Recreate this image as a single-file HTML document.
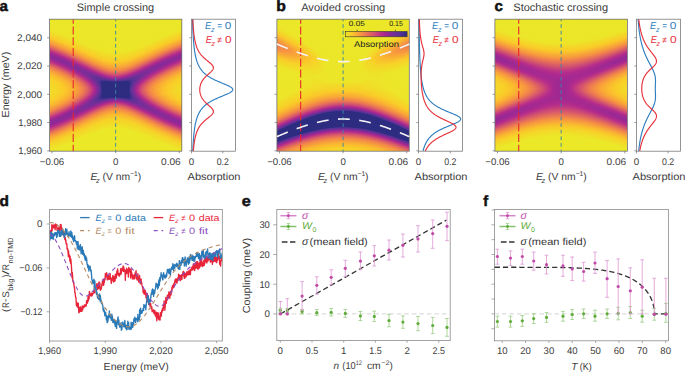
<!DOCTYPE html>
<html><head><meta charset="utf-8"><style>
html,body{margin:0;padding:0;background:#fff}
body{width:685px;height:372px;overflow:hidden;position:relative;font-family:"Liberation Sans",sans-serif}
.hm{position:absolute;display:flex}
.hm i{display:block;width:1px;height:100%;flex:none}
svg{position:absolute;left:0;top:0}
svg text{font-family:"Liberation Sans",sans-serif;text-rendering:geometricPrecision}
</style></head><body>
<div class="hm" style="left:50px;top:19px;width:132px;height:132px"><i style="background:linear-gradient(#ebe828 0.0px,#ece528 11.0px,#facc28 18.5px,#f9a339 23.5px,#ed7a52 27.0px,#c33c7f 31.5px,#b12a8d 33.0px,#922896 35.5px,#8a2a96 37.5px,#932895 39.5px,#b42a8c 42.0px,#e56d5b 47.0px,#f59044 50.0px,#faba2f 55.0px,#f7d128 60.0px,#f1dd28 70.0px,#f6d428 80.0px,#fac22c 85.0px,#f7983f 90.5px,#eb7754 93.5px,#c23b80 98.0px,#b02a8d 99.5px,#912896 102.0px,#8a2a96 104.0px,#942895 106.0px,#b52b8c 108.5px,#e77059 113.5px,#f59044 116.0px,#fabc2e 120.5px,#f6d428 124.5px,#ebe828 132.0px)"></i><i style="background:linear-gradient(#ebe828 0.0px,#ede528 11.5px,#facc28 19.0px,#f89c3d 24.5px,#ec7953 27.5px,#c23a81 32.0px,#af2a8d 33.5px,#912896 36.0px,#8a2a96 38.0px,#942895 40.0px,#b52b8b 42.5px,#e2685f 47.0px,#f48c46 50.0px,#fab730 55.0px,#f8d028 60.0px,#f1dc28 69.5px,#f6d428 79.5px,#fac22c 84.5px,#f7993f 90.0px,#eb7853 93.0px,#c33c7f 97.5px,#b22a8d 99.0px,#922896 101.5px,#8a2a96 103.5px,#922896 105.5px,#b32a8c 108.0px,#e2675f 112.5px,#f48e45 115.5px,#fabb2f 120.0px,#f6d328 124.0px,#ebe828 132.0px)"></i><i style="background:linear-gradient(#ebe828 0.0px,#ede528 12.0px,#facb28 19.5px,#f79b3d 25.0px,#eb7754 28.0px,#c03982 32.5px,#b52b8b 33.5px,#942895 36.0px,#8a2a96 38.0px,#912896 40.0px,#b62c8a 43.0px,#e3695e 47.5px,#f48d46 50.5px,#fab830 55.5px,#f8cf28 60.5px,#f2db28 70.0px,#f7d228 79.5px,#fac02d 84.5px,#f69541 90.0px,#e87357 93.0px,#bf3783 97.5px,#b32a8c 98.5px,#932895 101.0px,#8a2a96 103.0px,#912896 105.0px,#b12a8d 107.5px,#e16660 112.0px,#f48d46 115.0px,#faba2f 119.5px,#f6d328 123.5px,#ebe828 131.5px,#ebe828 132.0px)"></i><i style="background:linear-gradient(#ebe828 0.0px,#ede428 12.5px,#faca29 20.0px,#f79a3e 25.5px,#ea7655 28.5px,#bf3783 33.0px,#b32a8c 34.0px,#932896 36.5px,#892a96 38.5px,#912896 40.5px,#b72e8a 43.5px,#e36a5d 48.0px,#f48d45 51.0px,#fab830 56.0px,#f8cf28 61.0px,#f2da28 70.5px,#f8d028 80.0px,#faba2f 85.0px,#f59044 90.0px,#e2675f 93.5px,#b52b8c 98.0px,#902896 101.0px,#8a2a96 103.0px,#952895 105.0px,#b62c8a 107.5px,#e46b5c 112.0px,#f59143 115.0px,#fabd2e 119.5px,#f6d428 123.5px,#ebe828 131.0px,#ebe828 132.0px)"></i><i style="background:linear-gradient(#ebe828 0.0px,#ece528 12.5px,#facc28 20.0px,#f9a339 25.0px,#ed7b51 28.5px,#c33d7f 33.0px,#b12a8d 34.5px,#912896 37.0px,#892a96 39.0px,#922896 41.0px,#b22a8d 43.5px,#e06461 48.0px,#f48e45 51.5px,#fab830 56.5px,#f8cf28 61.5px,#f3d928 71.0px,#f9ce28 80.0px,#fab332 85.5px,#f3864a 90.5px,#d14e73 95.0px,#b52c8b 97.5px,#902896 100.5px,#892a96 102.5px,#942895 104.5px,#b52b8b 107.0px,#e36a5d 111.5px,#f59044 114.5px,#fabc2e 119.0px,#f6d428 123.0px,#ebe828 130.5px,#ebe828 132.0px)"></i><i style="background:linear-gradient(#ebe828 0.0px,#ede528 13.0px,#facc28 20.5px,#f89d3c 26.0px,#ec7952 29.0px,#c23b80 33.5px,#b02a8d 35.0px,#902896 37.5px,#892a96 39.5px,#932896 41.5px,#b32a8c 44.0px,#e16560 48.5px,#f38948 51.5px,#fab531 56.5px,#f9cf28 62.0px,#f4d828 71.0px,#facd28 80.0px,#fab033 85.5px,#f1814d 90.5px,#cd4877 95.0px,#b02a8d 97.5px,#912896 100.0px,#892a96 102.0px,#922896 104.0px,#b32a8c 106.5px,#e2685e 111.0px,#f58f45 114.0px,#fabb2f 118.5px,#f6d328 122.5px,#ebe828 130.5px,#ebe828 132.0px)"></i><i style="background:linear-gradient(#ebe828 0.0px,#ede528 13.5px,#facb28 21.0px,#f89c3d 26.5px,#eb7853 29.5px,#c13a81 34.0px,#b52c8b 35.0px,#902896 38.0px,#892a96 40.0px,#932895 42.0px,#b42a8c 44.5px,#e1665f 49.0px,#f58f44 52.5px,#fab830 57.5px,#f8cf28 63.0px,#f4d728 72.0px,#facb29 80.0px,#faac35 85.5px,#ee7c50 90.5px,#c8427b 95.0px,#b12a8d 97.0px,#912896 99.5px,#892a96 101.5px,#912896 103.5px,#b22a8d 106.0px,#e1675f 110.5px,#f48d45 113.5px,#faba2f 118.0px,#f6d328 122.0px,#ebe828 130.0px,#ebe828 132.0px)"></i><i style="background:linear-gradient(#ebe828 0.0px,#ece628 13.5px,#faca29 21.5px,#f79b3e 27.0px,#eb7754 30.0px,#c03882 34.5px,#b42a8c 35.5px,#932895 38.0px,#892a96 40.0px,#8f2896 42.0px,#b52b8b 45.0px,#e2675f 49.5px,#f59044 53.0px,#fab830 58.0px,#f9cf28 63.5px,#f5d528 72.5px,#fac829 80.0px,#faa836 85.5px,#ee7d50 90.0px,#c9437b 94.5px,#b22a8d 96.5px,#922896 99.0px,#892a96 101.0px,#902896 103.0px,#b72d8a 106.0px,#e56c5b 110.5px,#f59243 113.5px,#fac12c 118.5px,#f3d828 123.0px,#ebe828 130.0px,#ebe828 132.0px)"></i><i style="background:linear-gradient(#ebe828 0.0px,#ece528 14.0px,#faca29 22.0px,#f79a3e 27.5px,#ea7655 30.5px,#bf3783 35.0px,#b32a8c 36.0px,#922896 38.5px,#882a96 40.5px,#902896 42.5px,#b62c8b 45.5px,#e2685e 50.0px,#f59044 53.5px,#fab830 58.5px,#f9ce28 64.0px,#f6d428 73.0px,#fac82a 79.5px,#faa836 85.0px,#ee7e4f 89.5px,#ca447a 94.0px,#b32a8c 96.0px,#922896 98.5px,#892a96 100.5px,#902896 102.5px,#b62c8b 105.5px,#e46b5c 110.0px,#f59143 113.0px,#fabd2e 117.5px,#f6d428 121.5px,#ebe828 129.0px,#ebe828 132.0px)"></i><i style="background:linear-gradient(#ebe828 0.0px,#ede528 14.5px,#facc28 22.0px,#f89e3c 27.5px,#ed7b51 30.5px,#c33d7f 35.0px,#b12a8d 36.5px,#912896 39.0px,#882a97 41.0px,#902896 43.0px,#b62d8a 46.0px,#e3695e 50.5px,#f48b47 53.5px,#fab431 58.5px,#facc28 64.0px,#f7d228 72.5px,#fac72a 79.0px,#faa836 84.5px,#ef7e4f 89.0px,#ca4579 93.5px,#b42a8c 95.5px,#932896 98.0px,#882a96 100.0px,#8f2996 102.0px,#ad2a8e 104.5px,#ba3287 105.5px,#e77158 110.0px,#f59044 112.5px,#fabc2e 117.0px,#f6d428 121.0px,#ebe828 129.0px,#ebe828 132.0px)"></i><i style="background:linear-gradient(#ebe828 0.0px,#ede528 15.0px,#facc28 22.5px,#f89d3c 28.0px,#ec7a52 31.0px,#c23b80 35.5px,#b02a8d 37.0px,#902896 39.5px,#882a97 41.5px,#912896 43.5px,#b72d8a 46.5px,#e3695d 51.0px,#f48c47 54.0px,#fab431 59.0px,#facd28 65.0px,#f8d028 73.5px,#fac22c 79.5px,#f9a03a 85.0px,#ec7953 89.0px,#c53f7e 93.5px,#b42a8c 95.0px,#8f2996 98.0px,#882a97 100.0px,#922896 102.0px,#b42a8c 104.5px,#e3695e 109.0px,#f58f45 112.0px,#fabb2f 116.5px,#f6d328 120.5px,#ebe828 128.5px,#ebe828 132.0px)"></i><i style="background:linear-gradient(#ebe828 0.0px,#ede528 15.5px,#facb28 23.0px,#f89c3d 28.5px,#ec7953 31.5px,#c23a81 36.0px,#af2a8d 37.5px,#8f2896 40.0px,#882a97 42.0px,#912896 44.0px,#b12a8d 46.5px,#df6362 51.0px,#f48c46 54.5px,#fab332 59.5px,#facc28 65.5px,#f9ce28 74.0px,#fabd2e 80.0px,#f7983f 85.5px,#ec7952 88.5px,#c63f7d 93.0px,#b52b8b 94.5px,#8f2896 97.5px,#882a97 99.5px,#912896 101.5px,#b22a8c 104.0px,#e2675f 108.5px,#f48e45 111.5px,#faba2f 116.0px,#f6d328 120.0px,#ebe828 128.0px,#ebe828 132.0px)"></i><i style="background:linear-gradient(#ebe828 0.0px,#ece628 15.5px,#facb29 23.5px,#f79b3d 29.0px,#eb7853 32.0px,#c13981 36.5px,#b52b8b 37.5px,#8f2996 40.5px,#872a97 42.5px,#912896 44.5px,#b22a8d 47.0px,#e06361 51.5px,#f48c46 55.0px,#fab332 60.0px,#faca29 66.0px,#facd28 74.0px,#faba2f 80.0px,#f69342 85.5px,#e97356 88.5px,#c03982 93.0px,#b52c8b 94.0px,#8f2896 97.0px,#872a97 99.0px,#902896 101.0px,#b12a8d 103.5px,#e1665f 108.0px,#f48d46 111.0px,#faba2f 115.5px,#f6d328 119.5px,#ebe828 127.5px,#ebe828 132.0px)"></i><i style="background:linear-gradient(#ebe828 0.0px,#ece528 16.0px,#faca29 24.0px,#f79a3e 29.5px,#eb7754 32.5px,#c03882 37.0px,#b42a8c 38.0px,#922896 40.5px,#872a97 42.5px,#8d2996 44.5px,#aa298f 47.0px,#b82f89 48.0px,#e36a5d 52.5px,#f48c46 55.5px,#fab232 60.5px,#fac929 66.5px,#facb28 73.5px,#fab92f 79.5px,#f69342 85.0px,#e97456 88.0px,#c13981 92.5px,#af2a8e 94.0px,#8f2896 96.5px,#872a97 98.5px,#902896 100.5px,#b72d8a 103.5px,#e56c5b 108.0px,#f59243 111.0px,#fabd2e 115.5px,#f6d428 119.5px,#ebe828 127.5px,#ebe828 132.0px)"></i><i style="background:linear-gradient(#ebe828 0.0px,#ede528 16.5px,#faca29 24.5px,#f79a3e 30.0px,#ea7655 33.0px,#bf3783 37.5px,#b32a8c 38.5px,#912896 41.0px,#872a97 43.0px,#8d2996 45.0px,#ab298f 47.5px,#b82f88 48.5px,#e46a5d 53.0px,#f48c47 56.0px,#fab232 61.0px,#fac72a 67.0px,#fac929 73.5px,#fab631 79.5px,#f69342 84.5px,#e97456 87.5px,#c13a81 92.0px,#af2a8d 93.5px,#8f2896 96.0px,#872a97 98.0px,#8f2896 100.0px,#b62c8a 103.0px,#e46b5c 107.5px,#f59143 110.5px,#fabd2e 115.0px,#f6d428 119.0px,#ebe828 127.0px,#ebe828 132.0px)"></i><i style="background:linear-gradient(#ebe828 0.0px,#ede528 17.0px,#facc28 24.5px,#f89e3c 30.0px,#ed7b51 33.0px,#c43d7f 37.5px,#b22a8d 39.0px,#912896 41.5px,#872a97 43.5px,#8d2996 45.5px,#ab298f 48.0px,#b93088 49.0px,#e46a5d 53.5px,#f59044 57.0px,#fab631 62.5px,#fac72a 68.5px,#fac32b 75.0px,#faac35 80.5px,#f2844b 85.5px,#cc4878 90.5px,#b62d8a 92.5px,#8f2896 95.5px,#872a97 97.5px,#8e2996 99.5px,#b52b8b 102.5px,#e46a5d 107.0px,#f59044 110.0px,#fabc2e 114.5px,#f6d428 118.5px,#ebe828 126.5px,#ebe828 132.0px)"></i><i style="background:linear-gradient(#ebe828 0.0px,#ede528 17.5px,#facc28 25.0px,#f89d3c 30.5px,#ed7b51 33.5px,#c33d7f 38.0px,#b12a8d 39.5px,#902896 42.0px,#862a97 44.0px,#8d2996 46.0px,#ab298f 48.5px,#b93088 49.5px,#e46a5d 54.0px,#f59044 57.5px,#fab531 63.0px,#fac52b 69.0px,#fabf2d 75.5px,#faa538 81.0px,#ef7f4f 85.5px,#cd4877 90.0px,#b62d8a 92.0px,#8f2896 95.0px,#862a97 97.0px,#8e2996 99.0px,#ad2a8e 101.5px,#ba3287 102.5px,#e77158 107.0px,#f59044 109.5px,#fabb2f 114.0px,#f6d328 118.0px,#ebe828 126.0px,#ebe828 132.0px)"></i><i style="background:linear-gradient(#ebe828 0.0px,#ece628 17.5px,#facb28 25.5px,#f89d3c 31.0px,#ec7a52 34.0px,#c33c80 38.5px,#b02a8d 40.0px,#8f2896 42.5px,#862b97 44.5px,#912896 47.0px,#b32a8c 49.5px,#e06461 54.0px,#f48a47 57.5px,#fab133 63.0px,#fac22c 69.0px,#fabd2e 75.0px,#faa438 80.5px,#ef7e4f 85.0px,#cd4877 89.5px,#b02a8d 92.0px,#8f2896 94.5px,#862b97 96.5px,#8d2996 98.5px,#ac2a8e 101.0px,#b42a8c 101.5px,#e3695e 106.0px,#f58f45 109.0px,#fabf2d 114.0px,#f5d528 118.0px,#ebe828 125.5px,#ebe828 132.0px)"></i><i style="background:linear-gradient(#ebe828 0.0px,#ece528 18.0px,#facb28 26.0px,#f89c3d 31.5px,#ec7952 34.5px,#c23b80 39.0px,#af2a8d 40.5px,#8e2996 43.0px,#852b97 45.0px,#912896 47.5px,#b32a8c 50.0px,#e06461 54.5px,#f38a48 58.0px,#faad34 63.0px,#fabe2d 68.5px,#fabb2f 74.5px,#f9a339 80.0px,#ef7e4f 84.5px,#cc4877 89.0px,#b02a8d 91.5px,#8f2896 94.0px,#852b97 96.0px,#8c2996 98.0px,#ab298f 100.5px,#b93088 101.5px,#e66f59 106.0px,#f48e45 108.5px,#faba2f 113.0px,#f6d328 117.0px,#ebe828 125.0px,#ebe828 132.0px)"></i><i style="background:linear-gradient(#ebe828 0.0px,#ece528 18.5px,#facb29 26.5px,#f89c3d 32.0px,#ec7953 35.0px,#c13a81 39.5px,#b62c8b 40.5px,#8e2996 43.5px,#852b97 45.5px,#912896 48.0px,#b32a8c 50.5px,#e06362 55.0px,#f48e45 59.0px,#fab033 64.5px,#fabd2e 70.0px,#fab332 76.0px,#f69441 81.5px,#e87357 85.0px,#c13a81 89.5px,#af2a8d 91.0px,#8f2896 93.5px,#852b97 95.5px,#8c2996 97.5px,#aa298f 100.0px,#b82f88 101.0px,#e66e5a 105.5px,#f69342 108.5px,#fac22c 113.5px,#f4d828 118.0px,#ebe828 125.0px,#ebe828 132.0px)"></i><i style="background:linear-gradient(#ebe828 0.0px,#ede528 19.0px,#faca29 27.0px,#f79b3d 32.5px,#eb7853 35.5px,#c13a81 40.0px,#b52b8b 41.0px,#8d2996 44.0px,#852b97 46.0px,#912896 48.5px,#b32a8c 51.0px,#df6362 55.5px,#f48d46 59.5px,#faac34 64.5px,#fab92f 70.0px,#fab133 75.5px,#f69342 81.0px,#e87257 84.5px,#c13a81 89.0px,#af2a8d 90.5px,#8f2996 93.0px,#852b97 95.0px,#8b2996 97.0px,#a9298f 99.5px,#b82f89 100.5px,#e56e5a 105.0px,#f69342 108.0px,#fac12c 113.0px,#f4d828 117.5px,#ebe828 124.5px,#ebe828 132.0px)"></i><i style="background:linear-gradient(#ebe828 0.0px,#ede528 19.5px,#faca29 27.5px,#f79b3e 33.0px,#eb7754 36.0px,#c03982 40.5px,#b52b8b 41.5px,#8d2996 44.5px,#842b97 46.5px,#902896 49.0px,#b22a8c 51.5px,#df6262 56.0px,#f48c46 60.0px,#faaa35 65.0px,#fab631 70.5px,#faac35 76.0px,#f48e45 81.0px,#e46c5c 84.5px,#bb3386 89.0px,#af2a8d 90.0px,#8e2996 92.5px,#842b97 94.5px,#8a2996 96.5px,#a8298f 99.0px,#b72e89 100.0px,#e56d5b 104.5px,#f59243 107.5px,#fac12c 112.5px,#f4d828 117.0px,#ebe828 124.5px,#ebe828 132.0px)"></i><i style="background:linear-gradient(#ebe828 0.0px,#ede528 20.0px,#fac929 28.0px,#f79a3e 33.5px,#eb7754 36.5px,#c03882 41.0px,#b42a8c 42.0px,#912896 44.5px,#842b97 46.5px,#882a97 48.5px,#a32991 51.0px,#b22a8d 52.0px,#de6263 56.5px,#f48b47 60.5px,#faa836 65.5px,#fab232 71.0px,#faa537 76.5px,#f38948 81.0px,#d9596a 85.5px,#b62c8b 89.0px,#8e2996 92.0px,#842b97 94.0px,#8a2a96 96.0px,#a82990 98.5px,#b72d8a 99.5px,#e56d5b 104.0px,#f59243 107.0px,#fac12d 112.0px,#f4d728 116.5px,#ebe828 124.0px,#ebe828 132.0px)"></i><i style="background:linear-gradient(#ebe828 0.0px,#ece628 20.0px,#facc28 28.0px,#f89f3b 33.5px,#ee7d50 36.5px,#c53f7e 41.0px,#b32a8c 42.5px,#902896 45.0px,#842b97 47.0px,#882a97 49.0px,#a22991 51.5px,#b82e89 53.0px,#e2675f 57.5px,#f48d46 61.5px,#faa836 66.5px,#faae34 71.5px,#f89f3b 77.0px,#ef7f4f 81.5px,#d04c74 86.0px,#b52b8b 88.5px,#8e2996 91.5px,#832b97 94.0px,#922896 96.5px,#b62d8a 99.0px,#e56c5b 103.5px,#f59143 106.5px,#fabc2e 111.0px,#f6d328 115.0px,#ebe828 123.0px,#ebe828 132.0px)"></i><i style="background:linear-gradient(#ebe828 0.0px,#ece628 20.5px,#facc28 28.5px,#f89f3b 34.0px,#ea7655 37.5px,#bf3783 42.0px,#b32a8c 43.0px,#8f2896 45.5px,#832b97 47.5px,#872a97 49.5px,#a22991 52.0px,#b72e89 53.5px,#dd6064 57.5px,#f38849 61.5px,#f9a239 66.0px,#faaa35 71.0px,#f89d3c 76.5px,#ee7d50 81.0px,#cf4b74 85.5px,#b52b8b 88.0px,#8d2996 91.0px,#832b97 93.5px,#922896 96.0px,#b62c8a 98.5px,#e46c5c 103.0px,#f59143 106.0px,#fac02d 111.0px,#f4d728 115.5px,#ebe828 123.0px,#ebe828 132.0px)"></i><i style="background:linear-gradient(#ebe828 0.0px,#ece528 21.0px,#facc28 29.0px,#f89e3c 34.5px,#ea7655 38.0px,#bf3783 42.5px,#b22a8d 43.5px,#8f2996 46.0px,#822b97 48.0px,#862a97 50.0px,#a12991 52.5px,#b62d8a 54.0px,#dd5f65 58.0px,#f38a47 62.5px,#f9a13a 67.0px,#faa537 72.0px,#f69541 77.0px,#eb7754 81.0px,#ca447a 85.5px,#b42a8c 87.5px,#8c2996 90.5px,#822b97 93.0px,#912896 95.5px,#b52c8b 98.0px,#e46b5c 102.5px,#f59144 105.5px,#fabf2d 110.5px,#f4d728 115.0px,#ebe828 122.5px,#ebe828 132.0px)"></i><i style="background:linear-gradient(#ebe828 0.0px,#ece528 21.5px,#facb28 29.5px,#f89e3c 35.0px,#ed7c51 38.0px,#c43e7f 42.5px,#b22a8d 44.0px,#8e2996 46.5px,#822b97 48.5px,#862b97 50.5px,#a02992 53.0px,#b62c8b 54.5px,#e06362 59.0px,#f48c47 63.5px,#f89f3b 68.0px,#f9a03b 73.0px,#f48d46 77.5px,#e46c5c 81.5px,#be3684 86.0px,#b32a8c 87.0px,#8c2996 90.0px,#812c97 92.5px,#902896 95.0px,#b52b8b 97.5px,#e46b5c 102.0px,#f59044 105.0px,#fabf2d 110.0px,#f5d528 114.0px,#ebe828 122.0px,#ebe828 132.0px)"></i><i style="background:linear-gradient(#ebe828 0.0px,#ede528 22.0px,#facb28 30.0px,#f89d3c 35.5px,#ed7b51 38.5px,#c43d7f 43.0px,#b12a8d 44.5px,#8e2996 47.0px,#812c97 49.0px,#852b97 51.0px,#9f2992 53.5px,#b52b8b 55.0px,#df6263 59.5px,#f38948 64.0px,#f89c3d 68.5px,#f79a3e 73.5px,#f2844b 78.0px,#d5546d 83.0px,#b22a8d 86.5px,#8b2996 89.5px,#812c97 92.0px,#902896 94.5px,#b52b8b 97.0px,#e46a5d 101.5px,#f59044 104.5px,#fabf2d 109.5px,#f5d528 113.5px,#ebe828 121.5px,#ebe828 132.0px)"></i><i style="background:linear-gradient(#ebe828 0.0px,#ede528 22.5px,#facb28 30.5px,#f89d3c 36.0px,#ed7b51 39.0px,#c43d7f 43.5px,#b12a8d 45.0px,#8d2996 47.5px,#802c97 49.5px,#842b97 51.5px,#9e2992 54.0px,#b42a8c 55.5px,#de6064 60.0px,#f38749 64.5px,#f7983f 69.0px,#f69442 74.0px,#ed7b51 78.5px,#d04d73 83.0px,#b12a8d 86.0px,#8a2a96 89.0px,#802c97 91.5px,#8f2896 94.0px,#b42a8c 96.5px,#e36a5d 101.0px,#f59044 104.0px,#fabf2d 109.0px,#f5d428 113.0px,#ebe828 121.0px,#ebe828 132.0px)"></i><i style="background:linear-gradient(#ebe828 0.0px,#ede528 23.0px,#facb29 31.0px,#f89d3c 36.5px,#ed7b51 39.5px,#c33c7f 44.0px,#b02a8d 45.5px,#8c2996 48.0px,#7f2c97 50.5px,#8b2996 53.0px,#b32a8c 56.0px,#d95a69 60.0px,#f0814d 64.5px,#f69342 69.0px,#f59044 73.5px,#eb7853 78.0px,#cf4c74 82.5px,#b62c8a 85.0px,#892a96 88.5px,#7f2c97 91.0px,#8f2996 93.5px,#b42a8c 96.0px,#df6362 100.0px,#f38948 103.0px,#fab631 107.5px,#f7d228 112.0px,#ebe828 120.5px,#ebe828 132.0px)"></i><i style="background:linear-gradient(#ebe828 0.0px,#ece628 23.0px,#faca29 31.5px,#f89d3d 37.0px,#ed7a52 40.0px,#c33c80 44.5px,#b02a8d 46.0px,#8c2996 48.5px,#7e2c97 51.0px,#892a96 53.5px,#b12a8d 56.5px,#d8586b 60.5px,#ef7e4f 65.0px,#f48f45 69.5px,#f38948 74.0px,#e56e5a 78.5px,#c53e7e 83.0px,#b52b8b 84.5px,#8c2996 87.5px,#7e2c97 90.0px,#852b97 92.0px,#a32991 94.5px,#b42a8c 95.5px,#df6262 99.5px,#f38948 102.5px,#fab631 107.0px,#f7d228 111.5px,#ebe828 120.0px,#ebe828 132.0px)"></i><i style="background:linear-gradient(#ebe828 0.0px,#ece628 23.5px,#faca29 32.0px,#f89c3d 37.5px,#ec7a52 40.5px,#c33c80 45.0px,#af2a8d 46.5px,#8b2996 49.0px,#7d2d97 51.5px,#882a97 54.0px,#b62c8a 57.5px,#da5b68 61.5px,#ee7e4f 66.0px,#f38a48 70.5px,#ef7f4e 75.0px,#db5d66 79.5px,#b93088 83.5px,#ac2a8e 84.5px,#862a97 87.5px,#7d2d97 90.0px,#8e2996 92.5px,#b32a8c 95.0px,#df6262 99.0px,#f38948 102.0px,#fab631 106.5px,#f7d228 111.0px,#ebe828 119.5px,#ebe828 132.0px)"></i><i style="background:linear-gradient(#ebe828 0.0px,#ece528 24.0px,#faca29 32.5px,#f89c3d 38.0px,#ec7a52 41.0px,#c23b80 45.5px,#af2a8e 47.0px,#8a2996 49.5px,#7c2d97 52.0px,#872a97 54.5px,#b42a8c 58.0px,#d8586a 62.0px,#ec7a52 66.5px,#f2844b 71.0px,#ea7654 75.5px,#d35170 80.0px,#b12a8d 83.5px,#892a96 86.5px,#7c2d97 89.0px,#832b97 91.0px,#a22991 93.5px,#b32a8c 94.5px,#df6263 98.5px,#f38948 101.5px,#fab531 106.0px,#f7d228 110.5px,#ebe828 119.0px,#ebe828 132.0px)"></i><i style="background:linear-gradient(#ebe828 0.0px,#ece528 24.5px,#facc28 32.5px,#f9a13a 38.0px,#ec7a52 41.5px,#c23b80 46.0px,#b62c8a 47.0px,#8a2a96 50.0px,#7b2d97 52.5px,#852b97 55.0px,#ab298f 58.0px,#b82f89 59.0px,#d95b68 63.0px,#eb7853 67.5px,#ee7e4f 71.5px,#e77059 75.5px,#ce4976 80.0px,#b62c8b 82.5px,#882a97 86.0px,#7b2d97 88.5px,#832b97 90.5px,#a12991 93.0px,#b22a8d 94.0px,#de6263 98.0px,#f48e45 101.5px,#fab92f 106.0px,#f7d228 110.0px,#ebe828 118.5px,#ebe828 132.0px)"></i><i style="background:linear-gradient(#ebe828 0.0px,#ede528 25.0px,#facc28 33.0px,#f9a03a 38.5px,#ec7952 42.0px,#c23b80 46.5px,#b62c8b 47.5px,#892a96 50.5px,#7a2d97 53.0px,#832b97 55.5px,#a8298f 58.5px,#bb3386 60.0px,#da5c67 64.0px,#e97456 68.0px,#eb7754 72.0px,#e16560 76.0px,#c33c80 80.5px,#b42a8c 82.0px,#862b97 85.5px,#7a2d97 88.0px,#822b97 90.0px,#a12991 92.5px,#b22a8d 93.5px,#de6163 97.5px,#f48e45 101.0px,#fab92f 105.5px,#f7d128 109.5px,#ebe828 118.0px,#ebe828 132.0px)"></i><i style="background:linear-gradient(#ebe828 0.0px,#ede528 25.5px,#facc28 33.5px,#f9a03a 39.0px,#ec7953 42.5px,#c23b81 47.0px,#b52c8b 48.0px,#882a96 51.0px,#782e97 53.5px,#822c97 56.0px,#a52990 59.0px,#b42a8c 60.0px,#d5546d 64.0px,#e66e5a 68.5px,#e66f59 72.5px,#d7576c 77.0px,#b72d8a 81.0px,#8e2996 84.0px,#7a2d97 86.5px,#7a2d97 88.5px,#912896 91.0px,#b12a8d 93.0px,#de6163 97.0px,#f48e45 100.5px,#fab930 105.0px,#f7d128 109.0px,#ebe828 117.5px,#ebe828 132.0px)"></i><i style="background:linear-gradient(#ebe828 0.0px,#ede528 26.0px,#facc28 34.0px,#f9a03b 39.5px,#ec7953 43.0px,#c13a81 47.5px,#b52b8b 48.5px,#872a97 51.5px,#772e97 54.0px,#7f2c97 56.5px,#a22991 59.5px,#b72d8a 61.0px,#d5556d 65.0px,#e2685e 69.0px,#e1665f 73.0px,#d14f72 77.0px,#b42b8c 80.5px,#862a97 84.0px,#772e97 86.5px,#7c2d97 88.5px,#982894 91.0px,#b12a8d 92.5px,#de6163 96.5px,#f48e45 100.0px,#fab830 104.5px,#f6d328 109.0px,#ebe828 117.5px,#ebe828 132.0px)"></i><i style="background:linear-gradient(#ebe828 0.0px,#ece628 26.0px,#facc28 34.5px,#f9a03b 40.0px,#ec7953 43.5px,#c13a81 48.0px,#b52b8b 49.0px,#872a97 52.0px,#752e98 54.5px,#7d2d97 57.0px,#9f2992 60.0px,#b42a8c 61.5px,#d35170 65.5px,#df6263 69.5px,#db5d66 73.5px,#c8427b 77.5px,#b12a8d 80.0px,#842b97 83.5px,#752e98 86.0px,#7b2d97 88.0px,#972894 90.5px,#b02a8d 92.0px,#d95a69 95.5px,#f38749 99.0px,#fab431 103.5px,#f7d128 108.0px,#ebe828 117.0px,#ebe828 132.0px)"></i><i style="background:linear-gradient(#ebe828 0.0px,#ece628 26.5px,#facb28 35.0px,#f89f3b 40.5px,#eb7853 44.0px,#c7417c 48.0px,#b42b8c 49.5px,#862b97 52.5px,#742f98 55.0px,#7b2d97 57.5px,#9b2993 60.5px,#b62c8a 62.5px,#d24f72 66.5px,#da5c68 70.5px,#d35170 74.5px,#b82f88 78.5px,#ad2a8e 79.5px,#812c97 83.0px,#732f98 85.5px,#7a2d97 87.5px,#962895 90.0px,#b72e89 92.0px,#e2675f 96.0px,#f48d46 99.0px,#fab830 103.5px,#f7d328 108.0px,#ebe828 116.5px,#ebe828 132.0px)"></i><i style="background:linear-gradient(#ebe828 0.0px,#ece528 27.0px,#facb28 35.5px,#f89f3b 41.0px,#ef7e4f 44.0px,#c7417c 48.5px,#b42a8c 50.0px,#852b97 53.0px,#722f98 55.5px,#782e97 58.0px,#9e2992 61.5px,#b72e89 63.5px,#d04c74 67.5px,#d5546e 71.0px,#cd4877 74.5px,#af2a8d 78.5px,#7e2c97 82.5px,#712f98 85.0px,#782e97 87.0px,#952895 89.5px,#b72e8a 91.5px,#e2675f 95.5px,#f48d46 98.5px,#fab830 103.0px,#f7d228 107.5px,#ebe828 116.0px,#ebe828 132.0px)"></i><i style="background:linear-gradient(#ebe828 0.0px,#ede528 27.5px,#facb29 36.0px,#f89f3b 41.5px,#ef7e4f 44.5px,#c6407d 49.0px,#b42a8c 50.5px,#832b97 53.5px,#703098 56.0px,#752e98 58.5px,#9a2894 62.0px,#b72e89 64.5px,#cd4877 68.5px,#ce4a75 72.0px,#c03982 75.5px,#b02a8d 77.5px,#802c97 81.5px,#703098 84.0px,#732f98 86.0px,#8d2996 88.5px,#b72d8a 91.0px,#e2675f 95.0px,#f48c46 98.0px,#fab730 102.5px,#f7d228 107.0px,#ebe828 116.0px,#ebe828 132.0px)"></i><i style="background:linear-gradient(#ebe828 0.0px,#ede528 28.0px,#faca29 36.5px,#f89e3b 42.0px,#eb7754 45.5px,#c6407d 49.5px,#b32a8c 51.0px,#822b97 54.0px,#6e3098 56.5px,#722f98 59.0px,#952895 62.5px,#b72d8a 65.5px,#c7417c 69.0px,#c6407d 72.5px,#b52b8b 76.0px,#862a97 80.0px,#6e3098 83.0px,#712f98 85.5px,#8c2996 88.0px,#b62d8a 90.5px,#e1665f 94.5px,#f48c46 97.5px,#fab730 102.0px,#f7d228 106.5px,#ebe828 115.5px,#ebe828 132.0px)"></i><i style="background:linear-gradient(#ebe828 0.0px,#ece628 28.0px,#facd28 36.5px,#f9a339 42.0px,#ee7d50 45.5px,#cc4778 49.5px,#b22a8d 51.5px,#812c97 54.5px,#6c3098 57.0px,#6f3098 59.5px,#952895 63.5px,#b72e89 67.0px,#c13a81 70.5px,#b93088 74.0px,#a9298f 76.0px,#7d2d97 80.0px,#6c3098 82.5px,#6f3098 85.0px,#8b2996 87.5px,#b62c8b 90.0px,#e16660 94.0px,#f48c47 97.0px,#fab631 101.5px,#f7d228 106.0px,#ebe828 115.0px,#ebe828 132.0px)"></i><i style="background:linear-gradient(#ebe828 0.0px,#ece628 28.5px,#facc28 37.0px,#f9a239 42.5px,#ee7d50 46.0px,#cb4678 50.0px,#b12a8d 52.0px,#7f2c97 55.0px,#6a3097 57.5px,#6b3098 60.0px,#8f2896 64.0px,#b32a8c 68.0px,#b82f88 71.5px,#af2a8e 74.0px,#822b97 78.5px,#6a3097 81.5px,#6b3098 84.0px,#822b97 86.5px,#ac2a8e 89.0px,#b52b8b 89.5px,#e16560 93.5px,#f48b47 96.5px,#faba2f 101.5px,#f6d328 106.0px,#ebe828 115.0px,#ebe828 132.0px)"></i><i style="background:linear-gradient(#ebe828 0.0px,#ece528 29.0px,#facc28 37.5px,#f9a239 43.0px,#ee7c50 46.5px,#cb4679 50.5px,#b02a8d 52.5px,#7e2c97 55.5px,#6a3097 57.5px,#663197 60.0px,#7a2d97 63.0px,#a32991 67.5px,#ae2a8e 70.5px,#a52990 73.5px,#7c2d97 78.0px,#663197 81.0px,#683097 83.5px,#812c97 86.0px,#b42a8c 89.0px,#dc5e66 92.5px,#f48b47 96.0px,#fab92f 101.0px,#f6d328 105.5px,#ebe828 114.5px,#ebe828 132.0px)"></i><i style="background:linear-gradient(#ebe828 0.0px,#ede528 29.5px,#facb28 38.0px,#f9a13a 43.5px,#ed7c51 47.0px,#ca4579 51.0px,#af2a8d 53.0px,#832b97 55.5px,#673097 58.0px,#623196 60.5px,#732f98 63.5px,#9c2993 68.5px,#a02992 71.5px,#8c2996 75.0px,#673097 79.5px,#623196 82.0px,#722f98 84.5px,#a02992 87.5px,#b32a8c 88.5px,#dc5e66 92.0px,#f38a47 95.5px,#fab930 100.5px,#f7d228 105.0px,#ebe828 114.0px,#ebe828 132.0px)"></i><i style="background:linear-gradient(#ebe828 0.0px,#ece628 29.5px,#facb28 38.5px,#f9a13a 44.0px,#ed7b51 47.5px,#ca447a 51.5px,#b62d8a 53.0px,#892a96 55.5px,#683097 58.0px,#5d3196 60.5px,#693097 63.5px,#8e2996 68.5px,#922896 71.5px,#802c97 75.0px,#5f3196 79.5px,#603196 82.0px,#762e98 84.5px,#a8298f 87.5px,#b93088 88.5px,#e06461 92.0px,#f38948 95.0px,#fab830 100.0px,#f7d228 104.5px,#ebe828 113.5px,#ebe828 132.0px)"></i><i style="background:linear-gradient(#ebe828 0.0px,#ece528 30.0px,#faca29 39.0px,#f79b3d 45.0px,#ed7a52 48.0px,#c9437b 52.0px,#b52c8b 53.5px,#872a97 56.0px,#653197 58.5px,#593195 61.0px,#633196 64.0px,#822b97 69.0px,#832b97 72.0px,#593195 79.5px,#5f3196 82.0px,#7b2d97 84.5px,#a72990 87.0px,#b82f88 88.0px,#df6362 91.5px,#f48e45 95.0px,#fabb2f 100.0px,#f6d328 104.5px,#ebe828 113.5px,#ebe828 132.0px)"></i><i style="background:linear-gradient(#ebe828 0.0px,#ede528 30.5px,#faca29 39.5px,#f79b3e 45.5px,#ec7952 48.5px,#c8427b 52.5px,#b42a8c 54.0px,#852b97 56.5px,#623196 59.0px,#543294 61.5px,#5b3196 64.5px,#752e98 69.5px,#732f98 72.5px,#543295 78.5px,#583195 81.0px,#702f98 83.5px,#9b2993 86.0px,#b72e89 87.5px,#df6263 91.0px,#f48d45 94.5px,#fabb2f 99.5px,#f6d328 104.0px,#ebe828 113.0px,#ebe828 132.0px)"></i><i style="background:linear-gradient(#ebe828 0.0px,#ede528 31.0px,#facc28 39.5px,#f89e3b 45.5px,#eb7853 49.0px,#c7417c 53.0px,#b32a8c 54.5px,#822b97 57.0px,#5e3196 59.5px,#4b3191 62.5px,#673097 70.0px,#613196 73.5px,#4a3191 78.5px,#5c3196 81.5px,#7d2c97 84.0px,#ad2a8e 86.5px,#bd3585 87.5px,#e2685e 91.0px,#f48c46 94.0px,#faba2f 99.0px,#f6d328 103.5px,#ebe828 112.5px,#ebe828 132.0px)"></i><i style="background:linear-gradient(#ebe828 0.0px,#ece528 31.0px,#facb28 40.0px,#f89d3c 46.0px,#eb7754 49.5px,#c63f7d 53.5px,#b02a8d 55.0px,#882a96 57.0px,#603196 59.5px,#43308e 62.0px,#3b2e8a 63.5px,#483190 66.0px,#563295 68.5px,#583195 72.0px,#4a3191 75.0px,#3b2e8a 77.5px,#412f8c 79.0px,#633197 82.0px,#962895 85.0px,#b52b8b 86.5px,#dd6064 90.0px,#f48b47 93.5px,#fab930 98.5px,#f7d228 103.0px,#ebe828 112.5px,#ebe828 132.0px)"></i><i style="background:linear-gradient(#ebe828 0.0px,#ede528 31.5px,#faca29 40.5px,#f89c3d 46.5px,#ea7655 50.0px,#c43e7e 54.0px,#ae2a8e 55.5px,#852b97 57.5px,#5c3196 60.0px,#46308f 61.5px,#362d87 62.5px,#312d84 65.5px,#3b2e89 68.0px,#44308e 71.0px,#322d84 75.5px,#342d86 78.5px,#593195 81.0px,#802c97 83.5px,#b22a8c 86.0px,#d7576b 89.0px,#f38a47 93.0px,#fab830 98.0px,#f7d128 102.5px,#ebe828 112.0px,#ebe828 132.0px)"></i><i style="background:linear-gradient(#ebe828 0.0px,#ece628 31.5px,#facc28 40.5px,#f9a03b 46.5px,#ed7b51 50.0px,#c9447a 54.0px,#b52b8b 55.5px,#8b2996 57.5px,#573295 60.5px,#44308e 61.5px,#322d85 62.5px,#2c2c80 65.0px,#2e2c82 78.0px,#342d86 79.0px,#543294 80.5px,#862a97 83.5px,#b02a8d 85.5px,#d6566c 88.5px,#f38948 92.5px,#fab730 97.5px,#f7d128 102.0px,#ebe828 111.5px,#ebe828 132.0px)"></i><i style="background:linear-gradient(#ebe828 0.0px,#ede528 32.0px,#facb28 41.0px,#f89e3b 47.0px,#ec7953 50.5px,#c7417c 54.5px,#b22a8d 56.0px,#882a97 58.0px,#523294 61.0px,#372d87 62.0px,#2c2c80 63.5px,#2f2c82 78.5px,#332d85 79.0px,#553295 80.5px,#8c2996 83.5px,#b62c8a 85.5px,#da5b68 88.5px,#f38749 92.0px,#fab631 97.0px,#f7d228 102.0px,#ebe828 111.5px,#ebe828 132.0px)"></i><i style="background:linear-gradient(#ebe828 0.0px,#ece628 32.0px,#faca29 41.5px,#f89d3c 47.5px,#eb7754 51.0px,#c53f7e 55.0px,#af2a8e 56.5px,#832b97 58.5px,#543295 61.0px,#372d87 62.0px,#2c2c80 63.0px,#2d2c81 78.5px,#322d85 79.0px,#4f3294 80.0px,#882a97 83.0px,#b32a8c 85.0px,#d8596a 88.0px,#f48b47 92.0px,#fab830 97.0px,#f7d128 101.5px,#ebe828 111.0px,#ebe828 132.0px)"></i><i style="background:linear-gradient(#ebe828 0.0px,#ede528 32.5px,#facc28 41.5px,#f9a03b 47.5px,#ed7b51 51.0px,#ca447a 55.0px,#b52b8b 56.5px,#892a96 58.5px,#573295 61.0px,#4b3191 61.5px,#382e88 62.0px,#2c2c80 63.0px,#2d2c80 78.5px,#322d85 79.0px,#523294 80.0px,#8e2996 83.0px,#af2a8d 84.5px,#d7566c 87.5px,#f38948 91.5px,#fab630 96.5px,#f7d228 101.5px,#ebe828 111.0px,#ebe828 132.0px)"></i><i style="background:linear-gradient(#ebe828 0.0px,#ece628 32.5px,#faca29 42.0px,#f89e3c 48.0px,#ec7953 51.5px,#c7417c 55.5px,#b12a8d 57.0px,#842b97 59.0px,#503294 61.5px,#3b2e8a 62.0px,#302c83 62.5px,#2c2c80 64.5px,#2c2c80 78.5px,#332d85 79.0px,#543295 80.0px,#942895 83.0px,#b52b8b 84.5px,#da5b68 87.5px,#f38749 91.0px,#fab531 96.0px,#f7d128 101.0px,#ebe828 110.5px,#ebe828 132.0px)"></i><i style="background:linear-gradient(#ebe828 0.0px,#ede528 33.0px,#facc28 42.0px,#f9a03a 48.0px,#ed7c51 51.5px,#cb4579 55.5px,#b62c8b 57.0px,#892a96 59.0px,#533294 61.5px,#312d83 62.5px,#2c2c80 63.5px,#2d2c81 78.5px,#342d86 79.0px,#493191 79.5px,#772e97 81.5px,#a52990 83.5px,#b93088 84.5px,#dc5e65 87.5px,#f38a48 91.0px,#fab730 96.0px,#f7d228 101.0px,#ebe828 110.5px,#ebe828 132.0px)"></i><i style="background:linear-gradient(#ebe828 0.0px,#ece528 33.0px,#faca29 42.5px,#f89e3c 48.5px,#ec7953 52.0px,#c7417c 56.0px,#b12a8d 57.5px,#822b97 59.5px,#553295 61.5px,#312d84 62.5px,#2c2c80 63.5px,#2d2c81 78.5px,#372d87 79.0px,#4e3293 79.5px,#872a97 82.0px,#b52b8b 84.0px,#da5b68 87.0px,#f38749 90.5px,#fab531 95.5px,#f7d128 100.5px,#ebe828 110.5px,#ebe828 132.0px)"></i><i style="background:linear-gradient(#ebe828 0.0px,#ece628 33.0px,#facb28 42.5px,#f9a03b 48.5px,#ed7c51 52.0px,#ca457a 56.0px,#b52b8b 57.5px,#862a97 59.5px,#583195 61.5px,#493190 62.0px,#332d85 62.5px,#2c2c80 63.0px,#2e2c82 78.5px,#3b2e89 79.0px,#523294 79.5px,#8c2996 82.0px,#af2a8d 83.5px,#d25071 86.0px,#f2844b 90.0px,#fab232 95.0px,#f8d028 100.0px,#ebe828 110.0px,#ebe828 132.0px)"></i><i style="background:linear-gradient(#ebe828 0.0px,#ede528 33.5px,#facc28 42.5px,#f9a13a 48.5px,#ef7e4f 52.0px,#cd4877 56.0px,#ae2a8e 58.0px,#7e2c97 60.0px,#4d3293 62.0px,#342d86 62.5px,#2c2c80 63.0px,#2c2c80 78.0px,#2f2c82 78.5px,#543295 79.5px,#902896 82.0px,#b32a8c 83.5px,#d95a69 86.5px,#f2864a 90.0px,#fab432 95.0px,#f8d128 100.0px,#ebe828 110.0px,#ebe828 132.0px)"></i><i style="background:linear-gradient(#ebe828 0.0px,#ece528 33.5px,#faca29 43.0px,#f89e3b 49.0px,#ec7a52 52.5px,#c8427b 56.5px,#b22a8d 58.0px,#822c97 60.0px,#513294 62.0px,#372e87 62.5px,#2c2c80 63.0px,#2c2c80 78.0px,#302d83 78.5px,#563295 79.5px,#932895 82.0px,#b62c8a 83.5px,#db5c67 86.5px,#f38849 90.0px,#fab531 95.0px,#f7d128 100.0px,#ebe828 110.0px,#ebe828 132.0px)"></i><i style="background:linear-gradient(#ebe828 0.0px,#ece528 33.5px,#facb29 43.0px,#f89f3b 49.0px,#ed7c51 52.5px,#ca457a 56.5px,#b42a8c 58.0px,#842b97 60.0px,#533294 62.0px,#3a2e89 62.5px,#2d2c81 63.0px,#2c2c80 78.0px,#312d84 78.5px,#583195 79.5px,#962895 82.0px,#b82f89 83.5px,#dc5e66 86.5px,#f38948 90.0px,#fab631 95.0px,#f7d128 100.0px,#ebe828 110.0px,#ebe828 132.0px)"></i><i style="background:linear-gradient(#ebe828 0.0px,#ece528 33.5px,#facb28 43.0px,#f9a03a 49.0px,#ee7d50 52.5px,#cb4679 56.5px,#b62c8b 58.0px,#862b97 60.0px,#543295 62.0px,#3c2e8a 62.5px,#2d2c81 63.0px,#2c2c80 78.0px,#322d84 78.5px,#493191 79.0px,#722f98 80.5px,#a42990 82.5px,#b93088 83.5px,#dd5f65 86.5px,#f38a47 90.0px,#fab631 95.0px,#f7d228 100.0px,#ebe828 110.0px,#ebe828 132.0px)"></i><i style="background:linear-gradient(#ebe828 0.0px,#ece628 33.5px,#facb28 43.0px,#f9a13a 49.0px,#ee7d50 52.5px,#cc4778 56.5px,#b72d8a 58.0px,#872a97 60.0px,#553295 62.0px,#3e2f8b 62.5px,#2e2c81 63.0px,#2c2c80 78.0px,#322d85 78.5px,#4b3191 79.0px,#802c97 81.0px,#b22a8d 83.0px,#d4526f 85.5px,#f2854a 89.5px,#fab332 94.5px,#f8d028 99.5px,#ebe828 109.5px,#ebe828 132.0px)"></i><i style="background:linear-gradient(#ebe828 0.0px,#ece628 33.5px,#facb28 43.0px,#f9a13a 49.0px,#ee7e4f 52.5px,#cc4778 56.5px,#b72e8a 58.0px,#942895 59.5px,#623196 61.5px,#553295 62.0px,#2e2c82 63.0px,#2c2c80 78.0px,#322d85 78.5px,#4c3192 79.0px,#812c97 81.0px,#b22a8d 83.0px,#d4526f 85.5px,#f2864a 89.5px,#fab332 94.5px,#f8d028 99.5px,#ebe828 109.5px,#ebe828 132.0px)"></i><i style="background:linear-gradient(#ebe828 0.0px,#ece628 33.5px,#facb28 43.0px,#f9a13a 49.0px,#ee7d4f 52.5px,#cc4778 56.5px,#b72d8a 58.0px,#872a97 60.0px,#553295 62.0px,#3e2f8b 62.5px,#2e2c81 63.0px,#2c2c80 78.0px,#322d85 78.5px,#4b3192 79.0px,#812c97 81.0px,#b22a8d 83.0px,#d4526f 85.5px,#f2864a 89.5px,#fab332 94.5px,#f8d028 99.5px,#ebe828 109.5px,#ebe828 132.0px)"></i><i style="background:linear-gradient(#ebe828 0.0px,#ece628 33.5px,#facb28 43.0px,#f9a03a 49.0px,#ee7d50 52.5px,#cb4678 56.5px,#b62c8a 58.0px,#862a97 60.0px,#543295 62.0px,#3d2f8a 62.5px,#2e2c81 63.0px,#2c2c80 78.0px,#322d84 78.5px,#4a3191 79.0px,#732f98 80.5px,#a52990 82.5px,#b12a8d 83.0px,#d35270 85.5px,#f2854a 89.5px,#fab332 94.5px,#f8d028 99.5px,#ebe828 109.5px,#ebe828 132.0px)"></i><i style="background:linear-gradient(#ebe828 0.0px,#ece528 33.5px,#facb28 43.0px,#f9a03b 49.0px,#ed7c51 52.5px,#ca4579 56.5px,#b52b8b 58.0px,#852b97 60.0px,#533294 62.0px,#3b2e89 62.5px,#2d2c81 63.0px,#2c2c80 78.0px,#312d84 78.5px,#473090 79.0px,#653197 80.0px,#972894 82.0px,#af2a8d 83.0px,#d25071 85.5px,#f2844b 89.5px,#fab232 94.5px,#f8d028 99.5px,#ebe828 109.5px,#ebe828 132.0px)"></i><i style="background:linear-gradient(#ebe828 0.0px,#ece528 33.5px,#faca29 43.0px,#f89f3b 49.0px,#ed7b52 52.5px,#c9437b 56.5px,#b32a8c 58.0px,#822b97 60.0px,#513294 62.0px,#382e88 62.5px,#2c2c80 63.0px,#2c2c80 78.0px,#302d83 78.5px,#573295 79.5px,#942895 82.0px,#b72d8a 83.5px,#d6566c 86.0px,#f38848 90.0px,#fab531 95.0px,#f7d128 100.0px,#ebe828 110.0px,#ebe828 132.0px)"></i><i style="background:linear-gradient(#ebe828 0.0px,#ede528 33.5px,#faca29 43.0px,#f89d3c 49.0px,#ec7953 52.5px,#cd4977 56.0px,#af2a8d 58.0px,#7f2c97 60.0px,#4f3293 62.0px,#342d86 62.5px,#2c2c80 63.0px,#2c2c80 78.0px,#2f2c83 78.5px,#553295 79.5px,#912896 82.0px,#b42a8c 83.5px,#da5b68 86.5px,#f38749 90.0px,#fab431 95.0px,#f7d128 100.0px,#ebe828 110.0px,#ebe828 132.0px)"></i><i style="background:linear-gradient(#ebe828 0.0px,#ede528 33.5px,#facb28 42.5px,#f9a03a 48.5px,#ee7c50 52.0px,#cb4679 56.0px,#b62c8b 57.5px,#882a97 59.5px,#593195 61.5px,#4a3191 62.0px,#332d85 62.5px,#2c2c80 63.0px,#2e2c82 78.5px,#3c2e8a 79.0px,#523294 79.5px,#8d2996 82.0px,#b02a8d 83.5px,#d35170 86.0px,#f2854b 90.0px,#fab332 95.0px,#f8d028 100.0px,#ebe828 110.0px,#ebe828 132.0px)"></i><i style="background:linear-gradient(#ebe828 0.0px,#ece528 33.0px,#faca29 42.5px,#f89e3b 48.5px,#ec7a52 52.0px,#c8427b 56.0px,#b22a8d 57.5px,#842b97 59.5px,#563295 61.5px,#322d84 62.5px,#2c2c80 63.5px,#2e2c81 78.5px,#382e88 79.0px,#503294 79.5px,#892a96 82.0px,#b62d8a 84.0px,#db5c67 87.0px,#f38849 90.5px,#fab531 95.5px,#f7d128 100.5px,#ebe828 110.5px,#ebe828 132.0px)"></i><i style="background:linear-gradient(#ebe828 0.0px,#ede528 33.0px,#facc28 42.0px,#f9a13a 48.0px,#ee7d50 51.5px,#cc4678 55.5px,#b72d8a 57.0px,#8a2a96 59.0px,#533294 61.5px,#312d84 62.5px,#2c2c80 63.5px,#2d2c81 78.5px,#342d86 79.0px,#4b3191 79.5px,#792e97 81.5px,#9b2993 83.0px,#b22a8d 84.0px,#d8596a 87.0px,#f48b47 91.0px,#fab730 96.0px,#f7d228 101.0px,#ebe828 110.5px,#ebe828 132.0px)"></i><i style="background:linear-gradient(#ebe828 0.0px,#ece628 32.5px,#facb29 42.0px,#f89f3b 48.0px,#ec7a52 51.5px,#c8427b 55.5px,#b22a8c 57.0px,#852b97 59.0px,#513294 61.5px,#3c2e8a 62.0px,#302d83 62.5px,#2c2c80 64.0px,#2c2c80 78.5px,#332d85 79.0px,#553295 80.0px,#952895 83.0px,#b62d8a 84.5px,#da5c68 87.5px,#f38849 91.0px,#fab531 96.0px,#f7d228 101.0px,#ebe828 110.5px,#ebe828 132.0px)"></i><i style="background:linear-gradient(#ebe828 0.0px,#ece528 32.5px,#facc28 41.5px,#f9a03a 47.5px,#ee7c50 51.0px,#cb4579 55.0px,#b62d8a 56.5px,#8b2996 58.5px,#583195 61.0px,#4c3192 61.5px,#392e88 62.0px,#2c2c80 63.0px,#2d2c80 78.5px,#322d85 79.0px,#523294 80.0px,#902896 83.0px,#b12a8d 84.5px,#d7586b 87.5px,#f38a47 91.5px,#fab730 96.5px,#f7d128 101.0px,#ebe828 110.5px,#ebe828 132.0px)"></i><i style="background:linear-gradient(#ebe828 0.0px,#ede528 32.5px,#facb29 41.5px,#f89e3c 47.5px,#eb7853 51.0px,#c7407d 55.0px,#b12a8d 56.5px,#852b97 58.5px,#553295 61.0px,#372e87 62.0px,#2c2c80 63.0px,#2d2c81 78.5px,#322d85 79.0px,#503294 80.0px,#8a2a96 83.0px,#b52b8b 85.0px,#d95a69 88.0px,#f3864a 91.5px,#fab531 96.5px,#f7d228 101.5px,#ebe828 111.0px,#ebe828 132.0px)"></i><i style="background:linear-gradient(#ebe828 0.0px,#ece528 32.0px,#facc28 41.0px,#f89f3b 47.0px,#ec7a52 50.5px,#c9437b 54.5px,#b42a8c 56.0px,#892a96 58.0px,#533294 61.0px,#362d87 62.0px,#2c2c80 63.5px,#2e2c82 78.5px,#322d85 79.0px,#563295 80.5px,#8e2996 83.5px,#ae2a8e 85.0px,#d6556d 88.0px,#f38848 92.0px,#fab631 97.0px,#f8d128 101.5px,#ebe828 111.0px,#ebe828 132.0px)"></i><i style="background:linear-gradient(#ebe828 0.0px,#ede528 32.0px,#faca29 41.0px,#f89c3d 47.0px,#ea7655 50.5px,#c43d7f 54.5px,#b62d8a 55.5px,#8d2996 57.5px,#583195 60.5px,#44308e 61.5px,#382e88 62.0px,#2c2c80 63.5px,#2d2c81 78.0px,#332d85 79.0px,#543295 80.5px,#882a97 83.5px,#b22a8d 85.5px,#d7576b 88.5px,#f38a47 92.5px,#fab830 97.5px,#f7d128 102.0px,#ebe828 111.5px,#ebe828 132.0px)"></i><i style="background:linear-gradient(#ebe828 0.0px,#ece528 31.5px,#facb28 40.5px,#f89d3c 46.5px,#eb7754 50.0px,#c63f7d 54.0px,#b02a8d 55.5px,#872a97 57.5px,#563295 60.5px,#342d86 62.5px,#302c83 66.0px,#3a2e89 71.0px,#2f2c82 77.0px,#372d87 79.0px,#593195 81.0px,#8b2996 84.0px,#b42b8c 86.0px,#dd6064 89.5px,#f48b47 93.0px,#fab930 98.0px,#f7d228 102.5px,#ebe828 112.0px,#ebe828 132.0px)"></i><i style="background:linear-gradient(#ebe828 0.0px,#ece628 31.0px,#facc28 40.0px,#f89f3b 46.0px,#ec7953 49.5px,#c7417c 53.5px,#b32a8c 55.0px,#812c97 57.5px,#5b3195 60.0px,#483190 61.5px,#392e88 63.0px,#392e89 65.0px,#523294 68.5px,#523294 72.5px,#372d87 77.0px,#3a2e89 78.5px,#5e3196 81.5px,#8e2996 84.5px,#b62d8a 86.5px,#de6163 90.0px,#f48d46 93.5px,#faba2f 98.5px,#f7d228 103.0px,#ebe828 112.0px,#ebe828 132.0px)"></i><i style="background:linear-gradient(#ebe828 0.0px,#ede528 31.0px,#faca29 40.0px,#f79b3e 46.0px,#ec7a52 49.0px,#c9437b 53.0px,#b52b8b 54.5px,#842b97 57.0px,#5f3196 59.5px,#47308f 62.5px,#4c3192 64.5px,#623196 69.5px,#5f3196 73.0px,#46308f 78.5px,#623196 82.0px,#912896 85.0px,#af2a8d 86.5px,#d6556d 89.5px,#f38849 93.5px,#fab730 98.5px,#f7d128 103.0px,#ebe828 112.5px,#ebe828 132.0px)"></i><i style="background:linear-gradient(#ebe828 0.0px,#ece528 30.5px,#faca29 39.5px,#f89c3d 45.5px,#ed7b51 48.5px,#ca447a 52.5px,#b62c8a 54.0px,#872a97 56.5px,#633196 59.0px,#523294 61.5px,#583195 64.5px,#702f98 69.5px,#6c3098 73.0px,#523294 78.5px,#583195 81.0px,#722f98 83.5px,#9d2992 86.0px,#b12a8d 87.0px,#d6566c 90.0px,#f38948 94.0px,#fab830 99.0px,#f7d228 103.5px,#ebe828 112.5px,#ebe828 132.0px)"></i><i style="background:linear-gradient(#ebe828 0.0px,#ece628 30.0px,#facb28 39.0px,#f9a13a 44.5px,#ed7c51 48.0px,#cb4579 52.0px,#af2a8e 54.0px,#812c97 56.5px,#613196 59.0px,#573295 61.5px,#663197 65.0px,#7f2c97 69.5px,#7d2d97 72.5px,#583195 79.0px,#5c3196 81.5px,#752e98 84.0px,#a9298f 87.0px,#b32a8c 87.5px,#dc5e66 91.0px,#f38a47 94.5px,#fab930 99.5px,#f7d228 104.0px,#ebe828 113.0px,#ebe828 132.0px)"></i><i style="background:linear-gradient(#ebe828 0.0px,#ede528 30.0px,#facc28 38.5px,#f9a239 44.0px,#ee7d50 47.5px,#cb4679 51.5px,#b02a8d 53.5px,#832b97 56.0px,#643197 58.5px,#5c3196 61.0px,#6d3098 64.5px,#8c2996 69.0px,#8c2996 72.0px,#742f98 76.0px,#5d3196 79.5px,#5f3196 82.0px,#772e97 84.5px,#a12991 87.0px,#b42b8c 88.0px,#dc5f65 91.5px,#f48b47 95.0px,#fab92f 100.0px,#f7d328 104.5px,#ebe828 113.5px,#ebe828 132.0px)"></i><i style="background:linear-gradient(#ebe828 0.0px,#ece528 29.5px,#facc28 38.0px,#f9a239 43.5px,#ee7d50 47.0px,#cc4778 51.0px,#b22a8d 53.0px,#7d2d97 56.0px,#643197 58.5px,#613196 61.0px,#792d97 64.5px,#992894 69.0px,#9a2993 72.0px,#802c97 76.0px,#623196 80.0px,#633196 82.5px,#792d97 85.0px,#a32991 87.5px,#b52c8b 88.5px,#dd5f65 92.0px,#f48c47 95.5px,#faba2f 100.5px,#f6d328 105.0px,#ebe828 114.0px,#ebe828 132.0px)"></i><i style="background:linear-gradient(#ebe828 0.0px,#ece628 29.0px,#facd28 37.5px,#f9a339 43.0px,#ef7e4f 46.5px,#cd4877 50.5px,#b32a8c 52.5px,#7f2c97 55.5px,#6a3097 57.5px,#643197 60.0px,#762e98 63.0px,#a22991 68.0px,#aa298f 71.0px,#9e2992 74.0px,#693097 80.0px,#643197 82.5px,#752e98 85.0px,#a42991 88.0px,#b62d8a 89.0px,#dd6064 92.5px,#f48c46 96.0px,#faba2f 101.0px,#f6d328 105.5px,#ebe828 114.5px,#ebe828 132.0px)"></i><i style="background:linear-gradient(#ebe828 0.0px,#ece628 28.5px,#faca29 37.5px,#f89f3b 43.0px,#eb7853 46.5px,#c7417c 50.5px,#b42a8c 52.0px,#812c97 55.0px,#693097 57.5px,#693097 60.0px,#862a97 63.5px,#b02a8d 68.0px,#b62d8a 71.0px,#ab298f 74.0px,#7f2c97 78.5px,#683097 81.5px,#6b3098 84.0px,#842b97 86.5px,#af2a8e 89.0px,#c43d7f 90.5px,#e97555 94.5px,#f79740 97.5px,#fac52b 103.0px,#f0e028 110.0px,#ebe828 116.0px,#ebe828 132.0px)"></i><i style="background:linear-gradient(#ebe828 0.0px,#ede528 28.5px,#facb29 37.0px,#f89f3b 42.5px,#ec7953 46.0px,#c7427c 50.0px,#b42b8c 51.5px,#822b97 54.5px,#6c3098 57.0px,#6d3098 59.5px,#8c2996 63.0px,#b52b8b 67.0px,#bf3783 70.5px,#b62d8a 74.0px,#952895 77.5px,#6e3098 81.5px,#6b3098 84.0px,#7f2c97 86.5px,#b02a8d 89.5px,#d95a69 93.0px,#f38749 96.5px,#fab332 101.0px,#f8d028 105.5px,#ebe828 114.5px,#ebe828 132.0px)"></i><i style="background:linear-gradient(#ebe828 0.0px,#ece528 28.0px,#facb28 36.5px,#f9a03b 42.0px,#ec7952 45.5px,#c8427b 49.5px,#b52b8b 51.0px,#8a2996 53.5px,#702f98 56.0px,#6e3098 58.5px,#862b97 61.5px,#b42a8c 65.5px,#c53e7e 69.0px,#c43d7f 72.5px,#b22a8d 76.0px,#832b97 80.0px,#6d3098 83.0px,#722f98 85.5px,#8e2996 88.0px,#b02a8d 90.0px,#da5b68 93.5px,#f38849 97.0px,#fab432 101.5px,#f8d028 106.0px,#ebe828 115.0px,#ebe828 132.0px)"></i><i style="background:linear-gradient(#ebe828 0.0px,#ece528 27.5px,#facb28 36.0px,#f9a03a 41.5px,#ec7a52 45.0px,#c8427b 49.0px,#b52c8b 50.5px,#852b97 53.5px,#703098 56.0px,#732f98 58.5px,#962895 62.0px,#b52b8b 64.5px,#cb4579 68.5px,#cc4877 72.0px,#be3684 75.5px,#ad2a8e 77.5px,#7d2c97 81.5px,#6f3098 84.0px,#742f98 86.0px,#8f2996 88.5px,#b12a8d 90.5px,#da5b68 94.0px,#f38849 97.5px,#fab830 102.5px,#f6d328 107.0px,#ebe828 115.5px,#ebe828 132.0px)"></i><i style="background:linear-gradient(#ebe828 0.0px,#ece628 27.0px,#facc28 35.5px,#f9a03a 41.0px,#ec7a52 44.5px,#c9437b 48.5px,#b62c8a 50.0px,#862a97 53.0px,#722f98 55.5px,#762e98 58.0px,#9b2993 61.5px,#b52b8b 63.5px,#ce4a76 67.5px,#d35270 71.0px,#cb4679 74.5px,#b22a8d 78.0px,#862b97 81.5px,#732f98 84.0px,#732f98 86.0px,#892a96 88.5px,#b22a8d 91.0px,#da5b68 94.5px,#f38948 98.0px,#fab930 103.0px,#f6d328 107.5px,#ebe828 116.0px,#ebe828 132.0px)"></i><i style="background:linear-gradient(#ebe828 0.0px,#ede528 27.0px,#facc28 35.0px,#f9a13a 40.5px,#ec7a52 44.0px,#c33c80 48.5px,#ae2a8e 50.0px,#872a97 52.5px,#742f98 55.0px,#792d97 57.5px,#982894 60.5px,#b32a8c 62.5px,#d04d73 66.5px,#d95969 70.5px,#d14e72 74.5px,#b62d8a 78.5px,#892a96 82.0px,#752e98 84.5px,#742f98 86.5px,#8a2a96 89.0px,#b22a8c 91.5px,#df6262 95.5px,#f38948 98.5px,#fab930 103.5px,#f6d328 108.0px,#ebe828 116.5px,#ebe828 132.0px)"></i><i style="background:linear-gradient(#ebe828 0.0px,#ede528 26.5px,#facc28 34.5px,#f9a13a 40.0px,#ed7a52 43.5px,#c33c80 48.0px,#af2a8d 49.5px,#882a97 52.0px,#752e98 54.5px,#7b2d97 57.0px,#9c2993 60.0px,#b72d8a 62.0px,#d35270 66.0px,#de6164 70.0px,#d8596a 74.0px,#c23b80 78.0px,#b42b8c 79.5px,#872a97 83.0px,#752e98 85.5px,#782e97 87.5px,#912896 90.0px,#b32a8c 92.0px,#df6362 96.0px,#f38948 99.0px,#fab531 103.5px,#f7d128 108.0px,#ebe828 117.0px,#ebe828 132.0px)"></i><i style="background:linear-gradient(#ebe828 0.0px,#ede528 26.0px,#faca29 34.5px,#f89d3d 40.0px,#ed7b51 43.0px,#c33c7f 47.5px,#af2a8d 49.0px,#892a96 51.5px,#772e97 54.0px,#7e2c97 56.5px,#9f2992 59.5px,#b52b8c 61.0px,#d4526f 65.0px,#e1665f 69.0px,#e06461 73.0px,#d04d74 77.0px,#b22a8d 80.5px,#842b97 84.0px,#762e98 86.5px,#7d2d97 88.5px,#9a2993 91.0px,#b32a8c 92.5px,#df6362 96.5px,#f38948 99.5px,#fab631 104.0px,#f7d228 108.5px,#ebe828 117.0px,#ebe828 132.0px)"></i><i style="background:linear-gradient(#ebe828 0.0px,#ece528 25.5px,#faca29 34.0px,#f89d3c 39.5px,#ed7b51 42.5px,#c33d7f 47.0px,#b02a8d 48.5px,#8a2a96 51.0px,#782e97 53.5px,#802c97 56.0px,#a22991 59.0px,#b72d8a 60.5px,#d6566c 64.5px,#e56d5a 69.0px,#e46b5c 73.0px,#d25071 77.5px,#b52b8b 81.0px,#872a97 84.5px,#782e97 87.0px,#7e2c97 89.0px,#9a2993 91.5px,#b42a8c 93.0px,#df6362 97.0px,#f38a48 100.0px,#fab631 104.5px,#f7d228 109.0px,#ebe828 117.5px,#ebe828 132.0px)"></i><i style="background:linear-gradient(#ebe828 0.0px,#ece528 25.0px,#faca29 33.5px,#f89d3c 39.0px,#ed7b51 42.0px,#c43d7f 46.5px,#b02a8d 48.0px,#8a2996 50.5px,#7a2d97 53.0px,#822c97 55.5px,#a52990 58.5px,#b42a8c 59.5px,#d6556d 63.5px,#e87158 68.0px,#e97555 72.0px,#df6362 76.0px,#c53f7e 80.0px,#b12a8d 82.0px,#892a96 85.0px,#792d97 87.5px,#7f2c97 89.5px,#9b2993 92.0px,#b42a8c 93.5px,#e06361 97.5px,#f38a48 100.5px,#fab631 105.0px,#f7d228 109.5px,#ebe828 118.0px,#ebe828 132.0px)"></i><i style="background:linear-gradient(#ebe828 0.0px,#ece628 24.5px,#faca29 33.0px,#f89d3c 38.5px,#ed7b51 41.5px,#c43d7f 46.0px,#b12a8d 47.5px,#8b2996 50.0px,#7b2d97 52.5px,#832b97 55.0px,#a82990 58.0px,#b62c8a 59.0px,#d8586a 63.0px,#ea7654 67.5px,#ed7c51 71.5px,#e56e5a 75.5px,#cc4778 80.0px,#b32a8c 82.5px,#862b97 86.0px,#7a2d97 88.5px,#882a96 91.0px,#b42b8c 94.0px,#e06461 98.0px,#f38a47 101.0px,#fab631 105.5px,#f7d228 110.0px,#ebe828 118.5px,#ebe828 132.0px)"></i><i style="background:linear-gradient(#ebe828 0.0px,#ece628 24.0px,#facb29 32.5px,#f89e3c 38.0px,#ed7c51 41.0px,#c43e7e 45.5px,#b12a8d 47.0px,#8c2996 49.5px,#7c2d97 52.0px,#852b97 54.5px,#aa298f 57.5px,#b82e89 58.5px,#da5b68 62.5px,#ed7b51 67.0px,#f1824c 71.5px,#e97456 75.5px,#d14f72 80.0px,#b52b8b 83.0px,#872a97 86.5px,#7c2d97 89.0px,#842b97 91.0px,#a42991 93.5px,#b52b8b 94.5px,#e06461 98.5px,#f38a47 101.5px,#fab730 106.0px,#f7d228 110.5px,#ebe828 119.0px,#ebe828 132.0px)"></i><i style="background:linear-gradient(#ebe828 0.0px,#ede528 24.0px,#facb28 32.0px,#f89e3c 37.5px,#ea7555 41.0px,#be3783 45.5px,#b22a8d 46.5px,#8d2996 49.0px,#7d2d97 51.5px,#862a97 54.0px,#ac2a8e 57.0px,#b93088 58.0px,#dc5d66 62.0px,#ef7e4f 66.5px,#f38849 71.0px,#ed7b51 75.5px,#d7566c 80.0px,#b02a8d 84.0px,#892a96 87.0px,#7d2d97 89.5px,#852b97 91.5px,#a52990 94.0px,#b52b8b 95.0px,#e06461 99.0px,#f48b47 102.0px,#fab730 106.5px,#f7d228 111.0px,#ebe828 119.5px,#ebe828 132.0px)"></i><i style="background:linear-gradient(#ebe828 0.0px,#ede528 23.5px,#facb28 31.5px,#f89e3c 37.0px,#ea7655 40.5px,#bf3783 45.0px,#b22a8d 46.0px,#8d2996 48.5px,#7e2c97 51.0px,#882a97 53.5px,#b52b8b 57.0px,#da5b68 61.0px,#ef7f4e 65.5px,#f48d45 70.0px,#f2854a 74.5px,#e46c5c 78.5px,#c33c80 83.0px,#b22a8d 84.5px,#8a2a96 87.5px,#7e2c97 90.0px,#862b97 92.0px,#a52990 94.5px,#b52c8b 95.5px,#e06461 99.5px,#f48b47 102.5px,#fab730 107.0px,#f6d328 111.5px,#ebe828 120.0px,#ebe828 132.0px)"></i><i style="background:linear-gradient(#ebe828 0.0px,#ede528 23.0px,#facb28 31.0px,#f89e3c 36.5px,#ea7655 40.0px,#bf3783 44.5px,#b32a8c 45.5px,#8e2996 48.0px,#7f2c97 50.5px,#892a96 53.0px,#b62d8a 56.5px,#db5d67 60.5px,#f1824c 65.0px,#f59243 69.5px,#f48d46 74.0px,#ea7654 78.0px,#ce4976 82.5px,#b42a8c 85.0px,#8b2996 88.0px,#7f2c97 90.5px,#872a97 92.5px,#a62990 95.0px,#b62c8b 96.0px,#e06561 100.0px,#f48b47 103.0px,#fab730 107.5px,#f7d128 111.5px,#ebe828 120.0px,#ebe828 132.0px)"></i><i style="background:linear-gradient(#ebe828 0.0px,#ece528 22.5px,#facc28 30.5px,#f89f3b 36.0px,#ea7654 39.5px,#bf3883 44.0px,#b32a8c 45.0px,#8e2996 47.5px,#802c97 50.0px,#8a2a96 52.5px,#b12a8d 55.5px,#d8596a 59.5px,#f1824d 64.0px,#f69641 68.5px,#f69541 73.0px,#f0804e 77.5px,#d35170 82.5px,#b52b8b 85.5px,#8d2996 88.5px,#7f2c97 91.0px,#872a97 93.0px,#a62990 95.5px,#b62c8a 96.5px,#e46c5c 101.0px,#f59143 104.0px,#fac02d 109.0px,#f4d728 113.5px,#ebe828 121.0px,#ebe828 132.0px)"></i><i style="background:linear-gradient(#ebe828 0.0px,#ece528 22.0px,#facc28 30.0px,#f89f3b 35.5px,#ee7d50 38.5px,#c63f7d 43.0px,#b42a8c 44.5px,#8f2896 47.0px,#802c97 49.5px,#8b2996 52.0px,#b32a8c 55.0px,#da5b68 59.0px,#f2844b 63.5px,#f7993e 68.0px,#f79a3e 73.0px,#f2864a 77.5px,#dc5e66 82.0px,#b62c8a 86.0px,#8e2996 89.0px,#802c97 91.5px,#882a97 93.5px,#a72990 96.0px,#b62d8a 97.0px,#e56c5b 101.5px,#f59243 104.5px,#fac02d 109.5px,#f4d728 114.0px,#ebe828 121.5px,#ebe828 132.0px)"></i><i style="background:linear-gradient(#ebe828 0.0px,#ece628 21.5px,#facc28 29.5px,#f89f3b 35.0px,#ee7d50 38.0px,#c6407d 42.5px,#b42a8c 44.0px,#8f2896 46.5px,#812c97 49.0px,#8c2996 51.5px,#b42a8c 54.5px,#de6163 59.0px,#f38a48 63.5px,#f89e3c 68.0px,#f89f3b 73.0px,#f48c46 77.5px,#e06461 82.0px,#bc3485 86.0px,#b02a8d 87.0px,#8a2a96 90.0px,#812c97 92.0px,#882a96 94.0px,#a72990 96.5px,#b72d8a 97.5px,#e56d5b 102.0px,#f59243 105.0px,#fac02d 110.0px,#f4d728 114.5px,#ebe828 122.0px,#ebe828 132.0px)"></i><i style="background:linear-gradient(#ebe828 0.0px,#ece628 21.0px,#facc28 29.0px,#f8a03b 34.5px,#ee7e4f 37.5px,#c6407d 42.0px,#b42a8c 43.5px,#8b2996 46.5px,#822c97 48.5px,#8d2996 51.0px,#b52b8b 54.0px,#df6362 58.5px,#f38848 62.5px,#f9a03b 67.0px,#faa438 72.0px,#f69442 77.0px,#ea7555 81.0px,#c8427b 85.5px,#b12a8d 87.5px,#8b2996 90.5px,#822c97 92.5px,#892a96 94.5px,#a8298f 97.0px,#b72e89 98.0px,#e56d5b 102.5px,#f59243 105.5px,#fac12d 110.5px,#f4d728 115.0px,#ebe828 122.5px,#ebe828 132.0px)"></i><i style="background:linear-gradient(#ebe828 0.0px,#ede528 21.0px,#faca29 29.0px,#f79b3e 34.5px,#eb7853 37.5px,#c13981 42.0px,#b52b8b 43.0px,#8c2996 46.0px,#822b97 48.0px,#8d2996 50.5px,#b52c8b 53.5px,#e06461 58.0px,#f38a47 62.0px,#f9a239 66.5px,#faa936 71.5px,#f79b3d 76.5px,#ed7c51 81.0px,#ce4976 85.5px,#b22a8c 88.0px,#8b2996 91.0px,#822b97 93.0px,#8a2a96 95.0px,#a8298f 97.5px,#b72e89 98.5px,#e56d5a 103.0px,#f59342 106.0px,#fac12c 111.0px,#f4d728 115.5px,#ebe828 123.0px,#ebe828 132.0px)"></i><i style="background:linear-gradient(#ebe828 0.0px,#ede528 20.5px,#faca29 28.5px,#f79b3d 34.0px,#eb7853 37.0px,#c13a81 41.5px,#b52b8b 42.5px,#8c2996 45.5px,#832b97 47.5px,#8e2996 50.0px,#b62c8b 53.0px,#e06561 57.5px,#f48c46 61.5px,#faa637 66.5px,#faad34 71.5px,#f89d3c 77.0px,#ee7d50 81.5px,#ce4a76 86.0px,#b32a8c 88.5px,#8c2996 91.5px,#832b97 93.5px,#8a2a96 95.5px,#a9298f 98.0px,#b82f89 99.0px,#e66e5a 103.5px,#f69342 106.5px,#fac12c 111.5px,#f4d828 116.0px,#ebe828 123.5px,#ebe828 132.0px)"></i><i style="background:linear-gradient(#ebe828 0.0px,#ede528 20.0px,#faca29 28.0px,#f89c3d 33.5px,#ec7953 36.5px,#c13a81 41.0px,#b62c8b 42.0px,#8d2996 45.0px,#832b97 47.0px,#8f2996 49.5px,#b62d8a 52.5px,#e16660 57.0px,#f48d46 61.0px,#faa936 66.0px,#fab133 71.5px,#f9a23a 77.0px,#f1834c 81.5px,#cf4b75 86.5px,#b42a8c 89.0px,#8d2996 92.0px,#832b97 94.0px,#8b2996 96.0px,#aa298f 98.5px,#b82f88 99.5px,#e66e5a 104.0px,#f69342 107.0px,#fac22c 112.0px,#f4d828 116.5px,#ebe828 124.0px,#ebe828 132.0px)"></i><i style="background:linear-gradient(#ebe828 0.0px,#ece528 19.5px,#facb29 27.5px,#f89c3d 33.0px,#ec7952 36.0px,#c23b80 40.5px,#af2a8d 42.0px,#8e2996 44.5px,#842b97 46.5px,#8f2896 49.0px,#b72d8a 52.0px,#e1665f 56.5px,#f38a47 60.0px,#faa936 65.0px,#fab531 70.5px,#faaa35 76.0px,#f48d46 81.0px,#e06461 85.0px,#b42a8c 89.5px,#8d2996 92.5px,#842b97 94.5px,#8b2996 96.5px,#ab298f 99.0px,#b93088 100.0px,#e66f59 104.5px,#f48e45 107.0px,#faba2f 111.5px,#f7d328 115.5px,#ebe828 123.5px,#ebe828 132.0px)"></i><i style="background:linear-gradient(#ebe828 0.0px,#ece528 19.0px,#facb28 27.0px,#f89d3d 32.5px,#ec7a52 35.5px,#c23b80 40.0px,#b02a8d 41.5px,#8e2996 44.0px,#842b97 46.0px,#8f2896 48.5px,#b72d8a 51.5px,#e2675f 56.0px,#f48b47 59.5px,#faab35 64.5px,#fab830 70.0px,#fab033 75.5px,#f59243 81.0px,#ea7655 84.0px,#c53f7e 88.5px,#b42a8c 90.0px,#8d2996 93.0px,#842b97 95.0px,#8c2996 97.0px,#ab2a8e 99.5px,#b32a8c 100.0px,#e3695e 104.5px,#f58f45 107.5px,#fabf2d 112.5px,#f5d528 116.5px,#ebe828 124.5px,#ebe828 132.0px)"></i><i style="background:linear-gradient(#ebe828 0.0px,#ece628 18.5px,#facb28 26.5px,#f89d3c 32.0px,#ed7a52 35.0px,#c33c7f 39.5px,#b02a8d 41.0px,#8f2896 43.5px,#852b97 45.5px,#8c2996 47.5px,#a9298f 50.0px,#b72e89 51.0px,#e2675f 55.5px,#f48c46 59.0px,#faad34 64.0px,#fabb2f 69.5px,#fab431 75.5px,#f69740 81.0px,#ea7654 84.5px,#c53f7e 89.0px,#b52b8c 90.5px,#8e2996 93.5px,#852b97 95.5px,#8d2996 97.5px,#ac2a8e 100.0px,#b42a8c 100.5px,#e3695d 105.0px,#f58f44 108.0px,#fabf2d 113.0px,#f5d528 117.0px,#ebe828 125.0px,#ebe828 132.0px)"></i><i style="background:linear-gradient(#ebe828 0.0px,#ede528 18.5px,#facc28 26.0px,#f89e3c 31.5px,#ed7b51 34.5px,#c43d7f 39.0px,#b12a8d 40.5px,#902896 43.0px,#852b97 45.0px,#8c2996 47.0px,#a9298f 49.5px,#b72e89 50.5px,#e2685e 55.0px,#f48d46 58.5px,#fab133 64.0px,#fabf2d 69.5px,#fab830 75.5px,#f79b3d 81.0px,#ee7c50 84.5px,#cb4679 89.0px,#b52b8b 91.0px,#8e2996 94.0px,#852b97 96.0px,#8d2996 98.0px,#b52b8b 101.0px,#e36a5d 105.5px,#f59044 108.5px,#fabc2f 113.0px,#f6d328 117.0px,#ebe828 125.0px,#ebe828 132.0px)"></i><i style="background:linear-gradient(#ebe828 0.0px,#ede528 18.0px,#facc28 25.5px,#f89e3c 31.0px,#ed7c51 34.0px,#c43e7e 38.5px,#b22a8d 40.0px,#902896 42.5px,#862b97 44.5px,#8c2996 46.5px,#a9298f 49.0px,#b72e89 50.0px,#e2685e 54.5px,#f48e45 58.0px,#fab232 63.5px,#fac12c 69.5px,#fabb2f 75.5px,#f8a03b 81.0px,#ee7d50 85.0px,#cb4679 89.5px,#b52b8b 91.5px,#8e2996 94.5px,#862b97 96.5px,#8e2996 98.5px,#b52c8b 101.5px,#e46b5c 106.0px,#f59144 109.0px,#fabc2e 113.5px,#f6d428 117.5px,#ebe828 125.5px,#ebe828 132.0px)"></i><i style="background:linear-gradient(#ebe828 0.0px,#ede528 17.5px,#fac929 25.5px,#f79a3e 31.0px,#ea7655 34.0px,#bf3783 38.5px,#b32a8c 39.5px,#912896 42.0px,#862a97 44.0px,#8c2996 46.0px,#a9298f 48.5px,#b72e89 49.5px,#e2685e 54.0px,#f48e45 57.5px,#fab432 63.0px,#fac42b 69.0px,#fabe2e 75.5px,#f9a438 81.0px,#ee7d50 85.5px,#cb4679 90.0px,#b52b8b 92.0px,#8e2996 95.0px,#862b97 97.0px,#8f2996 99.0px,#b62c8a 102.0px,#e46b5c 106.5px,#f59143 109.5px,#fabd2e 114.0px,#f6d428 118.0px,#ebe828 126.0px,#ebe828 132.0px)"></i><i style="background:linear-gradient(#ebe828 0.0px,#ece528 17.0px,#faca29 25.0px,#f79a3e 30.5px,#eb7754 33.5px,#c03882 38.0px,#b42a8c 39.0px,#922896 41.5px,#872a97 43.5px,#8c2996 45.5px,#a9298f 48.0px,#b72e89 49.0px,#e3685e 53.5px,#f48f45 57.0px,#fab232 62.0px,#fac62b 68.0px,#fac32b 74.5px,#faae34 80.0px,#f38749 85.0px,#d4536f 89.5px,#b52b8c 92.5px,#8e2996 95.5px,#862a97 97.5px,#8f2896 99.5px,#b72d8a 102.5px,#e56c5b 107.0px,#f59243 110.0px,#fabd2e 114.5px,#f6d428 118.5px,#ebe828 126.5px,#ebe828 132.0px)"></i><i style="background:linear-gradient(#ebe828 0.0px,#ece528 16.5px,#faca29 24.5px,#f79b3d 30.0px,#eb7854 33.0px,#c03982 37.5px,#b52b8b 38.5px,#8e2996 41.5px,#872a97 43.5px,#902896 45.5px,#b72d8a 48.5px,#e2685e 53.0px,#f58f45 56.5px,#fab332 61.5px,#fac72a 67.5px,#fac72a 74.0px,#fab232 80.0px,#f48d46 85.0px,#dd5f65 89.0px,#b42a8c 93.0px,#8e2996 96.0px,#872a97 98.0px,#902896 100.0px,#b12a8d 102.5px,#e16660 107.0px,#f48d46 110.0px,#faba2f 114.5px,#f7d228 118.5px,#ebe828 126.5px,#ebe828 132.0px)"></i><i style="background:linear-gradient(#ebe828 0.0px,#ece628 16.0px,#facb28 24.0px,#f89c3d 29.5px,#ec7853 32.5px,#c13a81 37.0px,#b62c8b 38.0px,#8f2896 41.0px,#872a97 43.0px,#902896 45.0px,#b72d8a 48.0px,#e2685e 52.5px,#f58f44 56.0px,#fab730 61.5px,#faca29 67.5px,#fac929 74.5px,#fab332 80.5px,#f48d46 85.5px,#dd5f65 89.5px,#b42a8c 93.5px,#8e2996 96.5px,#872a97 98.5px,#912896 100.5px,#b22a8d 103.0px,#e2675f 107.5px,#f48e45 110.5px,#faba2f 115.0px,#f6d328 119.0px,#ebe828 127.0px,#ebe828 132.0px)"></i><i style="background:linear-gradient(#ebe828 0.0px,#ede528 16.0px,#facb28 23.5px,#f89d3d 29.0px,#ec7952 32.0px,#c23b80 36.5px,#b02a8d 38.0px,#902896 40.5px,#872a97 42.5px,#902896 44.5px,#b62d8a 47.5px,#e2685e 52.0px,#f58f44 55.5px,#fab531 60.5px,#facb29 66.5px,#facb28 74.5px,#fab631 80.5px,#f59243 85.5px,#e87258 88.5px,#bf3783 93.0px,#b42a8c 94.0px,#922896 96.5px,#882a97 98.5px,#8d2996 100.5px,#ab2a8e 103.0px,#b93088 104.0px,#e66f59 108.5px,#f48f45 111.0px,#fabb2f 115.5px,#f6d328 119.5px,#ebe828 127.5px,#ebe828 132.0px)"></i><i style="background:linear-gradient(#ebe828 0.0px,#ede528 15.5px,#facc28 23.0px,#f89d3c 28.5px,#ed7a52 31.5px,#c33c7f 36.0px,#b12a8d 37.5px,#902896 40.0px,#882a97 42.0px,#902896 44.0px,#b62c8b 47.0px,#e2685e 51.5px,#f58f44 55.0px,#fab531 60.0px,#facc28 66.0px,#f9cd28 74.5px,#faba2f 80.5px,#f69640 85.5px,#eb7754 88.5px,#c43d7f 93.0px,#b32a8c 94.5px,#922896 97.0px,#882a97 99.0px,#8e2996 101.0px,#ac2a8e 103.5px,#b42a8c 104.0px,#e3695d 108.5px,#f58f44 111.5px,#fabb2f 116.0px,#f6d328 120.0px,#ebe828 128.0px,#ebe828 132.0px)"></i><i style="background:linear-gradient(#ebe828 0.0px,#ede528 15.0px,#facc28 22.5px,#f89e3c 28.0px,#ed7b51 31.0px,#c43d7f 35.5px,#b22a8d 37.0px,#912896 39.5px,#882a97 41.5px,#8f2896 43.5px,#b52c8b 46.5px,#e2675f 51.0px,#f58f44 54.5px,#fab631 59.5px,#f9cd28 65.5px,#f8cf28 74.0px,#fabf2d 80.0px,#f79b3e 85.5px,#eb7754 89.0px,#c43d7f 93.5px,#b22a8c 95.0px,#922896 97.5px,#882a97 99.5px,#8f2896 101.5px,#b52b8b 104.5px,#e46a5d 109.0px,#f59044 112.0px,#fabc2e 116.5px,#f6d428 120.5px,#ebe828 128.5px,#ebe828 132.0px)"></i><i style="background:linear-gradient(#ebe828 0.0px,#ece528 14.5px,#faca29 22.5px,#f79a3e 28.0px,#ea7655 31.0px,#bf3783 35.5px,#b32a8c 36.5px,#922896 39.0px,#882a97 41.0px,#8f2896 43.0px,#b52b8b 46.0px,#e2675f 50.5px,#f58f45 54.0px,#fab631 59.0px,#facd28 64.5px,#f7d228 73.0px,#fac62a 79.0px,#faa737 84.5px,#ee7d50 89.0px,#c9437b 93.5px,#b22a8d 95.5px,#912896 98.0px,#882a97 100.0px,#902896 102.0px,#b62d8a 105.0px,#e46b5c 109.5px,#f59143 112.5px,#fabd2e 117.0px,#f6d428 121.0px,#ebe828 128.5px,#ebe828 132.0px)"></i><i style="background:linear-gradient(#ebe828 0.0px,#ece628 14.0px,#faca29 22.0px,#f79b3e 27.5px,#eb7754 30.5px,#c03982 35.0px,#b52b8b 36.0px,#932895 38.5px,#892a96 40.5px,#8f2896 42.5px,#ad2a8e 45.0px,#ba3187 46.0px,#e56d5b 50.5px,#f58f45 53.5px,#fab730 58.5px,#f9ce28 64.0px,#f6d328 73.0px,#fac72a 79.5px,#faa737 85.0px,#ee7c50 89.5px,#c8427b 94.0px,#b12a8d 96.0px,#912896 98.5px,#882a96 100.5px,#912896 102.5px,#b12a8d 105.0px,#e16660 109.5px,#f48d46 112.5px,#faba2f 117.0px,#f6d328 121.0px,#ebe828 129.0px,#ebe828 132.0px)"></i><i style="background:linear-gradient(#ebe828 0.0px,#ede528 14.0px,#facb28 21.5px,#f89c3d 27.0px,#eb7853 30.0px,#c13a81 34.5px,#b62c8b 35.5px,#902896 38.5px,#892a96 40.5px,#932896 42.5px,#b32a8c 45.0px,#e16560 49.5px,#f48e45 53.0px,#fab730 58.0px,#f9ce28 63.5px,#f5d528 72.5px,#fac72a 80.0px,#faa737 85.5px,#ed7c51 90.0px,#c7417c 94.5px,#b02a8d 96.5px,#912896 99.0px,#892a96 101.0px,#912896 103.0px,#b22a8d 105.5px,#e2675f 110.0px,#f48e45 113.0px,#faba2f 117.5px,#f6d328 121.5px,#ebe828 129.5px,#ebe828 132.0px)"></i><i style="background:linear-gradient(#ebe828 0.0px,#ede528 13.5px,#facc28 21.0px,#f89d3c 26.5px,#ec7a52 29.5px,#c23b80 34.0px,#b02a8d 35.5px,#902896 38.0px,#892a96 40.0px,#922896 42.0px,#b22a8c 44.5px,#e06561 49.0px,#f48e45 52.5px,#fab730 57.5px,#f9cf28 63.0px,#f4d628 72.0px,#faca29 80.0px,#faab35 85.5px,#ed7b51 90.5px,#c7417c 95.0px,#b62c8b 96.5px,#902896 99.5px,#892a96 101.5px,#922896 103.5px,#b42a8c 106.0px,#e66f59 111.0px,#f58f45 113.5px,#fabb2f 118.0px,#f6d328 122.0px,#ebe828 130.0px,#ebe828 132.0px)"></i><i style="background:linear-gradient(#ebe828 0.0px,#ece528 13.0px,#facc28 20.5px,#f9a339 25.5px,#ed7b51 29.0px,#c43d7f 33.5px,#b22a8d 35.0px,#912896 37.5px,#892a96 39.5px,#912896 41.5px,#b12a8d 44.0px,#e06461 48.5px,#f48d45 52.0px,#fab730 57.0px,#f8cf28 62.5px,#f4d828 72.0px,#faca29 80.5px,#faab35 86.0px,#f0804e 90.5px,#cc4678 95.0px,#b52b8b 97.0px,#902896 100.0px,#892a96 102.0px,#942895 104.0px,#b52b8b 106.5px,#e36a5d 111.0px,#f59044 114.0px,#fabc2e 118.5px,#f6d428 122.5px,#ebe828 130.0px,#ebe828 132.0px)"></i><i style="background:linear-gradient(#ebe828 0.0px,#ece628 12.5px,#faca29 20.5px,#f79a3e 26.0px,#ea7655 29.0px,#bf3783 33.5px,#b32a8c 34.5px,#932896 37.0px,#892a96 39.0px,#912896 41.0px,#b72d8a 44.0px,#e3695d 48.5px,#f48d46 51.5px,#fab730 56.5px,#f9ce28 61.5px,#f3d928 71.0px,#f9ce28 80.0px,#fab232 85.5px,#f2854b 90.5px,#cb4579 95.5px,#b42a8c 97.5px,#932895 100.0px,#892a96 102.0px,#902896 104.0px,#b62c8a 107.0px,#e46b5c 111.5px,#f59143 114.5px,#fabd2e 119.0px,#f6d428 123.0px,#ebe828 130.5px,#ebe828 132.0px)"></i><i style="background:linear-gradient(#ebe828 0.0px,#ede528 12.5px,#facb28 20.0px,#f79b3d 25.5px,#eb7754 28.5px,#c03982 33.0px,#b52b8b 34.0px,#942895 36.5px,#8a2a96 38.5px,#902896 40.5px,#b62c8b 43.5px,#e2685e 48.0px,#f48c46 51.0px,#fab730 56.0px,#f9cf28 61.0px,#f2da28 70.5px,#f8cf28 80.0px,#fab930 85.0px,#f58f45 90.0px,#e46c5c 93.0px,#b93088 97.5px,#ab298f 98.5px,#8f2996 101.0px,#8a2a96 103.0px,#962895 105.0px,#b12a8d 107.0px,#e16660 111.5px,#f48d46 114.5px,#faba2f 119.0px,#f6d328 123.0px,#ebe828 131.0px,#ebe828 132.0px)"></i><i style="background:linear-gradient(#ebe828 0.0px,#ede528 12.0px,#facc28 19.5px,#f89c3d 25.0px,#ec7953 28.0px,#c23a81 32.5px,#af2a8d 34.0px,#902896 36.5px,#8a2a96 38.5px,#942895 40.5px,#b52b8b 43.0px,#e2675f 47.5px,#f48b47 50.5px,#fab730 55.5px,#f8cf28 60.5px,#f2db28 70.0px,#f7d228 79.5px,#fabf2d 84.5px,#f7983f 89.5px,#eb7854 92.5px,#c33c80 97.0px,#b12a8d 98.5px,#922896 101.0px,#8a2a96 103.0px,#922896 105.0px,#b32a8c 107.5px,#e2675f 112.0px,#f48e45 115.0px,#fabb2f 119.5px,#f6d328 123.5px,#ebe828 131.5px,#ebe828 132.0px)"></i><i style="background:linear-gradient(#ebe828 0.0px,#ece528 11.5px,#facc28 19.0px,#f89d3c 24.5px,#ed7a52 27.5px,#c33c80 32.0px,#b12a8d 33.5px,#912896 36.0px,#8a2a96 38.0px,#932895 40.0px,#b32a8c 42.5px,#e16660 47.0px,#f48a47 50.0px,#fab631 55.0px,#f8cf28 60.0px,#f1dc28 69.5px,#f6d328 79.5px,#fac22c 84.5px,#f79840 90.0px,#ea7654 93.0px,#c23b80 97.5px,#b02a8d 99.0px,#912896 101.5px,#8a2a96 103.5px,#932895 105.5px,#b42a8c 108.0px,#e77059 113.0px,#f59044 115.5px,#fabc2e 120.0px,#f6d428 124.0px,#ebe828 131.5px,#ebe828 132.0px)"></i><i style="background:linear-gradient(#ebe828 0.0px,#ede428 11.5px,#faca29 19.0px,#f79a3e 24.5px,#ea7555 27.5px,#bf3783 32.0px,#b32a8c 33.0px,#932896 35.5px,#8a2a96 37.5px,#922896 39.5px,#b22a8d 42.0px,#e06561 46.5px,#f38948 49.5px,#fab631 54.5px,#f8cf28 59.5px,#f1dd28 69.0px,#f5d628 79.0px,#fac42b 84.5px,#f89b3d 90.0px,#ed7b51 93.0px,#c6407d 97.5px,#b52c8b 99.0px,#902896 102.0px,#8a2a96 104.0px,#952895 106.0px,#b62c8b 108.5px,#e46b5c 113.0px,#f59143 116.0px,#fabd2e 120.5px,#f6d428 124.5px,#ebe828 132.0px)"></i><i style="background:linear-gradient(#ebe828 0.0px,#ede528 11.0px,#facb28 18.5px,#f79b3e 24.0px,#eb7754 27.0px,#c03982 31.5px,#b52b8b 32.5px,#942895 35.0px,#8a2a96 37.0px,#912896 39.0px,#b72d8a 42.0px,#e36a5d 46.5px,#f48e45 49.5px,#fab92f 54.5px,#f7d128 59.5px,#f0de28 69.5px,#f5d528 80.0px,#fac42b 85.0px,#f79b3e 90.5px,#ec7a52 93.5px,#c53f7e 98.0px,#b42a8c 99.5px,#942895 102.0px,#8a2a96 104.0px,#912896 106.0px,#b12a8d 108.5px,#e16660 113.0px,#f48d46 116.0px,#faba2f 120.5px,#f6d328 124.5px,#ebe828 132.0px)"></i></div><div class="hm" style="left:277px;top:19px;width:132px;height:132px"><i style="background:linear-gradient(#ebe828 0.0px,#ece628 8.0px,#faca29 15.0px,#f59143 22.0px,#f0804e 25.5px,#f2854b 29.0px,#fac02d 37.0px,#f4d728 41.5px,#ebe828 49.5px,#ede528 81.5px,#facd28 91.5px,#faa836 97.0px,#ed7c51 101.5px,#c9447a 105.5px,#b42a8c 107.0px,#842b97 109.0px,#563295 111.0px,#322d84 112.0px,#2c2c80 113.0px,#2e2c82 122.5px,#3a2e89 123.0px,#513294 123.5px,#8b2996 126.0px,#af2a8d 127.5px,#d35170 130.0px,#e56d5b 132.0px)"></i><i style="background:linear-gradient(#ebe828 0.0px,#ece628 8.5px,#facb29 15.5px,#f59243 22.5px,#f0814d 26.0px,#f38749 29.5px,#fabe2e 37.0px,#f6d428 41.0px,#ebe828 49.5px,#ede528 81.0px,#facd28 91.0px,#faa936 96.5px,#ed7c51 101.0px,#ca447a 105.0px,#b42a8c 106.5px,#852b97 108.5px,#573295 110.5px,#322d84 111.5px,#2c2c80 112.5px,#2c2c80 122.0px,#342d86 122.5px,#4d3192 123.0px,#892a96 125.5px,#b72d8a 127.5px,#dc5e66 130.5px,#e87357 132.0px)"></i><i style="background:linear-gradient(#ebe828 0.0px,#ede528 9.5px,#fac72a 16.5px,#f59044 23.5px,#f1824c 27.0px,#f48b47 30.5px,#fac32c 38.0px,#f2db28 43.5px,#ebe828 51.0px,#ede528 80.5px,#facd28 90.5px,#faa936 96.0px,#ee7c50 100.5px,#ca4579 104.5px,#b52b8b 106.0px,#862b97 108.0px,#573295 110.0px,#322d85 111.0px,#2c2c80 111.5px,#2c2c80 121.5px,#322d85 122.0px,#573295 123.0px,#922896 125.5px,#b52b8b 127.0px,#db5c67 130.0px,#eb7754 132.0px)"></i><i style="background:linear-gradient(#ebe828 0.0px,#ede528 10.0px,#fac82a 17.0px,#f59143 24.0px,#f2844b 27.5px,#f48d46 31.0px,#fac42b 38.5px,#f1dd28 44.5px,#ebe828 51.5px,#ede528 80.0px,#facd28 90.0px,#faa936 95.5px,#ee7d50 100.0px,#cb4679 104.0px,#b52c8b 105.5px,#872a97 107.5px,#583195 109.5px,#493190 110.0px,#332d85 110.5px,#2c2c80 111.0px,#2c2c80 121.0px,#302d83 121.5px,#543295 122.5px,#8f2996 125.0px,#b32a8c 126.5px,#da5b68 129.5px,#ee7c50 132.0px)"></i><i style="background:linear-gradient(#ebe828 0.0px,#ede528 10.5px,#fac829 17.5px,#f58f44 25.0px,#f2854a 28.5px,#f59243 32.0px,#facc28 40.0px,#ece528 48.5px,#ece528 79.0px,#f9cd28 89.5px,#faa936 95.0px,#ee7d50 99.5px,#cb4679 103.5px,#b62c8a 105.0px,#872a97 107.0px,#593195 109.0px,#4a3191 109.5px,#332d85 110.0px,#2c2c80 110.5px,#2e2c82 121.0px,#3a2e89 121.5px,#513294 122.0px,#8c2996 124.5px,#b02a8d 126.0px,#d35170 128.5px,#f0814d 132.0px)"></i><i style="background:linear-gradient(#ebe828 0.0px,#ede528 11.0px,#fac929 18.0px,#f48e45 26.0px,#f38849 29.5px,#f79b3e 33.5px,#f8cf28 41.0px,#ece628 49.5px,#ece528 78.5px,#f9cd28 89.0px,#faa936 94.5px,#ee7d4f 99.0px,#cc4778 103.0px,#b62d8a 104.5px,#882a96 106.5px,#5a3195 108.5px,#4c3192 109.0px,#342d86 109.5px,#2c2c80 110.0px,#2c2c80 120.5px,#342d86 121.0px,#4c3192 121.5px,#7d2d97 123.5px,#ad2a8e 125.5px,#bf3783 126.5px,#e16560 129.5px,#f2854b 132.0px)"></i><i style="background:linear-gradient(#ebe828 0.0px,#ece528 11.5px,#fac929 18.5px,#f59243 26.0px,#f38948 29.5px,#f7993e 33.5px,#f9ce28 41.0px,#ece628 49.5px,#ece528 78.0px,#f9cd28 88.5px,#faaa36 94.0px,#ef7e4f 98.5px,#cc4778 102.5px,#b72e89 104.0px,#952895 105.5px,#5a3195 108.0px,#4e3293 108.5px,#352d86 109.0px,#2c2c80 109.5px,#2c2c80 120.0px,#322d84 120.5px,#573295 121.5px,#922896 124.0px,#b52b8b 125.5px,#db5c67 128.5px,#f38948 132.0px)"></i><i style="background:linear-gradient(#ebe828 0.0px,#ece528 12.0px,#faca29 19.0px,#f59342 26.5px,#f48b47 30.0px,#f89b3d 34.0px,#f8cf28 41.5px,#ece628 50.0px,#ede528 77.5px,#f9cd28 88.0px,#faaa35 93.5px,#ef7e4f 98.0px,#cd4877 102.0px,#ae2a8e 104.0px,#7f2c97 106.0px,#503294 108.0px,#372d87 108.5px,#2d2c81 109.0px,#2c2c80 119.5px,#2f2c83 120.0px,#543294 121.0px,#8f2996 123.5px,#b32a8c 125.0px,#d4536e 127.5px,#f38849 131.5px,#f48d46 132.0px)"></i><i style="background:linear-gradient(#ebe828 0.0px,#ece628 12.5px,#faca29 19.5px,#f69442 27.0px,#f48d46 30.5px,#f89e3c 34.5px,#f8d028 42.0px,#ece728 51.0px,#ede528 77.0px,#f9cd28 87.5px,#faaa35 93.0px,#ef7f4f 97.5px,#cd4976 101.5px,#af2a8d 103.5px,#802c97 105.5px,#513294 107.5px,#392e88 108.0px,#2d2c81 108.5px,#2d2c81 119.5px,#382e88 120.0px,#503294 120.5px,#8b2996 123.0px,#b02a8d 124.5px,#d35170 127.0px,#f2864a 131.0px,#f59143 132.0px)"></i><i style="background:linear-gradient(#ebe828 0.0px,#ece628 13.0px,#facb29 20.0px,#f69541 27.5px,#f58f45 31.0px,#f9a03b 35.0px,#f9cf28 42.0px,#ece628 50.5px,#ede528 76.5px,#f9cd28 87.0px,#faab35 92.5px,#ef7f4e 97.0px,#ce4a76 101.0px,#b12a8d 103.0px,#812c97 105.0px,#523294 107.0px,#3b2e89 107.5px,#2e2c82 108.0px,#2c2c80 119.0px,#332d85 119.5px,#493191 120.0px,#7c2d97 122.0px,#ac2a8e 124.0px,#be3684 125.0px,#e06461 128.0px,#f38a47 131.0px,#f69541 132.0px)"></i><i style="background:linear-gradient(#ebe828 0.0px,#ece628 13.5px,#facb28 20.5px,#f69740 28.0px,#f59143 31.5px,#faa538 36.0px,#f8d028 42.5px,#ece728 51.5px,#ede528 76.0px,#f9cd28 86.5px,#faab35 92.0px,#f0804e 96.5px,#ce4b75 100.5px,#b22a8d 102.5px,#822b97 104.5px,#533294 106.5px,#3d2f8b 107.0px,#2f2c82 107.5px,#2c2c80 118.5px,#302d83 119.0px,#553295 120.0px,#912896 122.5px,#b42b8c 124.0px,#da5c68 127.0px,#f38848 130.5px,#f7983f 132.0px)"></i><i style="background:linear-gradient(#ebe828 0.0px,#ede528 14.5px,#fac82a 21.5px,#f79a3e 28.0px,#f59243 31.5px,#f9a13a 35.5px,#f7d128 43.0px,#ece728 52.0px,#ede528 75.5px,#f9cd28 86.0px,#faab35 91.5px,#f0814d 96.0px,#cf4b74 100.0px,#b32a8c 102.0px,#842b97 104.0px,#543295 106.0px,#302c83 107.0px,#2c2c80 109.5px,#2e2c81 118.5px,#3a2e89 119.0px,#523294 119.5px,#8d2996 122.0px,#b12a8d 123.5px,#d4526f 126.0px,#f38749 130.0px,#f89c3d 132.0px)"></i><i style="background:linear-gradient(#ebe828 0.0px,#ede528 15.0px,#fac929 22.0px,#f89c3d 28.5px,#f69441 32.0px,#f9a339 36.0px,#f8d028 43.0px,#ece628 52.0px,#ece528 74.5px,#f8cf28 85.0px,#fab033 90.5px,#f0814d 95.5px,#d04c74 99.5px,#b42b8c 101.5px,#852b97 103.5px,#563295 105.5px,#312d83 106.5px,#2c2c80 107.5px,#2c2c80 118.0px,#332d86 118.5px,#4c3192 119.0px,#7e2c97 121.0px,#ae2a8e 123.0px,#d25071 125.5px,#f2854a 129.5px,#f89f3b 132.0px)"></i><i style="background:linear-gradient(#ebe828 0.0px,#ede528 15.5px,#fac929 22.5px,#f89d3c 29.0px,#f69740 32.5px,#faa637 36.5px,#f7d128 43.5px,#ece728 52.5px,#ede528 74.0px,#f8cf28 84.5px,#fab033 90.0px,#f1824c 95.0px,#d04d73 99.0px,#b52c8b 101.0px,#872a97 103.0px,#573295 105.0px,#312d84 106.0px,#2c2c80 107.0px,#2c2c80 117.5px,#312d84 118.0px,#563295 119.0px,#922896 121.5px,#b52c8b 123.0px,#db5c67 126.0px,#f38948 129.5px,#f9a23a 132.0px)"></i><i style="background:linear-gradient(#ebe828 0.0px,#ece528 16.0px,#faca29 23.0px,#f89f3b 29.5px,#f7993f 33.0px,#faab35 37.5px,#f7d228 44.0px,#ece728 53.0px,#ede528 73.5px,#f8cf28 84.0px,#fab033 89.5px,#f1834c 94.5px,#d14e72 98.5px,#b62d8a 100.5px,#882a97 102.5px,#593195 104.5px,#493190 105.0px,#322d85 105.5px,#2c2c80 106.0px,#2e2c82 117.5px,#3b2e8a 118.0px,#523294 118.5px,#8e2996 121.0px,#b22a8c 122.5px,#d4536f 125.0px,#f38749 129.0px,#faa538 132.0px)"></i><i style="background:linear-gradient(#ebe828 0.0px,#ece628 16.5px,#faca29 23.5px,#f9a03b 30.0px,#f79b3e 33.5px,#faae34 38.0px,#f7d128 44.0px,#ece628 53.0px,#ede528 73.0px,#f9ce28 84.0px,#faad34 89.5px,#ee7e4f 94.5px,#cd4877 98.5px,#ae2a8e 100.5px,#7e2c97 102.5px,#4c3192 104.5px,#342d86 105.0px,#2c2c80 105.5px,#2c2c80 117.0px,#342d86 117.5px,#4c3192 118.0px,#7e2c97 120.0px,#af2a8e 122.0px,#d35070 124.5px,#f2854a 128.5px,#faa736 132.0px)"></i><i style="background:linear-gradient(#ebe828 0.0px,#ece628 17.0px,#fac82a 24.5px,#f9a23a 30.5px,#f89d3c 34.0px,#fab033 38.5px,#f7d228 44.5px,#ece628 53.5px,#ede528 72.5px,#f9ce28 83.5px,#faad34 89.0px,#ef7e4f 94.0px,#cd4976 98.0px,#b02a8d 100.0px,#802c97 102.0px,#503294 104.0px,#362d87 104.5px,#2c2c80 105.0px,#2c2c80 116.5px,#312d83 117.0px,#563295 118.0px,#922896 120.5px,#b62c8b 122.0px,#db5d67 125.0px,#f38948 128.5px,#faaa35 132.0px)"></i><i style="background:linear-gradient(#ebe828 0.0px,#ece628 17.5px,#fac829 25.0px,#f9a339 31.0px,#f89f3b 34.5px,#fab332 39.0px,#f7d228 44.5px,#ece628 53.5px,#ede528 72.0px,#f9ce28 83.0px,#faae34 88.5px,#ef7f4e 93.5px,#ce4a75 97.5px,#b12a8d 99.5px,#822c97 101.5px,#523294 103.5px,#3a2e89 104.0px,#2d2c81 104.5px,#2e2c81 116.5px,#3a2e89 117.0px,#523294 117.5px,#8e2996 120.0px,#b32a8c 121.5px,#d4536f 124.0px,#f38749 128.0px,#faad34 132.0px)"></i><i style="background:linear-gradient(#ebe828 0.0px,#ede528 18.5px,#fac929 25.5px,#faa538 31.5px,#f9a23a 35.0px,#fab631 39.5px,#f6d328 45.0px,#ece628 54.0px,#ede528 71.5px,#f9ce28 82.5px,#faae34 88.0px,#f0804e 93.0px,#cf4b74 97.0px,#b32a8c 99.0px,#842b97 101.0px,#543294 103.0px,#3e2f8b 103.5px,#2f2c82 104.0px,#2c2c80 116.0px,#332d85 116.5px,#4b3192 117.0px,#7e2c97 119.0px,#af2a8e 121.0px,#d25071 123.5px,#f2854a 127.5px,#fab033 132.0px)"></i><i style="background:linear-gradient(#ebe828 0.0px,#ede528 19.0px,#fac62a 26.5px,#faa538 32.5px,#faa637 36.5px,#f7d228 45.0px,#ece628 54.0px,#ede528 70.5px,#f8d028 81.5px,#fab332 87.0px,#f38749 92.0px,#d5546e 96.0px,#b52b8b 98.5px,#862b97 100.5px,#563295 102.5px,#302d83 103.5px,#2c2c80 105.0px,#2c2c80 115.5px,#302c83 116.0px,#553295 117.0px,#922896 119.5px,#b52c8b 121.0px,#db5c67 124.0px,#f38948 127.5px,#fab232 132.0px)"></i><i style="background:linear-gradient(#ebe828 0.0px,#ece528 19.5px,#fac72a 27.0px,#faa836 32.5px,#faa637 36.0px,#fac62a 42.5px,#f0df28 50.0px,#ebe828 60.0px,#eee228 72.5px,#facb28 82.5px,#f9a438 88.5px,#ee7c50 92.5px,#cc4678 96.5px,#b62d8a 98.0px,#882a97 100.0px,#583195 102.0px,#322d84 103.0px,#2c2c80 104.0px,#2d2c81 115.5px,#382e88 116.0px,#513294 116.5px,#8d2996 119.0px,#b22a8d 120.5px,#d4526f 123.0px,#f3864a 127.0px,#fab531 132.0px)"></i><i style="background:linear-gradient(#ebe828 0.0px,#ece628 20.0px,#fac82a 27.5px,#faaa35 33.0px,#faa936 36.5px,#f6d328 45.5px,#ece628 55.0px,#ede528 70.0px,#f8cf28 81.0px,#fab033 86.5px,#f1834c 91.5px,#d25071 95.5px,#ae2a8e 98.0px,#7e2c97 100.0px,#4c3192 102.0px,#332d85 102.5px,#2c2c80 103.0px,#2c2c80 115.0px,#322d84 115.5px,#483190 116.0px,#703098 117.5px,#a22991 119.5px,#b72e89 120.5px,#dc5e66 123.5px,#f38a47 127.0px,#fab730 132.0px)"></i><i style="background:linear-gradient(#ebe828 0.0px,#ece628 20.5px,#fac62a 28.5px,#faab35 34.0px,#faaf34 38.0px,#f6d328 45.5px,#ece628 55.0px,#ede428 69.5px,#f8cf28 80.5px,#fab133 86.0px,#ef7f4f 91.5px,#ce4976 95.5px,#b12a8d 97.5px,#812c97 99.5px,#503294 101.5px,#362d87 102.0px,#2c2c80 102.5px,#2f2c82 115.0px,#3e2f8b 115.5px,#543295 116.0px,#902896 118.5px,#b42a8c 120.0px,#da5b68 123.0px,#f38849 126.5px,#fab631 131.5px,#fab92f 132.0px)"></i><i style="background:linear-gradient(#ebe828 0.0px,#ece628 21.0px,#fac72a 29.0px,#faae34 34.0px,#fab033 38.0px,#f6d428 46.0px,#ece628 55.5px,#ede428 69.0px,#f8cf28 80.0px,#fab232 85.5px,#f0804e 91.0px,#cf4b75 95.0px,#b32a8c 97.0px,#832b97 99.0px,#533294 101.0px,#3b2e8a 101.5px,#2e2c81 102.0px,#2c2c80 114.5px,#342d86 115.0px,#4e3293 115.5px,#8c2996 118.0px,#b02a8d 119.5px,#d35170 122.0px,#f2864a 126.0px,#fab431 131.0px,#fabb2f 132.0px)"></i><i style="background:linear-gradient(#ebe828 0.0px,#ede528 22.0px,#fac52b 30.0px,#faaf33 35.0px,#fab431 39.0px,#f6d428 46.0px,#ece628 55.5px,#ede428 68.5px,#f8d028 79.5px,#fab232 85.0px,#f0814d 90.5px,#d04d73 94.5px,#b52b8b 96.5px,#862b97 98.5px,#553295 100.5px,#302c83 101.5px,#2c2c80 104.0px,#2c2c80 114.0px,#302d83 114.5px,#563295 115.5px,#932895 118.0px,#b62c8a 119.5px,#d6566c 122.0px,#f38948 126.0px,#fab631 131.0px,#fabd2e 132.0px)"></i><i style="background:linear-gradient(#ebe828 0.0px,#ece528 22.5px,#fac32c 31.0px,#fab232 35.5px,#fab730 39.5px,#f5d528 46.5px,#ece628 56.0px,#eee328 69.0px,#f9ce28 79.5px,#faaf33 85.0px,#f1824c 90.0px,#d14f72 94.0px,#b72d8a 96.0px,#892a96 98.0px,#583195 100.0px,#322d84 101.0px,#2c2c80 102.0px,#2c2c80 114.0px,#372e88 114.5px,#513294 115.0px,#8e2996 117.5px,#b22a8c 119.0px,#d4536f 121.5px,#f3864a 125.5px,#fab531 130.5px,#fabf2d 132.0px)"></i><i style="background:linear-gradient(#ebe828 0.0px,#ece628 23.0px,#fac42b 31.5px,#fab431 36.0px,#fabc2e 40.5px,#f5d628 47.0px,#ece628 57.0px,#eee228 70.0px,#facb28 80.0px,#faa438 86.0px,#ef7e4f 90.0px,#cd4977 94.0px,#b02a8d 96.0px,#7f2c97 98.0px,#4d3293 100.0px,#342d86 100.5px,#2c2c80 101.0px,#2c2c80 113.5px,#312d84 114.0px,#583195 115.0px,#952895 117.5px,#b72e89 119.0px,#dc5e66 122.0px,#f38a48 125.5px,#fab730 130.5px,#fac12c 132.0px)"></i><i style="background:linear-gradient(#ebe828 0.0px,#ece628 23.5px,#fac32c 32.5px,#fab631 37.0px,#fac32b 42.0px,#f0df28 50.5px,#ece728 61.5px,#f2da28 74.0px,#fac42b 81.0px,#f7993f 87.0px,#ec7a52 90.0px,#c9437b 94.0px,#b22a8c 95.5px,#822b97 97.5px,#523294 99.5px,#392e89 100.0px,#2d2c81 100.5px,#2d2c81 113.5px,#3b2e89 114.0px,#533294 114.5px,#902896 117.0px,#b42a8c 118.5px,#da5b68 121.5px,#f38749 125.0px,#fab531 130.0px,#fac32c 132.0px)"></i><i style="background:linear-gradient(#ebe828 0.0px,#ede528 24.5px,#fac42b 33.0px,#fab930 37.5px,#fac62a 42.5px,#efe028 51.5px,#ece628 63.0px,#f4d728 75.0px,#fac52b 80.5px,#f79a3e 86.5px,#ed7b51 89.5px,#ca4579 93.5px,#b52b8b 95.0px,#862b97 97.0px,#553295 99.0px,#2f2c82 100.0px,#2c2c80 111.5px,#2c2c80 113.0px,#322d85 113.5px,#4a3191 114.0px,#7e2c97 116.0px,#af2a8d 118.0px,#d35170 120.5px,#f2854b 124.5px,#fab332 129.5px,#fac42b 132.0px)"></i><i style="background:linear-gradient(#ebe828 0.0px,#ede528 25.0px,#fac42b 34.0px,#fabc2e 38.5px,#f5d528 46.5px,#ece628 56.5px,#efe028 69.5px,#faca29 79.0px,#f9a339 85.0px,#ee7d50 89.0px,#cc4778 93.0px,#b72e89 94.5px,#952895 96.0px,#583195 98.5px,#473090 99.0px,#312d84 99.5px,#2c2c80 100.5px,#2e2c82 113.0px,#3d2f8b 113.5px,#543295 114.0px,#912896 116.5px,#b52b8b 118.0px,#da5c68 121.0px,#f38849 124.5px,#fab531 129.5px,#fac62a 132.0px)"></i><i style="background:linear-gradient(#ebe828 0.0px,#ece628 25.5px,#fac42b 35.0px,#fabf2d 39.5px,#f5d628 47.0px,#ece628 57.0px,#efe028 69.5px,#facb28 78.5px,#faa438 84.5px,#ef7e4f 88.5px,#ce4976 92.5px,#b12a8d 94.5px,#802c97 96.5px,#4f3293 98.5px,#342d86 99.0px,#2c2c80 99.5px,#2c2c80 112.5px,#332d85 113.0px,#4b3192 113.5px,#7f2c97 115.5px,#b02a8d 117.5px,#d35170 120.0px,#f2854a 124.0px,#fab332 129.0px,#fac72a 132.0px)"></i><i style="background:linear-gradient(#ebe828 0.0px,#ece628 26.0px,#fac42b 36.0px,#fac32c 40.5px,#eee228 52.5px,#ede528 64.5px,#f7d228 76.0px,#fabb2f 81.0px,#f59044 86.5px,#e2675f 90.0px,#c33c80 93.0px,#b42a8c 94.0px,#842b97 96.0px,#533294 98.0px,#3c2e8a 98.5px,#2e2c81 99.0px,#2e2c82 112.5px,#3e2f8b 113.0px,#543295 113.5px,#922896 116.0px,#b52c8b 117.5px,#db5c67 120.5px,#f38849 124.0px,#fab531 129.0px,#fac929 132.0px)"></i><i style="background:linear-gradient(#ebe828 0.0px,#ede528 27.0px,#fac62a 36.5px,#fac62a 41.0px,#eee228 53.0px,#ede428 65.0px,#f7d128 76.0px,#fab631 81.5px,#f38749 87.0px,#d6556d 91.0px,#b62d8a 93.5px,#882a97 95.5px,#573295 97.5px,#302d83 98.5px,#2c2c80 100.0px,#2c2c80 112.0px,#332d85 112.5px,#4c3192 113.0px,#802c97 115.0px,#b02a8d 117.0px,#d35170 119.5px,#f2854a 123.5px,#fab332 128.5px,#faca29 132.0px)"></i><i style="background:linear-gradient(#ebe828 0.0px,#ece528 27.5px,#fac72a 37.5px,#faca29 42.0px,#eee328 54.0px,#eee328 66.0px,#f9ce28 76.5px,#fab033 82.0px,#ef7e4f 87.5px,#cd4976 91.5px,#b02a8d 93.5px,#802c97 95.5px,#4d3192 97.5px,#332d85 98.0px,#2c2c80 98.5px,#2e2c82 112.0px,#3e2f8b 112.5px,#543295 113.0px,#922896 115.5px,#b52c8b 117.0px,#db5c67 120.0px,#f38849 123.5px,#fab531 128.5px,#facc28 132.0px)"></i><i style="background:linear-gradient(#ebe828 0.0px,#ece628 28.0px,#fac929 39.0px,#ede528 55.5px,#efe028 68.0px,#facb28 77.0px,#faa537 83.0px,#ec7a52 87.5px,#c9447a 91.5px,#b42a8c 93.0px,#842b97 95.0px,#533294 97.0px,#3b2e89 97.5px,#2d2c81 98.0px,#2c2c80 111.5px,#332d85 112.0px,#4c3192 112.5px,#7f2c97 114.5px,#b02a8d 116.5px,#d35170 119.0px,#f2854a 123.0px,#fab332 128.0px,#facd28 132.0px)"></i><i style="background:linear-gradient(#ebe828 0.0px,#ede528 29.0px,#facb28 39.0px,#f4d828 47.0px,#ece528 57.5px,#f1dd28 69.5px,#fac72a 77.5px,#f89f3b 83.5px,#ee7c50 87.0px,#cc4778 91.0px,#b72d8a 92.5px,#882a97 94.5px,#573295 96.5px,#302d83 97.5px,#2c2c80 99.0px,#2e2c81 111.5px,#3d2f8b 112.0px,#543295 112.5px,#912896 115.0px,#b52b8b 116.5px,#da5c67 119.5px,#f38849 123.0px,#fab531 128.0px,#f9cd28 132.0px)"></i><i style="background:linear-gradient(#ebe828 0.0px,#ece528 29.5px,#f9ce28 39.0px,#f4d728 46.5px,#ece528 57.0px,#f1dd28 69.0px,#fac829 77.0px,#f9a03a 83.0px,#ec7953 87.0px,#c8427c 91.0px,#b12a8d 92.5px,#812c97 94.5px,#4e3293 96.5px,#342d86 97.0px,#2c2c80 97.5px,#2c2c80 111.0px,#322d85 111.5px,#4a3191 112.0px,#7f2c97 114.0px,#b02a8d 116.0px,#d35170 118.5px,#f2854b 122.5px,#fab332 127.5px,#f9ce28 132.0px)"></i><i style="background:linear-gradient(#ebe828 0.0px,#ece628 30.0px,#f8d028 39.5px,#f2db28 48.0px,#ece528 59.0px,#f3d928 71.0px,#fac42b 77.5px,#f7993e 83.5px,#ed7b51 86.5px,#ca457a 90.5px,#b52b8b 92.0px,#852b97 94.0px,#543295 96.0px,#3d2f8b 96.5px,#2e2c82 97.0px,#2d2c81 111.0px,#3a2e89 111.5px,#533294 112.0px,#902896 114.5px,#b52b8c 116.0px,#da5b68 119.0px,#f38749 122.5px,#fab431 127.5px,#f8cf28 132.0px)"></i><i style="background:linear-gradient(#ebe828 0.0px,#ede528 31.0px,#f7d128 40.0px,#ece528 57.5px,#f2dc28 69.5px,#fac52b 77.0px,#f79b3d 83.0px,#eb7754 86.5px,#cd4877 90.0px,#ae2a8e 92.0px,#7e2c97 94.0px,#593195 95.5px,#483190 96.0px,#322d84 96.5px,#2c2c80 97.5px,#2c2c80 110.5px,#312d84 111.0px,#583195 112.0px,#962895 114.5px,#b82f89 116.0px,#dc5e66 119.0px,#f38a48 122.5px,#fab631 127.5px,#f8d028 132.0px)"></i><i style="background:linear-gradient(#ebe828 0.0px,#ece628 31.5px,#f6d328 40.5px,#ece628 57.5px,#f2db28 69.5px,#fac62a 76.5px,#f89d3c 82.5px,#ec7a52 86.0px,#c9437b 90.0px,#b32a8c 91.5px,#832b97 93.5px,#523294 95.5px,#382e88 96.0px,#2c2c80 96.5px,#2c2c80 110.5px,#362d87 111.0px,#513294 111.5px,#8f2896 114.0px,#b32a8c 115.5px,#d95a69 118.5px,#f3864a 122.0px,#fab432 127.0px,#f8d128 132.0px)"></i><i style="background:linear-gradient(#ebe828 0.0px,#ede528 32.5px,#f5d528 41.0px,#ece628 58.0px,#f3da28 70.0px,#fac52b 76.5px,#f79b3e 82.5px,#ea7654 86.0px,#cc4778 89.5px,#b72d8a 91.0px,#882a96 93.0px,#573295 95.0px,#302d83 96.0px,#2c2c80 97.5px,#2c2c80 110.0px,#2f2c83 110.5px,#563295 111.5px,#882a97 113.5px,#b72d8a 115.5px,#d6566c 118.0px,#f38948 122.0px,#fab531 127.0px,#f7d128 132.0px)"></i><i style="background:linear-gradient(#ebe828 0.0px,#ece628 33.0px,#f4d728 41.5px,#ece628 58.0px,#f3d928 70.0px,#fac32b 76.5px,#f7983f 82.5px,#ec7953 85.5px,#c8427b 89.5px,#b22a8d 91.0px,#822c97 93.0px,#503294 95.0px,#342d86 95.5px,#2c2c80 96.0px,#2c2c80 110.0px,#332d85 110.5px,#4d3192 111.0px,#802c97 113.0px,#b12a8d 115.0px,#d3526f 117.5px,#f2854a 121.5px,#fab332 126.5px,#f8d028 131.5px,#f7d228 132.0px)"></i><i style="background:linear-gradient(#ebe828 0.0px,#ece528 34.0px,#f3d928 42.0px,#ece628 58.0px,#f3d928 70.0px,#fac52b 76.0px,#f79a3e 82.0px,#ea7655 85.5px,#cb4679 89.0px,#b62d8a 90.5px,#872a97 92.5px,#563295 94.5px,#2f2c82 95.5px,#2c2c80 102.0px,#2d2c81 110.0px,#3b2e8a 110.5px,#533294 111.0px,#912896 113.5px,#b52b8b 115.0px,#da5c68 118.0px,#f38749 121.5px,#fab431 126.5px,#f7d128 131.5px,#f7d228 132.0px)"></i><i style="background:linear-gradient(#ebe828 0.0px,#ede528 35.0px,#f2db28 43.0px,#ece628 58.0px,#f4d828 70.0px,#fac32b 76.0px,#f7983f 82.0px,#ec7953 85.0px,#c8427b 89.0px,#b22a8d 90.5px,#812c97 92.5px,#4f3293 94.5px,#342d86 95.0px,#2c2c80 95.5px,#2c2c80 109.5px,#312d83 110.0px,#583195 111.0px,#962895 113.5px,#b82f89 115.0px,#dc5e66 118.0px,#f38948 121.5px,#fab631 126.5px,#f7d128 131.5px,#f6d328 132.0px)"></i><i style="background:linear-gradient(#ebe828 0.0px,#ede528 36.0px,#f1dd28 44.0px,#ece628 58.5px,#f4d828 70.0px,#fac22c 76.0px,#f69641 82.0px,#ea7655 85.0px,#cb4679 88.5px,#b62d8a 90.0px,#872a97 92.0px,#563295 94.0px,#2f2c82 95.0px,#2c2c80 109.5px,#342d86 110.0px,#503294 110.5px,#8e2996 113.0px,#b32a8c 114.5px,#d4536f 117.0px,#f2864a 121.0px,#fab332 126.0px,#f8d028 131.0px,#f6d428 132.0px)"></i><i style="background:linear-gradient(#ebe828 0.0px,#ede528 37.0px,#f0df28 45.0px,#ece628 59.0px,#f5d628 70.5px,#fac12c 76.0px,#f69442 82.0px,#e97357 85.0px,#c8427b 88.5px,#b22a8d 90.0px,#822c97 92.0px,#4f3294 94.0px,#342d86 94.5px,#2c2c80 95.0px,#2e2c81 109.5px,#3d2f8b 110.0px,#543295 110.5px,#922896 113.0px,#b62c8b 114.5px,#d6556d 117.0px,#f38849 121.0px,#fab531 126.0px,#f7d128 131.0px,#f6d428 132.0px)"></i><i style="background:linear-gradient(#ebe828 0.0px,#ede528 38.0px,#eee228 46.5px,#ece628 60.0px,#f6d428 71.0px,#fac02d 76.0px,#f69640 81.5px,#ea7654 84.5px,#cc4778 88.0px,#b72d8a 89.5px,#882a97 91.5px,#573295 93.5px,#302c83 94.5px,#2c2c80 97.5px,#2c2c80 109.0px,#312d84 109.5px,#583195 110.5px,#962894 113.0px,#af2a8d 114.0px,#d25071 116.5px,#f2844b 120.5px,#fab232 125.5px,#f8d028 130.5px,#f5d528 132.0px)"></i><i style="background:linear-gradient(#ebe828 0.0px,#ede528 39.5px,#ece628 49.5px,#ede428 62.0px,#f8cf28 72.5px,#fab133 78.0px,#ef7f4e 83.5px,#cf4b75 87.5px,#b32a8c 89.5px,#832b97 91.5px,#513294 93.5px,#362d87 94.0px,#2c2c80 94.5px,#2c2c80 109.0px,#342d86 109.5px,#4f3294 110.0px,#8e2996 112.5px,#b22a8c 114.0px,#d4536f 116.5px,#f2864a 120.5px,#fab332 125.5px,#f8d028 130.5px,#f5d528 132.0px)"></i><i style="background:linear-gradient(#ebe828 0.0px,#ede528 41.5px,#ede528 61.0px,#f8d028 72.0px,#fab332 77.5px,#f1834c 83.0px,#d25071 87.0px,#af2a8e 89.5px,#7e2c97 91.5px,#583195 93.0px,#312d84 94.0px,#2c2c80 95.0px,#2d2c81 109.0px,#3b2e8a 109.5px,#533294 110.0px,#922896 112.5px,#b52c8b 114.0px,#da5c68 117.0px,#f38749 120.5px,#fab431 125.5px,#f8d128 130.5px,#f5d628 132.0px)"></i><i style="background:linear-gradient(#ebe828 0.0px,#ede528 61.5px,#f8d028 72.0px,#fab232 77.5px,#f0814d 83.0px,#d04d73 87.0px,#b52b8b 89.0px,#852b97 91.0px,#533294 93.0px,#3b2e8a 93.5px,#2d2c81 94.0px,#2c2c80 108.5px,#302c83 109.0px,#573295 110.0px,#892a96 112.0px,#ae2a8e 113.5px,#cd4877 115.5px,#ee7e4f 119.5px,#faad34 124.5px,#f8cf28 130.0px,#f5d628 132.0px)"></i><i style="background:linear-gradient(#ebe828 0.0px,#ede528 61.5px,#f8cf28 72.0px,#fab133 77.5px,#ef7f4f 83.0px,#ce4a76 87.0px,#b12a8d 89.0px,#812c97 91.0px,#4d3192 93.0px,#332d85 93.5px,#2c2c80 94.0px,#2c2c80 108.5px,#322d85 109.0px,#4b3191 109.5px,#802c97 111.5px,#b12a8d 113.5px,#d35170 116.0px,#f2854b 120.0px,#fab232 125.0px,#f8d028 130.0px,#f4d628 132.0px)"></i><i style="background:linear-gradient(#ebe828 0.0px,#ede528 61.5px,#f8cf28 72.0px,#fab033 77.5px,#ee7d50 83.0px,#cc4778 87.0px,#b72e89 88.5px,#952895 90.0px,#633197 92.0px,#573295 92.5px,#302c83 93.5px,#2c2c80 96.5px,#2c2c80 108.5px,#352d87 109.0px,#513294 109.5px,#8f2896 112.0px,#b42a8c 113.5px,#d95a69 116.5px,#f48c47 120.5px,#fab730 125.5px,#f7d228 130.5px,#f4d728 132.0px)"></i><i style="background:linear-gradient(#ebe828 0.0px,#ece528 61.5px,#f9cf28 72.0px,#faae34 77.5px,#f0804d 82.5px,#d04c74 86.5px,#b52b8b 88.5px,#852b97 90.5px,#533294 92.5px,#392e89 93.0px,#2c2c80 93.5px,#2d2c81 108.5px,#3c2e8a 109.0px,#543295 109.5px,#922896 112.0px,#b62c8b 113.5px,#db5c67 116.5px,#f38749 120.0px,#fab431 125.0px,#f8d128 130.0px,#f4d728 132.0px)"></i><i style="background:linear-gradient(#ebe828 0.0px,#ece528 61.5px,#f9ce28 72.0px,#faad34 77.5px,#ef7f4f 82.5px,#ce4a76 86.5px,#b12a8d 88.5px,#812c97 90.5px,#4d3192 92.5px,#332d85 93.0px,#2c2c80 93.5px,#2c2c80 108.0px,#2f2c83 108.5px,#573295 109.5px,#892a96 111.5px,#ad2a8e 113.0px,#c6407d 114.5px,#e87258 118.0px,#f69342 121.0px,#fabf2d 126.5px,#f5d628 131.5px,#f4d728 132.0px)"></i><i style="background:linear-gradient(#ebe828 0.0px,#ede528 62.0px,#facc28 72.5px,#faa438 78.5px,#ee7d50 82.5px,#cd4877 86.5px,#ae2a8e 88.5px,#7d2d97 90.5px,#583195 92.0px,#302d83 93.0px,#2c2c80 94.5px,#2c2c80 108.0px,#312d84 108.5px,#483190 109.0px,#663197 110.0px,#982894 112.0px,#b02a8d 113.0px,#d35170 115.5px,#f2844b 119.5px,#fab232 124.5px,#f8cf28 129.5px,#f4d828 132.0px)"></i><i style="background:linear-gradient(#ebe828 0.0px,#ede528 62.0px,#facc28 72.5px,#f9a339 78.5px,#ed7c51 82.5px,#cb4679 86.5px,#b62c8b 88.0px,#862a97 90.0px,#543295 92.0px,#3d2f8b 92.5px,#2e2c81 93.0px,#2c2c80 108.0px,#332d85 108.5px,#4d3293 109.0px,#812c97 111.0px,#b22a8d 113.0px,#d4526f 115.5px,#f2854a 119.5px,#fab332 124.5px,#f8d028 129.5px,#f4d828 132.0px)"></i><i style="background:linear-gradient(#ebe828 0.0px,#ece528 62.0px,#f9cd28 72.0px,#faab35 77.5px,#f0804e 82.0px,#cf4c74 86.0px,#b42a8c 88.0px,#832b97 90.0px,#513294 92.0px,#362d87 92.5px,#2c2c80 93.0px,#2c2c80 108.0px,#362d87 108.5px,#513294 109.0px,#902896 111.5px,#b42a8c 113.0px,#da5b68 116.0px,#f3864a 119.5px,#fab332 124.5px,#f8d028 129.5px,#f4d828 132.0px)"></i><i style="background:linear-gradient(#ebe828 0.0px,#ece528 62.0px,#f9cd28 72.0px,#faa637 78.0px,#ef7f4e 82.0px,#ce4a75 86.0px,#b12a8d 88.0px,#812c97 90.0px,#4c3192 92.0px,#332d85 92.5px,#2c2c80 93.0px,#2d2c80 108.0px,#3a2e89 108.5px,#533294 109.0px,#912896 111.5px,#b52b8b 113.0px,#da5c68 116.0px,#f38749 119.5px,#fab432 124.5px,#f8d028 129.5px,#f3d828 132.0px)"></i><i style="background:linear-gradient(#ebe828 0.0px,#ece628 62.0px,#facd28 72.0px,#faa538 78.0px,#ef7e4f 82.0px,#cd4977 86.0px,#af2a8d 88.0px,#7e2c97 90.0px,#593195 91.5px,#47308f 92.0px,#312d84 92.5px,#2c2c80 93.5px,#2e2c81 108.0px,#3e2f8b 108.5px,#553295 109.0px,#872a97 111.0px,#b62d8a 113.0px,#d6566c 115.5px,#f38849 119.5px,#fab431 124.5px,#f8d128 129.5px,#f3d828 132.0px)"></i><i style="background:linear-gradient(#ebe828 0.0px,#ede528 62.5px,#faca29 72.5px,#f9a03a 78.5px,#eb7754 82.5px,#cc4778 86.0px,#b72e89 87.5px,#952895 89.0px,#633197 91.0px,#563295 91.5px,#2f2c82 92.5px,#2c2c80 100.5px,#2f2c82 108.0px,#563295 109.0px,#892a96 111.0px,#ad2a8e 112.5px,#c63f7d 114.0px,#e87158 117.5px,#f59342 120.5px,#fabf2d 126.0px,#f5d628 131.0px,#f3d928 132.0px)"></i><i style="background:linear-gradient(#ebe828 0.0px,#ede528 62.5px,#facc28 72.0px,#f9a438 78.0px,#ee7c50 82.0px,#cb4678 86.0px,#b62d8a 87.5px,#872a97 89.5px,#553295 91.5px,#3e2f8b 92.0px,#2e2c81 92.5px,#2c2c80 107.5px,#302d83 108.0px,#583195 109.0px,#8a2a96 111.0px,#af2a8e 112.5px,#d25071 115.0px,#f2844b 119.0px,#fab132 124.0px,#f8cf28 129.0px,#f3d928 132.0px)"></i><i style="background:linear-gradient(#ebe828 0.0px,#ece528 62.5px,#facc28 72.0px,#f9a339 78.0px,#ed7c51 82.0px,#cb4579 86.0px,#b52b8b 87.5px,#852b97 89.5px,#533294 91.5px,#3a2e89 92.0px,#2d2c80 92.5px,#2c2c80 107.5px,#312d84 108.0px,#473090 108.5px,#653197 109.5px,#972894 111.5px,#b02a8d 112.5px,#d35170 115.0px,#f2844b 119.0px,#fab232 124.0px,#f8cf28 129.0px,#f3d928 132.0px)"></i><i style="background:linear-gradient(#ebe828 0.0px,#ece528 62.5px,#facc28 72.0px,#f9a339 78.0px,#ed7b51 82.0px,#ca457a 86.0px,#b42b8c 87.5px,#842b97 89.5px,#523294 91.5px,#372e88 92.0px,#2c2c80 92.5px,#2c2c80 107.5px,#322d84 108.0px,#493191 108.5px,#732f98 110.0px,#a52990 112.0px,#b93088 113.0px,#dd5f65 116.0px,#f38a48 119.5px,#fab631 124.5px,#f7d128 129.5px,#f3d928 132.0px)"></i><i style="background:linear-gradient(#ebe828 0.0px,#ece628 62.5px,#facc28 72.0px,#f9a339 78.0px,#ed7b51 82.0px,#ca447a 86.0px,#b42a8c 87.5px,#832b97 89.5px,#513294 91.5px,#352d87 92.0px,#2c2c80 92.5px,#2c2c80 107.5px,#322d85 108.0px,#4b3191 108.5px,#802c97 110.5px,#b12a8d 112.5px,#d35270 115.0px,#f2854b 119.0px,#fab232 124.0px,#f8d028 129.0px,#f3d928 132.0px)"></i><i style="background:linear-gradient(#ebe828 0.0px,#ece628 62.5px,#facc28 72.0px,#f9a339 78.0px,#ed7b51 82.0px,#c9447a 86.0px,#b32a8c 87.5px,#832b97 89.5px,#503294 91.5px,#342d86 92.0px,#2c2c80 92.5px,#2c2c80 107.5px,#322d85 108.0px,#4c3192 108.5px,#812c97 110.5px,#b12a8d 112.5px,#d4526f 115.0px,#f2854a 119.0px,#fab232 124.0px,#f8d028 129.0px,#f3d928 132.0px)"></i><i style="background:linear-gradient(#ebe828 0.0px,#ece628 62.5px,#facc28 72.0px,#f9a339 78.0px,#ed7a52 82.0px,#c9437a 86.0px,#b32a8c 87.5px,#822b97 89.5px,#503294 91.5px,#342d86 92.0px,#2c2c80 92.5px,#2c2c80 107.5px,#332d85 108.0px,#4c3192 108.5px,#812c97 110.5px,#b22a8d 112.5px,#d4526f 115.0px,#f2854a 119.0px,#fab332 124.0px,#f8d028 129.0px,#f3d928 132.0px)"></i><i style="background:linear-gradient(#ebe828 0.0px,#ece628 62.5px,#facc28 72.0px,#f9a339 78.0px,#ed7a52 82.0px,#c9437a 86.0px,#b32a8c 87.5px,#822b97 89.5px,#4f3294 91.5px,#342d86 92.0px,#2c2c80 92.5px,#2c2c80 107.5px,#332d85 108.0px,#4c3192 108.5px,#812c97 110.5px,#b22a8d 112.5px,#d4526f 115.0px,#f2854a 119.0px,#fab332 124.0px,#f8d028 129.0px,#f3d928 132.0px)"></i><i style="background:linear-gradient(#ebe828 0.0px,#ece628 62.5px,#facc28 72.0px,#f9a339 78.0px,#ed7b51 82.0px,#c9447a 86.0px,#b32a8c 87.5px,#832b97 89.5px,#503294 91.5px,#342d86 92.0px,#2c2c80 92.5px,#2c2c80 107.5px,#322d85 108.0px,#4c3192 108.5px,#812c97 110.5px,#b22a8d 112.5px,#d4526f 115.0px,#f2854a 119.0px,#fab232 124.0px,#f8d028 129.0px,#f3d928 132.0px)"></i><i style="background:linear-gradient(#ebe828 0.0px,#ece628 62.5px,#facc28 72.0px,#f9a339 78.0px,#ed7b51 82.0px,#ca447a 86.0px,#b42a8c 87.5px,#832b97 89.5px,#513294 91.5px,#352d86 92.0px,#2c2c80 92.5px,#2c2c80 107.5px,#322d85 108.0px,#4b3191 108.5px,#802c97 110.5px,#b12a8d 112.5px,#d35270 115.0px,#f2854b 119.0px,#fab232 124.0px,#f8d028 129.0px,#f3d928 132.0px)"></i><i style="background:linear-gradient(#ebe828 0.0px,#ece528 62.5px,#facc28 72.0px,#f9a339 78.0px,#ed7b51 82.0px,#ca457a 86.0px,#b42a8c 87.5px,#842b97 89.5px,#523294 91.5px,#372d87 92.0px,#2c2c80 92.5px,#2c2c80 107.5px,#322d84 108.0px,#493191 108.5px,#732f98 110.0px,#a52990 112.0px,#b93088 113.0px,#dd5f65 116.0px,#f38a47 119.5px,#fab631 124.5px,#f7d128 129.5px,#f3d928 132.0px)"></i><i style="background:linear-gradient(#ebe828 0.0px,#ece528 62.5px,#facc28 72.0px,#f9a339 78.0px,#ed7c51 82.0px,#cb4579 86.0px,#b52b8b 87.5px,#852b97 89.5px,#533294 91.5px,#3a2e89 92.0px,#2c2c80 92.5px,#2c2c80 107.5px,#312d84 108.0px,#483090 108.5px,#653197 109.5px,#982894 111.5px,#b02a8d 112.5px,#d35170 115.0px,#f2844b 119.0px,#fab232 124.0px,#f8cf28 129.0px,#f3d928 132.0px)"></i><i style="background:linear-gradient(#ebe828 0.0px,#ede528 62.5px,#facc28 72.0px,#f9a438 78.0px,#ee7c50 82.0px,#cb4679 86.0px,#b62c8a 87.5px,#872a97 89.5px,#543295 91.5px,#3d2f8a 92.0px,#2e2c81 92.5px,#2c2c80 107.5px,#302d83 108.0px,#583195 109.0px,#8a2a96 111.0px,#af2a8d 112.5px,#d25071 115.0px,#f2844b 119.0px,#fab232 124.0px,#f8cf28 129.0px,#f3d928 132.0px)"></i><i style="background:linear-gradient(#ebe828 0.0px,#ede528 62.5px,#faca29 72.5px,#f9a03a 78.5px,#eb7754 82.5px,#cc4778 86.0px,#b72e89 87.5px,#942895 89.0px,#633196 91.0px,#563295 91.5px,#2f2c82 92.5px,#2c2c80 107.5px,#2f2c82 108.0px,#573295 109.0px,#892a96 111.0px,#ae2a8e 112.5px,#c6407d 114.0px,#e87258 117.5px,#f69342 120.5px,#fabf2d 126.0px,#f5d628 131.0px,#f3d928 132.0px)"></i><i style="background:linear-gradient(#ebe828 0.0px,#ece628 62.0px,#facd28 72.0px,#faa538 78.0px,#ef7e4f 82.0px,#cd4877 86.0px,#af2a8d 88.0px,#7e2c97 90.0px,#583195 91.5px,#302d83 92.5px,#2c2c80 94.0px,#2e2c82 108.0px,#553295 109.0px,#872a97 111.0px,#b62d8a 113.0px,#d6566c 115.5px,#f38849 119.5px,#fab531 124.5px,#f8d128 129.5px,#f3d928 132.0px)"></i><i style="background:linear-gradient(#ebe828 0.0px,#ece528 62.0px,#f9cd28 72.0px,#faa537 78.0px,#ef7f4f 82.0px,#ce4a76 86.0px,#b12a8d 88.0px,#802c97 90.0px,#4b3192 92.0px,#322d85 92.5px,#2c2c80 93.0px,#2d2c81 108.0px,#3b2e89 108.5px,#533294 109.0px,#922896 111.5px,#b52c8b 113.0px,#da5c67 116.0px,#f38749 119.5px,#fab431 124.5px,#f8d028 129.5px,#f3d828 132.0px)"></i><i style="background:linear-gradient(#ebe828 0.0px,#ece528 62.0px,#f9cd28 72.0px,#faaa35 77.5px,#f0804e 82.0px,#cf4c74 86.0px,#b32a8c 88.0px,#832b97 90.0px,#513294 92.0px,#352d86 92.5px,#2c2c80 93.0px,#2c2c80 108.0px,#372d87 108.5px,#513294 109.0px,#902896 111.5px,#b42a8c 113.0px,#da5b68 116.0px,#f3864a 119.5px,#fab332 124.5px,#f8d028 129.5px,#f4d828 132.0px)"></i><i style="background:linear-gradient(#ebe828 0.0px,#ede528 62.0px,#facc28 72.5px,#f9a339 78.5px,#ed7c51 82.5px,#cb4679 86.5px,#b52c8b 88.0px,#862b97 90.0px,#543294 92.0px,#3c2e8a 92.5px,#2d2c81 93.0px,#2c2c80 108.0px,#332d85 108.5px,#4e3293 109.0px,#8e2996 111.5px,#b22a8c 113.0px,#d4536f 115.5px,#f2854a 119.5px,#fab332 124.5px,#f8d028 129.5px,#f4d828 132.0px)"></i><i style="background:linear-gradient(#ebe828 0.0px,#ede528 62.0px,#facc28 72.5px,#faa438 78.5px,#ee7d50 82.5px,#cc4878 86.5px,#b72e89 88.0px,#952895 89.5px,#633197 91.5px,#573295 92.0px,#302c83 93.0px,#2c2c80 95.5px,#2c2c80 108.0px,#322d84 108.5px,#493191 109.0px,#732f98 110.5px,#a42990 112.5px,#b93088 113.5px,#dd5f65 116.5px,#f38a48 120.0px,#fab631 125.0px,#f7d128 130.0px,#f4d828 132.0px)"></i><i style="background:linear-gradient(#ebe828 0.0px,#ece528 61.5px,#f9ce28 72.0px,#faad34 77.5px,#ef7f4f 82.5px,#ce4a76 86.5px,#b12a8d 88.5px,#802c97 90.5px,#4b3192 92.5px,#322d85 93.0px,#2c2c80 93.5px,#2c2c80 108.0px,#302c83 108.5px,#573295 109.5px,#892a96 111.5px,#ae2a8e 113.0px,#d25071 115.5px,#f2834b 119.5px,#fab133 124.5px,#f8cf28 129.5px,#f4d728 132.0px)"></i><i style="background:linear-gradient(#ebe828 0.0px,#ece528 61.5px,#f9ce28 72.0px,#faae34 77.5px,#f0804e 82.5px,#cf4c74 86.5px,#b42a8c 88.5px,#842b97 90.5px,#523294 92.5px,#372e88 93.0px,#2c2c80 93.5px,#2e2c81 108.5px,#3d2f8b 109.0px,#543295 109.5px,#932896 112.0px,#b62c8a 113.5px,#d6556d 116.0px,#f38849 120.0px,#fab431 125.0px,#f8d128 130.0px,#f4d728 132.0px)"></i><i style="background:linear-gradient(#ebe828 0.0px,#ede528 61.5px,#f8cf28 72.0px,#faaf33 77.5px,#f1824c 82.5px,#d14e72 86.5px,#b72d8a 88.5px,#882a97 90.5px,#563295 92.5px,#2f2c82 93.5px,#2c2c80 108.5px,#372d87 109.0px,#513294 109.5px,#902896 112.0px,#b42a8c 113.5px,#da5b68 116.5px,#f3864a 120.0px,#fab432 125.0px,#f8d028 130.0px,#f4d728 132.0px)"></i><i style="background:linear-gradient(#ebe828 0.0px,#ede528 61.5px,#f8cf28 72.0px,#fab033 77.5px,#ef7e4f 83.0px,#ce4976 87.0px,#b02a8d 89.0px,#802c97 91.0px,#4b3191 93.0px,#322d85 93.5px,#2c2c80 94.0px,#2c2c80 108.5px,#332d85 109.0px,#4c3192 109.5px,#812c97 111.5px,#b12a8d 113.5px,#d3526f 116.0px,#f2854a 120.0px,#fab332 125.0px,#f8d028 130.0px,#f4d628 132.0px)"></i><i style="background:linear-gradient(#ebe828 0.0px,#ede528 61.5px,#f8d028 72.0px,#fab232 77.5px,#f0804e 83.0px,#d04c74 87.0px,#b42a8c 89.0px,#842b97 91.0px,#523294 93.0px,#392e89 93.5px,#2c2c80 94.0px,#2c2c80 108.5px,#302d83 109.0px,#583195 110.0px,#8a2a96 112.0px,#ae2a8e 113.5px,#d25071 116.0px,#f2844b 120.0px,#fab232 125.0px,#f8cf28 130.0px,#f5d628 132.0px)"></i><i style="background:linear-gradient(#ebe828 0.0px,#ede528 42.0px,#ede528 61.0px,#f8d028 72.0px,#fab332 77.5px,#f1824c 83.0px,#d24f72 87.0px,#b72e89 89.0px,#952895 90.5px,#573295 93.0px,#302d83 94.0px,#2c2c80 95.5px,#2e2c81 109.0px,#3d2f8a 109.5px,#543295 110.0px,#922896 112.5px,#b62c8b 114.0px,#d6556d 116.5px,#f38849 120.5px,#fab431 125.5px,#f7d128 130.5px,#f5d628 132.0px)"></i><i style="background:linear-gradient(#ebe828 0.0px,#ece528 39.5px,#ece628 49.5px,#ede428 62.0px,#f8cf28 72.5px,#fab133 78.0px,#ef7f4e 83.5px,#ce4b75 87.5px,#b22a8c 89.5px,#822b97 91.5px,#503294 93.5px,#342d86 94.0px,#2c2c80 94.5px,#2c2c80 109.0px,#352d86 109.5px,#503294 110.0px,#8f2996 112.5px,#b32a8c 114.0px,#d4536e 116.5px,#f2864a 120.5px,#fab332 125.5px,#f8d028 130.5px,#f5d528 132.0px)"></i><i style="background:linear-gradient(#ebe828 0.0px,#ece628 38.0px,#eee228 46.5px,#ece628 60.0px,#f6d428 71.0px,#fabf2d 76.0px,#f69641 81.5px,#ea7655 84.5px,#cb4679 88.0px,#b62d8a 89.5px,#872a97 91.5px,#553295 93.5px,#2f2c82 94.5px,#2c2c80 109.0px,#312d84 109.5px,#483190 110.0px,#653197 111.0px,#972894 113.0px,#b02a8d 114.0px,#d35170 116.5px,#f2844b 120.5px,#fab232 125.5px,#f8d028 130.5px,#f5d528 132.0px)"></i><i style="background:linear-gradient(#ebe828 0.0px,#ece528 37.0px,#efe028 45.0px,#ece628 59.0px,#f5d628 70.5px,#fac12c 76.0px,#f7983f 81.5px,#ec7953 84.5px,#c8427c 88.5px,#b12a8d 90.0px,#802c97 92.0px,#4d3192 94.0px,#332d85 94.5px,#2c2c80 95.0px,#2e2c82 109.5px,#553295 110.5px,#932895 113.0px,#b62d8a 114.5px,#d6566c 117.0px,#f38849 121.0px,#fab531 126.0px,#f7d128 131.0px,#f6d428 132.0px)"></i><i style="background:linear-gradient(#ebe828 0.0px,#ece528 36.0px,#f1de28 44.0px,#ece628 58.5px,#f4d828 70.0px,#fac52b 75.5px,#f79a3e 81.5px,#ed7b51 84.5px,#cb4579 88.5px,#b52c8b 90.0px,#862a97 92.0px,#553295 94.0px,#3e2f8b 94.5px,#2e2c82 95.0px,#2c2c80 109.5px,#362d87 110.0px,#513294 110.5px,#8f2896 113.0px,#b32a8c 114.5px,#d95a69 117.5px,#f3864a 121.0px,#fab432 126.0px,#f8d028 131.0px,#f6d428 132.0px)"></i><i style="background:linear-gradient(#ebe828 0.0px,#ece528 35.0px,#f2db28 43.0px,#ece628 58.5px,#f4d828 70.0px,#fac32b 76.0px,#f79840 82.0px,#eb7853 85.0px,#c7417c 89.0px,#b02a8d 90.5px,#802c97 92.5px,#4c3192 94.5px,#332d85 95.0px,#2c2c80 95.5px,#2c2c80 109.5px,#312d84 110.0px,#483190 110.5px,#653197 111.5px,#972894 113.5px,#af2a8d 114.5px,#d35170 117.0px,#f2844b 121.0px,#fab232 126.0px,#f8d028 131.0px,#f6d328 132.0px)"></i><i style="background:linear-gradient(#ebe828 0.0px,#ece628 34.0px,#f3d928 42.0px,#ece628 58.0px,#f3d828 70.0px,#fac42b 76.0px,#f79a3e 82.0px,#ed7b51 85.0px,#cb4579 89.0px,#b52c8b 90.5px,#862a97 92.5px,#553295 94.5px,#3e2f8b 95.0px,#2e2c82 95.5px,#2e2c81 110.0px,#3e2f8b 110.5px,#543295 111.0px,#922896 113.5px,#b62c8b 115.0px,#d6556d 117.5px,#f38849 121.5px,#fab531 126.5px,#f7d128 131.5px,#f6d328 132.0px)"></i><i style="background:linear-gradient(#ebe828 0.0px,#ede528 33.5px,#f4d728 41.5px,#ece628 58.0px,#f3d928 70.0px,#fac32c 76.5px,#f7983f 82.5px,#ec7853 85.5px,#c8427c 89.5px,#b12a8d 91.0px,#802c97 93.0px,#4d3193 95.0px,#332d85 95.5px,#2c2c80 96.0px,#2c2c80 110.0px,#342d86 110.5px,#4f3293 111.0px,#8e2996 113.5px,#b22a8d 115.0px,#d4526f 117.5px,#f2864a 121.5px,#fab332 126.5px,#f8d028 131.5px,#f7d228 132.0px)"></i><i style="background:linear-gradient(#ebe828 0.0px,#ece528 32.5px,#f5d628 41.0px,#ece628 58.0px,#f3d928 70.0px,#fac52b 76.5px,#f79a3e 82.5px,#ea7655 86.0px,#cb4679 89.5px,#b62c8a 91.0px,#872a97 93.0px,#563295 95.0px,#2f2c82 96.0px,#2c2c80 110.0px,#302d83 110.5px,#573295 111.5px,#892a96 113.5px,#ae2a8e 115.0px,#c6407d 116.5px,#e87258 120.0px,#f69342 123.0px,#fac02d 128.5px,#f7d128 132.0px)"></i><i style="background:linear-gradient(#ebe828 0.0px,#ece628 31.5px,#f6d428 40.5px,#ece628 57.5px,#f2db28 69.5px,#fac62a 76.5px,#f89c3d 82.5px,#ec7953 86.0px,#c8427b 90.0px,#b22a8d 91.5px,#822c97 93.5px,#503294 95.5px,#352d86 96.0px,#2c2c80 96.5px,#2c2c80 110.5px,#392e88 111.0px,#523294 111.5px,#902896 114.0px,#b42a8c 115.5px,#da5b68 118.5px,#f38749 122.0px,#fab431 127.0px,#f7d128 132.0px)"></i><i style="background:linear-gradient(#ebe828 0.0px,#ece528 31.0px,#f7d228 40.0px,#ece528 57.5px,#f2db28 69.5px,#fac72a 76.5px,#f89f3b 82.5px,#ee7c50 86.0px,#cc4778 90.0px,#b72e8a 91.5px,#952895 93.0px,#573295 95.5px,#302d83 96.5px,#2c2c80 98.0px,#2c2c80 110.5px,#322d84 111.0px,#493190 111.5px,#722f98 113.0px,#a42991 115.0px,#b93088 116.0px,#dc5f65 119.0px,#f38a47 122.5px,#fab631 127.5px,#f8d028 132.0px)"></i><i style="background:linear-gradient(#ebe828 0.0px,#ede528 30.5px,#f8d028 39.5px,#f2db28 48.0px,#ece528 59.0px,#f3d928 71.0px,#fac42b 77.5px,#f7993f 83.5px,#ec7a52 86.5px,#c9447a 90.5px,#b42a8c 92.0px,#842b97 94.0px,#523294 96.0px,#3a2e89 96.5px,#2d2c81 97.0px,#2e2c81 111.0px,#3d2f8a 111.5px,#543295 112.0px,#922896 114.5px,#b52c8b 116.0px,#da5c67 119.0px,#f38849 122.5px,#fab531 127.5px,#f8cf28 132.0px)"></i><i style="background:linear-gradient(#ebe828 0.0px,#ece628 29.5px,#f9ce28 39.5px,#f1dd28 49.0px,#ece528 60.0px,#f4d828 72.0px,#fac32c 78.0px,#f69740 84.0px,#eb7853 87.0px,#cd4977 90.5px,#af2a8d 92.5px,#7f2c97 94.5px,#4b3191 96.5px,#322d85 97.0px,#2c2c80 97.5px,#2c2c80 111.0px,#332d85 111.5px,#4c3192 112.0px,#802c97 114.0px,#b12a8d 116.0px,#d35270 118.5px,#f2854a 122.5px,#fab332 127.5px,#f9ce28 132.0px)"></i><i style="background:linear-gradient(#ebe828 0.0px,#ece528 29.0px,#facc28 39.0px,#f4d728 46.5px,#ece528 57.0px,#f1dd28 69.5px,#fac72a 77.5px,#f89e3c 83.5px,#ed7b51 87.0px,#cb4679 91.0px,#b62c8b 92.5px,#872a97 94.5px,#553295 96.5px,#2f2c82 97.5px,#2c2c80 105.5px,#2f2c82 111.5px,#553295 112.5px,#932896 115.0px,#b62c8a 116.5px,#d6556d 119.0px,#f38849 123.0px,#fab531 128.0px,#f9ce28 132.0px)"></i><i style="background:linear-gradient(#ebe828 0.0px,#ece628 28.0px,#fac929 39.0px,#ede528 56.0px,#f0df28 68.5px,#fac929 77.5px,#f9a13a 83.5px,#ec7952 87.5px,#c8437b 91.5px,#b22a8c 93.0px,#822b97 95.0px,#513294 97.0px,#372e88 97.5px,#2c2c80 98.0px,#2c2c80 111.5px,#342d86 112.0px,#4e3293 112.5px,#8d2996 115.0px,#b12a8d 116.5px,#d4526f 119.0px,#f2864a 123.0px,#fab432 128.0px,#facd28 132.0px)"></i><i style="background:linear-gradient(#ebe828 0.0px,#ece628 27.5px,#fac72a 38.0px,#f9ce28 43.5px,#ede428 54.5px,#eee228 66.5px,#facc28 77.0px,#faa736 83.0px,#ee7d50 87.5px,#cd4877 91.5px,#ae2a8e 93.5px,#7e2c97 95.5px,#593195 97.0px,#493191 97.5px,#322d84 98.0px,#2c2c80 99.0px,#2c2c80 111.5px,#2f2c82 112.0px,#563295 113.0px,#932895 115.5px,#b62d8a 117.0px,#d6566c 119.5px,#f38948 123.5px,#fab631 128.5px,#facc28 132.0px)"></i><i style="background:linear-gradient(#ebe828 0.0px,#ece528 27.0px,#fac62b 37.0px,#fac72a 41.5px,#eee228 53.0px,#ede428 65.0px,#f8d128 76.0px,#fab531 81.5px,#f3864a 87.0px,#d5546d 91.0px,#b52c8b 93.5px,#862a97 95.5px,#553295 97.5px,#2f2c82 98.5px,#2c2c80 109.5px,#2c2c80 112.0px,#342d86 112.5px,#4f3293 113.0px,#8d2996 115.5px,#b22a8d 117.0px,#d4526f 119.5px,#f2864a 123.5px,#fab432 128.5px,#facb29 132.0px)"></i><i style="background:linear-gradient(#ebe828 0.0px,#ede528 26.5px,#fac52b 36.0px,#fac32b 40.5px,#eee228 52.5px,#ede428 64.5px,#f6d328 75.5px,#fabe2e 80.5px,#f69442 86.0px,#e97356 89.0px,#c9437b 92.5px,#b22a8c 94.0px,#822b97 96.0px,#513294 98.0px,#382e88 98.5px,#2c2c80 99.0px,#2c2c80 112.0px,#2f2c83 112.5px,#563295 113.5px,#932895 116.0px,#b62d8a 117.5px,#d6566c 120.0px,#f38948 124.0px,#fab631 129.0px,#fac929 132.0px)"></i><i style="background:linear-gradient(#ebe828 0.0px,#ece628 25.5px,#fac42b 35.0px,#fabf2d 39.5px,#f5d628 47.0px,#ece628 57.0px,#efe028 69.5px,#facb29 78.5px,#f9a438 84.5px,#ee7d50 88.5px,#cd4877 92.5px,#af2a8d 94.5px,#7f2c97 96.5px,#4b3192 98.5px,#332d85 99.0px,#2c2c80 99.5px,#2c2c80 112.5px,#342d86 113.0px,#4e3293 113.5px,#8d2996 116.0px,#b12a8d 117.5px,#d4526f 120.0px,#f2864a 124.0px,#fab432 129.0px,#fac82a 132.0px)"></i><i style="background:linear-gradient(#ebe828 0.0px,#ece628 25.0px,#fac32c 34.5px,#fabd2e 39.0px,#f5d528 46.5px,#ece528 56.5px,#efe128 69.0px,#facc28 78.5px,#faa737 84.5px,#ed7c51 89.0px,#cb4679 93.0px,#b62c8a 94.5px,#872a97 96.5px,#563295 98.5px,#302d83 99.5px,#2c2c80 101.0px,#2f2c82 113.0px,#553295 114.0px,#922896 116.5px,#b62c8b 118.0px,#db5c67 121.0px,#f38848 124.5px,#fab631 129.5px,#fac62a 132.0px)"></i><i style="background:linear-gradient(#ebe828 0.0px,#ede528 24.5px,#fac32c 33.5px,#fab92f 38.0px,#f5d528 46.5px,#ece528 56.0px,#eee228 69.0px,#facc28 79.0px,#faa637 85.0px,#ed7a52 89.5px,#c9447a 93.5px,#b42a8c 95.0px,#842b97 97.0px,#533294 99.0px,#3c2e8a 99.5px,#2e2c81 100.0px,#2c2c80 113.0px,#332d85 113.5px,#4d3192 114.0px,#802c97 116.0px,#b02a8d 118.0px,#d35170 120.5px,#f2854a 124.5px,#fab432 129.5px,#fac52b 132.0px)"></i><i style="background:linear-gradient(#ebe828 0.0px,#ede528 24.0px,#fac42b 32.5px,#fab730 37.0px,#fac32b 42.0px,#f0de28 50.5px,#ece728 61.5px,#f2da28 74.0px,#fac62a 80.5px,#f89c3d 86.5px,#ec7953 90.0px,#c8427c 94.0px,#b12a8d 95.5px,#812c97 97.5px,#503294 99.5px,#352d87 100.0px,#2c2c80 100.5px,#2e2c82 113.5px,#3e2f8b 114.0px,#543295 114.5px,#912896 117.0px,#b52b8b 118.5px,#da5c68 121.5px,#f38849 125.0px,#fab531 130.0px,#fac32c 132.0px)"></i><i style="background:linear-gradient(#ebe828 0.0px,#ece628 23.0px,#fac22c 32.0px,#fab431 36.5px,#fabe2d 41.0px,#f4d828 47.5px,#ece728 57.5px,#efe128 70.5px,#facb29 80.0px,#f9a438 86.0px,#ee7d50 90.0px,#cc4878 94.0px,#ae2a8e 96.0px,#7d2c97 98.0px,#493191 100.0px,#322d85 100.5px,#2c2c80 101.0px,#2c2c80 113.5px,#322d85 114.0px,#4a3191 114.5px,#7e2c97 116.5px,#af2a8d 118.5px,#d35071 121.0px,#f2854b 125.0px,#fab332 130.0px,#fac12c 132.0px)"></i><i style="background:linear-gradient(#ebe828 0.0px,#ece628 22.5px,#fac42b 31.0px,#fab232 35.5px,#fab830 39.5px,#f5d528 46.5px,#ece628 56.0px,#eee328 69.0px,#f9ce28 79.5px,#faaf34 85.0px,#f0814d 90.0px,#d04d73 94.0px,#b62c8b 96.0px,#872a97 98.0px,#563295 100.0px,#302d83 101.0px,#2c2c80 102.5px,#2d2c81 114.0px,#3a2e89 114.5px,#523294 115.0px,#8f2896 117.5px,#b42a8c 119.0px,#da5b68 122.0px,#f38749 125.5px,#fab531 130.5px,#fac02d 132.0px)"></i><i style="background:linear-gradient(#ebe828 0.0px,#ece528 22.0px,#fac62b 30.0px,#fab033 35.0px,#fab531 39.0px,#f6d428 46.0px,#ece628 55.5px,#ede428 68.5px,#f8cf28 79.5px,#fab232 85.0px,#f0804e 90.5px,#cf4c74 94.5px,#b42a8c 96.5px,#842b97 98.5px,#533294 100.5px,#3d2f8a 101.0px,#2e2c82 101.5px,#2c2c80 114.0px,#312d84 114.5px,#583195 115.5px,#942895 118.0px,#b72e8a 119.5px,#d7576c 122.0px,#f38a48 126.0px,#fab730 131.0px,#fabe2e 132.0px)"></i><i style="background:linear-gradient(#ebe828 0.0px,#ede528 21.5px,#fac42b 29.5px,#faae34 34.5px,#fab232 38.5px,#f6d428 46.0px,#ece628 55.5px,#ede428 69.0px,#f8cf28 80.0px,#fab133 85.5px,#ef7f4f 91.0px,#ce4a76 95.0px,#b12a8d 97.0px,#812c97 99.0px,#513294 101.0px,#372e88 101.5px,#2c2c80 102.0px,#2c2c80 114.5px,#362d87 115.0px,#503294 115.5px,#8d2996 118.0px,#b22a8d 119.5px,#d4526f 122.0px,#f3864a 126.0px,#fab431 131.0px,#fabc2e 132.0px)"></i><i style="background:linear-gradient(#ebe828 0.0px,#ede528 21.0px,#fac72a 28.5px,#faac35 34.0px,#faaf33 38.0px,#f7d228 45.5px,#ece628 55.0px,#ede528 69.0px,#f8d028 80.0px,#fab432 85.5px,#f2834c 91.0px,#d25071 95.0px,#af2a8e 97.5px,#7f2c97 99.5px,#4c3192 101.5px,#332d85 102.0px,#2c2c80 102.5px,#2c2c80 114.5px,#302c83 115.0px,#553295 116.0px,#922896 118.5px,#b52c8b 120.0px,#db5c67 123.0px,#f38848 126.5px,#fab631 131.5px,#faba2f 132.0px)"></i><i style="background:linear-gradient(#ebe828 0.0px,#ece628 20.0px,#fac929 27.5px,#faab35 33.0px,#faa936 36.5px,#f6d328 45.5px,#ece628 55.0px,#ede528 69.5px,#f8d028 80.5px,#fab332 86.0px,#f1824c 91.5px,#d14e72 95.5px,#b72d8a 97.5px,#882a97 99.5px,#583195 101.5px,#322d84 102.5px,#2c2c80 103.5px,#2c2c80 115.0px,#332d85 115.5px,#4b3192 116.0px,#7e2c97 118.0px,#af2a8d 120.0px,#d35170 122.5px,#f2854a 126.5px,#fab432 131.5px,#fab730 132.0px)"></i><i style="background:linear-gradient(#ebe828 0.0px,#ece628 19.5px,#fac82a 27.0px,#faa736 33.0px,#faa836 36.5px,#f7d228 45.0px,#ece628 54.0px,#ede528 70.0px,#f8d028 81.0px,#fab332 86.5px,#f38749 91.5px,#d5546d 95.5px,#b52b8b 98.0px,#862b97 100.0px,#563295 102.0px,#302d83 103.0px,#2c2c80 104.5px,#2e2c81 115.5px,#3b2e8a 116.0px,#523294 116.5px,#8f2896 119.0px,#b32a8c 120.5px,#da5b68 123.5px,#f38749 127.0px,#fab531 132.0px)"></i><i style="background:linear-gradient(#ebe828 0.0px,#ece528 19.0px,#fac72a 26.5px,#faa537 32.5px,#faa737 36.5px,#f7d228 45.0px,#ece628 54.0px,#ede528 70.5px,#f8d028 81.5px,#fab232 87.0px,#f2864a 92.0px,#d4536f 96.0px,#b32a8c 98.5px,#842b97 100.5px,#543294 102.5px,#3e2f8b 103.0px,#2f2c82 103.5px,#2c2c80 115.5px,#312d84 116.0px,#573295 117.0px,#932895 119.5px,#b62d8a 121.0px,#d6566c 123.5px,#f38948 127.5px,#fab332 132.0px)"></i><i style="background:linear-gradient(#ebe828 0.0px,#ede528 18.5px,#fac62a 26.0px,#f9a438 32.0px,#faa438 36.0px,#f7d128 44.5px,#ece628 53.5px,#ede528 71.0px,#f8d028 82.0px,#fab232 87.5px,#f2854b 92.5px,#d35270 96.5px,#b12a8d 99.0px,#822c97 101.0px,#523294 103.0px,#392e89 103.5px,#2d2c81 104.0px,#2c2c80 116.0px,#342d86 116.5px,#4f3293 117.0px,#8c2996 119.5px,#b02a8d 121.0px,#d35170 123.5px,#f2864a 127.5px,#fab033 132.0px)"></i><i style="background:linear-gradient(#ebe828 0.0px,#ede528 18.0px,#fac929 25.0px,#f9a438 31.0px,#f8a03b 34.5px,#fab332 39.0px,#f7d128 44.5px,#ece628 53.5px,#ece528 71.5px,#f8d028 82.5px,#fab133 88.0px,#f2844b 93.0px,#d35070 97.0px,#b02a8d 99.5px,#802c97 101.5px,#4f3294 103.5px,#352d87 104.0px,#2c2c80 104.5px,#2f2c82 116.5px,#3e2f8b 117.0px,#543294 117.5px,#902896 120.0px,#b42a8c 121.5px,#da5b68 124.5px,#f38849 128.0px,#faae34 132.0px)"></i><i style="background:linear-gradient(#ebe828 0.0px,#ede528 17.5px,#fac829 24.5px,#f9a239 30.5px,#f89d3c 34.0px,#fab033 38.5px,#f7d228 44.5px,#ece628 53.5px,#ede528 72.5px,#f8cf28 83.0px,#fab133 88.5px,#f1834c 93.5px,#d24f71 97.5px,#b72e89 99.5px,#962895 101.0px,#5a3195 103.5px,#4c3192 104.0px,#332d85 104.5px,#2c2c80 105.0px,#2c2c80 116.5px,#322d84 117.0px,#583195 118.0px,#942895 120.5px,#b72d8a 122.0px,#d7566c 124.5px,#f38a48 128.5px,#faab35 132.0px)"></i><i style="background:linear-gradient(#ebe828 0.0px,#ece628 16.5px,#fac82a 24.0px,#f9a13a 30.0px,#f79b3d 33.5px,#faab35 37.5px,#f7d128 44.0px,#ece628 53.0px,#ede528 73.0px,#f8cf28 83.5px,#fab033 89.0px,#f1824c 94.0px,#d14e72 98.0px,#b62d8a 100.0px,#882a97 102.0px,#583195 104.0px,#483190 104.5px,#322d85 105.0px,#2c2c80 105.5px,#2c2c80 117.0px,#362d87 117.5px,#503294 118.0px,#8c2996 120.5px,#b02a8d 122.0px,#d35170 124.5px,#f2864a 128.5px,#faa836 132.0px)"></i><i style="background:linear-gradient(#ebe828 0.0px,#ece628 16.0px,#facb29 23.0px,#f89f3b 29.5px,#f7993f 33.0px,#faa836 37.0px,#f7d228 44.0px,#ece728 53.0px,#ede528 73.5px,#f8cf28 84.0px,#fab033 89.5px,#f1824d 94.5px,#d04d73 98.5px,#b52b8b 100.5px,#862a97 102.5px,#563295 104.5px,#312d84 105.5px,#2c2c80 106.5px,#2f2c82 117.5px,#543295 118.5px,#902896 121.0px,#b42a8c 122.5px,#da5b68 125.5px,#f38849 129.0px,#faa537 132.0px)"></i><i style="background:linear-gradient(#ebe828 0.0px,#ece528 15.5px,#faca29 22.5px,#f89e3c 29.0px,#f69740 32.5px,#faa637 36.5px,#f7d128 43.5px,#ece628 52.5px,#ede528 74.0px,#f8cf28 84.5px,#faaf33 90.0px,#f0814d 95.0px,#cf4c74 99.0px,#b42a8c 101.0px,#842b97 103.0px,#553295 105.0px,#302c83 106.0px,#2c2c80 108.0px,#2c2c80 117.5px,#322d84 118.0px,#583195 119.0px,#942895 121.5px,#b62d8a 123.0px,#d6566c 125.5px,#f38a48 129.5px,#f9a239 132.0px)"></i><i style="background:linear-gradient(#ebe828 0.0px,#ece528 15.0px,#faca29 22.0px,#f79a3e 29.0px,#f69541 32.5px,#faaa36 37.0px,#f8d028 43.0px,#ece628 52.0px,#ede528 74.5px,#f8cf28 85.0px,#faaf33 90.5px,#f0804e 95.5px,#cf4b75 99.5px,#b32a8c 101.5px,#832b97 103.5px,#543294 105.5px,#3e2f8b 106.0px,#2f2c82 106.5px,#2c2c80 118.0px,#362d87 118.5px,#4f3294 119.0px,#8b2996 121.5px,#b02a8d 123.0px,#d35170 125.5px,#f2864a 129.5px,#f89f3b 132.0px)"></i><i style="background:linear-gradient(#ebe828 0.0px,#ede528 14.5px,#fac929 21.5px,#f7993f 28.5px,#f69342 32.0px,#faa737 36.5px,#f8d128 43.0px,#ece728 52.0px,#ece528 75.0px,#f8cf28 85.5px,#faaf34 91.0px,#f0804e 96.0px,#ce4a76 100.0px,#b12a8d 102.0px,#812c97 104.0px,#523294 106.0px,#3b2e8a 106.5px,#2e2c82 107.0px,#2f2c82 118.5px,#3e2f8b 119.0px,#533294 119.5px,#8f2996 122.0px,#b32a8c 123.5px,#da5b68 126.5px,#f38849 130.0px,#f89c3d 132.0px)"></i><i style="background:linear-gradient(#ebe828 0.0px,#ede528 14.0px,#fac829 21.0px,#f79740 28.0px,#f59143 31.5px,#faa538 36.0px,#f8d028 42.5px,#ece728 51.5px,#ece528 75.5px,#f9cf28 86.0px,#faae34 91.5px,#ef7f4e 96.5px,#ce4976 100.5px,#b02a8d 102.5px,#802c97 104.5px,#513294 106.5px,#392e88 107.0px,#2d2c81 107.5px,#2c2c80 118.5px,#312d84 119.0px,#573295 120.0px,#922896 122.5px,#b62c8b 124.0px,#db5d67 127.0px,#f38948 130.5px,#f7993f 132.0px)"></i><i style="background:linear-gradient(#ebe828 0.0px,#ede528 13.5px,#fac82a 20.5px,#f69640 27.5px,#f58f44 31.0px,#f8a03b 35.0px,#f8d128 42.5px,#ece728 51.5px,#ede528 76.5px,#facd28 87.0px,#faaa36 92.5px,#ef7e4f 97.0px,#cd4877 101.0px,#af2a8e 103.0px,#7f2c97 105.0px,#503294 107.0px,#362d87 107.5px,#2d2c81 108.0px,#2c2c80 119.0px,#342d86 119.5px,#4d3193 120.0px,#8a2a96 122.5px,#ae2a8e 124.0px,#d25071 126.5px,#f2854a 130.5px,#f69541 132.0px)"></i><i style="background:linear-gradient(#ebe828 0.0px,#ece628 12.5px,#facb28 19.5px,#f69541 27.0px,#f48d46 30.5px,#f89d3c 34.5px,#f8d028 42.0px,#ece728 51.0px,#ede528 77.0px,#facd28 87.5px,#faa936 93.0px,#ef7e4f 97.5px,#cc4878 101.5px,#b72e89 103.0px,#952895 104.5px,#5a3195 107.0px,#4d3293 107.5px,#342d86 108.0px,#2c2c80 108.5px,#2e2c82 119.5px,#3b2e8a 120.0px,#523294 120.5px,#8d2996 123.0px,#b12a8d 124.5px,#d4526f 127.0px,#f38749 131.0px,#f59243 132.0px)"></i><i style="background:linear-gradient(#ebe828 0.0px,#ece628 12.0px,#faca29 19.0px,#f69442 26.5px,#f48b47 30.0px,#f79b3d 34.0px,#f9cf28 41.5px,#ece628 50.0px,#ede528 77.5px,#facd28 88.0px,#faa936 93.5px,#ee7d50 98.0px,#cc4778 102.0px,#b62d8a 103.5px,#882a96 105.5px,#593195 107.5px,#4b3192 108.0px,#332d86 108.5px,#2c2c80 109.0px,#2c2c80 119.5px,#312d83 120.0px,#553295 121.0px,#902896 123.5px,#b42a8c 125.0px,#da5c68 128.0px,#f38848 131.5px,#f48e45 132.0px)"></i><i style="background:linear-gradient(#ebe828 0.0px,#ece628 11.5px,#faca29 18.5px,#f59243 26.0px,#f38948 29.5px,#f7993f 33.5px,#f8d028 41.5px,#ebe728 50.5px,#ede528 78.0px,#facd28 88.5px,#faa936 94.0px,#ee7d50 98.5px,#cb4679 102.5px,#b62c8b 104.0px,#872a97 106.0px,#583195 108.0px,#493191 108.5px,#332d85 109.0px,#2c2c80 109.5px,#2c2c80 120.0px,#332d85 120.5px,#493191 121.0px,#7c2d97 123.0px,#a02992 124.5px,#b62d8a 125.5px,#d7566c 128.0px,#f38a48 132.0px)"></i><i style="background:linear-gradient(#ebe828 0.0px,#ece528 11.0px,#faca29 18.0px,#f48e45 26.0px,#f38849 29.5px,#f79a3e 33.5px,#f8cf28 41.0px,#ece628 49.5px,#ede528 78.5px,#facd28 89.0px,#faa936 94.5px,#ee7c50 99.0px,#cb4579 103.0px,#b52b8b 104.5px,#862a97 106.5px,#573295 108.5px,#322d85 109.5px,#2c2c80 110.0px,#2d2c81 120.5px,#372e88 121.0px,#503294 121.5px,#8b2996 124.0px,#af2a8d 125.5px,#d35170 128.0px,#f2864a 132.0px)"></i><i style="background:linear-gradient(#ebe828 0.0px,#ede528 10.5px,#fac929 17.5px,#f48d46 25.5px,#f3864a 29.0px,#f7983f 33.0px,#f9ce28 40.5px,#ece628 49.0px,#ece528 79.0px,#facd28 89.5px,#faa836 95.0px,#ed7c51 99.5px,#ca457a 103.5px,#b42b8c 105.0px,#852b97 107.0px,#573295 109.0px,#322d84 110.0px,#2c2c80 111.0px,#2c2c80 120.5px,#2f2c82 121.0px,#3e2f8b 121.5px,#533294 122.0px,#8e2996 124.5px,#b22a8d 126.0px,#d4536f 128.5px,#f1814d 132.0px)"></i><i style="background:linear-gradient(#ebe828 0.0px,#ede528 10.0px,#fac929 17.0px,#f58f45 24.5px,#f2844b 28.0px,#f59044 31.5px,#faca29 39.5px,#ede428 47.5px,#ebe828 57.0px,#ede528 80.0px,#facd28 90.0px,#faa836 95.5px,#ed7c51 100.0px,#ca447a 104.0px,#b42a8c 105.5px,#842b97 107.5px,#563295 109.5px,#312d84 110.5px,#2c2c80 111.5px,#2c2c80 121.0px,#312d84 121.5px,#563295 122.5px,#912896 125.0px,#b42a8c 126.5px,#da5c68 129.5px,#ee7d50 132.0px)"></i><i style="background:linear-gradient(#ebe828 0.0px,#ede528 9.5px,#fac82a 16.5px,#f59143 23.5px,#f1834c 27.0px,#f48b47 30.5px,#fac22c 38.0px,#f3da28 43.0px,#ebe828 51.0px,#ede528 80.5px,#facd28 90.5px,#faa836 96.0px,#ed7b51 100.5px,#c9437a 104.5px,#b32a8c 106.0px,#842b97 108.0px,#553295 110.0px,#312d84 111.0px,#2c2c80 112.0px,#2c2c80 121.5px,#332d86 122.0px,#4b3191 122.5px,#7c2d97 124.5px,#a02992 126.0px,#b62d8a 127.0px,#db5d66 130.0px,#eb7853 132.0px)"></i><i style="background:linear-gradient(#ebe828 0.0px,#ede528 9.0px,#fac82a 16.0px,#f59044 23.0px,#f0814d 26.5px,#f38948 30.0px,#fac12c 37.5px,#f3d928 42.5px,#ebe828 50.5px,#ede528 81.0px,#facd28 91.0px,#faa836 96.5px,#ed7b51 101.0px,#c9437b 105.0px,#b22a8d 106.5px,#832b97 108.5px,#543295 110.5px,#302d83 111.5px,#2c2c80 113.0px,#2e2c81 122.0px,#382e88 122.5px,#503294 123.0px,#8a2a96 125.5px,#af2a8e 127.0px,#d35071 129.5px,#e97456 132.0px)"></i><i style="background:linear-gradient(#ebe828 0.0px,#ede428 8.5px,#facb28 15.0px,#f59243 22.0px,#f0804e 25.5px,#f2854b 29.0px,#fac02d 37.0px,#f4d728 41.5px,#ebe828 49.5px,#ede528 81.5px,#facd28 91.5px,#faa836 97.0px,#ed7b52 101.5px,#c8427b 105.5px,#b22a8d 107.0px,#822b97 109.0px,#543295 111.0px,#302d83 112.0px,#2c2c80 113.5px,#2c2c80 122.0px,#2f2c83 122.5px,#3e2f8b 123.0px,#533294 123.5px,#8d2996 126.0px,#b12a8d 127.5px,#d4526f 130.0px,#e66e5a 132.0px)"></i></div><div class="hm" style="left:495px;top:19px;width:132px;height:132px"><i style="background:linear-gradient(#ebe828 0.0px,#ede528 11.0px,#facb28 18.0px,#f69640 24.0px,#ea7555 27.0px,#b42b8c 33.5px,#992894 36.5px,#952895 39.0px,#a52990 41.5px,#b72d8a 43.0px,#e97556 48.5px,#f69740 51.5px,#fac22c 57.0px,#f6d428 62.0px,#f2db28 71.5px,#f9cd28 80.0px,#fab033 85.0px,#ef7e4f 90.0px,#c43d7f 95.0px,#b52b8b 96.5px,#9b2993 99.0px,#942895 101.5px,#a22991 104.0px,#b62d8a 106.0px,#ee7d50 113.0px,#fab133 118.0px,#f7d128 122.5px,#ebe828 130.0px,#ebe828 132.0px)"></i><i style="background:linear-gradient(#ebe828 0.0px,#ece528 11.0px,#faca29 18.5px,#f69541 24.5px,#e97356 27.5px,#b42a8c 34.0px,#992894 37.0px,#952895 39.5px,#a72990 42.0px,#b82f89 43.5px,#ea7655 49.0px,#f89d3d 52.5px,#fac32c 57.5px,#f6d428 62.5px,#f3da28 72.0px,#facb28 80.0px,#faac34 85.0px,#ef7f4e 89.5px,#c53f7e 94.5px,#b02a8d 96.5px,#992894 99.0px,#952895 101.5px,#ab298f 104.5px,#ba3187 106.0px,#f0814d 113.0px,#fab431 118.0px,#f8d028 122.0px,#ebe828 130.0px,#ebe828 132.0px)"></i><i style="background:linear-gradient(#ebe828 0.0px,#ede528 11.5px,#fac929 19.0px,#f7993f 24.5px,#eb7854 27.5px,#b22a8c 34.5px,#982894 37.5px,#962895 40.0px,#a8298f 42.5px,#b42a8c 43.5px,#eb7754 49.5px,#f89d3c 53.0px,#fac32c 58.0px,#f6d328 63.0px,#f4d828 72.5px,#fac929 80.0px,#faa936 85.0px,#ed7a52 89.5px,#bc3485 95.0px,#ab2a8e 96.5px,#972894 99.0px,#972894 101.5px,#af2a8d 104.5px,#bd3584 106.0px,#f0804e 112.5px,#fab332 117.5px,#f7d228 122.0px,#ebe828 129.5px,#ebe828 132.0px)"></i><i style="background:linear-gradient(#ebe828 0.0px,#ece628 11.5px,#facb28 19.0px,#f69740 25.0px,#e77059 28.5px,#b62d8a 34.5px,#982894 38.0px,#962894 40.5px,#a9298f 43.0px,#b52c8b 44.0px,#eb7853 50.0px,#f89e3c 53.5px,#fac22c 58.5px,#f6d328 63.5px,#f4d728 72.5px,#fac929 79.5px,#faa936 84.5px,#ed7b51 89.0px,#bd3585 94.5px,#b32a8c 95.5px,#9a2993 98.0px,#952895 100.5px,#a9298f 103.5px,#b82f89 105.0px,#ef7e4f 112.0px,#fab133 117.0px,#f7d128 121.5px,#ebe828 129.0px,#ebe828 132.0px)"></i><i style="background:linear-gradient(#ebe828 0.0px,#ece528 12.0px,#faca29 19.5px,#f69541 25.5px,#e97456 28.5px,#b52c8b 35.0px,#982894 38.5px,#972894 41.0px,#ab298f 43.5px,#bb3386 45.0px,#ec7953 50.5px,#f89e3c 54.0px,#fac22c 59.0px,#f6d328 64.5px,#f5d528 73.5px,#fac62a 79.5px,#faa538 84.5px,#ee7c50 88.5px,#be3684 94.0px,#b42b8c 95.0px,#9b2993 97.5px,#962895 100.0px,#a8298f 103.0px,#b72e8a 104.5px,#ee7c50 111.5px,#fab033 116.5px,#f8d028 121.0px,#ebe828 129.0px,#ebe828 132.0px)"></i><i style="background:linear-gradient(#ebe828 0.0px,#ede528 12.5px,#fac929 20.0px,#f7993f 25.5px,#eb7853 28.5px,#b42b8c 35.5px,#9a2993 38.5px,#962894 41.0px,#a72990 43.5px,#b72e89 45.0px,#ec7a52 51.0px,#faa737 55.5px,#fac72a 60.5px,#f5d528 67.5px,#f8cf28 76.0px,#fabc2e 81.0px,#f69442 86.0px,#e77158 89.0px,#b52c8b 94.5px,#992894 97.5px,#972894 100.0px,#ac2a8e 103.0px,#ba3187 104.5px,#f0804e 111.5px,#fab332 116.5px,#f7d228 121.0px,#ebe828 128.5px,#ebe828 132.0px)"></i><i style="background:linear-gradient(#ebe828 0.0px,#ece628 12.5px,#facb28 20.0px,#f79740 26.0px,#e77158 29.5px,#b32a8c 36.0px,#9a2993 39.0px,#972894 41.5px,#a8298f 44.0px,#b42a8c 45.0px,#e97555 51.0px,#f69640 54.0px,#fabf2d 59.5px,#f8d028 64.5px,#f6d328 73.0px,#fac62b 78.5px,#faa637 83.5px,#ef7e4f 87.5px,#c03982 93.0px,#b12a8d 94.5px,#9a2993 97.0px,#972894 99.5px,#ab298f 102.5px,#b93088 104.0px,#ef7f4f 111.0px,#fab133 116.0px,#f7d128 120.5px,#ebe828 128.0px,#ebe828 132.0px)"></i><i style="background:linear-gradient(#ebe828 0.0px,#ece528 13.0px,#faca29 20.5px,#f69641 26.5px,#ea7555 29.5px,#b22a8c 36.5px,#9a2993 39.5px,#982894 42.0px,#a9298f 44.5px,#b52b8b 45.5px,#ea7655 51.5px,#f89b3d 55.0px,#fac22c 60.5px,#f7d128 66.0px,#f8cf28 74.5px,#fabb2f 80.0px,#f69541 85.0px,#e97356 88.0px,#b32a8c 94.0px,#9b2993 96.5px,#972894 99.0px,#aa298f 102.0px,#b82f88 103.5px,#f1824c 111.0px,#fab431 116.0px,#f8d028 120.0px,#ebe828 128.0px,#ebe828 132.0px)"></i><i style="background:linear-gradient(#ebe828 0.0px,#ede528 13.5px,#fac929 21.0px,#f69441 27.0px,#e97356 30.0px,#b62c8a 36.5px,#9a2894 40.0px,#982894 42.5px,#ab298f 45.0px,#bb3287 46.5px,#eb7754 52.0px,#f89c3d 55.5px,#fabf2d 60.5px,#f8cf28 66.0px,#f9ce28 74.0px,#fabb2f 79.5px,#f69541 84.5px,#e97456 87.5px,#b42a8c 93.5px,#9c2993 96.0px,#972894 98.5px,#a9298f 101.5px,#b82e89 103.0px,#f0814d 110.5px,#fab332 115.5px,#f7d228 120.0px,#ebe828 127.5px,#ebe828 132.0px)"></i><i style="background:linear-gradient(#ebe828 0.0px,#ece628 13.5px,#facb28 21.0px,#f7983f 27.0px,#e87258 30.5px,#b52b8b 37.0px,#9a2894 40.5px,#992894 43.0px,#ac2a8e 45.5px,#bc3386 47.0px,#eb7853 52.5px,#f89c3d 56.0px,#fabf2d 61.0px,#f9ce28 66.5px,#facc28 74.5px,#fab531 80.0px,#f48c46 85.0px,#db5c67 89.0px,#b52b8b 93.0px,#9a2993 96.0px,#982894 98.5px,#ad2a8e 101.5px,#bb3286 103.0px,#ef7f4e 110.0px,#fab133 115.0px,#f7d128 119.5px,#ebe828 127.5px,#ebe828 132.0px)"></i><i style="background:linear-gradient(#ebe828 0.0px,#ede528 14.0px,#faca29 21.5px,#f69640 27.5px,#e77059 31.0px,#b42a8c 37.5px,#9c2993 40.5px,#982894 43.0px,#a8298f 45.5px,#b32a8c 46.5px,#ec7953 53.0px,#f89d3c 56.5px,#fabe2d 61.5px,#f9cd28 67.0px,#faca29 74.5px,#fab232 80.0px,#f38749 85.0px,#cf4b75 90.0px,#b12a8d 93.0px,#9b2993 95.5px,#982894 98.0px,#ac2a8e 101.0px,#ba3187 102.5px,#f1834c 110.0px,#fab431 115.0px,#f7d228 119.5px,#ebe828 127.0px,#ebe828 132.0px)"></i><i style="background:linear-gradient(#ebe828 0.0px,#ece628 14.0px,#facc28 21.5px,#f7993e 27.5px,#ec7a52 30.5px,#b32a8c 38.0px,#9b2993 41.0px,#992894 43.5px,#a9298f 46.0px,#b52b8b 47.0px,#ec7a52 53.5px,#faa538 58.0px,#fac22c 63.0px,#f9cd28 69.0px,#fac62a 75.0px,#faaf34 80.0px,#f1834c 85.0px,#c63f7d 90.5px,#b22a8c 92.5px,#9c2993 95.0px,#992894 97.5px,#ab2a8e 100.5px,#b93088 102.0px,#f0814d 109.5px,#fab332 114.5px,#f7d128 119.0px,#ebe828 126.5px,#ebe828 132.0px)"></i><i style="background:linear-gradient(#ebe828 0.0px,#ece528 14.5px,#facb29 22.0px,#f7983f 28.0px,#e87257 31.5px,#b22a8d 38.5px,#9b2993 41.5px,#992894 44.0px,#ab298f 46.5px,#ba3187 48.0px,#ed7b51 54.0px,#faa936 59.0px,#fac32c 64.0px,#facb28 70.5px,#fabe2d 76.5px,#f89c3d 82.0px,#eb7853 85.5px,#b42a8c 92.0px,#9d2993 94.5px,#992894 97.0px,#aa298f 100.0px,#b82f89 101.5px,#ef7f4e 109.0px,#fab133 114.0px,#f8d128 118.5px,#ebe828 126.5px,#ebe828 132.0px)"></i><i style="background:linear-gradient(#ebe828 0.0px,#ede528 15.0px,#fac929 22.5px,#f69640 28.5px,#e77058 32.0px,#b62c8b 38.5px,#9b2993 42.0px,#9a2993 44.5px,#ac2a8e 47.0px,#bb3386 48.5px,#ed7c51 54.5px,#faa538 59.0px,#fac02d 64.0px,#fac929 70.0px,#fabe2e 76.0px,#f89c3d 81.5px,#ec7952 85.0px,#b52b8b 91.5px,#9b2993 94.5px,#9a2993 97.0px,#ae2a8e 100.0px,#bb3386 101.5px,#f1834c 109.0px,#fab432 114.0px,#f7d228 118.5px,#ebe828 126.0px,#ebe828 132.0px)"></i><i style="background:linear-gradient(#ebe828 0.0px,#ece628 15.0px,#facb28 22.5px,#f7993f 28.5px,#ec7a52 31.5px,#b52b8b 39.0px,#9b2993 42.5px,#9b2993 45.0px,#ae2a8e 47.5px,#b82f89 48.5px,#eb7754 54.5px,#f79a3e 58.0px,#fabc2e 63.5px,#fac72a 69.5px,#fabd2e 75.5px,#f9a03a 80.5px,#ec7a52 84.5px,#b62c8a 91.0px,#9c2993 94.0px,#9a2993 96.5px,#ad2a8e 99.5px,#ba3187 101.0px,#f0814d 108.5px,#fab232 113.5px,#f7d128 118.0px,#ebe828 126.0px,#ebe828 132.0px)"></i><i style="background:linear-gradient(#ebe828 0.0px,#ede528 15.5px,#faca29 23.0px,#f79740 29.0px,#e87257 32.5px,#b42a8c 39.5px,#9d2993 42.5px,#9a2993 45.0px,#aa298f 47.5px,#b42b8c 48.5px,#eb7854 55.0px,#f89e3c 59.0px,#fabb2f 64.0px,#fac52b 70.0px,#faba2f 75.5px,#f7983f 81.0px,#ed7b51 84.0px,#bb3386 90.0px,#ad2a8e 91.5px,#9b2993 94.0px,#9c2993 96.5px,#b62c8b 100.0px,#ef804e 108.0px,#fab133 113.0px,#f8d028 117.5px,#ebe828 125.5px,#ebe828 132.0px)"></i><i style="background:linear-gradient(#ebe828 0.0px,#ece628 15.5px,#facc28 23.0px,#f69641 29.5px,#e77158 33.0px,#b32a8c 40.0px,#9d2993 43.0px,#9b2993 45.5px,#ab298f 48.0px,#ba3187 49.5px,#eb7853 55.5px,#f89e3c 59.5px,#faba2f 64.5px,#fac32c 70.0px,#fab730 75.5px,#f69441 81.0px,#ea7655 84.0px,#b42a8c 90.5px,#9e2992 93.0px,#9a2993 95.5px,#ab2a8e 98.5px,#b82f88 100.0px,#f1834c 108.0px,#fab332 113.0px,#f7d228 117.5px,#ebe828 125.0px,#ebe828 132.0px)"></i><i style="background:linear-gradient(#ebe828 0.0px,#ece528 16.0px,#facb28 23.5px,#f7993f 29.5px,#e97456 33.0px,#b62c8a 40.0px,#9d2993 43.5px,#9b2993 46.0px,#ac2a8e 48.5px,#bb3286 50.0px,#ec7953 56.0px,#f9a13a 60.5px,#faba2f 65.5px,#fabf2d 71.0px,#faaf33 76.5px,#f48c47 81.5px,#d9596a 86.0px,#b52b8b 90.0px,#9d2993 93.0px,#9c2993 95.5px,#af2a8d 98.5px,#bb3386 100.0px,#f0814d 107.5px,#fab631 113.0px,#f6d328 117.5px,#ebe828 125.0px,#ebe828 132.0px)"></i><i style="background:linear-gradient(#ebe828 0.0px,#ede528 16.5px,#fac929 24.0px,#f69740 30.0px,#e87357 33.5px,#b52c8b 40.5px,#9d2993 44.0px,#9c2993 46.5px,#ae2a8e 49.0px,#bc3485 50.5px,#ec7a52 56.5px,#f9a13a 61.0px,#fab930 66.0px,#fabc2e 71.5px,#faac35 76.5px,#f38749 81.5px,#d14e72 86.5px,#b12a8d 90.0px,#9d2992 92.5px,#9c2993 95.0px,#ae2a8e 98.0px,#be3684 100.0px,#f2854b 107.5px,#fab830 113.0px,#f7d228 117.0px,#ebe828 124.5px,#ebe828 132.0px)"></i><i style="background:linear-gradient(#ebe828 0.0px,#ece528 16.5px,#facb28 24.0px,#f69541 30.5px,#e77158 34.0px,#b42b8c 41.0px,#9d2993 44.5px,#9d2993 47.0px,#b42b8c 50.0px,#ea7555 56.5px,#f59243 59.5px,#fab332 65.0px,#fabb2f 70.5px,#faae34 75.5px,#f48c46 80.5px,#de6163 84.5px,#b22a8c 89.5px,#9e2992 92.0px,#9c2993 94.5px,#ad2a8e 97.5px,#b93187 99.0px,#f1834c 107.0px,#fab730 112.5px,#f6d328 117.0px,#ebe828 124.5px,#ebe828 132.0px)"></i><i style="background:linear-gradient(#ebe828 0.0px,#ede528 17.0px,#faca29 24.5px,#f7983f 30.5px,#e97456 34.0px,#b42a8c 41.5px,#9d2993 45.0px,#9e2992 47.5px,#b52c8b 50.5px,#ea7655 57.0px,#f69640 60.5px,#fab332 66.0px,#fab730 71.5px,#faa538 76.5px,#f1834c 81.0px,#ca457a 86.5px,#b42a8c 89.0px,#9d2993 92.0px,#9d2993 94.5px,#b52b8b 98.0px,#f0814d 106.5px,#fab531 112.0px,#f7d228 116.5px,#ebe828 124.0px,#ebe828 132.0px)"></i><i style="background:linear-gradient(#ebe828 0.0px,#ece628 17.0px,#facc28 24.5px,#f69640 31.0px,#e87257 34.5px,#b62d8a 41.5px,#9e2992 45.0px,#9d2993 47.5px,#b22a8d 50.5px,#e46b5c 56.5px,#f48e45 60.0px,#faac34 65.0px,#fab531 70.0px,#faa936 75.0px,#f48d46 79.5px,#df6362 83.5px,#b52b8b 88.5px,#9e2992 91.5px,#9d2993 94.0px,#b42a8c 97.5px,#f2844b 106.5px,#fab730 112.0px,#f6d328 116.5px,#ebe828 124.0px,#ebe828 132.0px)"></i><i style="background:linear-gradient(#ebe828 0.0px,#ede528 17.5px,#faca29 25.0px,#f69441 31.5px,#e77058 35.0px,#b62c8b 42.0px,#9e2992 45.5px,#9e2992 48.0px,#b32a8c 51.0px,#eb7754 58.0px,#f69640 61.5px,#faae34 66.5px,#fab133 71.5px,#f89e3b 76.5px,#ec7a52 81.0px,#be3684 87.0px,#b12a8d 88.5px,#9d2993 91.5px,#a12991 94.5px,#b72d8a 97.5px,#f1824c 106.0px,#fab631 111.5px,#f7d328 116.0px,#ebe828 123.5px,#ebe828 132.0px)"></i><i style="background:linear-gradient(#ebe828 0.0px,#ece628 17.5px,#fac929 25.5px,#f79740 31.5px,#e97456 35.0px,#b52b8b 42.5px,#9e2992 46.0px,#9e2992 48.5px,#b42b8c 51.5px,#eb7754 58.5px,#f7993f 62.5px,#faad34 67.5px,#faac35 72.5px,#f69441 77.5px,#ea7555 81.0px,#b22a8c 88.0px,#9e2992 91.0px,#a12991 94.0px,#b62d8a 97.0px,#f2854a 106.0px,#fab830 111.5px,#f6d428 116.0px,#ebe828 123.5px,#ebe828 132.0px)"></i><i style="background:linear-gradient(#ebe828 0.0px,#ede528 18.0px,#facb28 25.5px,#f69541 32.0px,#e87257 35.5px,#b42a8c 43.0px,#9e2992 46.5px,#a12991 49.5px,#b52c8b 52.0px,#eb7853 59.0px,#f7983f 63.0px,#faab35 68.0px,#faa737 73.0px,#f59044 77.5px,#e77158 81.0px,#b42a8c 87.5px,#9e2992 90.5px,#a12992 93.5px,#b52c8b 96.5px,#f2834b 105.5px,#fab631 111.0px,#f6d328 115.5px,#ebe828 123.0px,#ebe828 132.0px)"></i><i style="background:linear-gradient(#ebe828 0.0px,#ece628 18.0px,#fac929 26.0px,#f69342 32.5px,#e77059 36.0px,#b62d8a 43.0px,#9e2992 47.0px,#a22991 50.0px,#b62d8a 52.5px,#e97357 59.0px,#f59143 62.5px,#faa637 67.0px,#faa736 71.5px,#f69640 76.0px,#ed7b51 79.5px,#c63f7d 85.0px,#b52b8b 87.0px,#9f2992 90.0px,#a02992 93.0px,#b52b8c 96.0px,#f0814d 105.0px,#fab431 110.5px,#f7d228 115.0px,#ebe828 123.0px,#ebe828 132.0px)"></i><i style="background:linear-gradient(#ebe828 0.0px,#ede528 18.5px,#facb28 26.0px,#f69640 32.5px,#e87357 36.0px,#b62c8b 43.5px,#a02992 47.0px,#a12991 50.0px,#b32a8c 52.5px,#e97456 59.5px,#f59144 63.0px,#f9a438 67.5px,#f9a239 72.5px,#f48c46 77.0px,#de6163 81.5px,#b62c8b 86.5px,#a02992 89.5px,#a02992 92.5px,#b72e8a 96.0px,#f2844b 105.0px,#fab730 110.5px,#f6d328 115.0px,#ebe828 122.5px,#ebe828 132.0px)"></i><i style="background:linear-gradient(#ebe828 0.0px,#ece628 18.5px,#faca29 26.5px,#f69442 33.0px,#e77158 36.5px,#b52b8b 44.0px,#a02992 47.5px,#a22991 50.5px,#b52b8c 53.0px,#e97456 60.0px,#f59044 63.5px,#f9a13a 68.0px,#f89d3c 73.0px,#f2844b 77.5px,#d04c74 83.0px,#b32a8c 86.5px,#9f2992 89.5px,#a22991 92.5px,#b62d8a 95.5px,#f1824c 104.5px,#fab531 110.0px,#f7d228 114.5px,#ebe828 122.5px,#ebe828 132.0px)"></i><i style="background:linear-gradient(#ebe828 0.0px,#ede528 19.0px,#facb28 26.5px,#f69740 33.0px,#e97456 36.5px,#b72e89 44.0px,#a12991 47.5px,#a12992 50.5px,#b52c8b 53.5px,#e97456 60.5px,#f58f44 64.0px,#f89f3b 68.5px,#f79a3e 73.0px,#ef7f4e 77.5px,#cd4877 83.0px,#b42a8c 86.0px,#a02992 89.0px,#a22991 92.0px,#b52c8b 95.0px,#f2854a 104.5px,#fab730 110.0px,#f6d328 114.5px,#ebe828 122.0px,#ebe828 132.0px)"></i><i style="background:linear-gradient(#ebe828 0.0px,#ece628 19.0px,#faca29 27.0px,#f69541 33.5px,#e56d5b 37.5px,#b62d8a 44.5px,#a02992 48.5px,#a42991 51.5px,#b62d8a 54.0px,#e97456 61.0px,#f48e45 64.5px,#f89c3d 69.0px,#f69441 73.5px,#ed7b51 77.5px,#c9437a 83.0px,#b52b8b 85.5px,#a12992 88.5px,#a22991 91.5px,#b52b8b 94.5px,#e66f59 102.0px,#f59243 105.5px,#fac42b 111.5px,#f0de28 117.5px,#ebe828 123.0px,#ebe828 132.0px)"></i><i style="background:linear-gradient(#ebe828 0.0px,#ede528 19.5px,#facb28 27.0px,#f79740 33.5px,#ea7555 37.0px,#b62c8b 45.0px,#a02992 49.0px,#a42990 52.0px,#b72e89 54.5px,#e66f59 61.0px,#f48d46 65.0px,#f7993f 69.5px,#f48e45 74.0px,#e87257 78.0px,#b62c8b 85.0px,#a12991 88.0px,#a22991 91.0px,#b72d8a 94.5px,#f2864a 104.0px,#fab730 109.5px,#f6d328 114.0px,#ebe828 121.5px,#ebe828 132.0px)"></i><i style="background:linear-gradient(#ebe828 0.0px,#ece628 19.5px,#faca29 27.5px,#f69541 34.0px,#e66e5a 38.0px,#b82f89 45.0px,#a52990 48.0px,#a02992 51.0px,#b02a8d 54.0px,#c03882 56.0px,#e97456 62.0px,#f48d45 66.0px,#f69541 70.5px,#f2854b 75.0px,#d95a69 80.0px,#b32a8c 85.0px,#a12992 88.0px,#a32991 91.0px,#b62c8a 94.0px,#ef7f4f 103.0px,#fab133 108.5px,#f7d228 113.5px,#ebe828 121.5px,#ebe828 132.0px)"></i><i style="background:linear-gradient(#ebe828 0.0px,#ede528 20.0px,#facb28 27.5px,#f79740 34.0px,#ea7655 37.5px,#b72e8a 45.5px,#a12991 49.5px,#a42991 52.5px,#b52c8b 55.0px,#e66f59 62.0px,#f48b47 66.5px,#f59044 71.0px,#ee7d50 75.5px,#cf4b75 81.0px,#b42a8c 84.5px,#a12991 87.5px,#a32991 90.5px,#b52c8b 93.5px,#e3695e 100.5px,#f59044 104.5px,#fabf2d 110.0px,#f4d728 114.5px,#ebe828 121.5px,#ebe828 132.0px)"></i><i style="background:linear-gradient(#ebe828 0.0px,#ece528 20.0px,#fac929 28.0px,#f69541 34.5px,#e66f5a 38.5px,#b62d8a 46.0px,#a12991 50.0px,#a52990 53.0px,#b62d8a 55.5px,#e66f59 62.5px,#f38948 67.0px,#f48c46 71.0px,#ec7953 75.5px,#cc4778 81.0px,#b52b8b 84.0px,#a22991 87.0px,#a32991 90.0px,#b72e89 93.5px,#f2844b 103.0px,#fab92f 109.0px,#f6d428 113.5px,#ebe828 121.0px,#ebe828 132.0px)"></i><i style="background:linear-gradient(#ebe828 0.0px,#ede528 20.5px,#facb28 28.0px,#f79840 34.5px,#ea7654 38.0px,#b82f88 46.0px,#a8298f 48.5px,#a12991 52.0px,#af2a8d 55.0px,#be3684 57.0px,#e66e5a 63.0px,#f38749 67.5px,#f38749 71.5px,#e77158 76.0px,#c03982 82.0px,#b22a8d 84.0px,#a12991 87.0px,#a52990 90.0px,#b72d8a 93.0px,#e97356 101.0px,#f7993e 105.0px,#facc28 111.5px,#ebe828 120.0px,#ebe828 132.0px)"></i><i style="background:linear-gradient(#ebe828 0.0px,#ece528 20.5px,#fac929 28.5px,#f69541 35.0px,#e66f59 39.0px,#b72e89 46.5px,#a22991 50.5px,#a42991 53.5px,#b42b8c 56.0px,#e66e5a 63.5px,#f1834c 67.5px,#f2834b 71.5px,#e77059 75.5px,#c13a81 81.5px,#b32a8c 83.5px,#a22991 86.5px,#a42990 89.5px,#b62c8b 92.5px,#e2675f 99.5px,#f48e45 103.5px,#fac02d 109.5px,#f3d928 114.5px,#ebe828 121.0px,#ebe828 132.0px)"></i><i style="background:linear-gradient(#ebe828 0.0px,#ece628 20.5px,#facb29 28.5px,#f79740 35.0px,#ea7754 38.5px,#b93188 46.5px,#b02a8d 48.0px,#a12991 51.5px,#a72990 54.5px,#b52b8b 56.5px,#e3695d 63.5px,#ef7f4f 67.5px,#ef7f4e 71.5px,#e46b5c 75.5px,#b42a8c 83.0px,#a32991 86.0px,#a42991 89.0px,#b52b8b 92.0px,#de6064 98.5px,#f59044 103.5px,#fac22c 109.5px,#f2db28 115.0px,#ebe828 121.0px,#ebe828 132.0px)"></i><i style="background:linear-gradient(#ebe828 0.0px,#ede528 21.0px,#fac929 29.0px,#f69541 35.5px,#e66f59 39.5px,#b82f88 47.0px,#ac2a8e 49.0px,#a12991 52.5px,#ab298f 55.5px,#b93088 57.5px,#e2685e 64.0px,#ed7c51 68.0px,#ec7a52 72.0px,#dd5f65 76.5px,#b52b8b 82.5px,#a22991 86.0px,#a8298f 89.5px,#b72d8a 92.0px,#e56d5b 99.5px,#f59243 103.5px,#fac72a 110.0px,#eee328 117.5px,#ebe828 123.0px,#ebe828 132.0px)"></i><i style="background:linear-gradient(#ebe828 0.0px,#ece628 21.0px,#faca29 29.0px,#f79740 35.5px,#e87257 39.5px,#b82e89 47.5px,#a52990 51.0px,#a42990 54.5px,#b62d8a 57.5px,#e2675f 64.5px,#ec7853 68.5px,#e97456 72.5px,#d4526f 77.5px,#b22a8d 82.5px,#a32991 85.5px,#a72990 89.0px,#b62c8a 91.5px,#de6164 98.0px,#f59044 103.0px,#fac12c 109.0px,#f3d928 114.0px,#ebe828 120.5px,#ebe828 132.0px)"></i><i style="background:linear-gradient(#ebe828 0.0px,#ede528 21.5px,#fac829 29.5px,#f69541 36.0px,#e67059 40.0px,#b93187 47.5px,#ae2a8e 49.5px,#a22991 53.0px,#aa298f 56.0px,#b72e89 58.0px,#e16660 65.0px,#e97555 69.0px,#e56d5b 73.0px,#cb4579 78.5px,#b32a8c 82.0px,#a22991 85.5px,#a9298f 89.0px,#b82f89 91.5px,#e87158 99.5px,#f59243 103.0px,#fac62a 109.5px,#eee228 116.5px,#ebe828 121.5px,#ebe828 132.0px)"></i><i style="background:linear-gradient(#ebe828 0.0px,#ece528 21.5px,#fac929 29.5px,#f69740 36.0px,#e87257 40.0px,#b82f88 48.0px,#ad2a8e 50.0px,#a22991 53.5px,#ae2a8e 57.0px,#b82e89 58.5px,#de6163 65.0px,#e77058 69.0px,#e3695e 73.0px,#c7417c 78.5px,#b32a8c 81.5px,#a32991 85.0px,#a9298f 88.5px,#b72e8a 91.0px,#e16660 98.0px,#f59044 102.5px,#fac12c 108.5px,#f3d928 113.5px,#ebe828 120.0px,#ebe828 132.0px)"></i><i style="background:linear-gradient(#ebe828 0.0px,#ece628 21.5px,#facb29 29.5px,#f69441 36.5px,#e66f59 40.5px,#ba3287 48.0px,#af2a8d 50.0px,#a32991 53.5px,#ab2a8e 57.0px,#b82f89 59.0px,#dd6064 65.5px,#e56c5b 69.5px,#de6163 73.5px,#bd3584 79.5px,#b02a8d 81.5px,#a22991 85.0px,#ab298f 88.5px,#b62c8a 90.5px,#df6362 97.5px,#f48d46 102.0px,#fabf2d 108.0px,#f5d628 112.5px,#ebe828 120.0px,#ebe828 132.0px)"></i><i style="background:linear-gradient(#ebe828 0.0px,#ede528 22.0px,#fac929 30.0px,#f69640 36.5px,#e87258 40.5px,#b93088 48.5px,#ae2a8e 50.5px,#a32991 54.0px,#ac2a8e 57.5px,#b92f88 59.5px,#da5c68 65.5px,#e2685f 69.5px,#db5d66 73.5px,#b52b8c 80.5px,#a32991 84.0px,#a8298f 87.5px,#b82e89 90.5px,#e16560 97.5px,#f58f45 102.0px,#fac32b 108.5px,#f1dd28 114.5px,#ebe828 120.0px,#ebe828 132.0px)"></i><i style="background:linear-gradient(#ebe828 0.0px,#ece528 22.0px,#faca29 30.0px,#f69342 37.0px,#e46a5d 41.5px,#b82f88 49.0px,#ab298f 51.5px,#a32991 55.0px,#b02a8d 58.5px,#bf3783 61.0px,#db5c67 66.5px,#df6262 70.5px,#d4536e 74.5px,#b22a8d 80.5px,#a32991 84.0px,#a9298f 87.5px,#b72d8a 90.0px,#df6362 97.0px,#f59143 102.0px,#fac12c 108.0px,#f3d928 113.0px,#ebe828 119.5px,#ebe828 132.0px)"></i><i style="background:linear-gradient(#ebe828 0.0px,#ece628 22.0px,#facb28 30.0px,#f69541 37.0px,#e77158 41.0px,#ba3187 49.0px,#ac2a8e 51.5px,#a32991 55.5px,#b02a8d 59.0px,#c53f7e 62.5px,#da5b68 67.5px,#db5c67 71.5px,#ca447a 76.0px,#b22a8d 80.0px,#a32991 83.5px,#a9298f 87.0px,#b62c8a 89.5px,#de6164 96.5px,#f48e45 101.5px,#fabf2d 107.5px,#f5d628 112.0px,#ebe828 119.5px,#ebe828 132.0px)"></i><i style="background:linear-gradient(#ebe828 0.0px,#ede528 22.5px,#fac929 30.5px,#f59243 37.5px,#e36a5d 42.0px,#b93088 49.5px,#ae2a8e 51.5px,#a32991 55.5px,#ae2a8e 59.0px,#b93088 61.0px,#d4536e 66.5px,#d95a69 70.5px,#ce4a75 74.5px,#b32a8c 79.5px,#a42991 83.0px,#aa298f 87.0px,#b72e89 89.5px,#df6362 96.5px,#f59044 101.5px,#fac42b 108.0px,#f1dd28 114.0px,#ebe828 119.5px,#ebe828 132.0px)"></i><i style="background:linear-gradient(#ebe828 0.0px,#ece528 22.5px,#faca29 30.5px,#f69442 37.5px,#e46c5c 42.0px,#ba3287 49.5px,#ad2a8e 52.0px,#a32991 56.0px,#ae2a8e 59.5px,#b93088 61.5px,#d35170 67.0px,#d5546d 71.0px,#c6407d 75.5px,#b32a8c 79.0px,#a42991 82.5px,#aa298f 86.5px,#b62d8a 89.0px,#dd6064 96.0px,#f48d46 101.0px,#fabe2e 107.0px,#f5d628 111.5px,#ebe828 119.0px,#ebe828 132.0px)"></i><i style="background:linear-gradient(#ebe828 0.0px,#ece628 22.5px,#facb28 30.5px,#f69641 37.5px,#e87257 41.5px,#bc3386 49.5px,#af2a8d 52.0px,#a32991 56.0px,#ae2a8e 60.0px,#b93088 62.0px,#d14e73 67.5px,#d14f72 71.5px,#bb3286 77.0px,#b02a8d 79.0px,#a32991 83.0px,#ad2a8e 87.0px,#ba3187 89.5px,#e97456 98.0px,#f89b3d 102.5px,#f9ce28 109.5px,#ebe828 118.0px,#ebe828 132.0px)"></i><i style="background:linear-gradient(#ebe828 0.0px,#ece628 22.5px,#facc28 30.5px,#f69740 37.5px,#e97456 41.5px,#bb3287 50.0px,#ae2a8e 52.5px,#a32991 56.5px,#ae2a8e 60.5px,#b93088 62.5px,#cf4b75 68.0px,#cd4977 72.0px,#b02a8d 78.5px,#a32991 82.5px,#ad2a8e 86.5px,#b93088 89.0px,#e2685e 96.5px,#f59044 101.0px,#fac32b 107.5px,#f1dd28 113.5px,#ebe828 119.0px,#ebe828 132.0px)"></i><i style="background:linear-gradient(#ebe828 0.0px,#ede528 23.0px,#fac929 31.0px,#f69442 38.0px,#e56c5b 42.5px,#bc3385 50.0px,#b02a8d 52.5px,#a32991 57.0px,#ae2a8e 61.0px,#bb3286 63.5px,#cc4778 68.5px,#c8437b 72.5px,#b02a8d 78.0px,#a32991 82.0px,#ac2a8e 86.0px,#b82f89 88.5px,#de6163 95.5px,#f48d46 100.5px,#fabd2e 106.5px,#f4d728 111.5px,#ebe828 118.5px,#ebe828 132.0px)"></i><i style="background:linear-gradient(#ebe828 0.0px,#ece528 23.0px,#faca29 31.0px,#f69541 38.0px,#e87257 42.0px,#bd3584 50.0px,#b12a8d 52.5px,#a32991 57.0px,#ac2a8e 61.0px,#b82f89 63.5px,#c8437b 68.5px,#c53e7e 72.5px,#b02a8d 77.5px,#a32991 81.5px,#ad2a8e 86.0px,#b93088 88.5px,#df6362 95.5px,#f48e45 100.5px,#fac22c 107.0px,#f2db28 112.5px,#ebe828 119.0px,#ebe828 132.0px)"></i><i style="background:linear-gradient(#ebe828 0.0px,#ece628 23.0px,#facb28 31.0px,#f69740 38.0px,#e66f59 42.5px,#bc3386 50.5px,#b02a8d 53.0px,#a32991 57.5px,#ae2a8e 62.0px,#bd3585 65.5px,#c53f7e 70.0px,#b82f88 75.0px,#a9298f 78.5px,#a42991 82.5px,#b62c8a 87.5px,#db5c67 94.5px,#f48b47 100.0px,#fabf2d 106.5px,#f5d628 111.0px,#ebe828 118.5px,#ebe828 132.0px)"></i><i style="background:linear-gradient(#ebe828 0.0px,#ece628 23.0px,#fac929 31.5px,#f69342 38.5px,#e56c5b 43.0px,#ba3287 51.0px,#af2a8e 53.5px,#a32991 58.0px,#ad2a8e 62.5px,#bb3386 66.0px,#c13a81 70.5px,#af2a8d 76.5px,#a32991 81.0px,#ad2a8e 85.5px,#b93088 88.0px,#de6163 95.0px,#f48d46 100.0px,#fabd2e 106.0px,#f5d528 110.5px,#ebe828 118.0px,#ebe828 132.0px)"></i><i style="background:linear-gradient(#ebe828 0.0px,#ede528 23.5px,#fac929 31.5px,#f69541 38.5px,#e56e5a 43.0px,#bb3386 51.0px,#b02a8d 53.5px,#a32991 58.0px,#ab298f 62.5px,#b82f89 66.0px,#be3684 70.5px,#ac2a8e 76.5px,#a32991 81.0px,#ae2a8e 85.5px,#ba3187 88.0px,#e2675f 95.5px,#f59243 100.5px,#fac42b 107.0px,#f0df28 113.5px,#ebe828 119.0px,#ebe828 132.0px)"></i><i style="background:linear-gradient(#ebe828 0.0px,#ede528 23.5px,#faca29 31.5px,#f69541 38.5px,#e97357 42.5px,#bc3485 51.0px,#b12a8d 53.5px,#a22991 58.5px,#ac2a8e 63.5px,#ba3187 69.0px,#b12a8d 74.5px,#a22991 80.0px,#ab298f 84.5px,#b93088 87.5px,#dd6064 94.5px,#f58f45 100.0px,#fac22c 106.5px,#f2db28 112.0px,#ebe828 118.5px,#ebe828 132.0px)"></i><i style="background:linear-gradient(#ebe828 0.0px,#ece528 23.5px,#faca29 31.5px,#f69640 38.5px,#e77059 43.0px,#bd3584 51.0px,#b02a8d 54.0px,#a22991 59.0px,#ac2a8e 64.5px,#b72e8a 69.5px,#ad2a8e 74.5px,#a22991 80.0px,#ae2a8e 85.0px,#ba3187 87.5px,#de6164 94.5px,#f59044 100.0px,#fac52b 107.0px,#efe128 114.0px,#ebe828 119.0px,#ebe828 132.0px)"></i><i style="background:linear-gradient(#ebe828 0.0px,#ece528 23.5px,#facb28 31.5px,#f69342 39.0px,#e2685e 44.0px,#bc3386 51.5px,#ae2a8e 54.5px,#a22991 59.5px,#ae2a8e 66.0px,#b32a8c 71.0px,#a12991 79.5px,#ad2a8e 84.5px,#b82f88 87.0px,#dc5e66 94.0px,#f48c46 99.5px,#fabf2d 106.0px,#f4d828 111.0px,#ebe828 118.0px,#ebe828 132.0px)"></i><i style="background:linear-gradient(#ebe828 0.0px,#ece628 23.5px,#fac829 32.0px,#f69442 39.0px,#e56e5a 43.5px,#bc3485 51.5px,#b12a8d 54.0px,#a22991 59.0px,#a82990 65.0px,#ae2a8e 71.0px,#a12991 79.5px,#ae2a8e 84.5px,#b93088 87.0px,#df6362 94.5px,#f59143 100.0px,#fac72a 107.0px,#eee328 114.5px,#ebe828 120.0px,#ebe828 132.0px)"></i><i style="background:linear-gradient(#ebe828 0.0px,#ece628 23.5px,#fac929 32.0px,#f69441 39.0px,#e66e5a 43.5px,#bd3584 51.5px,#b02a8d 54.5px,#a12992 60.0px,#aa298f 71.0px,#a12991 79.5px,#b12a8d 85.0px,#c63f7d 89.5px,#f2854a 98.5px,#fab92f 105.0px,#f5d528 110.0px,#ebe828 117.5px,#ebe828 132.0px)"></i><i style="background:linear-gradient(#ebe828 0.0px,#ece628 23.5px,#fac929 32.0px,#f69541 39.0px,#e97356 43.0px,#be3684 51.5px,#b02a8d 54.5px,#a02992 60.0px,#a62990 72.0px,#a12992 79.5px,#b22a8d 85.0px,#cc4778 90.5px,#f48e45 99.5px,#fac12c 106.0px,#f2da28 111.5px,#ebe828 118.0px,#ebe828 132.0px)"></i><i style="background:linear-gradient(#ebe828 0.0px,#ede528 24.0px,#faca29 32.0px,#f69641 39.0px,#e77059 43.5px,#bc3485 52.0px,#b12a8d 54.5px,#a02992 60.0px,#a12991 73.5px,#a22991 80.5px,#b62d8a 86.0px,#d95969 93.0px,#f58f45 99.5px,#fac12c 106.0px,#f2da28 111.5px,#ebe828 118.0px,#ebe828 132.0px)"></i><i style="background:linear-gradient(#ebe828 0.0px,#ede528 24.0px,#faca29 32.0px,#f69640 39.0px,#e77059 43.5px,#bc3485 52.0px,#af2a8d 55.0px,#9f2992 61.0px,#a12991 80.0px,#b72d8a 86.0px,#d95a69 93.0px,#f58f44 99.5px,#fac22c 106.0px,#f2da28 111.5px,#ebe828 118.0px,#ebe828 132.0px)"></i><i style="background:linear-gradient(#ebe828 0.0px,#ede528 24.0px,#faca29 32.0px,#f69640 39.0px,#e77158 43.5px,#bd3585 52.0px,#b02a8d 55.0px,#9f2992 61.0px,#a02992 79.5px,#b52b8b 85.5px,#d95a69 93.0px,#f48b47 99.0px,#fabe2d 105.5px,#f4d728 110.5px,#ebe828 117.5px,#ebe828 132.0px)"></i><i style="background:linear-gradient(#ebe828 0.0px,#ede528 24.0px,#faca29 32.0px,#f69740 39.0px,#e77158 43.5px,#bd3585 52.0px,#b02a8d 55.0px,#9e2992 61.0px,#9f2992 79.0px,#b52c8b 85.5px,#d95b69 93.0px,#f48c46 99.0px,#fabf2d 105.5px,#f4d728 110.5px,#ebe828 117.5px,#ebe828 132.0px)"></i><i style="background:linear-gradient(#ebe828 0.0px,#ede528 24.0px,#faca29 32.0px,#f69740 39.0px,#e77158 43.5px,#bd3584 52.0px,#b02a8d 55.0px,#9e2992 61.0px,#9e2992 78.0px,#af2a8d 84.0px,#bc3385 87.0px,#e46a5d 95.0px,#f59044 99.5px,#fac52b 106.5px,#efe128 113.5px,#ebe828 118.5px,#ebe828 132.0px)"></i><i style="background:linear-gradient(#ebe828 0.0px,#ede528 24.0px,#faca29 32.0px,#f69740 39.0px,#e77158 43.5px,#bd3584 52.0px,#b02a8d 55.0px,#9e2992 61.5px,#9e2992 78.0px,#b12a8d 84.5px,#c8427b 89.5px,#f48c46 99.0px,#fabf2d 105.5px,#f4d728 110.5px,#ebe828 117.5px,#ebe828 132.0px)"></i><i style="background:linear-gradient(#ebe828 0.0px,#ede528 24.0px,#faca29 32.0px,#f69740 39.0px,#e77158 43.5px,#bd3584 52.0px,#b02a8d 55.0px,#9e2992 61.5px,#9e2992 78.0px,#b12a8d 84.5px,#c8427b 89.5px,#f48c46 99.0px,#fabf2d 105.5px,#f4d728 110.5px,#ebe828 117.5px,#ebe828 132.0px)"></i><i style="background:linear-gradient(#ebe828 0.0px,#ede528 24.0px,#faca29 32.0px,#f69740 39.0px,#e77158 43.5px,#bd3584 52.0px,#b02a8d 55.0px,#9e2992 61.5px,#9e2992 78.0px,#af2a8d 84.0px,#bc3385 87.0px,#e46a5d 95.0px,#f59044 99.5px,#fac52b 106.5px,#efe128 113.5px,#ebe828 118.5px,#ebe828 132.0px)"></i><i style="background:linear-gradient(#ebe828 0.0px,#ede528 24.0px,#faca29 32.0px,#f69740 39.0px,#e77158 43.5px,#bd3584 52.0px,#b02a8d 55.0px,#9e2992 61.0px,#9f2992 78.5px,#b12a8d 84.5px,#c8427b 89.5px,#f48c46 99.0px,#fabf2d 105.5px,#f4d728 110.5px,#ebe828 117.5px,#ebe828 132.0px)"></i><i style="background:linear-gradient(#ebe828 0.0px,#ede528 24.0px,#faca29 32.0px,#f69640 39.0px,#e77158 43.5px,#bd3585 52.0px,#b02a8d 55.0px,#9f2992 61.0px,#a02992 79.5px,#b52c8b 85.5px,#d95a69 93.0px,#f48c47 99.0px,#fabe2d 105.5px,#f4d728 110.5px,#ebe828 117.5px,#ebe828 132.0px)"></i><i style="background:linear-gradient(#ebe828 0.0px,#ede528 24.0px,#faca29 32.0px,#f69640 39.0px,#e77059 43.5px,#bc3485 52.0px,#af2a8d 55.0px,#9f2992 61.0px,#a12991 80.0px,#b72e8a 86.0px,#d95a69 93.0px,#f58f44 99.5px,#fac22c 106.0px,#f2db28 111.5px,#ebe828 118.0px,#ebe828 132.0px)"></i><i style="background:linear-gradient(#ebe828 0.0px,#ede528 24.0px,#faca29 32.0px,#f69641 39.0px,#e77059 43.5px,#bc3485 52.0px,#b12a8d 54.5px,#a02992 60.0px,#a02992 74.0px,#a22991 80.5px,#b72d8a 86.0px,#d95969 93.0px,#f58f44 99.5px,#fac12c 106.0px,#f2da28 111.5px,#ebe828 118.0px,#ebe828 132.0px)"></i><i style="background:linear-gradient(#ebe828 0.0px,#ece628 23.5px,#fac929 32.0px,#f69541 39.0px,#e66f59 43.5px,#be3684 51.5px,#b12a8d 54.5px,#a02992 60.0px,#a42991 72.5px,#a12991 80.0px,#b62d8a 86.0px,#d8596a 93.0px,#f48f45 99.5px,#fac12c 106.0px,#f2da28 111.5px,#ebe828 118.0px,#ebe828 132.0px)"></i><i style="background:linear-gradient(#ebe828 0.0px,#ece628 23.5px,#fac929 32.0px,#f69541 39.0px,#e66f5a 43.5px,#bd3584 51.5px,#b02a8d 54.5px,#a12992 60.0px,#a9298f 71.5px,#a12992 79.5px,#b12a8d 85.0px,#c9437b 90.0px,#f48e45 99.5px,#fabd2e 105.5px,#f4d728 110.5px,#ebe828 118.0px,#ebe828 132.0px)"></i><i style="background:linear-gradient(#ebe828 0.0px,#ece628 23.5px,#fac929 32.0px,#f69442 39.0px,#e66e5a 43.5px,#bd3585 51.5px,#b22a8d 54.0px,#a12991 59.5px,#aa298f 66.5px,#ac2a8e 72.0px,#a12991 79.5px,#b02a8d 85.0px,#c03982 88.5px,#ee7c50 97.5px,#fab232 104.0px,#f7d128 109.0px,#ebe828 117.5px,#ebe828 132.0px)"></i><i style="background:linear-gradient(#ebe828 0.0px,#ece628 23.5px,#facb28 31.5px,#f69342 39.0px,#e3695e 44.0px,#bc3485 51.5px,#b12a8d 54.0px,#a22991 59.0px,#aa298f 65.0px,#b22a8d 70.5px,#a12991 79.5px,#ad2a8e 84.5px,#b82f88 87.0px,#dc5e66 94.0px,#f48d46 99.5px,#fac02d 106.0px,#f4d828 111.0px,#ebe828 118.0px,#ebe828 132.0px)"></i><i style="background:linear-gradient(#ebe828 0.0px,#ece528 23.5px,#facb29 31.5px,#f69740 38.5px,#e77059 43.0px,#be3684 51.0px,#b02a8d 54.0px,#a22991 59.0px,#ab2a8e 64.5px,#b62c8a 69.5px,#ac2a8e 74.5px,#a22991 80.0px,#ae2a8e 85.0px,#ba3187 87.5px,#de6163 94.5px,#f59044 100.0px,#fac62a 107.0px,#eee228 114.5px,#ebe828 119.5px,#ebe828 132.0px)"></i><i style="background:linear-gradient(#ebe828 0.0px,#ede528 23.5px,#faca29 31.5px,#f69641 38.5px,#e97456 42.5px,#bd3585 51.0px,#b12a8d 53.5px,#a22991 58.5px,#ab298f 63.5px,#b93088 69.0px,#b02a8d 74.5px,#a22991 80.0px,#ad2a8e 85.0px,#b93088 87.5px,#dd6064 94.5px,#f58f44 100.0px,#fac22c 106.5px,#f2db28 112.0px,#ebe828 118.5px,#ebe828 132.0px)"></i><i style="background:linear-gradient(#ebe828 0.0px,#ede528 23.5px,#fac929 31.5px,#f69541 38.5px,#e87257 42.5px,#bc3386 51.0px,#b02a8d 53.5px,#a32991 58.0px,#aa298f 62.5px,#b92f88 66.5px,#bc3485 71.0px,#ad2a8e 76.0px,#a32991 81.0px,#af2a8e 85.5px,#ba3287 88.0px,#e2675f 95.5px,#f59243 100.5px,#fac82a 107.5px,#ede428 115.5px,#ebe828 125.0px,#ebe828 132.0px)"></i><i style="background:linear-gradient(#ebe828 0.0px,#ece628 23.0px,#fac929 31.5px,#f69442 38.5px,#e56d5b 43.0px,#bb3286 51.0px,#af2a8d 53.5px,#a32991 58.0px,#ad2a8e 62.5px,#b93088 65.5px,#c03982 70.0px,#b02a8d 76.0px,#a32991 80.5px,#ab2a8e 85.0px,#b72e89 87.5px,#dc5e66 94.5px,#f48d46 100.0px,#fabd2e 106.0px,#f5d528 110.5px,#ebe828 118.0px,#ebe828 132.0px)"></i><i style="background:linear-gradient(#ebe828 0.0px,#ece628 23.0px,#facb28 31.0px,#f69740 38.0px,#e77059 42.5px,#bc3485 50.5px,#b02a8d 53.0px,#a32991 57.5px,#ad2a8e 62.0px,#ba3187 65.0px,#c43e7f 69.5px,#bb3386 74.0px,#af2a8e 77.0px,#a32991 81.5px,#af2a8e 86.0px,#bb3286 88.5px,#e56d5b 96.5px,#f69441 101.0px,#facc28 108.5px,#ebe828 117.5px,#ebe828 132.0px)"></i><i style="background:linear-gradient(#ebe828 0.0px,#ece528 23.0px,#faca29 31.0px,#f69641 38.0px,#e87357 42.0px,#bb3286 50.5px,#af2a8d 53.0px,#a32991 57.5px,#ad2a8e 61.5px,#bb3386 64.5px,#c8427c 69.0px,#c23b80 73.0px,#b22a8d 77.0px,#a32991 81.5px,#ad2a8e 86.0px,#ba3187 88.5px,#e2675f 96.0px,#f69342 101.0px,#fac929 108.0px,#ede528 116.0px,#ebe828 131.0px,#ebe828 132.0px)"></i><i style="background:linear-gradient(#ebe828 0.0px,#ede528 23.0px,#faca29 31.0px,#f69441 38.0px,#e56d5b 42.5px,#bc3485 50.0px,#b02a8d 52.5px,#a32991 57.0px,#ae2a8e 61.0px,#ba3187 63.5px,#cb4679 68.5px,#c7417c 72.5px,#b22a8d 77.5px,#a42991 81.5px,#aa298f 85.5px,#b62d8a 88.0px,#dc5e66 95.0px,#f48e45 100.5px,#fabe2e 106.5px,#f4d728 111.5px,#ebe828 118.5px,#ebe828 132.0px)"></i><i style="background:linear-gradient(#ebe828 0.0px,#ede528 23.0px,#fac929 31.0px,#f69342 38.0px,#e2675f 43.0px,#bb3286 50.0px,#b12a8d 52.0px,#a42991 56.0px,#ab298f 60.0px,#b82f89 62.5px,#ce4976 68.0px,#cc4778 72.0px,#b22a8d 78.0px,#a42991 82.0px,#ab298f 86.0px,#b72e89 88.5px,#dd6064 95.5px,#f48c46 100.5px,#fabd2e 106.5px,#f5d528 111.0px,#ebe828 118.5px,#ebe828 132.0px)"></i><i style="background:linear-gradient(#ebe828 0.0px,#ece628 22.5px,#facb28 30.5px,#f69640 37.5px,#e87357 41.5px,#bc3485 49.5px,#b02a8d 52.0px,#a32991 56.0px,#ae2a8e 60.0px,#b82f88 62.0px,#d04d74 67.5px,#d04d73 71.5px,#b52b8b 78.0px,#a42991 82.0px,#a9298f 86.0px,#b62c8a 88.5px,#dc5e65 95.5px,#f58f44 101.0px,#fac32c 107.5px,#f1dd28 113.5px,#ebe828 119.5px,#ebe828 132.0px)"></i><i style="background:linear-gradient(#ebe828 0.0px,#ece528 22.5px,#faca29 30.5px,#f69441 37.5px,#e77158 41.5px,#bb3286 49.5px,#b12a8d 51.5px,#a32991 55.5px,#ab298f 59.0px,#b62c8a 61.0px,#d24f71 67.0px,#d4536e 71.0px,#c53e7e 75.5px,#b22a8d 79.0px,#a42991 82.5px,#aa298f 86.5px,#b72d8a 89.0px,#de6164 96.0px,#f48e45 101.0px,#fabe2d 107.0px,#f5d628 111.5px,#ebe828 119.0px,#ebe828 132.0px)"></i><i style="background:linear-gradient(#ebe828 0.0px,#ede528 22.5px,#fac929 30.5px,#f69342 37.5px,#e16660 42.5px,#b93088 49.5px,#af2a8d 51.5px,#a32991 55.5px,#ad2a8e 59.0px,#b82f88 61.0px,#d3526f 66.5px,#d8586a 70.5px,#cb4679 75.0px,#b22a8d 79.5px,#a42991 83.0px,#ab298f 87.0px,#b82f89 89.5px,#df6362 96.5px,#f59044 101.5px,#fac42b 108.0px,#f0df28 114.5px,#ebe828 120.0px,#ebe828 132.0px)"></i><i style="background:linear-gradient(#ebe828 0.0px,#ece628 22.0px,#facb28 30.0px,#f69641 37.0px,#e87258 41.0px,#ba3287 49.0px,#ad2a8e 51.5px,#a32991 55.5px,#af2a8d 59.0px,#be3684 61.5px,#d8586a 67.0px,#da5c67 71.0px,#cc4778 75.5px,#b12a8d 80.0px,#a32991 83.5px,#ac2a8e 87.5px,#b62d8a 89.5px,#de6163 96.5px,#f58f45 101.5px,#fac32c 108.0px,#f1dd28 114.0px,#ebe828 120.0px,#ebe828 132.0px)"></i><i style="background:linear-gradient(#ebe828 0.0px,#ece528 22.0px,#faca29 30.0px,#f69442 37.0px,#e46b5c 41.5px,#b93088 49.0px,#ae2a8e 51.0px,#a32991 55.0px,#af2a8d 58.5px,#bb3286 60.5px,#d8586a 66.0px,#de6263 70.0px,#d5556d 74.0px,#b12a8d 80.5px,#a32991 84.0px,#aa298f 87.5px,#b72e89 90.0px,#e06461 97.0px,#f48d46 101.5px,#fabe2d 107.5px,#f5d628 112.0px,#ebe828 119.5px,#ebe828 132.0px)"></i><i style="background:linear-gradient(#ebe828 0.0px,#ede528 22.0px,#fac929 30.0px,#f69740 36.5px,#e87257 40.5px,#ba3187 48.5px,#af2a8e 50.5px,#a32991 54.5px,#ae2a8e 58.0px,#bb3286 60.0px,#db5d67 66.0px,#e16660 70.0px,#d8596a 74.0px,#b42a8c 80.5px,#a32991 84.0px,#a8298f 87.5px,#b62c8b 90.0px,#de6263 97.0px,#f59044 102.0px,#fac42b 108.5px,#f0df28 115.0px,#ebe828 120.5px,#ebe828 132.0px)"></i><i style="background:linear-gradient(#ebe828 0.0px,#ece628 21.5px,#facb28 29.5px,#f69541 36.5px,#e77059 40.5px,#bb3286 48.0px,#b02a8d 50.0px,#a32991 53.5px,#ab298f 57.0px,#b72e89 59.0px,#dc5f65 65.5px,#e46b5c 69.5px,#dd6064 73.5px,#bc3485 79.5px,#b02a8d 81.5px,#a22991 85.0px,#ab298f 88.5px,#b72d8a 90.5px,#e06461 97.5px,#f48e45 102.0px,#fabf2d 108.0px,#f4d628 112.5px,#ebe828 119.5px,#ebe828 132.0px)"></i><i style="background:linear-gradient(#ebe828 0.0px,#ece528 21.5px,#faca29 29.5px,#f59342 36.5px,#e3695e 41.0px,#b93088 48.0px,#ae2a8e 50.0px,#a22991 53.5px,#ad2a8e 57.0px,#b72d8a 58.5px,#dd6064 65.0px,#e66f59 69.0px,#e2675f 73.0px,#c6407d 78.5px,#b22a8c 81.5px,#a32991 85.0px,#a9298f 88.5px,#b72e89 91.0px,#e46b5c 98.5px,#f59044 102.5px,#fac12c 108.5px,#f3d928 113.5px,#ebe828 120.0px,#ebe828 132.0px)"></i><i style="background:linear-gradient(#ebe828 0.0px,#ede528 21.5px,#fac929 29.5px,#f69541 36.0px,#e77059 40.0px,#ba3187 47.5px,#ae2a8e 49.5px,#a22991 53.0px,#ac2a8e 56.5px,#b62d8a 58.0px,#e06461 65.0px,#e97356 69.0px,#e46c5c 73.0px,#ca447a 78.5px,#b22a8d 82.0px,#a22991 85.5px,#aa298f 89.0px,#b82f88 91.5px,#eb7754 100.0px,#f9a03b 104.5px,#facd28 110.5px,#ebe828 119.0px,#ebe828 132.0px)"></i><i style="background:linear-gradient(#ebe828 0.0px,#ece628 21.0px,#faca29 29.0px,#f69342 36.0px,#e3695e 40.5px,#b82f89 47.5px,#a9298f 50.0px,#a22991 53.5px,#af2a8e 56.5px,#bc3485 58.5px,#e16660 64.5px,#eb7754 68.5px,#e87257 72.5px,#d35170 77.5px,#b52b8c 82.0px,#a22991 85.5px,#a8298f 89.0px,#b72d8a 91.5px,#e16660 98.5px,#f59144 103.0px,#fac22c 109.0px,#f2db28 114.5px,#ebe828 120.5px,#ebe828 132.0px)"></i><i style="background:linear-gradient(#ebe828 0.0px,#ece528 21.0px,#fac929 29.0px,#f69641 35.5px,#e77059 39.5px,#b93088 47.0px,#ad2a8e 49.0px,#a12991 52.5px,#aa298f 55.5px,#b82f88 57.5px,#e2675f 64.0px,#ed7a52 68.0px,#ec7953 72.0px,#dc5e66 76.5px,#b42a8c 82.5px,#a32991 85.5px,#a62990 89.0px,#b72e89 92.0px,#e87257 100.0px,#f79840 104.0px,#f9cd28 111.0px,#ebe828 119.5px,#ebe828 132.0px)"></i><i style="background:linear-gradient(#ebe828 0.0px,#ede528 21.0px,#facb28 28.5px,#f69442 35.5px,#e56e5a 39.5px,#b72e89 47.0px,#a22991 51.0px,#a52990 54.0px,#b82e89 57.0px,#e46c5c 64.0px,#ef7f4f 68.0px,#ee7d50 72.0px,#e16660 76.0px,#b32a8c 83.0px,#a22991 86.0px,#a72990 89.5px,#b62c8b 92.0px,#de6163 98.5px,#f48c46 103.0px,#fabb2f 108.5px,#f5d528 113.0px,#ebe828 120.5px,#ebe828 132.0px)"></i><i style="background:linear-gradient(#ebe828 0.0px,#ece528 20.5px,#faca29 28.5px,#f69640 35.0px,#e97555 38.5px,#b82f89 46.5px,#a9298f 49.0px,#a12991 52.5px,#af2a8d 55.5px,#be3684 57.5px,#e56c5b 63.5px,#f1814d 67.5px,#f1824c 71.5px,#e66f5a 75.5px,#c03982 81.5px,#b22a8d 83.5px,#a22991 86.5px,#a72990 90.0px,#b62d8a 92.5px,#e56d5b 100.0px,#f69342 104.0px,#fac82a 110.5px,#ede428 118.0px,#ebe828 124.0px,#ebe828 132.0px)"></i><i style="background:linear-gradient(#ebe828 0.0px,#ede528 20.5px,#facb28 28.0px,#f7983f 34.5px,#e87257 38.5px,#b93088 46.0px,#ac2a8e 48.0px,#a02992 51.5px,#ab298f 54.5px,#b62d8a 56.0px,#e56d5b 63.0px,#f2844b 67.0px,#f38749 71.0px,#ea7754 75.0px,#cb4678 80.5px,#b12a8d 84.0px,#a12991 87.0px,#a52990 90.0px,#b72e89 93.0px,#ef7e4f 102.0px,#faaf33 107.5px,#f7d128 112.5px,#ebe828 120.5px,#ebe828 132.0px)"></i><i style="background:linear-gradient(#ebe828 0.0px,#ece628 20.0px,#faca29 28.0px,#f69640 34.5px,#e97456 38.0px,#b72d8a 46.0px,#a12991 50.0px,#a42991 53.0px,#b52c8b 55.5px,#e56e5a 62.5px,#f38849 67.0px,#f48b47 71.0px,#eb7854 75.5px,#cb4679 81.0px,#b42a8c 84.0px,#a22991 87.0px,#a32991 90.0px,#b52b8b 93.0px,#e2675f 100.0px,#f48f45 104.0px,#fac12c 110.0px,#f3d928 115.0px,#ebe828 121.5px,#ebe828 132.0px)"></i><i style="background:linear-gradient(#ebe828 0.0px,#ede528 20.0px,#fac829 28.0px,#f69442 34.5px,#e56d5b 38.5px,#b82e89 45.5px,#a52990 48.5px,#a02992 51.5px,#b02a8d 54.5px,#c43d7f 57.0px,#e87257 62.5px,#f48c46 67.0px,#f48e45 71.5px,#eb7853 76.0px,#ca4579 81.5px,#b32a8c 84.5px,#a12991 87.5px,#a42991 90.5px,#b62c8a 93.5px,#e97456 101.5px,#f79a3e 105.5px,#facd28 112.0px,#ebe828 120.5px,#ebe828 132.0px)"></i><i style="background:linear-gradient(#ebe828 0.0px,#ece628 19.5px,#faca29 27.5px,#f69641 34.0px,#e97456 37.5px,#b82f88 45.0px,#ab298f 47.0px,#9f2992 50.5px,#ab298f 53.5px,#b72e89 55.0px,#e87357 62.0px,#f48c46 66.0px,#f69342 70.5px,#f2834b 75.0px,#d8596a 80.0px,#b22a8d 85.0px,#a02992 88.0px,#a42991 91.0px,#b72d8a 94.0px,#f2844b 103.5px,#faba2f 109.5px,#f6d428 114.0px,#ebe828 121.5px,#ebe828 132.0px)"></i><i style="background:linear-gradient(#ebe828 0.0px,#ece528 19.5px,#facc28 27.0px,#f7983f 33.5px,#ea7655 37.0px,#b62d8a 45.0px,#a02992 49.0px,#a42991 52.0px,#b62d8a 54.5px,#e87357 61.5px,#f48e45 65.5px,#f79740 70.0px,#f48a47 74.5px,#e2675f 79.0px,#b52b8b 85.0px,#a12991 88.0px,#a22991 91.0px,#b82e89 94.5px,#f38749 104.0px,#fab830 109.5px,#f6d328 114.0px,#ebe828 121.5px,#ebe828 132.0px)"></i><i style="background:linear-gradient(#ebe828 0.0px,#ece628 19.0px,#faca29 27.0px,#f69541 33.5px,#e66e5a 37.5px,#b72e89 44.5px,#a12991 48.0px,#a12991 51.0px,#b52c8b 54.0px,#e87357 61.0px,#f58f44 65.0px,#f79b3d 69.5px,#f59143 74.0px,#ea7555 78.0px,#bb3386 84.5px,#af2a8d 86.0px,#9f2992 89.0px,#a42990 92.0px,#b52c8b 94.5px,#ef7f4e 103.5px,#fab232 109.0px,#f8d028 113.5px,#ebe828 121.5px,#ebe828 132.0px)"></i><i style="background:linear-gradient(#ebe828 0.0px,#ece528 19.0px,#facc28 26.5px,#f79740 33.0px,#ea7555 36.5px,#b52b8b 44.5px,#a02992 48.0px,#a22991 51.0px,#b52b8b 53.5px,#e87357 60.5px,#f48e45 64.0px,#f89e3c 68.5px,#f7993f 73.0px,#ef7e4f 77.5px,#cc4778 83.0px,#b32a8c 86.0px,#a02992 89.0px,#a22991 92.0px,#b62c8a 95.0px,#f2864a 104.5px,#fab830 110.0px,#f6d328 114.5px,#ebe828 122.0px,#ebe828 132.0px)"></i><i style="background:linear-gradient(#ebe828 0.0px,#ece628 18.5px,#faca29 26.5px,#f69541 33.0px,#e56d5b 37.0px,#b62c8b 44.0px,#a02992 47.5px,#a12991 50.5px,#b42a8c 53.0px,#e87257 60.0px,#f58f45 63.5px,#f9a03a 68.0px,#f89e3c 72.5px,#f3864a 77.0px,#d35170 82.5px,#b22a8d 86.5px,#9f2992 89.5px,#a32991 92.5px,#b72d8a 95.5px,#f2834c 104.5px,#fab631 110.0px,#f7d228 114.5px,#ebe828 122.5px,#ebe828 132.0px)"></i><i style="background:linear-gradient(#ebe828 0.0px,#ece528 18.5px,#facc28 26.0px,#f69740 32.5px,#e97456 36.0px,#b62d8a 43.5px,#9f2992 47.5px,#a32991 50.5px,#b62d8a 53.0px,#e87257 59.5px,#f59044 63.0px,#f9a339 67.5px,#f9a13a 72.5px,#f48b47 77.0px,#dd6064 81.5px,#b52b8b 86.5px,#a02992 89.5px,#a12991 92.5px,#b52b8c 95.5px,#f2854a 105.0px,#fab730 110.5px,#f6d328 115.0px,#ebe828 122.5px,#ebe828 132.0px)"></i><i style="background:linear-gradient(#ebe828 0.0px,#ece628 18.0px,#faca29 26.0px,#f69442 32.5px,#e77158 36.0px,#b42a8c 43.5px,#9f2992 47.0px,#a22991 50.0px,#b62c8b 52.5px,#eb7754 59.5px,#f69342 63.0px,#faa637 67.5px,#faa438 72.5px,#f58f45 77.0px,#e77059 80.5px,#b42a8c 87.0px,#9f2992 90.0px,#a12991 93.0px,#b52c8b 96.0px,#f1824c 105.0px,#fab531 110.5px,#f7d228 115.0px,#ebe828 123.0px,#ebe828 132.0px)"></i><i style="background:linear-gradient(#ebe828 0.0px,#ece528 18.0px,#facb28 25.5px,#f69640 32.0px,#e87357 35.5px,#b52b8b 43.0px,#9e2992 46.5px,#a12991 49.5px,#b52b8c 52.0px,#ea7654 59.0px,#f69442 62.5px,#faa936 67.5px,#faa736 72.5px,#f59342 77.0px,#e97456 80.5px,#b32a8c 87.5px,#9e2992 90.5px,#a12991 93.5px,#b62c8a 96.5px,#f2844b 105.5px,#fab730 111.0px,#f6d328 115.5px,#ebe828 123.0px,#ebe828 132.0px)"></i><i style="background:linear-gradient(#ebe828 0.0px,#ece628 17.5px,#faca29 25.5px,#f7983f 31.5px,#e97555 35.0px,#b62c8b 42.5px,#9f2992 46.0px,#a02992 49.0px,#b32a8c 51.5px,#ea7655 58.5px,#f69541 62.0px,#faab35 67.0px,#faac35 72.0px,#f69740 77.0px,#ec7953 80.5px,#be3684 86.5px,#b12a8d 88.0px,#9d2992 91.0px,#a12991 94.0px,#b72d8a 97.0px,#f0814d 105.5px,#fab531 111.0px,#f7d228 115.5px,#ebe828 123.5px,#ebe828 132.0px)"></i><i style="background:linear-gradient(#ebe828 0.0px,#ece528 17.5px,#facb28 25.0px,#f69541 31.5px,#e87158 35.0px,#b62d8a 42.0px,#9f2992 45.5px,#9d2992 48.0px,#b22a8d 51.0px,#ea7655 58.0px,#f69541 61.5px,#faad34 66.5px,#fab033 71.5px,#f89d3c 76.5px,#ec7953 81.0px,#b52b8b 88.0px,#9e2992 91.0px,#9f2992 94.0px,#b42a8c 97.0px,#f1834c 106.0px,#fab631 111.5px,#f6d328 116.0px,#ebe828 123.5px,#ebe828 132.0px)"></i><i style="background:linear-gradient(#ebe828 0.0px,#ece628 17.0px,#fac929 25.0px,#f69740 31.0px,#e97356 34.5px,#b42a8c 42.0px,#9d2993 45.5px,#9e2992 48.0px,#b62c8b 51.0px,#ea7555 57.5px,#f59143 60.5px,#faad34 65.5px,#fab431 70.5px,#faa637 75.5px,#f38749 80.0px,#ce4a75 85.5px,#b42a8c 88.5px,#9e2992 91.5px,#a02992 94.5px,#b52b8b 97.5px,#f2854a 106.5px,#fab830 112.0px,#f7d228 116.0px,#ebe828 124.0px,#ebe828 132.0px)"></i><i style="background:linear-gradient(#ebe828 0.0px,#ede528 17.0px,#facb29 24.5px,#f7993f 30.5px,#ea7555 34.0px,#b52b8c 41.5px,#9d2993 45.0px,#9d2992 47.5px,#b52b8c 50.5px,#e97456 57.0px,#f59143 60.0px,#faaf34 65.0px,#fab730 70.0px,#faac35 75.0px,#f48b47 80.0px,#da5b68 84.5px,#b32a8c 89.0px,#9d2993 92.0px,#9e2992 94.5px,#b62c8a 98.0px,#f1824d 106.5px,#fab631 112.0px,#f6d328 116.5px,#ebe828 124.0px,#ebe828 132.0px)"></i><i style="background:linear-gradient(#ebe828 0.0px,#ece628 16.5px,#facc28 24.0px,#f69640 30.5px,#e87258 34.0px,#b52c8b 41.0px,#9d2993 44.5px,#9d2993 47.0px,#b32a8c 50.0px,#ec7953 57.0px,#f9a03b 61.5px,#fab631 66.5px,#fab830 72.0px,#faa538 77.0px,#f0814d 81.5px,#c8427b 87.0px,#b12a8d 89.5px,#9e2992 92.0px,#9c2993 94.5px,#b32a8c 98.0px,#e97456 105.5px,#f7983f 109.0px,#f9cd28 115.5px,#ebe828 124.0px,#ebe828 132.0px)"></i><i style="background:linear-gradient(#ebe828 0.0px,#ede528 16.5px,#faca29 24.0px,#f7983f 30.0px,#e97456 33.5px,#b62c8a 40.5px,#9d2993 44.0px,#9c2993 46.5px,#ad2a8e 49.0px,#bb3286 50.5px,#eb7853 56.5px,#f89d3c 60.5px,#fab630 65.5px,#fabc2e 71.0px,#faae34 76.0px,#f48b47 81.0px,#d8596a 85.5px,#b52b8b 89.5px,#9d2993 92.5px,#9c2993 95.0px,#b42a8c 98.5px,#f0804e 107.0px,#fab531 112.5px,#f7d228 117.0px,#ebe828 124.5px,#ebe828 132.0px)"></i><i style="background:linear-gradient(#ebe828 0.0px,#ece528 16.0px,#facb28 23.5px,#f79a3e 29.5px,#ea7555 33.0px,#b32a8c 40.5px,#9d2993 43.5px,#9b2993 46.0px,#ab2a8e 48.5px,#ba3187 50.0px,#eb7853 56.0px,#f89d3c 60.0px,#fab830 65.0px,#fabf2d 70.5px,#fab133 76.0px,#f58f45 81.0px,#e36a5d 84.5px,#b42a8c 90.0px,#9c2993 93.0px,#9c2993 95.5px,#b52b8b 99.0px,#f1824c 107.5px,#fab730 113.0px,#f6d328 117.5px,#ebe828 125.0px,#ebe828 132.0px)"></i><i style="background:linear-gradient(#ebe828 0.0px,#ede528 16.0px,#fac929 23.5px,#f69740 29.5px,#e87258 33.0px,#b42a8c 40.0px,#9b2993 43.5px,#9c2993 46.0px,#b52b8c 49.0px,#eb7754 55.5px,#f7993f 59.0px,#fab930 64.5px,#fac22c 70.0px,#fab631 75.5px,#f79740 80.5px,#ec7a52 83.5px,#b72e89 90.0px,#9e2992 93.0px,#9b2993 95.5px,#ad2a8e 98.5px,#b93088 100.0px,#f2844b 108.0px,#fab830 113.5px,#f7d228 117.5px,#ebe828 125.0px,#ebe828 132.0px)"></i><i style="background:linear-gradient(#ebe828 0.0px,#ece528 15.5px,#facb28 23.0px,#f7983f 29.0px,#ec7953 32.0px,#b52b8b 39.5px,#9b2993 43.0px,#9b2993 45.5px,#ae2a8e 48.0px,#b82f89 49.0px,#ea7655 55.0px,#f7993f 58.5px,#faba2f 64.0px,#fac42b 70.0px,#fab92f 75.5px,#f79740 81.0px,#ec7952 84.0px,#b62c8a 90.5px,#9d2993 93.5px,#9b2993 96.0px,#ad2a8e 99.0px,#ba3187 100.5px,#f0814d 108.0px,#fab133 113.0px,#f8d128 117.5px,#ebe828 125.5px,#ebe828 132.0px)"></i><i style="background:linear-gradient(#ebe828 0.0px,#ece628 15.0px,#facc28 22.5px,#f79a3e 28.5px,#ea7555 32.0px,#b62c8b 39.0px,#9c2993 42.5px,#9b2993 45.0px,#ac2a8e 47.5px,#bb3386 49.0px,#ed7b51 55.0px,#faa438 59.5px,#fabe2d 64.5px,#fac62a 70.5px,#faba2f 76.0px,#f69740 81.5px,#ec7953 84.5px,#b52b8b 91.0px,#9c2993 94.0px,#9a2993 96.5px,#ae2a8e 99.5px,#bb3286 101.0px,#f1824c 108.5px,#fab332 113.5px,#f7d128 118.0px,#ebe828 125.5px,#ebe828 132.0px)"></i><i style="background:linear-gradient(#ebe828 0.0px,#ede528 15.0px,#faca29 22.5px,#f69740 28.5px,#e87258 32.0px,#b22a8c 39.0px,#9c2993 42.0px,#9a2993 44.5px,#ab298f 47.0px,#ba3187 48.5px,#ec7a52 54.5px,#faa438 59.0px,#fabf2d 64.0px,#fac929 70.0px,#fabd2e 76.0px,#f79b3e 81.5px,#eb7853 85.0px,#b42a8c 91.5px,#9d2992 94.0px,#992894 96.5px,#ab298f 99.5px,#b82f89 101.0px,#f2844b 109.0px,#fab930 114.5px,#f7d228 118.5px,#ebe828 126.0px,#ebe828 132.0px)"></i><i style="background:linear-gradient(#ebe828 0.0px,#ece628 14.5px,#facb28 22.0px,#f7993f 28.0px,#ec7953 31.0px,#b32a8c 38.5px,#9c2993 41.5px,#992894 44.0px,#aa298f 46.5px,#b52b8b 47.5px,#ec7952 54.0px,#f9a03a 58.0px,#fabe2d 63.0px,#facb28 69.0px,#fac32c 75.0px,#faaa35 80.0px,#ee7d50 85.0px,#c13981 90.5px,#b32a8c 92.0px,#9c2993 94.5px,#992894 97.0px,#ac2a8e 100.0px,#b93088 101.5px,#f0814d 109.0px,#fab232 114.0px,#f7d128 118.5px,#ebe828 126.5px,#ebe828 132.0px)"></i><i style="background:linear-gradient(#ebe828 0.0px,#ede528 14.5px,#fac929 22.0px,#f69541 28.0px,#e66f59 31.5px,#b42a8c 38.0px,#9c2993 41.0px,#992894 43.5px,#a8298f 46.0px,#b42a8c 47.0px,#eb7853 53.5px,#f9a03b 57.5px,#fabf2d 62.5px,#facd28 68.5px,#fac52b 75.0px,#faad34 80.0px,#f0814d 85.0px,#c53e7e 90.5px,#b12a8d 92.5px,#9c2993 95.0px,#992894 97.5px,#ac2a8e 100.5px,#ba3187 102.0px,#f1824c 109.5px,#fab332 114.5px,#f7d228 119.0px,#ebe828 126.5px,#ebe828 132.0px)"></i><i style="background:linear-gradient(#ebe828 0.0px,#ece528 14.0px,#faca29 21.5px,#f69740 27.5px,#e77158 31.0px,#b52b8b 37.5px,#9a2993 41.0px,#992894 43.5px,#ac2a8e 46.0px,#bc3386 47.5px,#eb7754 53.0px,#f9a03b 57.0px,#fac02d 62.0px,#f9ce28 68.0px,#fac82a 75.0px,#faad34 80.5px,#f0804d 85.5px,#c33d7f 91.0px,#b52b8b 92.5px,#9b2993 95.5px,#992894 98.0px,#ad2a8e 101.0px,#bb3286 102.5px,#f2844b 110.0px,#fab92f 115.5px,#f6d328 119.5px,#ebe828 127.0px,#ebe828 132.0px)"></i><i style="background:linear-gradient(#ebe828 0.0px,#ece628 13.5px,#facc28 21.0px,#f7993f 27.0px,#ec7953 30.0px,#b62c8a 37.0px,#9a2993 40.5px,#992894 43.0px,#ab298f 45.5px,#bb3287 47.0px,#ea7654 52.5px,#f79b3d 56.0px,#fac02d 61.5px,#f9cf28 67.0px,#facb28 74.5px,#fab431 80.0px,#f48b47 85.0px,#d5556d 89.5px,#b42a8c 93.0px,#9c2993 95.5px,#982894 98.0px,#a9298f 101.0px,#b82e89 102.5px,#f0804e 110.0px,#fab232 115.0px,#f7d128 119.5px,#ebe828 127.0px,#ebe828 132.0px)"></i><i style="background:linear-gradient(#ebe828 0.0px,#ede528 13.5px,#fac929 21.0px,#f69541 27.0px,#e97556 30.0px,#b32a8c 37.0px,#9a2993 40.0px,#982894 42.5px,#aa298f 45.0px,#b52b8b 46.0px,#ea7555 52.0px,#f69640 55.0px,#fabe2d 60.5px,#f8cf28 66.0px,#f9ce28 74.0px,#faba2f 79.5px,#f69441 84.5px,#e87357 87.5px,#b32a8c 93.5px,#9b2993 96.0px,#972894 98.5px,#aa298f 101.5px,#b82f88 103.0px,#f1824c 110.5px,#fab432 115.5px,#f7d228 120.0px,#ebe828 127.5px,#ebe828 132.0px)"></i><i style="background:linear-gradient(#ebe828 0.0px,#ece528 13.0px,#facb29 20.5px,#f69740 26.5px,#e77158 30.0px,#b42a8c 36.5px,#9a2993 39.5px,#972894 42.0px,#a8298f 44.5px,#b42a8c 45.5px,#e97456 51.5px,#f69641 54.5px,#fabe2d 60.0px,#f8d028 65.5px,#f8cf28 74.0px,#fabd2e 79.5px,#f7983f 84.5px,#eb7853 87.5px,#b72d8a 93.5px,#9b2993 96.5px,#972894 99.0px,#ab2a8e 102.0px,#b93088 103.5px,#f2844b 111.0px,#fab92f 116.5px,#f6d328 120.5px,#ebe828 128.0px,#ebe828 132.0px)"></i><i style="background:linear-gradient(#ebe828 0.0px,#ede528 13.0px,#fac829 20.5px,#f7983f 26.0px,#eb7853 29.0px,#b52b8c 36.0px,#9b2993 39.0px,#972894 41.5px,#a72990 44.0px,#b72e89 45.5px,#ec7952 51.5px,#f9a239 55.5px,#fac42b 60.5px,#f7d228 66.0px,#f8d028 74.5px,#fac02d 79.5px,#f7983f 85.0px,#eb7754 88.0px,#b52c8b 94.0px,#9a2894 97.0px,#972894 99.5px,#ac2a8e 102.5px,#ba3287 104.0px,#f0804e 111.0px,#fab232 116.0px,#f7d128 120.5px,#ebe828 128.0px,#ebe828 132.0px)"></i><i style="background:linear-gradient(#ebe828 0.0px,#ede528 12.5px,#faca29 20.0px,#f69541 26.0px,#e97456 29.0px,#b52c8b 35.5px,#992894 39.0px,#982894 41.5px,#ab298f 44.0px,#bb3386 45.5px,#eb7853 51.0px,#f89e3c 54.5px,#fac12c 59.5px,#f7d128 64.5px,#f6d428 73.0px,#fac52b 79.0px,#faa438 84.0px,#ed7c51 88.0px,#be3684 93.5px,#b42b8c 94.5px,#9c2993 97.0px,#962895 99.5px,#a8298f 102.5px,#b72e89 104.0px,#f1814d 111.5px,#fab432 116.5px,#f7d228 121.0px,#ebe828 128.5px,#ebe828 132.0px)"></i><i style="background:linear-gradient(#ebe828 0.0px,#ece628 12.0px,#facb29 19.5px,#f69740 25.5px,#e77059 29.0px,#b62d8a 35.0px,#992894 38.5px,#972894 41.0px,#a9298f 43.5px,#b52b8b 44.5px,#eb7754 50.5px,#f89d3c 54.0px,#fac22c 59.0px,#f7d228 64.0px,#f5d528 73.0px,#fac52b 79.5px,#faa438 84.5px,#ed7b51 88.5px,#bd3585 94.0px,#b32a8c 95.0px,#9b2993 97.5px,#962895 100.0px,#a9298f 103.0px,#b82f89 104.5px,#ee7e4f 111.5px,#fab133 116.5px,#f7d128 121.0px,#ebe828 128.5px,#ebe828 132.0px)"></i><i style="background:linear-gradient(#ebe828 0.0px,#ede528 12.0px,#facc28 19.0px,#f7983f 25.0px,#eb7754 28.0px,#b32a8c 35.0px,#992894 38.0px,#962895 40.5px,#a8298f 43.0px,#b42a8c 44.0px,#ea7654 50.0px,#f89d3d 53.5px,#fac22c 58.5px,#f7d228 63.5px,#f4d728 72.5px,#fac82a 79.5px,#faa836 84.5px,#ec7a52 89.0px,#b72e8a 95.0px,#9a2894 98.0px,#962895 100.5px,#aa298f 103.5px,#b93088 105.0px,#ef7f4e 112.0px,#fab232 117.0px,#f7d128 121.5px,#ebe828 129.0px,#ebe828 132.0px)"></i><i style="background:linear-gradient(#ebe828 0.0px,#ede528 11.5px,#faca29 19.0px,#f79a3e 24.5px,#ec7953 27.5px,#b42a8c 34.5px,#992894 37.5px,#962895 40.0px,#a72990 42.5px,#b82f89 44.0px,#ea7555 49.5px,#f79740 52.5px,#fac22c 58.0px,#f6d328 63.0px,#f4d828 72.0px,#faca29 79.5px,#faac35 84.5px,#ef7f4f 89.0px,#c53f7e 94.0px,#b02a8d 96.0px,#992894 98.5px,#962895 101.0px,#ab298f 104.0px,#ba3187 105.5px,#f0814d 112.5px,#fab332 117.5px,#f8d028 121.5px,#ebe828 129.5px,#ebe828 132.0px)"></i><i style="background:linear-gradient(#ebe828 0.0px,#ece628 11.0px,#facb29 18.5px,#f69640 24.5px,#e97556 27.5px,#b52b8b 34.0px,#992894 37.0px,#952895 39.5px,#a52990 42.0px,#b72d8a 43.5px,#e97456 49.0px,#f69640 52.0px,#fac22c 57.5px,#f6d328 62.5px,#f3d928 72.0px,#facb29 80.0px,#faab35 85.0px,#ef7e4f 89.5px,#bf3783 95.0px,#b52b8b 96.0px,#9b2993 98.5px,#952895 101.0px,#a22991 103.5px,#b62d8a 105.5px,#ee7d50 112.5px,#fab033 117.5px,#f7d128 122.0px,#ebe828 129.5px,#ebe828 132.0px)"></i><i style="background:linear-gradient(#ebe828 0.0px,#ede528 11.0px,#facc28 18.0px,#f7983f 24.0px,#ea7654 27.0px,#b52c8b 33.5px,#9a2993 36.5px,#942895 39.0px,#a42991 41.5px,#b62c8b 43.0px,#ec7952 49.0px,#f9a438 53.0px,#fac72a 58.0px,#f3d828 65.0px,#f3d828 74.5px,#fac829 81.0px,#faa637 86.0px,#ee7d50 90.0px,#be3684 95.5px,#b42a8c 96.5px,#9a2993 99.0px,#942895 101.5px,#a32991 104.0px,#b72e89 106.0px,#ef7e4f 113.0px,#fab232 118.0px,#f7d128 122.5px,#ebe828 130.0px,#ebe828 132.0px)"></i></div>
<svg width="685" height="372" viewBox="0 0 685 372"><text x="-0.50" y="10.70" font-size="14.80" fill="#111" font-weight="bold" textLength="8.40" lengthAdjust="spacingAndGlyphs" stroke="#111" stroke-width="0.5">a</text><text x="76.70" y="11.00" font-size="10.90" fill="#3c3c3c" textLength="77.50" lengthAdjust="spacingAndGlyphs">Simple crossing</text><line x1="73.21" y1="19.20" x2="73.21" y2="151.20" stroke="#e8282d" stroke-width="1.10" stroke-dasharray="7.9 2.85" stroke-dashoffset="3.4"/><line x1="115.65" y1="19.20" x2="115.65" y2="151.20" stroke="#3a85a8" stroke-width="0.95" stroke-dasharray="3.7 2.9" stroke-dashoffset="1.6"/><rect x="49.50" y="19.20" width="132.30" height="132.00" fill="none" stroke="#6e6e6e" stroke-width="0.80"/><line x1="47.20" y1="37.78" x2="49.50" y2="37.78" stroke="#6e6e6e" stroke-width="0.70"/><line x1="47.20" y1="66.04" x2="49.50" y2="66.04" stroke="#6e6e6e" stroke-width="0.70"/><line x1="47.20" y1="94.30" x2="49.50" y2="94.30" stroke="#6e6e6e" stroke-width="0.70"/><line x1="47.20" y1="122.56" x2="49.50" y2="122.56" stroke="#6e6e6e" stroke-width="0.70"/><line x1="47.20" y1="150.82" x2="49.50" y2="150.82" stroke="#6e6e6e" stroke-width="0.70"/><line x1="51.99" y1="151.20" x2="51.99" y2="153.40" stroke="#6e6e6e" stroke-width="0.70"/><line x1="115.65" y1="151.20" x2="115.65" y2="153.40" stroke="#6e6e6e" stroke-width="0.70"/><line x1="179.31" y1="151.20" x2="179.31" y2="153.40" stroke="#6e6e6e" stroke-width="0.70"/><text x="51.99" y="165.30" font-size="9.70" fill="#3c3c3c" text-anchor="middle" textLength="24.40" lengthAdjust="spacingAndGlyphs">&#8722;0.06</text><text x="115.65" y="165.30" font-size="9.70" fill="#3c3c3c" text-anchor="middle">0</text><text x="180.71" y="165.30" font-size="9.70" fill="#3c3c3c" text-anchor="end" textLength="19.60" lengthAdjust="spacingAndGlyphs">0.06</text><text x="90.55" y="180.00" font-size="10.30" fill="#3c3c3c" font-style="italic">E</text><text x="96.05" y="182.60" font-size="7.20" fill="#3c3c3c" font-style="italic">z</text><text x="102.55" y="180.00" font-size="10.30" fill="#3c3c3c" textLength="27.60" lengthAdjust="spacingAndGlyphs">(V nm</text><text x="130.15" y="175.70" font-size="6.80" fill="#3c3c3c">&#8722;1</text><text x="137.65" y="180.00" font-size="10.30" fill="#3c3c3c">)</text><rect x="191.50" y="19.20" width="43.90" height="132.00" fill="none" stroke="#7a7a7a" stroke-width="0.80"/><line x1="189.30" y1="37.78" x2="191.50" y2="37.78" stroke="#6e6e6e" stroke-width="0.70"/><line x1="189.30" y1="66.04" x2="191.50" y2="66.04" stroke="#6e6e6e" stroke-width="0.70"/><line x1="189.30" y1="94.30" x2="191.50" y2="94.30" stroke="#6e6e6e" stroke-width="0.70"/><line x1="189.30" y1="122.56" x2="191.50" y2="122.56" stroke="#6e6e6e" stroke-width="0.70"/><line x1="189.30" y1="150.82" x2="191.50" y2="150.82" stroke="#6e6e6e" stroke-width="0.70"/><line x1="191.50" y1="151.20" x2="191.50" y2="153.40" stroke="#6e6e6e" stroke-width="0.70"/><line x1="222.80" y1="151.20" x2="222.80" y2="153.40" stroke="#6e6e6e" stroke-width="0.70"/><text x="191.50" y="164.90" font-size="9.70" fill="#3c3c3c" text-anchor="middle">0</text><text x="222.80" y="164.90" font-size="9.70" fill="#3c3c3c" text-anchor="middle" textLength="12.20" lengthAdjust="spacingAndGlyphs">0.2</text><text x="187.50" y="180.00" font-size="10.30" fill="#3c3c3c" textLength="53.00" lengthAdjust="spacingAndGlyphs">Absorption</text><path d="M192.50 19.50 L192.51 19.94 L192.52 20.38 L192.53 20.82 L192.55 21.26 L192.56 21.70 L192.57 22.14 L192.59 22.58 L192.60 23.02 L192.61 23.46 L192.63 23.89 L192.64 24.33 L192.66 24.77 L192.67 25.21 L192.69 25.65 L192.71 26.09 L192.72 26.53 L192.74 26.97 L192.76 27.41 L192.77 27.85 L192.79 28.29 L192.81 28.73 L192.83 29.17 L192.85 29.61 L192.87 30.05 L192.89 30.49 L192.91 30.93 L192.93 31.37 L192.95 31.81 L192.97 32.24 L192.99 32.68 L193.01 33.12 L193.04 33.56 L193.06 34.00 L193.08 34.44 L193.11 34.88 L193.13 35.32 L193.16 35.76 L193.19 36.20 L193.21 36.64 L193.24 37.08 L193.27 37.52 L193.30 37.96 L193.33 38.40 L193.36 38.84 L193.39 39.28 L193.42 39.72 L193.45 40.15 L193.49 40.59 L193.52 41.03 L193.56 41.47 L193.59 41.91 L193.63 42.35 L193.67 42.79 L193.71 43.23 L193.75 43.67 L193.79 44.11 L193.83 44.55 L193.87 44.99 L193.92 45.43 L193.96 45.87 L194.01 46.31 L194.06 46.75 L194.11 47.19 L194.16 47.63 L194.21 48.07 L194.27 48.50 L194.32 48.94 L194.38 49.38 L194.44 49.82 L194.50 50.26 L194.57 50.70 L194.63 51.14 L194.70 51.58 L194.77 52.02 L194.84 52.46 L194.91 52.90 L194.99 53.34 L195.07 53.78 L195.15 54.22 L195.23 54.66 L195.32 55.10 L195.41 55.54 L195.50 55.98 L195.60 56.42 L195.70 56.85 L195.80 57.29 L195.91 57.73 L196.02 58.17 L196.13 58.61 L196.25 59.05 L196.37 59.49 L196.50 59.93 L196.63 60.37 L196.77 60.81 L196.91 61.25 L197.06 61.69 L197.21 62.13 L197.38 62.57 L197.54 63.01 L197.72 63.45 L197.90 63.89 L198.08 64.33 L198.28 64.76 L198.49 65.20 L198.70 65.64 L198.92 66.08 L199.15 66.52 L199.40 66.96 L199.65 67.40 L199.91 67.84 L200.19 68.28 L200.48 68.72 L200.78 69.16 L201.10 69.60 L201.43 70.04 L201.77 70.48 L202.14 70.92 L202.51 71.36 L202.91 71.80 L203.33 72.24 L203.77 72.68 L204.22 73.11 L204.70 73.55 L205.21 73.99 L205.73 74.43 L206.28 74.87 L206.86 75.31 L207.47 75.75 L208.10 76.19 L208.77 76.63 L209.46 77.07 L210.19 77.51 L210.95 77.95 L211.74 78.39 L212.56 78.83 L213.42 79.27 L214.30 79.71 L215.22 80.15 L216.17 80.59 L217.15 81.03 L218.16 81.46 L219.19 81.90 L220.23 82.34 L221.29 82.78 L222.36 83.22 L223.43 83.66 L224.49 84.10 L225.54 84.54 L226.56 84.98 L227.54 85.42 L228.47 85.86 L229.34 86.30 L230.14 86.74 L230.86 87.18 L231.47 87.62 L231.98 88.06 L232.38 88.50 L232.65 88.94 L232.79 89.37 L232.81 89.81 L232.69 90.25 L232.44 90.69 L232.07 91.13 L231.58 91.57 L230.98 92.01 L230.29 92.45 L229.50 92.89 L228.65 93.33 L227.72 93.77 L226.75 94.21 L225.74 94.65 L224.70 95.09 L223.64 95.53 L222.57 95.97 L221.50 96.41 L220.44 96.85 L219.39 97.29 L218.36 97.72 L217.35 98.16 L216.36 98.60 L215.40 99.04 L214.48 99.48 L213.58 99.92 L212.72 100.36 L211.89 100.80 L211.10 101.24 L210.33 101.68 L209.60 102.12 L208.90 102.56 L208.23 103.00 L207.59 103.44 L206.98 103.88 L206.39 104.32 L205.84 104.76 L205.31 105.20 L204.80 105.64 L204.31 106.07 L203.85 106.51 L203.41 106.95 L202.99 107.39 L202.59 107.83 L202.21 108.27 L201.84 108.71 L201.49 109.15 L201.16 109.59 L200.84 110.03 L200.54 110.47 L200.24 110.91 L199.97 111.35 L199.70 111.79 L199.44 112.23 L199.20 112.67 L198.97 113.11 L198.74 113.55 L198.53 113.98 L198.32 114.42 L198.12 114.86 L197.93 115.30 L197.75 115.74 L197.58 116.18 L197.41 116.62 L197.25 117.06 L197.09 117.50 L196.94 117.94 L196.80 118.38 L196.66 118.82 L196.52 119.26 L196.40 119.70 L196.27 120.14 L196.15 120.58 L196.04 121.02 L195.93 121.46 L195.82 121.90 L195.72 122.33 L195.62 122.77 L195.52 123.21 L195.43 123.65 L195.34 124.09 L195.25 124.53 L195.16 124.97 L195.08 125.41 L195.00 125.85 L194.93 126.29 L194.85 126.73 L194.78 127.17 L194.71 127.61 L194.64 128.05 L194.58 128.49 L194.51 128.93 L194.45 129.37 L194.39 129.81 L194.33 130.25 L194.28 130.68 L194.22 131.12 L194.17 131.56 L194.12 132.00 L194.07 132.44 L194.02 132.88 L193.97 133.32 L193.93 133.76 L193.88 134.20 L193.84 134.64 L193.80 135.08 L193.75 135.52 L193.71 135.96 L193.67 136.40 L193.64 136.84 L193.60 137.28 L193.56 137.72 L193.53 138.16 L193.49 138.59 L193.46 139.03 L193.43 139.47 L193.39 139.91 L193.36 140.35 L193.33 140.79 L193.30 141.23 L193.27 141.67 L193.25 142.11 L193.22 142.55 L193.19 142.99 L193.16 143.43 L193.14 143.87 L193.11 144.31 L193.09 144.75 L193.06 145.19 L193.04 145.63 L193.02 146.07 L193.00 146.51 L192.97 146.94 L192.95 147.38 L192.93 147.82 L192.91 148.26 L192.89 148.70 L192.87 149.14 L192.85 149.58 L192.83 150.02 L192.81 150.46 L192.80 150.90" fill="none" stroke="#2f7fc0" stroke-width="1.15" stroke-linejoin="round"/><path d="M192.82 19.50 L192.84 19.94 L192.86 20.38 L192.89 20.82 L192.91 21.26 L192.93 21.70 L192.96 22.14 L192.98 22.58 L193.00 23.02 L193.03 23.46 L193.06 23.89 L193.08 24.33 L193.11 24.77 L193.14 25.21 L193.17 25.65 L193.20 26.09 L193.23 26.53 L193.26 26.97 L193.29 27.41 L193.33 27.85 L193.36 28.29 L193.40 28.73 L193.43 29.17 L193.47 29.61 L193.51 30.05 L193.55 30.49 L193.59 30.93 L193.63 31.37 L193.68 31.81 L193.72 32.24 L193.77 32.68 L193.81 33.12 L193.86 33.56 L193.92 34.00 L193.97 34.44 L194.02 34.88 L194.08 35.32 L194.14 35.76 L194.20 36.20 L194.26 36.64 L194.33 37.08 L194.39 37.52 L194.46 37.96 L194.53 38.40 L194.61 38.84 L194.69 39.28 L194.77 39.72 L194.85 40.15 L194.94 40.59 L195.03 41.03 L195.12 41.47 L195.22 41.91 L195.32 42.35 L195.42 42.79 L195.53 43.23 L195.65 43.67 L195.76 44.11 L195.89 44.55 L196.02 44.99 L196.15 45.43 L196.29 45.87 L196.44 46.31 L196.59 46.75 L196.75 47.19 L196.92 47.63 L197.09 48.07 L197.27 48.50 L197.47 48.94 L197.67 49.38 L197.87 49.82 L198.09 50.26 L198.32 50.70 L198.56 51.14 L198.81 51.58 L199.08 52.02 L199.35 52.46 L199.64 52.90 L199.94 53.34 L200.26 53.78 L200.59 54.22 L200.93 54.66 L201.29 55.10 L201.67 55.54 L202.06 55.98 L202.47 56.42 L202.90 56.85 L203.34 57.29 L203.80 57.73 L204.28 58.17 L204.77 58.61 L205.27 59.05 L205.79 59.49 L206.32 59.93 L206.86 60.37 L207.41 60.81 L207.96 61.25 L208.51 61.69 L209.05 62.13 L209.59 62.57 L210.12 63.01 L210.62 63.45 L211.10 63.89 L211.55 64.33 L211.96 64.76 L212.33 65.20 L212.65 65.64 L212.92 66.08 L213.13 66.52 L213.27 66.96 L213.36 67.40 L213.38 67.84 L213.33 68.28 L213.22 68.72 L213.05 69.16 L212.82 69.60 L212.54 70.04 L212.21 70.48 L211.84 70.92 L211.44 71.36 L211.00 71.80 L210.54 72.24 L210.06 72.68 L209.57 73.11 L209.08 73.55 L208.58 73.99 L208.08 74.43 L207.58 74.87 L207.10 75.31 L206.62 75.75 L206.16 76.19 L205.71 76.63 L205.28 77.07 L204.86 77.51 L204.47 77.95 L204.08 78.39 L203.72 78.83 L203.38 79.27 L203.05 79.71 L202.74 80.15 L202.45 80.59 L202.18 81.03 L201.92 81.46 L201.68 81.90 L201.46 82.34 L201.25 82.78 L201.06 83.22 L200.88 83.66 L200.71 84.10 L200.57 84.54 L200.43 84.98 L200.31 85.42 L200.20 85.86 L200.10 86.30 L200.02 86.74 L199.95 87.18 L199.89 87.62 L199.84 88.06 L199.80 88.50 L199.78 88.94 L199.77 89.37 L199.76 89.81 L199.77 90.25 L199.80 90.69 L199.83 91.13 L199.88 91.57 L199.93 92.01 L200.00 92.45 L200.08 92.89 L200.18 93.33 L200.29 93.77 L200.40 94.21 L200.54 94.65 L200.68 95.09 L200.85 95.53 L201.02 95.97 L201.21 96.41 L201.42 96.85 L201.64 97.29 L201.87 97.72 L202.13 98.16 L202.40 98.60 L202.68 99.04 L202.99 99.48 L203.31 99.92 L203.65 100.36 L204.01 100.80 L204.39 101.24 L204.79 101.68 L205.20 102.12 L205.63 102.56 L206.07 103.00 L206.53 103.44 L207.01 103.88 L207.49 104.32 L207.98 104.76 L208.48 105.20 L208.98 105.64 L209.48 106.07 L209.97 106.51 L210.45 106.95 L210.91 107.39 L211.36 107.83 L211.77 108.27 L212.15 108.71 L212.48 109.15 L212.77 109.59 L213.01 110.03 L213.19 110.47 L213.31 110.91 L213.37 111.35 L213.37 111.79 L213.29 112.23 L213.16 112.67 L212.96 113.11 L212.71 113.55 L212.40 113.98 L212.04 114.42 L211.63 114.86 L211.19 115.30 L210.72 115.74 L210.21 116.18 L209.69 116.62 L209.16 117.06 L208.61 117.50 L208.06 117.94 L207.51 118.38 L206.97 118.82 L206.43 119.26 L205.89 119.70 L205.37 120.14 L204.86 120.58 L204.37 121.02 L203.89 121.46 L203.43 121.90 L202.98 122.33 L202.55 122.77 L202.14 123.21 L201.74 123.65 L201.36 124.09 L201.00 124.53 L200.65 124.97 L200.32 125.41 L200.00 125.85 L199.70 126.29 L199.41 126.73 L199.13 127.17 L198.86 127.61 L198.61 128.05 L198.37 128.49 L198.14 128.93 L197.92 129.37 L197.70 129.81 L197.50 130.25 L197.31 130.68 L197.13 131.12 L196.95 131.56 L196.78 132.00 L196.62 132.44 L196.47 132.88 L196.32 133.32 L196.18 133.76 L196.04 134.20 L195.91 134.64 L195.79 135.08 L195.67 135.52 L195.55 135.96 L195.44 136.40 L195.34 136.84 L195.24 137.28 L195.14 137.72 L195.04 138.16 L194.95 138.59 L194.87 139.03 L194.78 139.47 L194.70 139.91 L194.62 140.35 L194.55 140.79 L194.48 141.23 L194.41 141.67 L194.34 142.11 L194.27 142.55 L194.21 142.99 L194.15 143.43 L194.09 143.87 L194.03 144.31 L193.98 144.75 L193.93 145.19 L193.87 145.63 L193.82 146.07 L193.78 146.51 L193.73 146.94 L193.68 147.38 L193.64 147.82 L193.60 148.26 L193.56 148.70 L193.52 149.14 L193.48 149.58 L193.44 150.02 L193.40 150.46 L193.37 150.90" fill="none" stroke="#e8303a" stroke-width="1.15" stroke-linejoin="round"/><text x="205.10" y="29.10" font-size="10.10" fill="#2f7fc0" font-style="italic" textLength="6.20" lengthAdjust="spacingAndGlyphs">E</text><text x="210.90" y="31.90" font-size="7.00" fill="#2f7fc0" font-style="italic">z</text><text x="217.20" y="29.10" font-size="10.10" fill="#2f7fc0" textLength="4.80" lengthAdjust="spacingAndGlyphs">=</text><text x="224.70" y="29.10" font-size="10.10" fill="#2f7fc0" textLength="6.60" lengthAdjust="spacingAndGlyphs">0</text><text x="205.70" y="42.80" font-size="10.10" fill="#e8303a" font-style="italic" textLength="6.20" lengthAdjust="spacingAndGlyphs">E</text><text x="211.50" y="45.60" font-size="7.00" fill="#e8303a" font-style="italic">z</text><text x="217.20" y="42.80" font-size="9.00" fill="#e8303a" textLength="4.60" lengthAdjust="spacingAndGlyphs">&#8800;</text><text x="225.00" y="42.80" font-size="10.10" fill="#e8303a" textLength="6.60" lengthAdjust="spacingAndGlyphs">0</text><text x="276.30" y="10.70" font-size="14.80" fill="#111" font-weight="bold" textLength="9.60" lengthAdjust="spacingAndGlyphs" stroke="#111" stroke-width="0.5">b</text><text x="301.20" y="11.00" font-size="10.90" fill="#3c3c3c" textLength="84.10" lengthAdjust="spacingAndGlyphs">Avoided crossing</text><line x1="300.66" y1="19.20" x2="300.66" y2="151.20" stroke="#e8282d" stroke-width="1.10" stroke-dasharray="7.9 2.85" stroke-dashoffset="3.4"/><line x1="343.10" y1="19.20" x2="343.10" y2="151.20" stroke="#3a85a8" stroke-width="0.95" stroke-dasharray="3.7 2.9" stroke-dashoffset="1.6"/><rect x="276.90" y="19.20" width="132.40" height="132.00" fill="none" stroke="#6e6e6e" stroke-width="0.80"/><line x1="274.60" y1="37.78" x2="276.90" y2="37.78" stroke="#6e6e6e" stroke-width="0.70"/><line x1="274.60" y1="66.04" x2="276.90" y2="66.04" stroke="#6e6e6e" stroke-width="0.70"/><line x1="274.60" y1="94.30" x2="276.90" y2="94.30" stroke="#6e6e6e" stroke-width="0.70"/><line x1="274.60" y1="122.56" x2="276.90" y2="122.56" stroke="#6e6e6e" stroke-width="0.70"/><line x1="274.60" y1="150.82" x2="276.90" y2="150.82" stroke="#6e6e6e" stroke-width="0.70"/><line x1="279.44" y1="151.20" x2="279.44" y2="153.40" stroke="#6e6e6e" stroke-width="0.70"/><line x1="343.10" y1="151.20" x2="343.10" y2="153.40" stroke="#6e6e6e" stroke-width="0.70"/><line x1="406.76" y1="151.20" x2="406.76" y2="153.40" stroke="#6e6e6e" stroke-width="0.70"/><text x="279.44" y="165.30" font-size="9.70" fill="#3c3c3c" text-anchor="middle" textLength="24.40" lengthAdjust="spacingAndGlyphs">&#8722;0.06</text><text x="343.10" y="165.30" font-size="9.70" fill="#3c3c3c" text-anchor="middle">0</text><text x="408.16" y="165.30" font-size="9.70" fill="#3c3c3c" text-anchor="end" textLength="19.60" lengthAdjust="spacingAndGlyphs">0.06</text><text x="318.00" y="180.00" font-size="10.30" fill="#3c3c3c" font-style="italic">E</text><text x="323.50" y="182.60" font-size="7.20" fill="#3c3c3c" font-style="italic">z</text><text x="330.00" y="180.00" font-size="10.30" fill="#3c3c3c" textLength="27.60" lengthAdjust="spacingAndGlyphs">(V nm</text><text x="357.60" y="175.70" font-size="6.80" fill="#3c3c3c">&#8722;1</text><text x="365.10" y="180.00" font-size="10.30" fill="#3c3c3c">)</text><rect x="418.50" y="19.20" width="43.90" height="132.00" fill="none" stroke="#7a7a7a" stroke-width="0.80"/><line x1="416.30" y1="37.78" x2="418.50" y2="37.78" stroke="#6e6e6e" stroke-width="0.70"/><line x1="416.30" y1="66.04" x2="418.50" y2="66.04" stroke="#6e6e6e" stroke-width="0.70"/><line x1="416.30" y1="94.30" x2="418.50" y2="94.30" stroke="#6e6e6e" stroke-width="0.70"/><line x1="416.30" y1="122.56" x2="418.50" y2="122.56" stroke="#6e6e6e" stroke-width="0.70"/><line x1="416.30" y1="150.82" x2="418.50" y2="150.82" stroke="#6e6e6e" stroke-width="0.70"/><line x1="418.50" y1="151.20" x2="418.50" y2="153.40" stroke="#6e6e6e" stroke-width="0.70"/><line x1="450.30" y1="151.20" x2="450.30" y2="153.40" stroke="#6e6e6e" stroke-width="0.70"/><text x="418.50" y="164.90" font-size="9.70" fill="#3c3c3c" text-anchor="middle">0</text><text x="450.30" y="164.90" font-size="9.70" fill="#3c3c3c" text-anchor="middle" textLength="12.20" lengthAdjust="spacingAndGlyphs">0.2</text><text x="414.50" y="180.00" font-size="10.30" fill="#3c3c3c" textLength="53.00" lengthAdjust="spacingAndGlyphs">Absorption</text><path d="M419.02 19.50 L419.02 19.94 L419.03 20.38 L419.03 20.82 L419.04 21.26 L419.04 21.70 L419.05 22.14 L419.05 22.58 L419.05 23.02 L419.06 23.46 L419.07 23.89 L419.07 24.33 L419.08 24.77 L419.08 25.21 L419.09 25.65 L419.09 26.09 L419.10 26.53 L419.10 26.97 L419.11 27.41 L419.11 27.85 L419.12 28.29 L419.13 28.73 L419.13 29.17 L419.14 29.61 L419.14 30.05 L419.15 30.49 L419.16 30.93 L419.16 31.37 L419.17 31.81 L419.18 32.24 L419.18 32.68 L419.19 33.12 L419.20 33.56 L419.21 34.00 L419.21 34.44 L419.22 34.88 L419.23 35.32 L419.23 35.76 L419.24 36.20 L419.25 36.64 L419.26 37.08 L419.27 37.52 L419.27 37.96 L419.28 38.40 L419.29 38.84 L419.30 39.28 L419.31 39.72 L419.32 40.15 L419.33 40.59 L419.34 41.03 L419.34 41.47 L419.35 41.91 L419.36 42.35 L419.37 42.79 L419.38 43.23 L419.39 43.67 L419.40 44.11 L419.41 44.55 L419.42 44.99 L419.44 45.43 L419.45 45.87 L419.46 46.31 L419.47 46.75 L419.48 47.19 L419.49 47.63 L419.50 48.07 L419.52 48.50 L419.53 48.94 L419.54 49.38 L419.56 49.82 L419.57 50.26 L419.58 50.70 L419.60 51.14 L419.61 51.58 L419.62 52.02 L419.64 52.46 L419.65 52.90 L419.67 53.34 L419.68 53.78 L419.70 54.22 L419.72 54.66 L419.73 55.10 L419.75 55.54 L419.76 55.98 L419.78 56.42 L419.80 56.85 L419.82 57.29 L419.84 57.73 L419.85 58.17 L419.87 58.61 L419.89 59.05 L419.91 59.49 L419.93 59.93 L419.95 60.37 L419.98 60.81 L420.00 61.25 L420.02 61.69 L420.04 62.13 L420.07 62.57 L420.09 63.01 L420.11 63.45 L420.14 63.89 L420.16 64.33 L420.19 64.76 L420.22 65.20 L420.24 65.64 L420.27 66.08 L420.30 66.52 L420.33 66.96 L420.36 67.40 L420.39 67.84 L420.42 68.28 L420.45 68.72 L420.49 69.16 L420.52 69.60 L420.55 70.04 L420.59 70.48 L420.63 70.92 L420.66 71.36 L420.70 71.80 L420.74 72.24 L420.78 72.68 L420.82 73.11 L420.87 73.55 L420.91 73.99 L420.95 74.43 L421.00 74.87 L421.05 75.31 L421.10 75.75 L421.15 76.19 L421.20 76.63 L421.25 77.07 L421.31 77.51 L421.36 77.95 L421.42 78.39 L421.48 78.83 L421.54 79.27 L421.61 79.71 L421.67 80.15 L421.74 80.59 L421.81 81.03 L421.88 81.46 L421.95 81.90 L422.03 82.34 L422.11 82.78 L422.19 83.22 L422.27 83.66 L422.36 84.10 L422.45 84.54 L422.54 84.98 L422.64 85.42 L422.74 85.86 L422.84 86.30 L422.95 86.74 L423.06 87.18 L423.17 87.62 L423.29 88.06 L423.41 88.50 L423.54 88.94 L423.67 89.37 L423.81 89.81 L423.95 90.25 L424.10 90.69 L424.25 91.13 L424.41 91.57 L424.58 92.01 L424.75 92.45 L424.93 92.89 L425.12 93.33 L425.31 93.77 L425.52 94.21 L425.73 94.65 L425.95 95.09 L426.18 95.53 L426.42 95.97 L426.67 96.41 L426.93 96.85 L427.20 97.29 L427.49 97.72 L427.79 98.16 L428.10 98.60 L428.42 99.04 L428.76 99.48 L429.12 99.92 L429.50 100.36 L429.89 100.80 L430.30 101.24 L430.73 101.68 L431.18 102.12 L431.65 102.56 L432.14 103.00 L432.66 103.44 L433.20 103.88 L433.77 104.32 L434.37 104.76 L434.99 105.20 L435.64 105.64 L436.33 106.07 L437.04 106.51 L437.78 106.95 L438.56 107.39 L439.37 107.83 L440.22 108.27 L441.09 108.71 L442.00 109.15 L442.94 109.59 L443.91 110.03 L444.91 110.47 L445.94 110.91 L446.98 111.35 L448.05 111.79 L449.12 112.23 L450.21 112.67 L451.29 113.11 L452.36 113.55 L453.42 113.98 L454.44 114.42 L455.43 114.86 L456.37 115.30 L457.24 115.74 L458.03 116.18 L458.74 116.62 L459.35 117.06 L459.85 117.50 L460.23 117.94 L460.49 118.38 L460.62 118.82 L460.62 119.26 L460.48 119.70 L460.22 120.14 L459.83 120.58 L459.32 121.02 L458.71 121.46 L457.99 121.90 L457.19 122.33 L456.32 122.77 L455.38 123.21 L454.39 123.65 L453.36 124.09 L452.31 124.53 L451.23 124.97 L450.15 125.41 L449.07 125.85 L447.99 126.29 L446.93 126.73 L445.88 127.17 L444.86 127.61 L443.86 128.05 L442.89 128.49 L441.95 128.93 L441.05 129.37 L440.17 129.81 L439.33 130.25 L438.52 130.68 L437.75 131.12 L437.00 131.56 L436.29 132.00 L435.61 132.44 L434.96 132.88 L434.34 133.32 L433.74 133.76 L433.18 134.20 L432.63 134.64 L432.12 135.08 L431.62 135.52 L431.15 135.96 L430.70 136.40 L430.28 136.84 L429.87 137.28 L429.48 137.72 L429.10 138.16 L428.75 138.59 L428.41 139.03 L428.08 139.47 L427.77 139.91 L427.47 140.35 L427.19 140.79 L426.91 141.23 L426.65 141.67 L426.40 142.11 L426.16 142.55 L425.94 142.99 L425.72 143.43 L425.50 143.87 L425.30 144.31 L425.11 144.75 L424.92 145.19 L424.74 145.63 L424.57 146.07 L424.40 146.51 L424.24 146.94 L424.09 147.38 L423.94 147.82 L423.80 148.26 L423.67 148.70 L423.53 149.14 L423.41 149.58 L423.28 150.02 L423.17 150.46 L423.05 150.90" fill="none" stroke="#2f7fc0" stroke-width="1.15" stroke-linejoin="round"/><path d="M419.35 19.50 L419.36 19.94 L419.38 20.38 L419.39 20.82 L419.41 21.26 L419.42 21.70 L419.44 22.14 L419.46 22.58 L419.47 23.02 L419.49 23.46 L419.51 23.89 L419.53 24.33 L419.55 24.77 L419.57 25.21 L419.59 25.65 L419.61 26.09 L419.63 26.53 L419.66 26.97 L419.68 27.41 L419.71 27.85 L419.73 28.29 L419.76 28.73 L419.79 29.17 L419.82 29.61 L419.85 30.05 L419.88 30.49 L419.91 30.93 L419.95 31.37 L419.98 31.81 L420.02 32.24 L420.06 32.68 L420.10 33.12 L420.14 33.56 L420.18 34.00 L420.23 34.44 L420.28 34.88 L420.33 35.32 L420.38 35.76 L420.43 36.20 L420.49 36.64 L420.55 37.08 L420.61 37.52 L420.67 37.96 L420.74 38.40 L420.81 38.84 L420.88 39.28 L420.96 39.72 L421.04 40.15 L421.12 40.59 L421.21 41.03 L421.30 41.47 L421.39 41.91 L421.49 42.35 L421.60 42.79 L421.70 43.23 L421.81 43.67 L421.92 44.11 L422.04 44.55 L422.16 44.99 L422.28 45.43 L422.41 45.87 L422.53 46.31 L422.66 46.75 L422.79 47.19 L422.92 47.63 L423.05 48.07 L423.17 48.50 L423.29 48.94 L423.41 49.38 L423.52 49.82 L423.62 50.26 L423.72 50.70 L423.80 51.14 L423.87 51.58 L423.94 52.02 L423.98 52.46 L424.02 52.90 L424.03 53.34 L424.04 53.78 L424.03 54.22 L424.00 54.66 L423.97 55.10 L423.92 55.54 L423.85 55.98 L423.78 56.42 L423.70 56.85 L423.61 57.29 L423.51 57.73 L423.41 58.17 L423.31 58.61 L423.20 59.05 L423.09 59.49 L422.99 59.93 L422.88 60.37 L422.77 60.81 L422.67 61.25 L422.56 61.69 L422.46 62.13 L422.37 62.57 L422.27 63.01 L422.18 63.45 L422.10 63.89 L422.02 64.33 L421.94 64.76 L421.87 65.20 L421.80 65.64 L421.73 66.08 L421.67 66.52 L421.61 66.96 L421.56 67.40 L421.51 67.84 L421.46 68.28 L421.42 68.72 L421.38 69.16 L421.34 69.60 L421.30 70.04 L421.27 70.48 L421.24 70.92 L421.22 71.36 L421.19 71.80 L421.17 72.24 L421.15 72.68 L421.14 73.11 L421.12 73.55 L421.11 73.99 L421.10 74.43 L421.10 74.87 L421.09 75.31 L421.09 75.75 L421.09 76.19 L421.09 76.63 L421.09 77.07 L421.09 77.51 L421.10 77.95 L421.11 78.39 L421.12 78.83 L421.13 79.27 L421.14 79.71 L421.15 80.15 L421.17 80.59 L421.19 81.03 L421.21 81.46 L421.23 81.90 L421.25 82.34 L421.28 82.78 L421.30 83.22 L421.33 83.66 L421.36 84.10 L421.39 84.54 L421.42 84.98 L421.46 85.42 L421.50 85.86 L421.53 86.30 L421.57 86.74 L421.62 87.18 L421.66 87.62 L421.71 88.06 L421.76 88.50 L421.81 88.94 L421.86 89.37 L421.91 89.81 L421.97 90.25 L422.03 90.69 L422.09 91.13 L422.16 91.57 L422.23 92.01 L422.30 92.45 L422.37 92.89 L422.45 93.33 L422.52 93.77 L422.61 94.21 L422.69 94.65 L422.78 95.09 L422.87 95.53 L422.97 95.97 L423.07 96.41 L423.17 96.85 L423.28 97.29 L423.40 97.72 L423.51 98.16 L423.64 98.60 L423.76 99.04 L423.90 99.48 L424.03 99.92 L424.18 100.36 L424.33 100.80 L424.48 101.24 L424.65 101.68 L424.82 102.12 L425.00 102.56 L425.18 103.00 L425.37 103.44 L425.58 103.88 L425.79 104.32 L426.01 104.76 L426.24 105.20 L426.48 105.64 L426.73 106.07 L427.00 106.51 L427.27 106.95 L427.56 107.39 L427.87 107.83 L428.18 108.27 L428.52 108.71 L428.86 109.15 L429.23 109.59 L429.61 110.03 L430.01 110.47 L430.43 110.91 L430.87 111.35 L431.34 111.79 L431.82 112.23 L432.33 112.67 L432.86 113.11 L433.42 113.55 L434.00 113.98 L434.61 114.42 L435.24 114.86 L435.91 115.30 L436.60 115.74 L437.33 116.18 L438.08 116.62 L438.86 117.06 L439.68 117.50 L440.51 117.94 L441.38 118.38 L442.27 118.82 L443.18 119.26 L444.11 119.70 L445.06 120.14 L446.02 120.58 L446.98 121.02 L447.94 121.46 L448.89 121.90 L449.82 122.33 L450.72 122.77 L451.59 123.21 L452.41 123.65 L453.17 124.09 L453.86 124.53 L454.47 124.97 L454.99 125.41 L455.41 125.85 L455.73 126.29 L455.93 126.73 L456.02 127.17 L456.00 127.61 L455.85 128.05 L455.59 128.49 L455.23 128.93 L454.75 129.37 L454.19 129.81 L453.54 130.25 L452.81 130.68 L452.02 131.12 L451.18 131.56 L450.29 132.00 L449.37 132.44 L448.43 132.88 L447.47 133.32 L446.51 133.76 L445.55 134.20 L444.59 134.64 L443.65 135.08 L442.72 135.52 L441.82 135.96 L440.94 136.40 L440.08 136.84 L439.25 137.28 L438.45 137.72 L437.68 138.16 L436.93 138.59 L436.22 139.03 L435.54 139.47 L434.88 139.91 L434.25 140.35 L433.65 140.79 L433.08 141.23 L432.53 141.67 L432.01 142.11 L431.51 142.55 L431.03 142.99 L430.58 143.43 L430.14 143.87 L429.73 144.31 L429.33 144.75 L428.95 145.19 L428.59 145.63 L428.25 146.07 L427.92 146.51 L427.60 146.94 L427.30 147.38 L427.02 147.82 L426.74 148.26 L426.48 148.70 L426.23 149.14 L425.99 149.58 L425.76 150.02 L425.54 150.46 L425.33 150.90" fill="none" stroke="#e8303a" stroke-width="1.15" stroke-linejoin="round"/><text x="432.10" y="29.10" font-size="10.10" fill="#2f7fc0" font-style="italic" textLength="6.20" lengthAdjust="spacingAndGlyphs">E</text><text x="437.90" y="31.90" font-size="7.00" fill="#2f7fc0" font-style="italic">z</text><text x="444.20" y="29.10" font-size="10.10" fill="#2f7fc0" textLength="4.80" lengthAdjust="spacingAndGlyphs">=</text><text x="451.70" y="29.10" font-size="10.10" fill="#2f7fc0" textLength="6.60" lengthAdjust="spacingAndGlyphs">0</text><text x="432.70" y="42.80" font-size="10.10" fill="#e8303a" font-style="italic" textLength="6.20" lengthAdjust="spacingAndGlyphs">E</text><text x="438.50" y="45.60" font-size="7.00" fill="#e8303a" font-style="italic">z</text><text x="444.20" y="42.80" font-size="9.00" fill="#e8303a" textLength="4.60" lengthAdjust="spacingAndGlyphs">&#8800;</text><text x="452.00" y="42.80" font-size="10.10" fill="#e8303a" textLength="6.60" lengthAdjust="spacingAndGlyphs">0</text><text x="494.60" y="10.70" font-size="14.80" fill="#111" font-weight="bold" textLength="8.40" lengthAdjust="spacingAndGlyphs" stroke="#111" stroke-width="0.5">c</text><text x="513.30" y="11.00" font-size="10.90" fill="#3c3c3c" textLength="94.80" lengthAdjust="spacingAndGlyphs">Stochastic crossing</text><line x1="518.71" y1="19.20" x2="518.71" y2="151.20" stroke="#e8282d" stroke-width="1.10" stroke-dasharray="7.9 2.85" stroke-dashoffset="3.4"/><line x1="561.15" y1="19.20" x2="561.15" y2="151.20" stroke="#3a85a8" stroke-width="0.95" stroke-dasharray="3.7 2.9" stroke-dashoffset="1.6"/><rect x="494.90" y="19.20" width="132.50" height="132.00" fill="none" stroke="#6e6e6e" stroke-width="0.80"/><line x1="492.60" y1="37.78" x2="494.90" y2="37.78" stroke="#6e6e6e" stroke-width="0.70"/><line x1="492.60" y1="66.04" x2="494.90" y2="66.04" stroke="#6e6e6e" stroke-width="0.70"/><line x1="492.60" y1="94.30" x2="494.90" y2="94.30" stroke="#6e6e6e" stroke-width="0.70"/><line x1="492.60" y1="122.56" x2="494.90" y2="122.56" stroke="#6e6e6e" stroke-width="0.70"/><line x1="492.60" y1="150.82" x2="494.90" y2="150.82" stroke="#6e6e6e" stroke-width="0.70"/><line x1="497.49" y1="151.20" x2="497.49" y2="153.40" stroke="#6e6e6e" stroke-width="0.70"/><line x1="561.15" y1="151.20" x2="561.15" y2="153.40" stroke="#6e6e6e" stroke-width="0.70"/><line x1="624.81" y1="151.20" x2="624.81" y2="153.40" stroke="#6e6e6e" stroke-width="0.70"/><text x="497.49" y="165.30" font-size="9.70" fill="#3c3c3c" text-anchor="middle" textLength="24.40" lengthAdjust="spacingAndGlyphs">&#8722;0.06</text><text x="561.15" y="165.30" font-size="9.70" fill="#3c3c3c" text-anchor="middle">0</text><text x="626.21" y="165.30" font-size="9.70" fill="#3c3c3c" text-anchor="end" textLength="19.60" lengthAdjust="spacingAndGlyphs">0.06</text><text x="536.05" y="180.00" font-size="10.30" fill="#3c3c3c" font-style="italic">E</text><text x="541.55" y="182.60" font-size="7.20" fill="#3c3c3c" font-style="italic">z</text><text x="548.05" y="180.00" font-size="10.30" fill="#3c3c3c" textLength="27.60" lengthAdjust="spacingAndGlyphs">(V nm</text><text x="575.65" y="175.70" font-size="6.80" fill="#3c3c3c">&#8722;1</text><text x="583.15" y="180.00" font-size="10.30" fill="#3c3c3c">)</text><rect x="636.50" y="19.20" width="43.90" height="132.00" fill="none" stroke="#7a7a7a" stroke-width="0.80"/><line x1="634.30" y1="37.78" x2="636.50" y2="37.78" stroke="#6e6e6e" stroke-width="0.70"/><line x1="634.30" y1="66.04" x2="636.50" y2="66.04" stroke="#6e6e6e" stroke-width="0.70"/><line x1="634.30" y1="94.30" x2="636.50" y2="94.30" stroke="#6e6e6e" stroke-width="0.70"/><line x1="634.30" y1="122.56" x2="636.50" y2="122.56" stroke="#6e6e6e" stroke-width="0.70"/><line x1="634.30" y1="150.82" x2="636.50" y2="150.82" stroke="#6e6e6e" stroke-width="0.70"/><line x1="636.50" y1="151.20" x2="636.50" y2="153.40" stroke="#6e6e6e" stroke-width="0.70"/><line x1="668.10" y1="151.20" x2="668.10" y2="153.40" stroke="#6e6e6e" stroke-width="0.70"/><text x="636.50" y="164.90" font-size="9.70" fill="#3c3c3c" text-anchor="middle">0</text><text x="668.10" y="164.90" font-size="9.70" fill="#3c3c3c" text-anchor="middle" textLength="12.20" lengthAdjust="spacingAndGlyphs">0.2</text><text x="632.50" y="180.00" font-size="10.30" fill="#3c3c3c" textLength="53.00" lengthAdjust="spacingAndGlyphs">Absorption</text><path d="M638.12 19.50 L638.15 19.94 L638.18 20.38 L638.21 20.82 L638.25 21.26 L638.28 21.70 L638.32 22.14 L638.35 22.58 L638.39 23.02 L638.43 23.46 L638.46 23.89 L638.50 24.33 L638.54 24.77 L638.58 25.21 L638.63 25.65 L638.67 26.09 L638.71 26.53 L638.76 26.97 L638.80 27.41 L638.85 27.85 L638.90 28.29 L638.95 28.73 L639.00 29.17 L639.05 29.61 L639.11 30.05 L639.16 30.49 L639.22 30.93 L639.27 31.37 L639.33 31.81 L639.39 32.24 L639.45 32.68 L639.52 33.12 L639.58 33.56 L639.65 34.00 L639.72 34.44 L639.79 34.88 L639.86 35.32 L639.93 35.76 L640.01 36.20 L640.08 36.64 L640.16 37.08 L640.24 37.52 L640.32 37.96 L640.41 38.40 L640.49 38.84 L640.58 39.28 L640.67 39.72 L640.76 40.15 L640.86 40.59 L640.96 41.03 L641.06 41.47 L641.16 41.91 L641.26 42.35 L641.37 42.79 L641.48 43.23 L641.59 43.67 L641.70 44.11 L641.82 44.55 L641.94 44.99 L642.06 45.43 L642.18 45.87 L642.31 46.31 L642.44 46.75 L642.57 47.19 L642.71 47.63 L642.85 48.07 L642.99 48.50 L643.13 48.94 L643.28 49.38 L643.43 49.82 L643.58 50.26 L643.74 50.70 L643.90 51.14 L644.06 51.58 L644.23 52.02 L644.40 52.46 L644.57 52.90 L644.75 53.34 L644.92 53.78 L645.11 54.22 L645.29 54.66 L645.48 55.10 L645.67 55.54 L645.86 55.98 L646.06 56.42 L646.26 56.85 L646.46 57.29 L646.67 57.73 L646.88 58.17 L647.09 58.61 L647.30 59.05 L647.52 59.49 L647.74 59.93 L647.96 60.37 L648.18 60.81 L648.41 61.25 L648.63 61.69 L648.86 62.13 L649.09 62.57 L649.33 63.01 L649.56 63.45 L649.79 63.89 L650.03 64.33 L650.26 64.76 L650.49 65.20 L650.73 65.64 L650.96 66.08 L651.19 66.52 L651.42 66.96 L651.65 67.40 L651.88 67.84 L652.10 68.28 L652.32 68.72 L652.54 69.16 L652.75 69.60 L652.96 70.04 L653.16 70.48 L653.36 70.92 L653.55 71.36 L653.73 71.80 L653.91 72.24 L654.07 72.68 L654.23 73.11 L654.38 73.55 L654.53 73.99 L654.66 74.43 L654.78 74.87 L654.89 75.31 L655.00 75.75 L655.09 76.19 L655.17 76.63 L655.24 77.07 L655.31 77.51 L655.36 77.95 L655.40 78.39 L655.44 78.83 L655.47 79.27 L655.48 79.71 L655.50 80.15 L655.50 80.59 L655.50 81.03 L655.50 81.46 L655.49 81.90 L655.48 82.34 L655.47 82.78 L655.45 83.22 L655.43 83.66 L655.42 84.10 L655.40 84.54 L655.38 84.98 L655.36 85.42 L655.35 85.86 L655.34 86.30 L655.32 86.74 L655.32 87.18 L655.31 87.62 L655.30 88.06 L655.30 88.50 L655.30 88.94 L655.30 89.37 L655.31 89.81 L655.32 90.25 L655.33 90.69 L655.34 91.13 L655.35 91.57 L655.37 92.01 L655.39 92.45 L655.40 92.89 L655.42 93.33 L655.44 93.77 L655.46 94.21 L655.47 94.65 L655.49 95.09 L655.50 95.53 L655.50 95.97 L655.51 96.41 L655.50 96.85 L655.49 97.29 L655.48 97.72 L655.46 98.16 L655.43 98.60 L655.39 99.04 L655.34 99.48 L655.29 99.92 L655.22 100.36 L655.15 100.80 L655.06 101.24 L654.97 101.68 L654.86 102.12 L654.74 102.56 L654.62 103.00 L654.48 103.44 L654.34 103.88 L654.19 104.32 L654.02 104.76 L653.85 105.20 L653.67 105.64 L653.49 106.07 L653.30 106.51 L653.10 106.95 L652.90 107.39 L652.69 107.83 L652.47 108.27 L652.25 108.71 L652.03 109.15 L651.81 109.59 L651.58 110.03 L651.35 110.47 L651.12 110.91 L650.89 111.35 L650.66 111.79 L650.42 112.23 L650.19 112.67 L649.95 113.11 L649.72 113.55 L649.49 113.98 L649.25 114.42 L649.02 114.86 L648.79 115.30 L648.56 115.74 L648.34 116.18 L648.11 116.62 L647.89 117.06 L647.67 117.50 L647.45 117.94 L647.24 118.38 L647.02 118.82 L646.81 119.26 L646.60 119.70 L646.40 120.14 L646.20 120.58 L646.00 121.02 L645.80 121.46 L645.61 121.90 L645.42 122.33 L645.23 122.77 L645.05 123.21 L644.87 123.65 L644.69 124.09 L644.52 124.53 L644.35 124.97 L644.18 125.41 L644.01 125.85 L643.85 126.29 L643.69 126.73 L643.54 127.17 L643.38 127.61 L643.23 128.05 L643.09 128.49 L642.94 128.93 L642.80 129.37 L642.67 129.81 L642.53 130.25 L642.40 130.68 L642.27 131.12 L642.14 131.56 L642.02 132.00 L641.90 132.44 L641.78 132.88 L641.67 133.32 L641.55 133.76 L641.44 134.20 L641.33 134.64 L641.23 135.08 L641.13 135.52 L641.02 135.96 L640.93 136.40 L640.83 136.84 L640.74 137.28 L640.64 137.72 L640.55 138.16 L640.47 138.59 L640.38 139.03 L640.30 139.47 L640.22 139.91 L640.14 140.35 L640.06 140.79 L639.98 141.23 L639.91 141.67 L639.84 142.11 L639.76 142.55 L639.70 142.99 L639.63 143.43 L639.56 143.87 L639.50 144.31 L639.44 144.75 L639.37 145.19 L639.31 145.63 L639.26 146.07 L639.20 146.51 L639.14 146.94 L639.09 147.38 L639.04 147.82 L638.98 148.26 L638.93 148.70 L638.88 149.14 L638.84 149.58 L638.79 150.02 L638.74 150.46 L638.70 150.90" fill="none" stroke="#2f7fc0" stroke-width="1.15" stroke-linejoin="round"/><path d="M638.78 19.50 L638.83 19.94 L638.88 20.38 L638.93 20.82 L638.99 21.26 L639.04 21.70 L639.10 22.14 L639.16 22.58 L639.22 23.02 L639.29 23.46 L639.35 23.89 L639.42 24.33 L639.49 24.77 L639.56 25.21 L639.63 25.65 L639.71 26.09 L639.78 26.53 L639.86 26.97 L639.94 27.41 L640.03 27.85 L640.11 28.29 L640.20 28.73 L640.29 29.17 L640.39 29.61 L640.49 30.05 L640.59 30.49 L640.69 30.93 L640.80 31.37 L640.90 31.81 L641.02 32.24 L641.13 32.68 L641.25 33.12 L641.38 33.56 L641.50 34.00 L641.63 34.44 L641.77 34.88 L641.90 35.32 L642.05 35.76 L642.19 36.20 L642.34 36.64 L642.50 37.08 L642.66 37.52 L642.82 37.96 L642.99 38.40 L643.17 38.84 L643.35 39.28 L643.53 39.72 L643.72 40.15 L643.92 40.59 L644.12 41.03 L644.33 41.47 L644.54 41.91 L644.76 42.35 L644.98 42.79 L645.21 43.23 L645.45 43.67 L645.70 44.11 L645.95 44.55 L646.20 44.99 L646.47 45.43 L646.74 45.87 L647.01 46.31 L647.30 46.75 L647.59 47.19 L647.88 47.63 L648.19 48.07 L648.50 48.50 L648.81 48.94 L649.13 49.38 L649.46 49.82 L649.79 50.26 L650.13 50.70 L650.47 51.14 L650.82 51.58 L651.16 52.02 L651.51 52.46 L651.87 52.90 L652.22 53.34 L652.57 53.78 L652.92 54.22 L653.26 54.66 L653.60 55.10 L653.93 55.54 L654.25 55.98 L654.56 56.42 L654.86 56.85 L655.14 57.29 L655.40 57.73 L655.64 58.17 L655.86 58.61 L656.05 59.05 L656.21 59.49 L656.33 59.93 L656.42 60.37 L656.47 60.81 L656.48 61.25 L656.45 61.69 L656.38 62.13 L656.27 62.57 L656.11 63.01 L655.90 63.45 L655.66 63.89 L655.38 64.33 L655.05 64.76 L654.70 65.20 L654.31 65.64 L653.90 66.08 L653.47 66.52 L653.01 66.96 L652.55 67.40 L652.07 67.84 L651.59 68.28 L651.11 68.72 L650.63 69.16 L650.16 69.60 L649.69 70.04 L649.23 70.48 L648.79 70.92 L648.36 71.36 L647.95 71.80 L647.55 72.24 L647.16 72.68 L646.80 73.11 L646.45 73.55 L646.11 73.99 L645.80 74.43 L645.50 74.87 L645.21 75.31 L644.94 75.75 L644.69 76.19 L644.45 76.63 L644.22 77.07 L644.01 77.51 L643.81 77.95 L643.62 78.39 L643.44 78.83 L643.28 79.27 L643.12 79.71 L642.98 80.15 L642.84 80.59 L642.72 81.03 L642.60 81.46 L642.49 81.90 L642.39 82.34 L642.30 82.78 L642.22 83.22 L642.14 83.66 L642.07 84.10 L642.01 84.54 L641.96 84.98 L641.91 85.42 L641.87 85.86 L641.83 86.30 L641.80 86.74 L641.78 87.18 L641.76 87.62 L641.75 88.06 L641.75 88.50 L641.75 88.94 L641.75 89.37 L641.77 89.81 L641.79 90.25 L641.81 90.69 L641.84 91.13 L641.88 91.57 L641.92 92.01 L641.97 92.45 L642.03 92.89 L642.09 93.33 L642.17 93.77 L642.24 94.21 L642.33 94.65 L642.42 95.09 L642.53 95.53 L642.64 95.97 L642.76 96.41 L642.88 96.85 L643.02 97.29 L643.17 97.72 L643.33 98.16 L643.50 98.60 L643.68 99.04 L643.87 99.48 L644.07 99.92 L644.29 100.36 L644.52 100.80 L644.77 101.24 L645.02 101.68 L645.30 102.12 L645.59 102.56 L645.89 103.00 L646.22 103.44 L646.55 103.88 L646.91 104.32 L647.28 104.76 L647.67 105.20 L648.07 105.64 L648.49 106.07 L648.93 106.51 L649.37 106.95 L649.83 107.39 L650.30 107.83 L650.78 108.27 L651.26 108.71 L651.74 109.15 L652.22 109.59 L652.69 110.03 L653.15 110.47 L653.60 110.91 L654.03 111.35 L654.43 111.79 L654.81 112.23 L655.16 112.67 L655.47 113.11 L655.74 113.55 L655.97 113.98 L656.16 114.42 L656.31 114.86 L656.41 115.30 L656.47 115.74 L656.49 116.18 L656.46 116.62 L656.40 117.06 L656.30 117.50 L656.16 117.94 L655.99 118.38 L655.80 118.82 L655.57 119.26 L655.32 119.70 L655.06 120.14 L654.77 120.58 L654.47 121.02 L654.16 121.46 L653.83 121.90 L653.50 122.33 L653.15 122.77 L652.81 123.21 L652.46 123.65 L652.11 124.09 L651.76 124.53 L651.41 124.97 L651.06 125.41 L650.71 125.85 L650.37 126.29 L650.03 126.73 L649.69 127.17 L649.36 127.61 L649.03 128.05 L648.71 128.49 L648.40 128.93 L648.09 129.37 L647.79 129.81 L647.50 130.25 L647.21 130.68 L646.93 131.12 L646.65 131.56 L646.39 132.00 L646.12 132.44 L645.87 132.88 L645.62 133.32 L645.38 133.76 L645.14 134.20 L644.91 134.64 L644.69 135.08 L644.47 135.52 L644.26 135.96 L644.06 136.40 L643.86 136.84 L643.66 137.28 L643.47 137.72 L643.29 138.16 L643.11 138.59 L642.94 139.03 L642.77 139.47 L642.61 139.91 L642.45 140.35 L642.30 140.79 L642.15 141.23 L642.00 141.67 L641.86 142.11 L641.72 142.55 L641.59 142.99 L641.46 143.43 L641.34 143.87 L641.22 144.31 L641.10 144.75 L640.98 145.19 L640.87 145.63 L640.76 146.07 L640.66 146.51 L640.56 146.94 L640.46 147.38 L640.36 147.82 L640.27 148.26 L640.18 148.70 L640.09 149.14 L640.00 149.58 L639.92 150.02 L639.84 150.46 L639.76 150.90" fill="none" stroke="#e8303a" stroke-width="1.15" stroke-linejoin="round"/><text x="650.10" y="29.10" font-size="10.10" fill="#2f7fc0" font-style="italic" textLength="6.20" lengthAdjust="spacingAndGlyphs">E</text><text x="655.90" y="31.90" font-size="7.00" fill="#2f7fc0" font-style="italic">z</text><text x="662.20" y="29.10" font-size="10.10" fill="#2f7fc0" textLength="4.80" lengthAdjust="spacingAndGlyphs">=</text><text x="669.70" y="29.10" font-size="10.10" fill="#2f7fc0" textLength="6.60" lengthAdjust="spacingAndGlyphs">0</text><text x="650.70" y="42.80" font-size="10.10" fill="#e8303a" font-style="italic" textLength="6.20" lengthAdjust="spacingAndGlyphs">E</text><text x="656.50" y="45.60" font-size="7.00" fill="#e8303a" font-style="italic">z</text><text x="662.20" y="42.80" font-size="9.00" fill="#e8303a" textLength="4.60" lengthAdjust="spacingAndGlyphs">&#8800;</text><text x="670.00" y="42.80" font-size="10.10" fill="#e8303a" textLength="6.60" lengthAdjust="spacingAndGlyphs">0</text><text x="42.20" y="41.08" font-size="9.70" fill="#3c3c3c" text-anchor="end" textLength="25.10" lengthAdjust="spacingAndGlyphs">2,040</text><text x="42.20" y="69.34" font-size="9.70" fill="#3c3c3c" text-anchor="end" textLength="25.10" lengthAdjust="spacingAndGlyphs">2,020</text><text x="42.20" y="97.60" font-size="9.70" fill="#3c3c3c" text-anchor="end" textLength="25.10" lengthAdjust="spacingAndGlyphs">2,000</text><text x="42.20" y="125.86" font-size="9.70" fill="#3c3c3c" text-anchor="end" textLength="24.00" lengthAdjust="spacingAndGlyphs">1,980</text><text x="42.20" y="154.12" font-size="9.70" fill="#3c3c3c" text-anchor="end" textLength="24.00" lengthAdjust="spacingAndGlyphs">1,960</text><text x="8.90" y="84.60" font-size="10.30" fill="#3c3c3c" text-anchor="middle" textLength="65.70" lengthAdjust="spacingAndGlyphs" transform="rotate(-90 8.90 84.60)">Energy (meV)</text><defs><linearGradient id="cb" x1="0" x2="1" y1="0" y2="0"><stop offset="0.000" stop-color="#ebe828"/><stop offset="0.062" stop-color="#f4d628"/><stop offset="0.125" stop-color="#fac22b"/><stop offset="0.188" stop-color="#faaa35"/><stop offset="0.250" stop-color="#f69541"/><stop offset="0.312" stop-color="#ef804d"/><stop offset="0.375" stop-color="#e46c5b"/><stop offset="0.438" stop-color="#d85969"/><stop offset="0.500" stop-color="#cc4778"/><stop offset="0.562" stop-color="#bd3484"/><stop offset="0.625" stop-color="#ab298e"/><stop offset="0.688" stop-color="#952894"/><stop offset="0.750" stop-color="#812b96"/><stop offset="0.812" stop-color="#6d3097"/><stop offset="0.875" stop-color="#5b3195"/><stop offset="0.938" stop-color="#422f8d"/><stop offset="1.000" stop-color="#2c2c80"/></linearGradient></defs><rect x="345.4" y="31.5" width="61.7" height="5.3" fill="url(#cb)" stroke="#333" stroke-width="0.6"/><line x1="357.20" y1="29.60" x2="357.20" y2="31.30" stroke="#333" stroke-width="0.60"/><line x1="395.40" y1="29.60" x2="395.40" y2="31.30" stroke="#333" stroke-width="0.60"/><text x="356.80" y="25.80" font-size="7.40" fill="#222" text-anchor="middle" textLength="16.00" lengthAdjust="spacingAndGlyphs">0.05</text><text x="396.00" y="25.80" font-size="7.40" fill="#222" text-anchor="middle" textLength="13.60" lengthAdjust="spacingAndGlyphs">0.15</text><text x="353.90" y="47.00" font-size="8.40" fill="#222" textLength="45.00" lengthAdjust="spacingAndGlyphs">Absorption</text><path d="M276.90 44.06 L277.88 44.48 L278.87 44.90 L279.85 45.32 L280.84 45.74 L281.83 46.15 L282.82 46.56 L283.81 46.97 L284.80 47.38 L285.79 47.78 L286.78 48.18 L287.78 48.58" fill="none" stroke="#f4f4f4" stroke-width="1.60" stroke-linejoin="round" stroke-linecap="butt"/><path d="M296.65 51.97 L297.66 52.34 L298.67 52.70 L299.68 53.06 L300.69 53.41 L301.71 53.76 L302.72 54.10 L303.74 54.44 L304.76 54.77 L305.78 55.10 L306.80 55.42 L307.83 55.74" fill="none" stroke="#f4f4f4" stroke-width="1.60" stroke-linejoin="round" stroke-linecap="butt"/><path d="M316.98 58.28 L318.03 58.53 L319.07 58.77 L320.12 59.01 L321.17 59.24 L322.22 59.46 L323.27 59.66 L324.32 59.87 L325.38 60.06 L326.43 60.24 L327.49 60.41 L328.55 60.57" fill="none" stroke="#f4f4f4" stroke-width="1.60" stroke-linejoin="round" stroke-linecap="butt"/><path d="M338.00 61.52 L339.07 61.57 L340.15 61.61 L341.22 61.64 L342.29 61.66 L343.36 61.66 L344.44 61.65 L345.51 61.63 L346.58 61.60 L347.65 61.55 L348.72 61.49 L349.79 61.43" fill="none" stroke="#f4f4f4" stroke-width="1.60" stroke-linejoin="round" stroke-linecap="butt"/><path d="M359.23 60.33 L360.29 60.15 L361.34 59.96 L362.40 59.77 L363.45 59.56 L364.50 59.35 L365.55 59.13 L366.60 58.90 L367.64 58.66 L368.69 58.41 L369.73 58.15 L370.77 57.89" fill="none" stroke="#f4f4f4" stroke-width="1.60" stroke-linejoin="round" stroke-linecap="butt"/><path d="M379.90 55.27 L380.92 54.94 L381.94 54.61 L382.96 54.27 L383.98 53.93 L384.99 53.59 L386.01 53.24 L387.02 52.88 L388.03 52.52 L389.04 52.16 L390.05 51.79 L391.05 51.42" fill="none" stroke="#f4f4f4" stroke-width="1.60" stroke-linejoin="round" stroke-linecap="butt"/><path d="M399.91 47.98 L400.77 47.64 L401.62 47.29 L402.48 46.94 L403.33 46.58 L404.19 46.23 L405.04 45.87 L405.90 45.51 L406.75 45.15 L407.60 44.79 L408.45 44.43 L409.30 44.06" fill="none" stroke="#f4f4f4" stroke-width="1.60" stroke-linejoin="round" stroke-linecap="butt"/><path d="M276.90 136.63 L277.88 136.20 L278.87 135.78 L279.85 135.37 L280.84 134.95 L281.83 134.54 L282.82 134.13 L283.81 133.72 L284.80 133.31 L285.79 132.91 L286.78 132.51 L287.78 132.11" fill="none" stroke="#f4f4f4" stroke-width="1.60" stroke-linejoin="round" stroke-linecap="butt"/><path d="M296.65 128.71 L297.66 128.35 L298.67 127.99 L299.68 127.63 L300.69 127.28 L301.71 126.93 L302.72 126.59 L303.74 126.25 L304.76 125.91 L305.78 125.59 L306.80 125.26 L307.83 124.95" fill="none" stroke="#f4f4f4" stroke-width="1.60" stroke-linejoin="round" stroke-linecap="butt"/><path d="M316.98 122.41 L318.03 122.16 L319.07 121.91 L320.12 121.68 L321.17 121.45 L322.22 121.23 L323.27 121.02 L324.32 120.82 L325.38 120.63 L326.43 120.45 L327.49 120.28 L328.55 120.12" fill="none" stroke="#f4f4f4" stroke-width="1.60" stroke-linejoin="round" stroke-linecap="butt"/><path d="M338.00 119.16 L339.07 119.11 L340.15 119.07 L341.22 119.05 L342.29 119.03 L343.36 119.03 L344.44 119.04 L345.51 119.06 L346.58 119.09 L347.65 119.14 L348.72 119.19 L349.79 119.26" fill="none" stroke="#f4f4f4" stroke-width="1.60" stroke-linejoin="round" stroke-linecap="butt"/><path d="M359.23 120.36 L360.29 120.54 L361.34 120.72 L362.40 120.92 L363.45 121.12 L364.50 121.34 L365.55 121.56 L366.60 121.79 L367.64 122.03 L368.69 122.28 L369.73 122.53 L370.77 122.80" fill="none" stroke="#f4f4f4" stroke-width="1.60" stroke-linejoin="round" stroke-linecap="butt"/><path d="M379.90 125.42 L380.92 125.75 L381.94 126.08 L382.96 126.41 L383.98 126.76 L384.99 127.10 L386.01 127.45 L387.02 127.81 L388.03 128.17 L389.04 128.53 L390.05 128.90 L391.05 129.27" fill="none" stroke="#f4f4f4" stroke-width="1.60" stroke-linejoin="round" stroke-linecap="butt"/><path d="M399.91 132.70 L400.77 133.05 L401.62 133.40 L402.48 133.75 L403.33 134.10 L404.19 134.46 L405.04 134.82 L405.90 135.18 L406.75 135.54 L407.60 135.90 L408.45 136.26 L409.30 136.63" fill="none" stroke="#f4f4f4" stroke-width="1.60" stroke-linejoin="round" stroke-linecap="butt"/><clipPath id="dclip"><rect x="49.6" y="209.5" width="172.7" height="131.5"/></clipPath><g clip-path="url(#dclip)"><path d="M49.60 231.23 L49.85 233.42 L50.10 234.24 L50.35 230.55 L50.60 230.65 L50.85 230.68 L51.10 232.13 L51.35 230.23 L51.60 231.98 L51.85 224.61 L52.10 230.72 L52.35 227.54 L52.60 227.63 L52.85 225.40 L53.10 225.12 L53.35 225.93 L53.60 227.80 L53.85 225.52 L54.10 225.01 L54.35 227.92 L54.60 224.89 L54.85 224.79 L55.10 229.73 L55.35 226.80 L55.60 223.88 L55.85 226.72 L56.10 226.62 L56.35 226.12 L56.60 224.72 L56.85 227.78 L57.10 230.50 L57.35 228.55 L57.60 228.22 L57.85 230.29 L58.10 230.16 L58.35 228.03 L58.60 230.28 L58.85 231.19 L59.10 228.43 L59.35 226.60 L59.60 228.94 L59.85 229.19 L60.10 231.02 L60.35 224.51 L60.60 225.96 L60.85 226.41 L61.10 224.67 L61.35 228.46 L61.60 229.29 L61.85 227.91 L62.10 233.68 L62.35 232.08 L62.60 232.16 L62.85 232.16 L63.10 234.74 L63.35 231.25 L63.60 235.44 L63.85 235.63 L64.10 231.81 L64.35 237.45 L64.60 236.18 L64.85 239.41 L65.10 237.24 L65.35 238.46 L65.60 241.07 L65.85 239.85 L66.10 243.65 L66.35 243.99 L66.60 244.31 L66.85 243.92 L67.10 249.29 L67.35 248.10 L67.60 248.37 L67.85 250.47 L68.10 252.85 L68.35 256.39 L68.60 250.82 L68.85 256.73 L69.10 257.31 L69.35 256.11 L69.60 255.22 L69.85 260.87 L70.10 256.31 L70.35 260.57 L70.60 263.29 L70.85 259.03 L71.10 262.58 L71.35 264.72 L71.60 269.62 L71.85 273.65 L72.10 277.88 L72.35 272.42 L72.60 276.19 L72.85 280.72 L73.10 282.05 L73.35 282.58 L73.60 282.48 L73.85 284.99 L74.10 285.28 L74.35 287.94 L74.60 288.52 L74.85 292.69 L75.10 292.55 L75.35 294.72 L75.60 297.47 L75.85 297.31 L76.10 299.42 L76.35 305.29 L76.60 302.65 L76.85 302.25 L77.10 306.73 L77.35 304.17 L77.60 307.18 L77.85 303.72 L78.10 303.28 L78.35 303.56 L78.60 309.58 L78.85 312.71 L79.10 307.45 L79.35 308.40 L79.60 311.99 L79.85 308.35 L80.10 307.44 L80.35 306.83 L80.60 309.71 L80.85 311.27 L81.10 308.92 L81.35 310.32 L81.60 308.25 L81.85 311.39 L82.10 306.12 L82.35 305.91 L82.60 309.87 L82.85 306.43 L83.10 307.16 L83.35 306.44 L83.60 307.87 L83.85 307.11 L84.10 307.32 L84.35 304.81 L84.60 305.13 L84.85 305.46 L85.10 306.06 L85.35 304.95 L85.60 305.33 L85.85 305.69 L86.10 306.29 L86.35 304.17 L86.60 300.63 L86.85 303.52 L87.10 302.61 L87.35 303.18 L87.60 302.29 L87.85 298.69 L88.10 296.11 L88.35 300.93 L88.60 296.80 L88.85 297.93 L89.10 298.90 L89.35 291.42 L89.60 294.27 L89.85 294.22 L90.10 294.33 L90.35 295.33 L90.60 295.79 L90.85 295.95 L91.10 292.96 L91.35 294.71 L91.60 294.07 L91.85 296.03 L92.10 293.80 L92.35 295.10 L92.60 294.58 L92.85 293.26 L93.10 292.77 L93.35 293.34 L93.60 290.89 L93.85 291.71 L94.10 290.61 L94.35 292.52 L94.60 291.62 L94.85 292.89 L95.10 288.10 L95.35 291.75 L95.60 288.04 L95.85 286.92 L96.10 287.51 L96.35 285.54 L96.60 286.16 L96.85 283.56 L97.10 284.06 L97.35 284.60 L97.60 289.59 L97.85 287.52 L98.10 285.00 L98.35 286.44 L98.60 282.86 L98.85 288.31 L99.10 281.85 L99.35 286.74 L99.60 285.01 L99.85 282.86 L100.10 288.34 L100.35 290.28 L100.60 289.40 L100.85 289.49 L101.10 289.43 L101.35 288.16 L101.60 286.91 L101.85 284.03 L102.10 285.13 L102.35 281.50 L102.60 283.52 L102.85 280.91 L103.10 279.20 L103.35 282.63 L103.60 285.32 L103.85 283.93 L104.10 279.91 L104.35 282.18 L104.60 279.00 L104.85 280.15 L105.10 279.23 L105.35 273.55 L105.60 277.20 L105.85 275.59 L106.10 276.25 L106.35 274.15 L106.60 272.61 L106.85 273.47 L107.10 278.04 L107.35 279.86 L107.60 275.80 L107.85 278.02 L108.10 276.62 L108.35 274.90 L108.60 278.85 L108.85 279.47 L109.10 277.85 L109.35 278.80 L109.60 279.22 L109.85 275.69 L110.10 273.60 L110.35 277.39 L110.60 277.69 L110.85 277.91 L111.10 282.04 L111.35 283.29 L111.60 278.07 L111.85 280.24 L112.10 280.35 L112.35 278.85 L112.60 278.91 L112.85 275.44 L113.10 278.01 L113.35 282.00 L113.60 280.22 L113.85 276.54 L114.10 279.89 L114.35 281.39 L114.60 279.15 L114.85 277.13 L115.10 280.75 L115.35 274.06 L115.60 278.33 L115.85 276.48 L116.10 274.06 L116.35 277.96 L116.60 275.29 L116.85 271.29 L117.10 274.59 L117.35 270.52 L117.60 268.91 L117.85 270.79 L118.10 273.66 L118.35 274.98 L118.60 274.44 L118.85 274.99 L119.10 276.08 L119.35 273.45 L119.60 275.98 L119.85 273.99 L120.10 273.64 L120.35 273.29 L120.60 268.59 L120.85 269.42 L121.10 274.14 L121.35 272.18 L121.60 270.81 L121.85 270.67 L122.10 268.17 L122.35 270.37 L122.60 268.82 L122.85 269.84 L123.10 266.04 L123.35 271.46 L123.60 268.22 L123.85 267.12 L124.10 270.25 L124.35 270.16 L124.60 271.49 L124.85 270.01 L125.10 273.02 L125.35 280.23 L125.60 270.34 L125.85 273.25 L126.10 272.21 L126.35 273.60 L126.60 268.13 L126.85 269.85 L127.10 273.04 L127.35 271.53 L127.60 273.14 L127.85 269.55 L128.10 271.50 L128.35 277.07 L128.60 268.47 L128.85 267.44 L129.10 271.17 L129.35 271.49 L129.60 271.75 L129.85 270.41 L130.10 268.83 L130.35 272.34 L130.60 277.97 L130.85 275.95 L131.10 268.99 L131.35 273.75 L131.60 272.04 L131.85 275.92 L132.10 273.97 L132.35 279.02 L132.60 275.40 L132.85 275.37 L133.10 275.77 L133.35 276.25 L133.60 277.24 L133.85 279.09 L134.10 276.43 L134.35 274.46 L134.60 278.49 L134.85 276.04 L135.10 275.07 L135.35 272.08 L135.60 273.14 L135.85 273.94 L136.10 270.63 L136.35 278.62 L136.60 277.51 L136.85 276.27 L137.10 280.00 L137.35 279.09 L137.60 278.83 L137.85 273.62 L138.10 278.36 L138.35 279.07 L138.60 281.49 L138.85 282.06 L139.10 282.00 L139.35 277.50 L139.60 275.51 L139.85 281.62 L140.10 282.19 L140.35 283.90 L140.60 281.21 L140.85 282.88 L141.10 279.02 L141.35 283.21 L141.60 282.14 L141.85 284.42 L142.10 285.72 L142.35 286.59 L142.60 287.60 L142.85 288.57 L143.10 292.58 L143.35 291.60 L143.60 289.94 L143.85 289.86 L144.10 294.29 L144.35 290.59 L144.60 294.06 L144.85 291.28 L145.10 290.16 L145.35 290.70 L145.60 293.61 L145.85 296.02 L146.10 297.82 L146.35 293.97 L146.60 296.19 L146.85 298.41 L147.10 301.92 L147.35 293.52 L147.60 298.61 L147.85 296.60 L148.10 298.93 L148.35 297.69 L148.60 300.96 L148.85 304.54 L149.10 304.16 L149.35 304.61 L149.60 304.63 L149.85 302.99 L150.10 306.62 L150.35 304.53 L150.60 303.41 L150.85 305.58 L151.10 306.35 L151.35 308.93 L151.60 307.82 L151.85 306.87 L152.10 311.71 L152.35 310.72 L152.60 311.12 L152.85 310.54 L153.10 310.19 L153.35 309.75 L153.60 310.50 L153.85 313.35 L154.10 313.07 L154.35 310.88 L154.60 313.62 L154.85 310.40 L155.10 315.28 L155.35 313.38 L155.60 313.69 L155.85 316.58 L156.10 315.27 L156.35 312.17 L156.60 318.08 L156.85 320.79 L157.10 313.44 L157.35 317.98 L157.60 312.66 L157.85 313.86 L158.10 315.41 L158.35 313.06 L158.60 319.31 L158.85 318.36 L159.10 318.37 L159.35 319.82 L159.60 316.06 L159.85 317.87 L160.10 320.07 L160.35 312.64 L160.60 314.36 L160.85 314.60 L161.10 315.17 L161.35 316.11 L161.60 311.40 L161.85 310.17 L162.10 312.14 L162.35 310.00 L162.60 308.21 L162.85 310.58 L163.10 310.33 L163.35 306.81 L163.60 305.51 L163.85 306.74 L164.10 300.85 L164.35 305.20 L164.60 303.63 L164.85 310.28 L165.10 307.16 L165.35 304.17 L165.60 302.60 L165.85 297.50 L166.10 302.79 L166.35 303.19 L166.60 298.96 L166.85 299.92 L167.10 300.24 L167.35 295.15 L167.60 298.25 L167.85 298.89 L168.10 295.44 L168.35 294.64 L168.60 295.96 L168.85 291.81 L169.10 294.43 L169.35 298.13 L169.60 293.44 L169.85 298.13 L170.10 294.48 L170.35 291.71 L170.60 294.99 L170.85 294.13 L171.10 294.86 L171.35 290.33 L171.60 292.44 L171.85 287.69 L172.10 289.35 L172.35 286.40 L172.60 285.54 L172.85 288.14 L173.10 286.14 L173.35 285.95 L173.60 284.30 L173.85 287.22 L174.10 286.19 L174.35 282.76 L174.60 283.64 L174.85 280.74 L175.10 280.36 L175.35 279.53 L175.60 281.91 L175.85 280.88 L176.10 278.69 L176.35 282.90 L176.60 282.81 L176.85 281.10 L177.10 282.82 L177.35 279.91 L177.60 278.63 L177.85 280.01 L178.10 277.42 L178.35 278.14 L178.60 274.17 L178.85 278.86 L179.10 274.80 L179.35 277.47 L179.60 275.23 L179.85 279.01 L180.10 280.59 L180.35 280.47 L180.60 280.21 L180.85 275.42 L181.10 276.95 L181.35 276.89 L181.60 274.69 L181.85 279.37 L182.10 276.08 L182.35 275.18 L182.60 275.12 L182.85 272.12 L183.10 272.08 L183.35 271.35 L183.60 273.98 L183.85 275.38 L184.10 277.27 L184.35 278.40 L184.60 272.88 L184.85 274.68 L185.10 277.79 L185.35 274.19 L185.60 273.74 L185.85 276.02 L186.10 276.72 L186.35 275.64 L186.60 272.86 L186.85 271.80 L187.10 274.18 L187.35 272.06 L187.60 273.33 L187.85 275.08 L188.10 272.24 L188.35 270.99 L188.60 272.22 L188.85 274.09 L189.10 274.55 L189.35 273.23 L189.60 273.50 L189.85 269.95 L190.10 272.93 L190.35 274.63 L190.60 271.86 L190.85 269.21 L191.10 269.67 L191.35 269.60 L191.60 269.95 L191.85 267.16 L192.10 269.01 L192.35 270.07 L192.60 266.17 L192.85 268.69 L193.10 267.01 L193.35 263.88 L193.60 265.76 L193.85 264.84 L194.10 269.95 L194.35 265.95 L194.60 270.55 L194.85 268.73 L195.10 263.08 L195.35 267.37 L195.60 268.28 L195.85 262.40 L196.10 267.56 L196.35 261.76 L196.60 265.77 L196.85 262.08 L197.10 268.23 L197.35 263.03 L197.60 261.62 L197.85 265.77 L198.10 269.39 L198.35 263.58 L198.60 267.19 L198.85 263.62 L199.10 263.16 L199.35 265.96 L199.60 268.03 L199.85 262.10 L200.10 265.05 L200.35 262.24 L200.60 259.35 L200.85 266.01 L201.10 265.29 L201.35 258.55 L201.60 264.07 L201.85 261.15 L202.10 262.76 L202.35 266.57 L202.60 263.03 L202.85 263.61 L203.10 265.91 L203.35 265.84 L203.60 264.99 L203.85 260.33 L204.10 259.97 L204.35 265.24 L204.60 260.69 L204.85 263.28 L205.10 258.82 L205.35 260.30 L205.60 257.45 L205.85 261.87 L206.10 257.07 L206.35 258.91 L206.60 259.48 L206.85 262.95 L207.10 256.62 L207.35 259.68 L207.60 260.25 L207.85 261.15 L208.10 260.63 L208.35 258.24 L208.60 259.94 L208.85 259.39 L209.10 259.32 L209.35 258.21 L209.60 256.19 L209.85 257.43 L210.10 258.13 L210.35 262.10 L210.60 255.86 L210.85 259.32 L211.10 261.50 L211.35 255.72 L211.60 257.29 L211.85 258.05 L212.10 258.11 L212.35 264.34 L212.60 260.27 L212.85 262.16 L213.10 258.48 L213.35 253.14 L213.60 254.06 L213.85 261.49 L214.10 259.19 L214.35 255.03 L214.60 260.09 L214.85 254.69 L215.10 261.01 L215.35 261.47 L215.60 257.10 L215.85 258.13 L216.10 261.83 L216.35 257.36 L216.60 262.69 L216.85 257.31 L217.10 260.57 L217.35 260.78 L217.60 258.44 L217.85 257.37 L218.10 258.63 L218.35 253.13 L218.60 257.28 L218.85 257.62 L219.10 259.56 L219.35 256.68 L219.60 264.14 L219.85 261.63 L220.10 260.99 L220.35 264.53 L220.60 266.03 L220.85 262.18 L221.10 259.75 L221.35 260.21 L221.60 257.03 L221.85 256.44 L222.10 261.19" fill="none" stroke="#e8243a" stroke-width="1.35" stroke-linejoin="round"/><path d="M49.60 238.51 L49.85 240.10 L50.10 237.70 L50.35 236.94 L50.60 238.58 L50.85 232.29 L51.10 234.02 L51.35 232.17 L51.60 234.87 L51.85 238.61 L52.10 238.53 L52.35 238.68 L52.60 233.40 L52.85 236.78 L53.10 235.04 L53.35 239.07 L53.60 236.24 L53.85 234.32 L54.10 234.09 L54.35 235.53 L54.60 235.37 L54.85 232.77 L55.10 233.00 L55.35 234.51 L55.60 234.04 L55.85 232.60 L56.10 234.50 L56.35 234.10 L56.60 237.54 L56.85 232.49 L57.10 236.79 L57.35 233.59 L57.60 233.88 L57.85 230.52 L58.10 231.89 L58.35 231.25 L58.60 231.69 L58.85 230.33 L59.10 233.49 L59.35 236.37 L59.60 232.91 L59.85 231.92 L60.10 235.12 L60.35 234.75 L60.60 236.27 L60.85 235.33 L61.10 233.21 L61.35 230.15 L61.60 232.62 L61.85 234.86 L62.10 231.29 L62.35 231.75 L62.60 231.92 L62.85 229.07 L63.10 233.39 L63.35 234.28 L63.60 234.25 L63.85 234.98 L64.10 235.53 L64.35 237.59 L64.60 234.24 L64.85 233.17 L65.10 235.31 L65.35 230.91 L65.60 228.77 L65.85 230.59 L66.10 233.76 L66.35 234.30 L66.60 230.42 L66.85 229.08 L67.10 232.31 L67.35 234.13 L67.60 233.73 L67.85 234.89 L68.10 236.58 L68.35 235.94 L68.60 235.84 L68.85 232.77 L69.10 231.74 L69.35 234.99 L69.60 235.75 L69.85 235.45 L70.10 234.71 L70.35 236.28 L70.60 236.37 L70.85 231.00 L71.10 233.21 L71.35 236.98 L71.60 235.95 L71.85 232.43 L72.10 237.84 L72.35 235.19 L72.60 237.17 L72.85 239.37 L73.10 240.15 L73.35 237.14 L73.60 241.68 L73.85 239.87 L74.10 238.61 L74.35 239.12 L74.60 235.71 L74.85 239.65 L75.10 240.99 L75.35 240.28 L75.60 241.20 L75.85 241.55 L76.10 242.17 L76.35 244.04 L76.60 241.80 L76.85 241.53 L77.10 244.38 L77.35 248.88 L77.60 243.25 L77.85 246.02 L78.10 241.77 L78.35 249.13 L78.60 248.74 L78.85 249.51 L79.10 246.45 L79.35 246.24 L79.60 249.99 L79.85 249.87 L80.10 245.54 L80.35 244.55 L80.60 248.98 L80.85 248.36 L81.10 253.74 L81.35 247.83 L81.60 248.47 L81.85 250.15 L82.10 246.57 L82.35 248.10 L82.60 254.32 L82.85 251.33 L83.10 250.73 L83.35 250.50 L83.60 254.09 L83.85 255.54 L84.10 255.82 L84.35 253.98 L84.60 257.31 L84.85 258.73 L85.10 257.08 L85.35 260.44 L85.60 255.84 L85.85 256.31 L86.10 259.39 L86.35 259.73 L86.60 258.24 L86.85 261.64 L87.10 264.45 L87.35 264.39 L87.60 265.85 L87.85 267.75 L88.10 267.63 L88.35 265.12 L88.60 267.68 L88.85 270.97 L89.10 266.49 L89.35 268.68 L89.60 268.32 L89.85 267.29 L90.10 266.19 L90.35 268.31 L90.60 270.52 L90.85 271.19 L91.10 270.16 L91.35 272.89 L91.60 275.88 L91.85 279.45 L92.10 280.25 L92.35 280.40 L92.60 282.55 L92.85 283.37 L93.10 281.37 L93.35 282.68 L93.60 281.03 L93.85 279.27 L94.10 281.92 L94.35 289.36 L94.60 282.21 L94.85 280.90 L95.10 285.53 L95.35 291.26 L95.60 287.56 L95.85 288.37 L96.10 288.81 L96.35 289.99 L96.60 294.41 L96.85 294.15 L97.10 292.72 L97.35 296.50 L97.60 298.16 L97.85 294.74 L98.10 296.60 L98.35 295.59 L98.60 295.10 L98.85 299.35 L99.10 297.32 L99.35 295.86 L99.60 294.05 L99.85 295.36 L100.10 301.32 L100.35 295.61 L100.60 299.83 L100.85 299.16 L101.10 301.62 L101.35 303.15 L101.60 301.48 L101.85 303.22 L102.10 304.01 L102.35 304.09 L102.60 305.04 L102.85 305.91 L103.10 309.42 L103.35 310.77 L103.60 310.89 L103.85 308.79 L104.10 311.85 L104.35 310.78 L104.60 313.13 L104.85 315.74 L105.10 312.95 L105.35 312.86 L105.60 312.18 L105.85 314.73 L106.10 315.39 L106.35 319.82 L106.60 318.07 L106.85 315.71 L107.10 322.63 L107.35 316.82 L107.60 321.54 L107.85 321.78 L108.10 319.43 L108.35 316.18 L108.60 316.09 L108.85 314.62 L109.10 317.72 L109.35 310.85 L109.60 314.79 L109.85 316.67 L110.10 316.23 L110.35 314.41 L110.60 317.82 L110.85 315.64 L111.10 319.04 L111.35 320.28 L111.60 318.28 L111.85 314.28 L112.10 318.20 L112.35 316.16 L112.60 319.60 L112.85 322.32 L113.10 319.57 L113.35 322.57 L113.60 322.03 L113.85 321.08 L114.10 319.32 L114.35 322.59 L114.60 319.73 L114.85 324.61 L115.10 323.76 L115.35 326.43 L115.60 324.78 L115.85 320.48 L116.10 326.47 L116.35 327.25 L116.60 328.37 L116.85 322.34 L117.10 321.87 L117.35 322.76 L117.60 320.49 L117.85 318.04 L118.10 316.82 L118.35 324.67 L118.60 319.69 L118.85 320.31 L119.10 323.08 L119.35 323.67 L119.60 326.84 L119.85 327.28 L120.10 326.36 L120.35 324.07 L120.60 324.68 L120.85 323.44 L121.10 322.57 L121.35 330.25 L121.60 325.37 L121.85 329.34 L122.10 326.02 L122.35 326.11 L122.60 325.26 L122.85 322.03 L123.10 324.51 L123.35 324.61 L123.60 325.88 L123.85 326.87 L124.10 325.96 L124.35 323.72 L124.60 323.44 L124.85 320.54 L125.10 323.93 L125.35 327.63 L125.60 325.20 L125.85 328.51 L126.10 326.72 L126.35 325.32 L126.60 329.78 L126.85 326.44 L127.10 329.34 L127.35 325.99 L127.60 324.37 L127.85 321.14 L128.10 326.79 L128.35 323.50 L128.60 322.66 L128.85 329.15 L129.10 328.66 L129.35 328.79 L129.60 326.95 L129.85 327.16 L130.10 329.64 L130.35 328.63 L130.60 328.41 L130.85 328.90 L131.10 322.17 L131.35 329.06 L131.60 324.57 L131.85 325.08 L132.10 325.97 L132.35 322.72 L132.60 327.47 L132.85 327.03 L133.10 323.21 L133.35 323.45 L133.60 324.66 L133.85 318.90 L134.10 320.44 L134.35 320.85 L134.60 319.27 L134.85 317.18 L135.10 318.67 L135.35 321.84 L135.60 322.58 L135.85 319.75 L136.10 318.41 L136.35 319.04 L136.60 319.25 L136.85 318.34 L137.10 319.27 L137.35 319.96 L137.60 321.60 L137.85 314.33 L138.10 321.08 L138.35 318.53 L138.60 319.09 L138.85 317.65 L139.10 319.28 L139.35 319.87 L139.60 309.95 L139.85 317.15 L140.10 314.42 L140.35 311.18 L140.60 308.18 L140.85 313.37 L141.10 310.67 L141.35 313.43 L141.60 312.66 L141.85 310.81 L142.10 312.87 L142.35 310.67 L142.60 310.40 L142.85 310.16 L143.10 308.52 L143.35 310.67 L143.60 310.51 L143.85 304.60 L144.10 306.43 L144.35 307.34 L144.60 306.49 L144.85 305.60 L145.10 305.10 L145.35 307.25 L145.60 307.10 L145.85 309.76 L146.10 305.45 L146.35 304.32 L146.60 301.52 L146.85 302.23 L147.10 299.26 L147.35 295.10 L147.60 298.63 L147.85 299.16 L148.10 299.44 L148.35 295.76 L148.60 299.58 L148.85 304.46 L149.10 301.16 L149.35 301.51 L149.60 299.65 L149.85 301.68 L150.10 301.31 L150.35 301.54 L150.60 297.83 L150.85 297.60 L151.10 293.92 L151.35 294.31 L151.60 292.66 L151.85 292.42 L152.10 289.70 L152.35 293.97 L152.60 288.90 L152.85 290.98 L153.10 289.45 L153.35 293.30 L153.60 296.44 L153.85 290.71 L154.10 293.14 L154.35 292.65 L154.60 293.48 L154.85 291.48 L155.10 289.55 L155.35 288.92 L155.60 287.41 L155.85 284.99 L156.10 283.14 L156.35 286.59 L156.60 283.84 L156.85 285.93 L157.10 286.62 L157.35 284.29 L157.60 289.08 L157.85 284.87 L158.10 287.32 L158.35 287.65 L158.60 282.11 L158.85 280.65 L159.10 279.57 L159.35 285.58 L159.60 280.55 L159.85 277.46 L160.10 281.26 L160.35 278.78 L160.60 278.58 L160.85 275.93 L161.10 272.79 L161.35 276.17 L161.60 275.83 L161.85 274.83 L162.10 276.30 L162.35 276.08 L162.60 279.45 L162.85 279.94 L163.10 276.72 L163.35 274.55 L163.60 272.71 L163.85 275.01 L164.10 275.92 L164.35 277.23 L164.60 275.42 L164.85 276.06 L165.10 278.14 L165.35 275.76 L165.60 275.94 L165.85 277.66 L166.10 274.37 L166.35 274.97 L166.60 276.39 L166.85 273.62 L167.10 272.24 L167.35 269.37 L167.60 271.64 L167.85 269.74 L168.10 271.85 L168.35 271.10 L168.60 269.41 L168.85 273.57 L169.10 270.70 L169.35 269.04 L169.60 269.12 L169.85 271.44 L170.10 270.51 L170.35 275.40 L170.60 272.72 L170.85 271.25 L171.10 269.44 L171.35 267.93 L171.60 267.14 L171.85 269.40 L172.10 268.49 L172.35 267.66 L172.60 267.29 L172.85 263.58 L173.10 269.44 L173.35 267.49 L173.60 270.37 L173.85 267.27 L174.10 264.95 L174.35 266.36 L174.60 264.57 L174.85 268.11 L175.10 265.46 L175.35 265.76 L175.60 265.57 L175.85 264.65 L176.10 264.97 L176.35 263.74 L176.60 266.50 L176.85 263.19 L177.10 264.57 L177.35 264.06 L177.60 265.03 L177.85 265.55 L178.10 268.52 L178.35 266.83 L178.60 269.04 L178.85 266.17 L179.10 264.61 L179.35 260.64 L179.60 267.02 L179.85 269.39 L180.10 263.78 L180.35 265.48 L180.60 265.10 L180.85 262.21 L181.10 265.25 L181.35 260.39 L181.60 261.22 L181.85 262.99 L182.10 262.31 L182.35 257.67 L182.60 262.51 L182.85 257.68 L183.10 261.06 L183.35 261.06 L183.60 262.51 L183.85 261.03 L184.10 259.49 L184.35 265.95 L184.60 260.15 L184.85 259.71 L185.10 256.81 L185.35 261.42 L185.60 264.15 L185.85 264.41 L186.10 266.28 L186.35 264.40 L186.60 261.44 L186.85 259.87 L187.10 262.03 L187.35 258.01 L187.60 259.63 L187.85 258.12 L188.10 260.55 L188.35 264.22 L188.60 261.01 L188.85 262.62 L189.10 256.92 L189.35 263.07 L189.60 260.92 L189.85 260.84 L190.10 257.65 L190.35 254.91 L190.60 254.53 L190.85 258.54 L191.10 257.68 L191.35 255.31 L191.60 258.45 L191.85 258.61 L192.10 260.31 L192.35 257.26 L192.60 255.26 L192.85 256.52 L193.10 257.01 L193.35 261.03 L193.60 256.63 L193.85 256.40 L194.10 258.49 L194.35 258.38 L194.60 261.07 L194.85 259.75 L195.10 256.65 L195.35 257.76 L195.60 257.13 L195.85 255.88 L196.10 256.31 L196.35 256.50 L196.60 252.98 L196.85 254.58 L197.10 256.01 L197.35 255.79 L197.60 256.16 L197.85 253.63 L198.10 256.43 L198.35 256.95 L198.60 258.67 L198.85 254.98 L199.10 254.26 L199.35 253.55 L199.60 256.25 L199.85 259.83 L200.10 256.23 L200.35 257.43 L200.60 258.29 L200.85 258.58 L201.10 255.15 L201.35 257.20 L201.60 254.40 L201.85 251.26 L202.10 254.70 L202.35 254.14 L202.60 251.06 L202.85 253.54 L203.10 257.77 L203.35 250.79 L203.60 257.05 L203.85 256.34 L204.10 255.35 L204.35 256.28 L204.60 255.34 L204.85 258.79 L205.10 255.03 L205.35 256.53 L205.60 252.34 L205.85 256.95 L206.10 256.38 L206.35 251.78 L206.60 251.60 L206.85 252.96 L207.10 250.58 L207.35 250.78 L207.60 249.01 L207.85 254.81 L208.10 258.28 L208.35 254.70 L208.60 257.13 L208.85 256.85 L209.10 253.95 L209.35 253.14 L209.60 254.06 L209.85 252.61 L210.10 259.13 L210.35 259.04 L210.60 254.03 L210.85 258.99 L211.10 254.19 L211.35 255.65 L211.60 259.21 L211.85 254.05 L212.10 254.59 L212.35 258.21 L212.60 253.40 L212.85 260.36 L213.10 257.65 L213.35 255.25 L213.60 256.87 L213.85 253.14 L214.10 252.71 L214.35 255.66 L214.60 255.79 L214.85 253.77 L215.10 253.54 L215.35 252.12 L215.60 256.41 L215.85 251.49 L216.10 252.34 L216.35 251.74 L216.60 250.67 L216.85 251.28 L217.10 251.64 L217.35 255.33 L217.60 257.28 L217.85 253.69 L218.10 250.52 L218.35 252.17 L218.60 251.28 L218.85 251.31 L219.10 251.85 L219.35 252.84 L219.60 249.04 L219.85 252.28 L220.10 253.82 L220.35 258.34 L220.60 257.91 L220.85 257.62 L221.10 256.24 L221.35 255.13 L221.60 257.07 L221.85 256.69 L222.10 252.76" fill="none" stroke="#2a7ab8" stroke-width="1.35" stroke-linejoin="round"/><path d="M49.60 222.59 L50.47 222.57 L51.34 222.62 L52.20 222.74 L53.07 222.94 L53.94 223.20 L54.81 223.54 L55.67 223.95 L56.54 224.42 L57.41 224.96 L58.28 225.57 L59.15 226.24 L60.01 226.98 L60.88 227.78 L61.75 228.64 L62.62 229.56 L63.49 230.54 L64.35 231.58 L65.22 232.68 L66.09 233.84 L66.96 235.05 L67.82 236.32 L68.69 237.64 L69.56 239.01 L70.43 240.44 L71.30 241.91 L72.16 243.43 L73.03 244.99 L73.90 246.60 L74.77 248.24 L75.64 249.92 L76.50 251.62 L77.37 253.36 L78.24 255.12 L79.11 256.91 L79.97 258.71 L80.84 260.54 L81.71 262.37 L82.58 264.22 L83.45 266.08 L84.31 267.94 L85.18 269.81 L86.05 271.67 L86.92 273.53 L87.78 275.39 L88.65 277.23 L89.52 279.07 L90.39 280.89 L91.26 282.69 L92.12 284.48 L92.99 286.24 L93.86 287.97 L94.73 289.68 L95.60 291.36 L96.46 293.02 L97.33 294.64 L98.20 296.24 L99.07 297.81 L99.93 299.34 L100.80 300.85 L101.67 302.32 L102.54 303.76 L103.41 305.16 L104.27 306.53 L105.14 307.86 L106.01 309.15 L106.88 310.41 L107.75 311.62 L108.61 312.80 L109.48 313.93 L110.35 315.02 L111.22 316.07 L112.08 317.08 L112.95 318.04 L113.82 318.96 L114.69 319.83 L115.56 320.65 L116.42 321.43 L117.29 322.15 L118.16 322.83 L119.03 323.46 L119.89 324.03 L120.76 324.55 L121.63 325.02 L122.50 325.43 L123.37 325.79 L124.23 326.09 L125.10 326.33 L125.97 326.52 L126.84 326.65 L127.71 326.72 L128.57 326.72 L129.44 326.67 L130.31 326.55 L131.18 326.37 L132.04 326.13 L132.91 325.82 L133.78 325.44 L134.65 325.00 L135.52 324.49 L136.38 323.91 L137.25 323.27 L138.12 322.57 L138.99 321.80 L139.86 320.98 L140.72 320.10 L141.59 319.18 L142.46 318.20 L143.33 317.17 L144.19 316.11 L145.06 315.00 L145.93 313.85 L146.80 312.66 L147.67 311.44 L148.53 310.19 L149.40 308.91 L150.27 307.61 L151.14 306.28 L152.01 304.93 L152.87 303.56 L153.74 302.18 L154.61 300.78 L155.48 299.37 L156.34 297.96 L157.21 296.54 L158.08 295.11 L158.95 293.69 L159.82 292.27 L160.68 290.85 L161.55 289.44 L162.42 288.04 L163.29 286.66 L164.15 285.29 L165.02 283.93 L165.89 282.60 L166.76 281.29 L167.63 280.01 L168.49 278.75 L169.36 277.53 L170.23 276.33 L171.10 275.17 L171.97 274.04 L172.83 272.95 L173.70 271.88 L174.57 270.84 L175.44 269.83 L176.30 268.85 L177.17 267.90 L178.04 266.97 L178.91 266.08 L179.78 265.21 L180.64 264.36 L181.51 263.54 L182.38 262.75 L183.25 261.98 L184.12 261.24 L184.98 260.51 L185.85 259.82 L186.72 259.14 L187.59 258.49 L188.45 257.85 L189.32 257.24 L190.19 256.65 L191.06 256.08 L191.93 255.53 L192.79 254.99 L193.66 254.48 L194.53 253.98 L195.40 253.50 L196.26 253.04 L197.13 252.59 L198.00 252.16 L198.87 251.74 L199.74 251.34 L200.60 250.95 L201.47 250.58 L202.34 250.22 L203.21 249.87 L204.08 249.53 L204.94 249.21 L205.81 248.89 L206.68 248.59 L207.55 248.29 L208.41 248.01 L209.28 247.73 L210.15 247.47 L211.02 247.21 L211.89 246.95 L212.75 246.71 L213.62 246.47 L214.49 246.23 L215.36 246.00 L216.23 245.78 L217.09 245.56 L217.96 245.34 L218.83 245.13 L219.70 244.92 L220.56 244.71 L221.43 244.50 L222.30 244.30" fill="none" stroke="#b58c64" stroke-width="1.10" stroke-linejoin="round" stroke-dasharray="4.2 3.2"/><path d="M49.60 234.09 L50.47 234.49 L51.34 235.08 L52.20 235.84 L53.07 236.76 L53.94 237.84 L54.81 239.06 L55.67 240.42 L56.54 241.90 L57.41 243.49 L58.28 245.20 L59.15 246.99 L60.01 248.88 L60.88 250.83 L61.75 252.86 L62.62 254.94 L63.49 257.06 L64.35 259.22 L65.22 261.41 L66.09 263.61 L66.96 265.82 L67.82 268.03 L68.69 270.22 L69.56 272.39 L70.43 274.53 L71.30 276.62 L72.16 278.66 L73.03 280.64 L73.90 282.55 L74.77 284.37 L75.64 286.10 L76.50 287.73 L77.37 289.24 L78.24 290.63 L79.11 291.90 L79.97 293.01 L80.84 293.98 L81.71 294.79 L82.58 295.42 L83.45 295.88 L84.31 296.14 L85.18 296.20 L86.05 296.09 L86.92 295.81 L87.78 295.38 L88.65 294.83 L89.52 294.16 L90.39 293.41 L91.26 292.59 L92.12 291.71 L92.99 290.79 L93.86 289.86 L94.73 288.93 L95.60 288.00 L96.46 287.06 L97.33 286.13 L98.20 285.20 L99.07 284.27 L99.93 283.35 L100.80 282.42 L101.67 281.50 L102.54 280.58 L103.41 279.66 L104.27 278.74 L105.14 277.83 L106.01 276.92 L106.88 276.02 L107.75 275.12 L108.61 274.22 L109.48 273.33 L110.35 272.44 L111.22 271.56 L112.08 270.69 L112.95 269.85 L113.82 269.03 L114.69 268.24 L115.56 267.49 L116.42 266.79 L117.29 266.14 L118.16 265.54 L119.03 265.01 L119.89 264.54 L120.76 264.15 L121.63 263.85 L122.50 263.63 L123.37 263.50 L124.23 263.47 L125.10 263.55 L125.97 263.74 L126.84 264.05 L127.71 264.48 L128.57 265.05 L129.44 265.74 L130.31 266.54 L131.18 267.46 L132.04 268.48 L132.91 269.60 L133.78 270.80 L134.65 272.08 L135.52 273.43 L136.38 274.84 L137.25 276.30 L138.12 277.81 L138.99 279.35 L139.86 280.93 L140.72 282.52 L141.59 284.13 L142.46 285.74 L143.33 287.35 L144.19 288.94 L145.06 290.51 L145.93 292.06 L146.80 293.57 L147.67 295.03 L148.53 296.44 L149.40 297.79 L150.27 299.07 L151.14 300.27 L152.01 301.39 L152.87 302.41 L153.74 303.33 L154.61 304.14 L155.48 304.83 L156.34 305.40 L157.21 305.83 L158.08 306.12 L158.95 306.26 L159.82 306.25 L160.68 306.06 L161.55 305.71 L162.42 305.17 L163.29 304.44 L164.15 303.53 L165.02 302.45 L165.89 301.23 L166.76 299.90 L167.63 298.46 L168.49 296.95 L169.36 295.40 L170.23 293.81 L171.10 292.21 L171.97 290.64 L172.83 289.10 L173.70 287.60 L174.57 286.14 L175.44 284.73 L176.30 283.35 L177.17 282.02 L178.04 280.73 L178.91 279.48 L179.78 278.28 L180.64 277.12 L181.51 276.00 L182.38 274.93 L183.25 273.90 L184.12 272.90 L184.98 271.95 L185.85 271.04 L186.72 270.16 L187.59 269.32 L188.45 268.51 L189.32 267.73 L190.19 266.99 L191.06 266.27 L191.93 265.59 L192.79 264.93 L193.66 264.29 L194.53 263.68 L195.40 263.09 L196.26 262.52 L197.13 261.97 L198.00 261.44 L198.87 260.93 L199.74 260.43 L200.60 259.95 L201.47 259.48 L202.34 259.02 L203.21 258.57 L204.08 258.13 L204.94 257.70 L205.81 257.28 L206.68 256.85 L207.55 256.43 L208.41 256.02 L209.28 255.60 L210.15 255.18 L211.02 254.76 L211.89 254.34 L212.75 253.91 L213.62 253.47 L214.49 253.03 L215.36 252.58 L216.23 252.11 L217.09 251.64 L217.96 251.15 L218.83 250.64 L219.70 250.12 L220.56 249.58 L221.43 249.02 L222.30 248.44" fill="none" stroke="#8b4fc0" stroke-width="1.10" stroke-linejoin="round" stroke-dasharray="4.2 3.2"/></g><rect x="49.60" y="209.50" width="172.70" height="131.50" fill="none" stroke="#8a8a8a" stroke-width="0.80"/><text x="-0.50" y="206.00" font-size="14.80" fill="#111" font-weight="bold" textLength="9.40" lengthAdjust="spacingAndGlyphs" stroke="#111" stroke-width="0.5">d</text><line x1="46.60" y1="224.00" x2="49.60" y2="224.00" stroke="#8a8a8a" stroke-width="0.70"/><text x="42.40" y="227.40" font-size="9.70" fill="#3c3c3c" text-anchor="end">0</text><line x1="46.60" y1="267.90" x2="49.60" y2="267.90" stroke="#8a8a8a" stroke-width="0.70"/><text x="42.40" y="271.30" font-size="9.70" fill="#3c3c3c" text-anchor="end" textLength="23.10" lengthAdjust="spacingAndGlyphs">&#8722;0.06</text><line x1="46.60" y1="311.80" x2="49.60" y2="311.80" stroke="#8a8a8a" stroke-width="0.70"/><text x="42.40" y="315.20" font-size="9.70" fill="#3c3c3c" text-anchor="end" textLength="22.00" lengthAdjust="spacingAndGlyphs">&#8722;0.12</text><line x1="49.60" y1="341.00" x2="49.60" y2="343.20" stroke="#8a8a8a" stroke-width="0.70"/><text x="49.60" y="354.40" font-size="9.70" fill="#3c3c3c" text-anchor="middle" textLength="22.80" lengthAdjust="spacingAndGlyphs">1,960</text><line x1="105.27" y1="341.00" x2="105.27" y2="343.20" stroke="#8a8a8a" stroke-width="0.70"/><text x="105.27" y="354.40" font-size="9.70" fill="#3c3c3c" text-anchor="middle" textLength="23.60" lengthAdjust="spacingAndGlyphs">1,990</text><line x1="160.94" y1="341.00" x2="160.94" y2="343.20" stroke="#8a8a8a" stroke-width="0.70"/><text x="160.94" y="354.40" font-size="9.70" fill="#3c3c3c" text-anchor="middle" textLength="23.60" lengthAdjust="spacingAndGlyphs">2,020</text><line x1="216.60" y1="341.00" x2="216.60" y2="343.20" stroke="#8a8a8a" stroke-width="0.70"/><text x="216.60" y="354.40" font-size="9.70" fill="#3c3c3c" text-anchor="middle" textLength="23.60" lengthAdjust="spacingAndGlyphs">2,050</text><text x="103.60" y="369.50" font-size="10.30" fill="#3c3c3c" textLength="65.10" lengthAdjust="spacingAndGlyphs">Energy (meV)</text><g transform="translate(8.5 312.1) rotate(-90)"><text x="0.00" y="0.00" font-size="9.60" fill="#3c3c3c" textLength="3.30" lengthAdjust="spacingAndGlyphs">(</text><text x="4.00" y="0.00" font-size="9.60" fill="#3c3c3c" textLength="5.80" lengthAdjust="spacingAndGlyphs">R</text><text x="10.20" y="0.00" font-size="9.60" fill="#3c3c3c" textLength="3.40" lengthAdjust="spacingAndGlyphs">&#8722;</text><text x="14.30" y="0.00" font-size="9.60" fill="#3c3c3c" textLength="6.60" lengthAdjust="spacingAndGlyphs">S</text><text x="21.30" y="4.10" font-size="7.40" fill="#3c3c3c" textLength="12.40" lengthAdjust="spacingAndGlyphs">bkg</text><text x="34.50" y="0.00" font-size="9.60" fill="#3c3c3c" textLength="2.80" lengthAdjust="spacingAndGlyphs">)</text><text x="37.30" y="0.00" font-size="9.60" fill="#3c3c3c" textLength="4.40" lengthAdjust="spacingAndGlyphs">/</text><text x="41.90" y="0.00" font-size="9.60" fill="#3c3c3c" textLength="6.20" lengthAdjust="spacingAndGlyphs">R</text><text x="48.50" y="4.30" font-size="7.40" fill="#3c3c3c" textLength="26.00" lengthAdjust="spacingAndGlyphs">no-TMD</text></g><line x1="80.10" y1="217.60" x2="89.60" y2="217.60" stroke="#2a7ab8" stroke-width="1.30"/><text x="95.40" y="220.80" font-size="9.20" fill="#2a7ab8" font-style="italic">E</text><text x="101.70" y="223.40" font-size="6.40" fill="#2a7ab8" font-style="italic">z</text><text x="107.60" y="220.80" font-size="9.20" fill="#2a7ab8" textLength="4.20" lengthAdjust="spacingAndGlyphs">=</text><text x="115.30" y="220.80" font-size="9.20" fill="#2a7ab8" textLength="6.10" lengthAdjust="spacingAndGlyphs">0</text><text x="125.10" y="220.80" font-size="9.20" fill="#2a7ab8" textLength="20.80" lengthAdjust="spacingAndGlyphs">data</text><line x1="153.70" y1="217.60" x2="163.20" y2="217.60" stroke="#e8243a" stroke-width="1.30"/><text x="169.00" y="220.80" font-size="9.20" fill="#e8243a" font-style="italic">E</text><text x="175.30" y="223.40" font-size="6.40" fill="#e8243a" font-style="italic">z</text><text x="181.30" y="220.80" font-size="8.60" fill="#e8243a" textLength="4.20" lengthAdjust="spacingAndGlyphs">&#8800;</text><text x="188.90" y="220.80" font-size="9.20" fill="#e8243a" textLength="6.10" lengthAdjust="spacingAndGlyphs">0</text><text x="198.70" y="220.80" font-size="9.20" fill="#e8243a" textLength="20.80" lengthAdjust="spacingAndGlyphs">data</text><line x1="80.10" y1="230.60" x2="89.60" y2="230.60" stroke="#b58c64" stroke-width="1.10" stroke-dasharray="4 3.8"/><text x="95.40" y="233.80" font-size="9.20" fill="#b58c64" font-style="italic">E</text><text x="101.70" y="236.40" font-size="6.40" fill="#b58c64" font-style="italic">z</text><text x="107.60" y="233.80" font-size="9.20" fill="#b58c64" textLength="4.20" lengthAdjust="spacingAndGlyphs">=</text><text x="115.30" y="233.80" font-size="9.20" fill="#b58c64" textLength="6.10" lengthAdjust="spacingAndGlyphs">0</text><text x="125.10" y="233.80" font-size="9.20" fill="#b58c64" textLength="9.60" lengthAdjust="spacingAndGlyphs">fit</text><line x1="153.70" y1="230.60" x2="163.20" y2="230.60" stroke="#8b4fc0" stroke-width="1.10" stroke-dasharray="4 3.8"/><text x="169.00" y="233.80" font-size="9.20" fill="#8b4fc0" font-style="italic">E</text><text x="175.30" y="236.40" font-size="6.40" fill="#8b4fc0" font-style="italic">z</text><text x="181.30" y="233.80" font-size="8.60" fill="#8b4fc0" textLength="4.20" lengthAdjust="spacingAndGlyphs">&#8800;</text><text x="188.90" y="233.80" font-size="9.20" fill="#8b4fc0" textLength="6.10" lengthAdjust="spacingAndGlyphs">0</text><text x="198.70" y="233.80" font-size="9.20" fill="#8b4fc0" textLength="9.60" lengthAdjust="spacingAndGlyphs">fit</text><rect x="276.80" y="209.50" width="173.40" height="131.10" fill="none" stroke="#8a8a8a" stroke-width="0.80"/><text x="241.80" y="206.00" font-size="14.80" fill="#111" font-weight="bold" textLength="9.00" lengthAdjust="spacingAndGlyphs" stroke="#111" stroke-width="0.5">e</text><line x1="276.80" y1="313.90" x2="450.20" y2="313.90" stroke="#cfcfcf" stroke-width="0.90" stroke-dasharray="4.5 3"/><line x1="273.20" y1="313.90" x2="276.80" y2="313.90" stroke="#8a8a8a" stroke-width="0.70"/><text x="269.80" y="317.30" font-size="9.70" fill="#3c3c3c" text-anchor="end">0</text><line x1="273.20" y1="284.20" x2="276.80" y2="284.20" stroke="#8a8a8a" stroke-width="0.70"/><text x="269.80" y="287.60" font-size="9.70" fill="#3c3c3c" text-anchor="end" textLength="10.40" lengthAdjust="spacingAndGlyphs">10</text><line x1="273.20" y1="254.50" x2="276.80" y2="254.50" stroke="#8a8a8a" stroke-width="0.70"/><text x="269.80" y="257.90" font-size="9.70" fill="#3c3c3c" text-anchor="end" textLength="10.40" lengthAdjust="spacingAndGlyphs">20</text><line x1="273.20" y1="224.80" x2="276.80" y2="224.80" stroke="#8a8a8a" stroke-width="0.70"/><text x="269.80" y="228.20" font-size="9.70" fill="#3c3c3c" text-anchor="end" textLength="10.40" lengthAdjust="spacingAndGlyphs">30</text><line x1="280.30" y1="340.60" x2="280.30" y2="342.80" stroke="#8a8a8a" stroke-width="0.70"/><text x="280.30" y="354.40" font-size="9.70" fill="#3c3c3c" text-anchor="middle">0</text><line x1="312.00" y1="340.60" x2="312.00" y2="342.80" stroke="#8a8a8a" stroke-width="0.70"/><text x="312.00" y="354.40" font-size="9.70" fill="#3c3c3c" text-anchor="middle" textLength="12.40" lengthAdjust="spacingAndGlyphs">0.5</text><line x1="343.70" y1="340.60" x2="343.70" y2="342.80" stroke="#8a8a8a" stroke-width="0.70"/><text x="343.70" y="354.40" font-size="9.70" fill="#3c3c3c" text-anchor="middle">1</text><line x1="375.40" y1="340.60" x2="375.40" y2="342.80" stroke="#8a8a8a" stroke-width="0.70"/><text x="375.40" y="354.40" font-size="9.70" fill="#3c3c3c" text-anchor="middle" textLength="12.40" lengthAdjust="spacingAndGlyphs">1.5</text><line x1="407.10" y1="340.60" x2="407.10" y2="342.80" stroke="#8a8a8a" stroke-width="0.70"/><text x="407.10" y="354.40" font-size="9.70" fill="#3c3c3c" text-anchor="middle">2</text><line x1="438.80" y1="340.60" x2="438.80" y2="342.80" stroke="#8a8a8a" stroke-width="0.70"/><text x="438.80" y="354.40" font-size="9.70" fill="#3c3c3c" text-anchor="middle" textLength="12.40" lengthAdjust="spacingAndGlyphs">2.5</text><text x="333.60" y="369.20" font-size="10.00" fill="#3c3c3c" font-style="italic">n</text><text x="342.30" y="369.20" font-size="10.00" fill="#3c3c3c" textLength="13.40" lengthAdjust="spacingAndGlyphs">(10</text><text x="355.70" y="365.00" font-size="6.60" fill="#3c3c3c" textLength="6.20" lengthAdjust="spacingAndGlyphs">12</text><text x="366.90" y="369.20" font-size="10.00" fill="#3c3c3c" textLength="13.80" lengthAdjust="spacingAndGlyphs">cm</text><text x="381.20" y="365.00" font-size="6.60" fill="#3c3c3c" textLength="8.20" lengthAdjust="spacingAndGlyphs">&#8722;2</text><text x="389.40" y="369.20" font-size="10.00" fill="#3c3c3c">)</text><g transform="translate(250.4 313.3) rotate(-90)"><text x="0.00" y="0.00" font-size="10.30" fill="#3c3c3c" textLength="75.30" lengthAdjust="spacingAndGlyphs">Coupling (meV)</text></g><line x1="280.40" y1="215.70" x2="296.40" y2="215.70" stroke="#d884cb" stroke-width="1.50"/><line x1="288.40" y1="212.60" x2="288.40" y2="218.80" stroke="#de95d3" stroke-width="0.80"/><line x1="286.60" y1="212.60" x2="290.20" y2="212.60" stroke="#de95d3" stroke-width="0.80"/><line x1="286.60" y1="218.80" x2="290.20" y2="218.80" stroke="#de95d3" stroke-width="0.80"/><circle cx="288.40" cy="215.7" r="1.45" fill="#c04aa8"/><text x="302.00" y="218.60" font-size="10.60" fill="#c04aa8" font-style="italic">&#963;</text><line x1="280.40" y1="226.50" x2="296.40" y2="226.50" stroke="#86c068" stroke-width="1.50"/><line x1="288.40" y1="223.40" x2="288.40" y2="229.60" stroke="#9ccd84" stroke-width="0.80"/><line x1="286.60" y1="223.40" x2="290.20" y2="223.40" stroke="#9ccd84" stroke-width="0.80"/><line x1="286.60" y1="229.60" x2="290.20" y2="229.60" stroke="#9ccd84" stroke-width="0.80"/><circle cx="288.40" cy="226.5" r="1.45" fill="#5fab3a"/><text x="302.00" y="229.30" font-size="9.80" fill="#5fab3a" font-style="italic" textLength="10.00" lengthAdjust="spacingAndGlyphs">W</text><text x="312.50" y="232.40" font-size="7.00" fill="#5fab3a">0</text><line x1="281.80" y1="242.00" x2="295.40" y2="242.00" stroke="#333" stroke-width="1.40" stroke-dasharray="5.7 2.5"/><text x="302.00" y="244.60" font-size="10.60" fill="#333" font-style="italic">&#963;</text><text x="309.60" y="244.60" font-size="10.00" fill="#333" textLength="58.20" lengthAdjust="spacingAndGlyphs">(mean field)</text><line x1="280.40" y1="313.90" x2="446.50" y2="220.08" stroke="#333" stroke-width="1.30" stroke-dasharray="5.2 3.0"/><line x1="280.40" y1="308.20" x2="280.40" y2="312.40" stroke="#9ccd84" stroke-width="0.80"/><line x1="278.50" y1="308.20" x2="282.30" y2="308.20" stroke="#9ccd84" stroke-width="0.80"/><line x1="278.50" y1="312.40" x2="282.30" y2="312.40" stroke="#9ccd84" stroke-width="0.80"/><circle cx="280.40" cy="310.30" r="1.60" fill="#5fab3a"/><line x1="287.30" y1="308.50" x2="287.30" y2="312.70" stroke="#9ccd84" stroke-width="0.80"/><line x1="285.40" y1="308.50" x2="289.20" y2="308.50" stroke="#9ccd84" stroke-width="0.80"/><line x1="285.40" y1="312.70" x2="289.20" y2="312.70" stroke="#9ccd84" stroke-width="0.80"/><circle cx="287.30" cy="310.60" r="1.60" fill="#5fab3a"/><line x1="302.10" y1="309.50" x2="302.10" y2="313.90" stroke="#9ccd84" stroke-width="0.80"/><line x1="300.20" y1="309.50" x2="304.00" y2="309.50" stroke="#9ccd84" stroke-width="0.80"/><line x1="300.20" y1="313.90" x2="304.00" y2="313.90" stroke="#9ccd84" stroke-width="0.80"/><circle cx="302.10" cy="311.60" r="1.60" fill="#5fab3a"/><line x1="316.80" y1="309.50" x2="316.80" y2="315.60" stroke="#9ccd84" stroke-width="0.80"/><line x1="314.90" y1="309.50" x2="318.70" y2="309.50" stroke="#9ccd84" stroke-width="0.80"/><line x1="314.90" y1="315.60" x2="318.70" y2="315.60" stroke="#9ccd84" stroke-width="0.80"/><circle cx="316.80" cy="312.70" r="1.60" fill="#5fab3a"/><line x1="331.20" y1="308.50" x2="331.20" y2="316.00" stroke="#9ccd84" stroke-width="0.80"/><line x1="329.30" y1="308.50" x2="333.10" y2="308.50" stroke="#9ccd84" stroke-width="0.80"/><line x1="329.30" y1="316.00" x2="333.10" y2="316.00" stroke="#9ccd84" stroke-width="0.80"/><circle cx="331.20" cy="312.30" r="1.60" fill="#5fab3a"/><line x1="345.30" y1="309.40" x2="345.30" y2="317.40" stroke="#9ccd84" stroke-width="0.80"/><line x1="343.40" y1="309.40" x2="347.20" y2="309.40" stroke="#9ccd84" stroke-width="0.80"/><line x1="343.40" y1="317.40" x2="347.20" y2="317.40" stroke="#9ccd84" stroke-width="0.80"/><circle cx="345.30" cy="313.40" r="1.60" fill="#5fab3a"/><line x1="360.40" y1="311.50" x2="360.40" y2="320.50" stroke="#9ccd84" stroke-width="0.80"/><line x1="358.50" y1="311.50" x2="362.30" y2="311.50" stroke="#9ccd84" stroke-width="0.80"/><line x1="358.50" y1="320.50" x2="362.30" y2="320.50" stroke="#9ccd84" stroke-width="0.80"/><circle cx="360.40" cy="316.00" r="1.60" fill="#5fab3a"/><line x1="374.30" y1="311.20" x2="374.30" y2="321.60" stroke="#9ccd84" stroke-width="0.80"/><line x1="372.40" y1="311.20" x2="376.20" y2="311.20" stroke="#9ccd84" stroke-width="0.80"/><line x1="372.40" y1="321.60" x2="376.20" y2="321.60" stroke="#9ccd84" stroke-width="0.80"/><circle cx="374.30" cy="316.40" r="1.60" fill="#5fab3a"/><line x1="389.00" y1="314.40" x2="389.00" y2="326.80" stroke="#9ccd84" stroke-width="0.80"/><line x1="387.10" y1="314.40" x2="390.90" y2="314.40" stroke="#9ccd84" stroke-width="0.80"/><line x1="387.10" y1="326.80" x2="390.90" y2="326.80" stroke="#9ccd84" stroke-width="0.80"/><circle cx="389.00" cy="320.60" r="1.60" fill="#5fab3a"/><line x1="402.90" y1="315.90" x2="402.90" y2="328.30" stroke="#9ccd84" stroke-width="0.80"/><line x1="401.00" y1="315.90" x2="404.80" y2="315.90" stroke="#9ccd84" stroke-width="0.80"/><line x1="401.00" y1="328.30" x2="404.80" y2="328.30" stroke="#9ccd84" stroke-width="0.80"/><circle cx="402.90" cy="322.10" r="1.60" fill="#5fab3a"/><line x1="418.00" y1="316.50" x2="418.00" y2="330.70" stroke="#9ccd84" stroke-width="0.80"/><line x1="416.10" y1="316.50" x2="419.90" y2="316.50" stroke="#9ccd84" stroke-width="0.80"/><line x1="416.10" y1="330.70" x2="419.90" y2="330.70" stroke="#9ccd84" stroke-width="0.80"/><circle cx="418.00" cy="323.60" r="1.60" fill="#5fab3a"/><line x1="432.70" y1="317.40" x2="432.70" y2="333.60" stroke="#9ccd84" stroke-width="0.80"/><line x1="430.80" y1="317.40" x2="434.60" y2="317.40" stroke="#9ccd84" stroke-width="0.80"/><line x1="430.80" y1="333.60" x2="434.60" y2="333.60" stroke="#9ccd84" stroke-width="0.80"/><circle cx="432.70" cy="325.50" r="1.60" fill="#5fab3a"/><line x1="447.00" y1="318.50" x2="447.00" y2="336.30" stroke="#9ccd84" stroke-width="0.80"/><line x1="445.10" y1="318.50" x2="448.90" y2="318.50" stroke="#9ccd84" stroke-width="0.80"/><line x1="445.10" y1="336.30" x2="448.90" y2="336.30" stroke="#9ccd84" stroke-width="0.80"/><circle cx="447.00" cy="327.40" r="1.60" fill="#5fab3a"/><line x1="280.40" y1="301.50" x2="280.40" y2="313.90" stroke="#de95d3" stroke-width="0.80"/><line x1="278.50" y1="301.50" x2="282.30" y2="301.50" stroke="#de95d3" stroke-width="0.80"/><line x1="278.50" y1="313.90" x2="282.30" y2="313.90" stroke="#de95d3" stroke-width="0.80"/><circle cx="280.40" cy="313.90" r="1.60" fill="#c04aa8"/><line x1="287.30" y1="298.70" x2="287.30" y2="313.90" stroke="#de95d3" stroke-width="0.80"/><line x1="285.40" y1="298.70" x2="289.20" y2="298.70" stroke="#de95d3" stroke-width="0.80"/><line x1="285.40" y1="313.90" x2="289.20" y2="313.90" stroke="#de95d3" stroke-width="0.80"/><circle cx="287.30" cy="313.90" r="1.60" fill="#c04aa8"/><line x1="302.10" y1="281.60" x2="302.10" y2="310.30" stroke="#de95d3" stroke-width="0.80"/><line x1="300.20" y1="281.60" x2="304.00" y2="281.60" stroke="#de95d3" stroke-width="0.80"/><line x1="300.20" y1="310.30" x2="304.00" y2="310.30" stroke="#de95d3" stroke-width="0.80"/><circle cx="302.10" cy="296.10" r="1.60" fill="#c04aa8"/><line x1="316.80" y1="276.80" x2="316.80" y2="294.20" stroke="#de95d3" stroke-width="0.80"/><line x1="314.90" y1="276.80" x2="318.70" y2="276.80" stroke="#de95d3" stroke-width="0.80"/><line x1="314.90" y1="294.20" x2="318.70" y2="294.20" stroke="#de95d3" stroke-width="0.80"/><circle cx="316.80" cy="285.30" r="1.60" fill="#c04aa8"/><line x1="331.20" y1="269.80" x2="331.20" y2="284.80" stroke="#de95d3" stroke-width="0.80"/><line x1="329.30" y1="269.80" x2="333.10" y2="269.80" stroke="#de95d3" stroke-width="0.80"/><line x1="329.30" y1="284.80" x2="333.10" y2="284.80" stroke="#de95d3" stroke-width="0.80"/><circle cx="331.20" cy="277.30" r="1.60" fill="#c04aa8"/><line x1="345.30" y1="260.30" x2="345.30" y2="276.50" stroke="#de95d3" stroke-width="0.80"/><line x1="343.40" y1="260.30" x2="347.20" y2="260.30" stroke="#de95d3" stroke-width="0.80"/><line x1="343.40" y1="276.50" x2="347.20" y2="276.50" stroke="#de95d3" stroke-width="0.80"/><circle cx="345.30" cy="268.30" r="1.60" fill="#c04aa8"/><line x1="360.40" y1="252.00" x2="360.40" y2="269.80" stroke="#de95d3" stroke-width="0.80"/><line x1="358.50" y1="252.00" x2="362.30" y2="252.00" stroke="#de95d3" stroke-width="0.80"/><line x1="358.50" y1="269.80" x2="362.30" y2="269.80" stroke="#de95d3" stroke-width="0.80"/><circle cx="360.40" cy="261.10" r="1.60" fill="#c04aa8"/><line x1="374.30" y1="245.70" x2="374.30" y2="266.00" stroke="#de95d3" stroke-width="0.80"/><line x1="372.40" y1="245.70" x2="376.20" y2="245.70" stroke="#de95d3" stroke-width="0.80"/><line x1="372.40" y1="266.00" x2="376.20" y2="266.00" stroke="#de95d3" stroke-width="0.80"/><circle cx="374.30" cy="255.80" r="1.60" fill="#c04aa8"/><line x1="389.00" y1="240.00" x2="389.00" y2="260.00" stroke="#de95d3" stroke-width="0.80"/><line x1="387.10" y1="240.00" x2="390.90" y2="240.00" stroke="#de95d3" stroke-width="0.80"/><line x1="387.10" y1="260.00" x2="390.90" y2="260.00" stroke="#de95d3" stroke-width="0.80"/><circle cx="389.00" cy="250.20" r="1.60" fill="#c04aa8"/><line x1="402.90" y1="234.00" x2="402.90" y2="257.00" stroke="#de95d3" stroke-width="0.80"/><line x1="401.00" y1="234.00" x2="404.80" y2="234.00" stroke="#de95d3" stroke-width="0.80"/><line x1="401.00" y1="257.00" x2="404.80" y2="257.00" stroke="#de95d3" stroke-width="0.80"/><circle cx="402.90" cy="245.30" r="1.60" fill="#c04aa8"/><line x1="418.00" y1="225.70" x2="418.00" y2="252.00" stroke="#de95d3" stroke-width="0.80"/><line x1="416.10" y1="225.70" x2="419.90" y2="225.70" stroke="#de95d3" stroke-width="0.80"/><line x1="416.10" y1="252.00" x2="419.90" y2="252.00" stroke="#de95d3" stroke-width="0.80"/><circle cx="418.00" cy="238.90" r="1.60" fill="#c04aa8"/><line x1="432.70" y1="220.00" x2="432.70" y2="248.30" stroke="#de95d3" stroke-width="0.80"/><line x1="430.80" y1="220.00" x2="434.60" y2="220.00" stroke="#de95d3" stroke-width="0.80"/><line x1="430.80" y1="248.30" x2="434.60" y2="248.30" stroke="#de95d3" stroke-width="0.80"/><circle cx="432.70" cy="233.60" r="1.60" fill="#c04aa8"/><line x1="447.00" y1="212.20" x2="447.00" y2="240.60" stroke="#de95d3" stroke-width="0.80"/><line x1="445.10" y1="212.20" x2="448.90" y2="212.20" stroke="#de95d3" stroke-width="0.80"/><line x1="445.10" y1="240.60" x2="448.90" y2="240.60" stroke="#de95d3" stroke-width="0.80"/><circle cx="447.00" cy="226.30" r="1.60" fill="#c04aa8"/><rect x="494.50" y="209.50" width="174.00" height="131.30" fill="none" stroke="#8a8a8a" stroke-width="0.80"/><text x="483.20" y="206.00" font-size="14.80" fill="#111" font-weight="bold" textLength="4.90" lengthAdjust="spacingAndGlyphs" stroke="#111" stroke-width="0.5">f</text><line x1="494.50" y1="313.90" x2="668.50" y2="313.90" stroke="#cfcfcf" stroke-width="0.90" stroke-dasharray="4.5 3"/><line x1="491.50" y1="328.75" x2="494.50" y2="328.75" stroke="#8a8a8a" stroke-width="0.70"/><line x1="491.50" y1="313.90" x2="494.50" y2="313.90" stroke="#8a8a8a" stroke-width="0.70"/><line x1="491.50" y1="299.05" x2="494.50" y2="299.05" stroke="#8a8a8a" stroke-width="0.70"/><line x1="491.50" y1="284.20" x2="494.50" y2="284.20" stroke="#8a8a8a" stroke-width="0.70"/><line x1="491.50" y1="269.35" x2="494.50" y2="269.35" stroke="#8a8a8a" stroke-width="0.70"/><line x1="491.50" y1="254.50" x2="494.50" y2="254.50" stroke="#8a8a8a" stroke-width="0.70"/><line x1="491.50" y1="239.65" x2="494.50" y2="239.65" stroke="#8a8a8a" stroke-width="0.70"/><line x1="491.50" y1="224.80" x2="494.50" y2="224.80" stroke="#8a8a8a" stroke-width="0.70"/><line x1="491.50" y1="209.95" x2="494.50" y2="209.95" stroke="#8a8a8a" stroke-width="0.70"/><line x1="502.20" y1="340.80" x2="502.20" y2="343.00" stroke="#8a8a8a" stroke-width="0.70"/><text x="502.20" y="354.30" font-size="9.70" fill="#3c3c3c" text-anchor="middle" textLength="10.60" lengthAdjust="spacingAndGlyphs">10</text><line x1="525.55" y1="340.80" x2="525.55" y2="343.00" stroke="#8a8a8a" stroke-width="0.70"/><text x="525.55" y="354.30" font-size="9.70" fill="#3c3c3c" text-anchor="middle" textLength="10.60" lengthAdjust="spacingAndGlyphs">20</text><line x1="548.90" y1="340.80" x2="548.90" y2="343.00" stroke="#8a8a8a" stroke-width="0.70"/><text x="548.90" y="354.30" font-size="9.70" fill="#3c3c3c" text-anchor="middle" textLength="10.60" lengthAdjust="spacingAndGlyphs">30</text><line x1="572.25" y1="340.80" x2="572.25" y2="343.00" stroke="#8a8a8a" stroke-width="0.70"/><text x="572.25" y="354.30" font-size="9.70" fill="#3c3c3c" text-anchor="middle" textLength="10.60" lengthAdjust="spacingAndGlyphs">40</text><line x1="595.60" y1="340.80" x2="595.60" y2="343.00" stroke="#8a8a8a" stroke-width="0.70"/><text x="595.60" y="354.30" font-size="9.70" fill="#3c3c3c" text-anchor="middle" textLength="10.60" lengthAdjust="spacingAndGlyphs">50</text><line x1="618.95" y1="340.80" x2="618.95" y2="343.00" stroke="#8a8a8a" stroke-width="0.70"/><text x="618.95" y="354.30" font-size="9.70" fill="#3c3c3c" text-anchor="middle" textLength="10.60" lengthAdjust="spacingAndGlyphs">60</text><line x1="642.30" y1="340.80" x2="642.30" y2="343.00" stroke="#8a8a8a" stroke-width="0.70"/><text x="642.30" y="354.30" font-size="9.70" fill="#3c3c3c" text-anchor="middle" textLength="10.60" lengthAdjust="spacingAndGlyphs">70</text><line x1="665.65" y1="340.80" x2="665.65" y2="343.00" stroke="#8a8a8a" stroke-width="0.70"/><text x="665.65" y="354.30" font-size="9.70" fill="#3c3c3c" text-anchor="middle" textLength="10.60" lengthAdjust="spacingAndGlyphs">80</text><text x="571.20" y="369.60" font-size="10.20" fill="#3c3c3c" font-style="italic">T</text><text x="579.80" y="369.60" font-size="10.20" fill="#3c3c3c" textLength="12.00" lengthAdjust="spacingAndGlyphs">(K)</text><line x1="499.50" y1="215.70" x2="515.50" y2="215.70" stroke="#d884cb" stroke-width="1.50"/><line x1="507.50" y1="212.60" x2="507.50" y2="218.80" stroke="#de95d3" stroke-width="0.80"/><line x1="505.70" y1="212.60" x2="509.30" y2="212.60" stroke="#de95d3" stroke-width="0.80"/><line x1="505.70" y1="218.80" x2="509.30" y2="218.80" stroke="#de95d3" stroke-width="0.80"/><circle cx="507.50" cy="215.7" r="1.45" fill="#c04aa8"/><text x="520.60" y="218.60" font-size="10.60" fill="#c04aa8" font-style="italic">&#963;</text><line x1="499.50" y1="226.50" x2="515.50" y2="226.50" stroke="#86c068" stroke-width="1.50"/><line x1="507.50" y1="223.40" x2="507.50" y2="229.60" stroke="#9ccd84" stroke-width="0.80"/><line x1="505.70" y1="223.40" x2="509.30" y2="223.40" stroke="#9ccd84" stroke-width="0.80"/><line x1="505.70" y1="229.60" x2="509.30" y2="229.60" stroke="#9ccd84" stroke-width="0.80"/><circle cx="507.50" cy="226.5" r="1.45" fill="#5fab3a"/><text x="520.60" y="229.30" font-size="9.80" fill="#5fab3a" font-style="italic" textLength="10.00" lengthAdjust="spacingAndGlyphs">W</text><text x="531.10" y="232.40" font-size="7.00" fill="#5fab3a">0</text><line x1="500.90" y1="242.00" x2="514.50" y2="242.00" stroke="#333" stroke-width="1.40" stroke-dasharray="5.7 2.5"/><text x="520.60" y="244.60" font-size="10.60" fill="#333" font-style="italic">&#963;</text><text x="528.20" y="244.60" font-size="10.00" fill="#333" textLength="58.20" lengthAdjust="spacingAndGlyphs">(mean field)</text><path d="M494.73 267.27 L495.31 267.27 L495.89 267.27 L496.47 267.27 L497.05 267.27 L497.63 267.27 L498.21 267.27 L498.79 267.27 L499.37 267.27 L499.95 267.27 L500.53 267.27 L501.11 267.27 L501.69 267.27 L502.27 267.27 L502.85 267.27 L503.43 267.27 L504.01 267.27 L504.59 267.27 L505.17 267.27 L505.75 267.27 L506.33 267.27 L506.91 267.27 L507.49 267.27 L508.07 267.27 L508.65 267.27 L509.23 267.27 L509.81 267.27 L510.39 267.27 L510.97 267.27 L511.55 267.27 L512.14 267.27 L512.72 267.27 L513.30 267.27 L513.88 267.27 L514.46 267.27 L515.04 267.27 L515.62 267.27 L516.20 267.27 L516.78 267.27 L517.36 267.27 L517.94 267.27 L518.52 267.27 L519.10 267.27 L519.68 267.27 L520.26 267.28 L520.84 267.28 L521.42 267.28 L522.00 267.28 L522.58 267.28 L523.16 267.28 L523.74 267.28 L524.32 267.28 L524.90 267.28 L525.48 267.28 L526.06 267.28 L526.64 267.28 L527.22 267.28 L527.80 267.28 L528.38 267.28 L528.96 267.28 L529.54 267.28 L530.12 267.29 L530.70 267.29 L531.28 267.29 L531.86 267.29 L532.44 267.29 L533.02 267.29 L533.60 267.29 L534.18 267.29 L534.76 267.30 L535.34 267.30 L535.92 267.30 L536.50 267.30 L537.09 267.30 L537.67 267.30 L538.25 267.31 L538.83 267.31 L539.41 267.31 L539.99 267.31 L540.57 267.31 L541.15 267.32 L541.73 267.32 L542.31 267.32 L542.89 267.33 L543.47 267.33 L544.05 267.33 L544.63 267.34 L545.21 267.34 L545.79 267.34 L546.37 267.35 L546.95 267.35 L547.53 267.35 L548.11 267.36 L548.69 267.36 L549.27 267.37 L549.85 267.37 L550.43 267.38 L551.01 267.38 L551.59 267.39 L552.17 267.39 L552.75 267.40 L553.33 267.41 L553.91 267.41 L554.49 267.42 L555.07 267.43 L555.65 267.43 L556.23 267.44 L556.81 267.45 L557.39 267.46 L557.97 267.47 L558.55 267.48 L559.13 267.48 L559.71 267.49 L560.29 267.50 L560.87 267.51 L561.46 267.52 L562.04 267.54 L562.62 267.55 L563.20 267.56 L563.78 267.57 L564.36 267.58 L564.94 267.60 L565.52 267.61 L566.10 267.62 L566.68 267.64 L567.26 267.65 L567.84 267.67 L568.42 267.68 L569.00 267.70 L569.58 267.72 L570.16 267.73 L570.74 267.75 L571.32 267.77 L571.90 267.79 L572.48 267.81 L573.06 267.83 L573.64 267.85 L574.22 267.87 L574.80 267.90 L575.38 267.92 L575.96 267.94 L576.54 267.97 L577.12 267.99 L577.70 268.02 L578.28 268.05 L578.86 268.07 L579.44 268.10 L580.02 268.13 L580.60 268.16 L581.18 268.19 L581.76 268.23 L582.34 268.26 L582.92 268.29 L583.50 268.33 L584.08 268.36 L584.66 268.40 L585.24 268.44 L585.83 268.48 L586.41 268.52 L586.99 268.56 L587.57 268.60 L588.15 268.65 L588.73 268.69 L589.31 268.74 L589.89 268.79 L590.47 268.84 L591.05 268.89 L591.63 268.94 L592.21 268.99 L592.79 269.04 L593.37 269.10 L593.95 269.16 L594.53 269.22 L595.11 269.28 L595.69 269.34 L596.27 269.40 L596.85 269.47 L597.43 269.54 L598.01 269.61 L598.59 269.68 L599.17 269.75 L599.75 269.83 L600.33 269.90 L600.91 269.98 L601.49 270.06 L602.07 270.14 L602.65 270.23 L603.23 270.32 L603.81 270.41 L604.39 270.50 L604.97 270.59 L605.55 270.69 L606.13 270.79 L606.71 270.89 L607.29 270.99 L607.87 271.10 L608.45 271.21 L609.03 271.32 L609.61 271.43 L610.19 271.55 L610.78 271.67 L611.36 271.80 L611.94 271.92 L612.52 272.05 L613.10 272.19 L613.68 272.32 L614.26 272.46 L614.84 272.61 L615.42 272.75 L616.00 272.90 L616.58 273.06 L617.16 273.22 L617.74 273.38 L618.32 273.55 L618.90 273.72 L619.48 273.89 L620.06 274.07 L620.64 274.26 L621.22 274.45 L621.80 274.64 L622.38 274.84 L622.96 275.04 L623.54 275.25 L624.12 275.47 L624.70 275.69 L625.28 275.91 L625.86 276.15 L626.44 276.38 L627.02 276.63 L627.60 276.88 L628.18 277.14 L628.76 277.40 L629.34 277.67 L629.92 277.95 L630.50 278.24 L631.08 278.53 L631.66 278.83 L632.24 279.14 L632.82 279.46 L633.40 279.79 L633.98 280.13 L634.56 280.48 L635.15 280.84 L635.73 281.21 L636.31 281.59 L636.89 281.98 L637.47 282.39 L638.05 282.81 L638.63 283.24 L639.21 283.68 L639.79 284.14 L640.37 284.62 L640.95 285.11 L641.53 285.63 L642.11 286.16 L642.69 286.71 L643.27 287.28 L643.85 287.87 L644.43 288.49 L645.01 289.14 L645.59 289.81 L646.17 290.52 L646.75 291.26 L647.33 292.04 L647.91 292.87 L648.49 293.74 L649.07 294.67 L649.65 295.66 L650.23 296.73 L650.81 297.89 L651.39 299.17 L651.97 300.59 L652.55 302.21 L653.13 304.13 L653.71 306.58 L654.29 310.57 L654.87 313.90 L655.45 313.90 L656.03 313.90 L656.61 313.90 L657.19 313.90 L657.77 313.90 L658.35 313.90 L658.93 313.90 L659.51 313.90 L660.10 313.90 L660.68 313.90 L661.26 313.90 L661.84 313.90 L662.42 313.90 L663.00 313.90 L663.58 313.90 L664.16 313.90 L664.74 313.90 L665.32 313.90 L665.90 313.90 L666.48 313.90 L667.06 313.90 L667.64 313.90 L668.22 313.90" fill="none" stroke="#333" stroke-width="1.30" stroke-linejoin="round" stroke-dasharray="5.2 3.0"/><line x1="497.40" y1="316.20" x2="497.40" y2="327.10" stroke="#9ccd84" stroke-width="0.80"/><line x1="495.50" y1="316.20" x2="499.30" y2="316.20" stroke="#9ccd84" stroke-width="0.80"/><line x1="495.50" y1="327.10" x2="499.30" y2="327.10" stroke="#9ccd84" stroke-width="0.80"/><circle cx="497.40" cy="321.50" r="1.60" fill="#5fab3a"/><line x1="510.50" y1="316.20" x2="510.50" y2="327.10" stroke="#9ccd84" stroke-width="0.80"/><line x1="508.60" y1="316.20" x2="512.40" y2="316.20" stroke="#9ccd84" stroke-width="0.80"/><line x1="508.60" y1="327.10" x2="512.40" y2="327.10" stroke="#9ccd84" stroke-width="0.80"/><circle cx="510.50" cy="321.50" r="1.60" fill="#5fab3a"/><line x1="522.30" y1="315.50" x2="522.30" y2="326.40" stroke="#9ccd84" stroke-width="0.80"/><line x1="520.40" y1="315.50" x2="524.20" y2="315.50" stroke="#9ccd84" stroke-width="0.80"/><line x1="520.40" y1="326.40" x2="524.20" y2="326.40" stroke="#9ccd84" stroke-width="0.80"/><circle cx="522.30" cy="320.80" r="1.60" fill="#5fab3a"/><line x1="533.70" y1="313.80" x2="533.70" y2="323.50" stroke="#9ccd84" stroke-width="0.80"/><line x1="531.80" y1="313.80" x2="535.60" y2="313.80" stroke="#9ccd84" stroke-width="0.80"/><line x1="531.80" y1="323.50" x2="535.60" y2="323.50" stroke="#9ccd84" stroke-width="0.80"/><circle cx="533.70" cy="318.60" r="1.60" fill="#5fab3a"/><line x1="546.50" y1="312.60" x2="546.50" y2="322.30" stroke="#9ccd84" stroke-width="0.80"/><line x1="544.60" y1="312.60" x2="548.40" y2="312.60" stroke="#9ccd84" stroke-width="0.80"/><line x1="544.60" y1="322.30" x2="548.40" y2="322.30" stroke="#9ccd84" stroke-width="0.80"/><circle cx="546.50" cy="317.40" r="1.60" fill="#5fab3a"/><line x1="563.00" y1="311.40" x2="563.00" y2="321.20" stroke="#9ccd84" stroke-width="0.80"/><line x1="561.10" y1="311.40" x2="564.90" y2="311.40" stroke="#9ccd84" stroke-width="0.80"/><line x1="561.10" y1="321.20" x2="564.90" y2="321.20" stroke="#9ccd84" stroke-width="0.80"/><circle cx="563.00" cy="316.20" r="1.60" fill="#5fab3a"/><line x1="572.20" y1="309.60" x2="572.20" y2="319.50" stroke="#9ccd84" stroke-width="0.80"/><line x1="570.30" y1="309.60" x2="574.10" y2="309.60" stroke="#9ccd84" stroke-width="0.80"/><line x1="570.30" y1="319.50" x2="574.10" y2="319.50" stroke="#9ccd84" stroke-width="0.80"/><circle cx="572.20" cy="314.50" r="1.60" fill="#5fab3a"/><line x1="583.60" y1="309.00" x2="583.60" y2="318.60" stroke="#9ccd84" stroke-width="0.80"/><line x1="581.70" y1="309.00" x2="585.50" y2="309.00" stroke="#9ccd84" stroke-width="0.80"/><line x1="581.70" y1="318.60" x2="585.50" y2="318.60" stroke="#9ccd84" stroke-width="0.80"/><circle cx="583.60" cy="313.80" r="1.60" fill="#5fab3a"/><line x1="595.00" y1="310.20" x2="595.00" y2="321.20" stroke="#9ccd84" stroke-width="0.80"/><line x1="593.10" y1="310.20" x2="596.90" y2="310.20" stroke="#9ccd84" stroke-width="0.80"/><line x1="593.10" y1="321.20" x2="596.90" y2="321.20" stroke="#9ccd84" stroke-width="0.80"/><circle cx="595.00" cy="316.20" r="1.60" fill="#5fab3a"/><line x1="607.10" y1="309.00" x2="607.10" y2="318.60" stroke="#9ccd84" stroke-width="0.80"/><line x1="605.20" y1="309.00" x2="609.00" y2="309.00" stroke="#9ccd84" stroke-width="0.80"/><line x1="605.20" y1="318.60" x2="609.00" y2="318.60" stroke="#9ccd84" stroke-width="0.80"/><circle cx="607.10" cy="313.80" r="1.60" fill="#5fab3a"/><line x1="618.20" y1="307.30" x2="618.20" y2="319.80" stroke="#9ccd84" stroke-width="0.80"/><line x1="616.30" y1="307.30" x2="620.10" y2="307.30" stroke="#9ccd84" stroke-width="0.80"/><line x1="616.30" y1="319.80" x2="620.10" y2="319.80" stroke="#9ccd84" stroke-width="0.80"/><circle cx="618.20" cy="313.30" r="1.60" fill="#5fab3a"/><line x1="630.30" y1="306.50" x2="630.30" y2="318.60" stroke="#9ccd84" stroke-width="0.80"/><line x1="628.40" y1="306.50" x2="632.20" y2="306.50" stroke="#9ccd84" stroke-width="0.80"/><line x1="628.40" y1="318.60" x2="632.20" y2="318.60" stroke="#9ccd84" stroke-width="0.80"/><circle cx="630.30" cy="312.60" r="1.60" fill="#5fab3a"/><line x1="642.20" y1="310.20" x2="642.20" y2="322.20" stroke="#9ccd84" stroke-width="0.80"/><line x1="640.30" y1="310.20" x2="644.10" y2="310.20" stroke="#9ccd84" stroke-width="0.80"/><line x1="640.30" y1="322.20" x2="644.10" y2="322.20" stroke="#9ccd84" stroke-width="0.80"/><circle cx="642.20" cy="316.20" r="1.60" fill="#5fab3a"/><line x1="654.30" y1="308.50" x2="654.30" y2="320.20" stroke="#9ccd84" stroke-width="0.80"/><line x1="652.40" y1="308.50" x2="656.20" y2="308.50" stroke="#9ccd84" stroke-width="0.80"/><line x1="652.40" y1="320.20" x2="656.20" y2="320.20" stroke="#9ccd84" stroke-width="0.80"/><circle cx="654.30" cy="314.30" r="1.60" fill="#5fab3a"/><line x1="665.90" y1="303.40" x2="665.90" y2="322.30" stroke="#9ccd84" stroke-width="0.80"/><line x1="664.00" y1="303.40" x2="667.80" y2="303.40" stroke="#9ccd84" stroke-width="0.80"/><line x1="664.00" y1="322.30" x2="667.80" y2="322.30" stroke="#9ccd84" stroke-width="0.80"/><circle cx="665.90" cy="313.30" r="1.60" fill="#5fab3a"/><line x1="497.40" y1="249.20" x2="497.40" y2="264.20" stroke="#de95d3" stroke-width="0.80"/><line x1="495.50" y1="249.20" x2="499.30" y2="249.20" stroke="#de95d3" stroke-width="0.80"/><line x1="495.50" y1="264.20" x2="499.30" y2="264.20" stroke="#de95d3" stroke-width="0.80"/><circle cx="497.40" cy="256.50" r="1.60" fill="#c04aa8"/><line x1="510.50" y1="250.90" x2="510.50" y2="265.40" stroke="#de95d3" stroke-width="0.80"/><line x1="508.60" y1="250.90" x2="512.40" y2="250.90" stroke="#de95d3" stroke-width="0.80"/><line x1="508.60" y1="265.40" x2="512.40" y2="265.40" stroke="#de95d3" stroke-width="0.80"/><circle cx="510.50" cy="258.10" r="1.60" fill="#c04aa8"/><line x1="522.30" y1="249.20" x2="522.30" y2="264.20" stroke="#de95d3" stroke-width="0.80"/><line x1="520.40" y1="249.20" x2="524.20" y2="249.20" stroke="#de95d3" stroke-width="0.80"/><line x1="520.40" y1="264.20" x2="524.20" y2="264.20" stroke="#de95d3" stroke-width="0.80"/><circle cx="522.30" cy="256.50" r="1.60" fill="#c04aa8"/><line x1="533.70" y1="252.10" x2="533.70" y2="270.20" stroke="#de95d3" stroke-width="0.80"/><line x1="531.80" y1="252.10" x2="535.60" y2="252.10" stroke="#de95d3" stroke-width="0.80"/><line x1="531.80" y1="270.20" x2="535.60" y2="270.20" stroke="#de95d3" stroke-width="0.80"/><circle cx="533.70" cy="261.00" r="1.60" fill="#c04aa8"/><line x1="546.50" y1="255.20" x2="546.50" y2="273.90" stroke="#de95d3" stroke-width="0.80"/><line x1="544.60" y1="255.20" x2="548.40" y2="255.20" stroke="#de95d3" stroke-width="0.80"/><line x1="544.60" y1="273.90" x2="548.40" y2="273.90" stroke="#de95d3" stroke-width="0.80"/><circle cx="546.50" cy="264.70" r="1.60" fill="#c04aa8"/><line x1="563.00" y1="255.20" x2="563.00" y2="276.30" stroke="#de95d3" stroke-width="0.80"/><line x1="561.10" y1="255.20" x2="564.90" y2="255.20" stroke="#de95d3" stroke-width="0.80"/><line x1="561.10" y1="276.30" x2="564.90" y2="276.30" stroke="#de95d3" stroke-width="0.80"/><circle cx="563.00" cy="265.90" r="1.60" fill="#c04aa8"/><line x1="572.20" y1="257.00" x2="572.20" y2="280.60" stroke="#de95d3" stroke-width="0.80"/><line x1="570.30" y1="257.00" x2="574.10" y2="257.00" stroke="#de95d3" stroke-width="0.80"/><line x1="570.30" y1="280.60" x2="574.10" y2="280.60" stroke="#de95d3" stroke-width="0.80"/><circle cx="572.20" cy="269.00" r="1.60" fill="#c04aa8"/><line x1="583.60" y1="262.30" x2="583.60" y2="281.10" stroke="#de95d3" stroke-width="0.80"/><line x1="581.70" y1="262.30" x2="585.50" y2="262.30" stroke="#de95d3" stroke-width="0.80"/><line x1="581.70" y1="281.10" x2="585.50" y2="281.10" stroke="#de95d3" stroke-width="0.80"/><circle cx="583.60" cy="271.50" r="1.60" fill="#c04aa8"/><line x1="595.00" y1="252.10" x2="595.00" y2="273.40" stroke="#de95d3" stroke-width="0.80"/><line x1="593.10" y1="252.10" x2="596.90" y2="252.10" stroke="#de95d3" stroke-width="0.80"/><line x1="593.10" y1="273.40" x2="596.90" y2="273.40" stroke="#de95d3" stroke-width="0.80"/><circle cx="595.00" cy="263.00" r="1.60" fill="#c04aa8"/><line x1="607.10" y1="260.60" x2="607.10" y2="297.30" stroke="#de95d3" stroke-width="0.80"/><line x1="605.20" y1="260.60" x2="609.00" y2="260.60" stroke="#de95d3" stroke-width="0.80"/><line x1="605.20" y1="297.30" x2="609.00" y2="297.30" stroke="#de95d3" stroke-width="0.80"/><circle cx="607.10" cy="278.70" r="1.60" fill="#c04aa8"/><line x1="618.20" y1="258.90" x2="618.20" y2="313.80" stroke="#de95d3" stroke-width="0.80"/><line x1="616.30" y1="258.90" x2="620.10" y2="258.90" stroke="#de95d3" stroke-width="0.80"/><line x1="616.30" y1="313.80" x2="620.10" y2="313.80" stroke="#de95d3" stroke-width="0.80"/><circle cx="618.20" cy="286.50" r="1.60" fill="#c04aa8"/><line x1="630.30" y1="267.80" x2="630.30" y2="313.80" stroke="#de95d3" stroke-width="0.80"/><line x1="628.40" y1="267.80" x2="632.20" y2="267.80" stroke="#de95d3" stroke-width="0.80"/><line x1="628.40" y1="313.80" x2="632.20" y2="313.80" stroke="#de95d3" stroke-width="0.80"/><circle cx="630.30" cy="290.80" r="1.60" fill="#c04aa8"/><line x1="642.20" y1="259.80" x2="642.20" y2="313.80" stroke="#de95d3" stroke-width="0.80"/><line x1="640.30" y1="259.80" x2="644.10" y2="259.80" stroke="#de95d3" stroke-width="0.80"/><line x1="640.30" y1="313.80" x2="644.10" y2="313.80" stroke="#de95d3" stroke-width="0.80"/><circle cx="642.20" cy="287.20" r="1.60" fill="#c04aa8"/><line x1="654.30" y1="278.20" x2="654.30" y2="314.30" stroke="#de95d3" stroke-width="0.80"/><line x1="652.40" y1="278.20" x2="656.20" y2="278.20" stroke="#de95d3" stroke-width="0.80"/><line x1="652.40" y1="314.30" x2="656.20" y2="314.30" stroke="#de95d3" stroke-width="0.80"/><circle cx="654.30" cy="314.30" r="1.60" fill="#c04aa8"/><line x1="665.90" y1="278.20" x2="665.90" y2="314.30" stroke="#de95d3" stroke-width="0.80"/><line x1="664.00" y1="278.20" x2="667.80" y2="278.20" stroke="#de95d3" stroke-width="0.80"/><line x1="664.00" y1="314.30" x2="667.80" y2="314.30" stroke="#de95d3" stroke-width="0.80"/><circle cx="665.90" cy="314.30" r="1.60" fill="#c04aa8"/></svg>
</body></html>
